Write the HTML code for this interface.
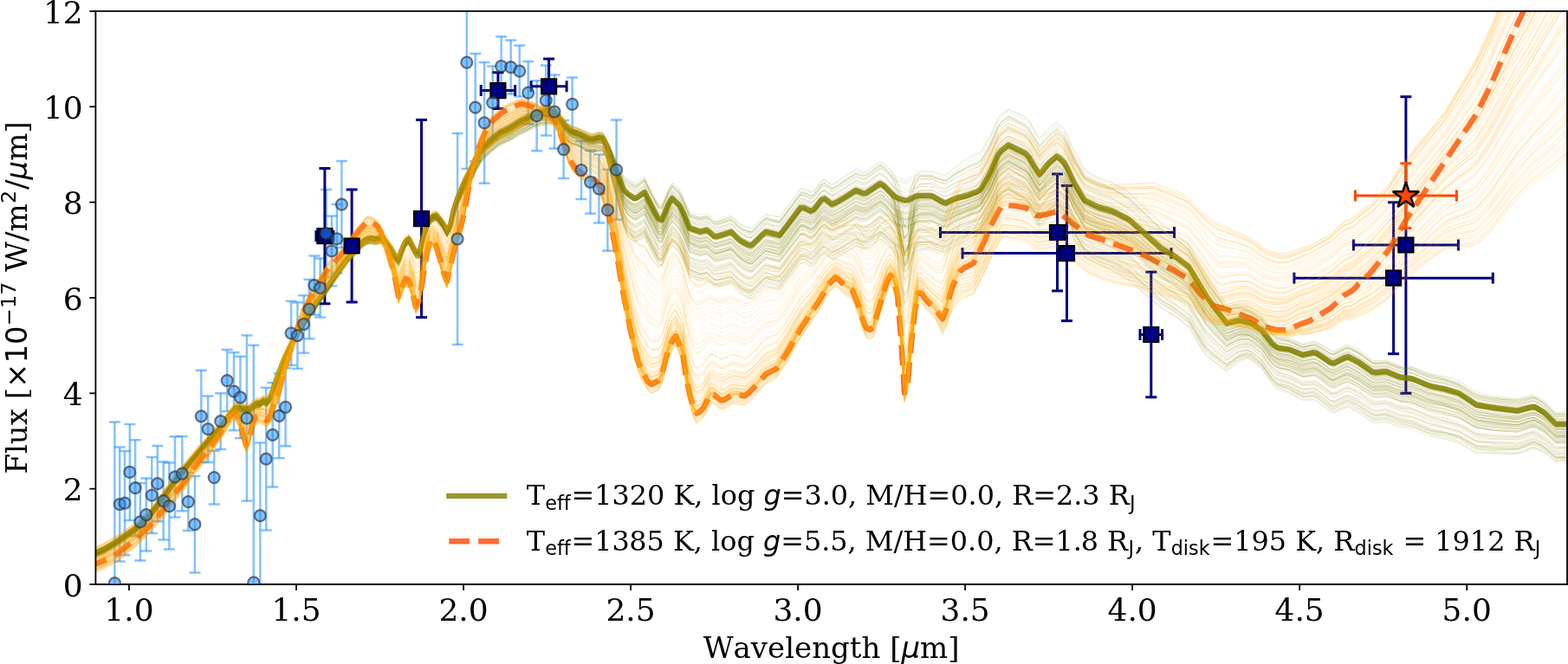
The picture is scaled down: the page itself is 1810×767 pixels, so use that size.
<!DOCTYPE html>
<html><head><meta charset="utf-8"><title>SED plot</title>
<style>html,body{margin:0;padding:0;background:#fff;overflow:hidden}svg{display:block}</style>
</head><body>
<svg width="1810px" height="767px" viewBox="0 0 1810 767" version="1.1"><defs><style type="text/css">*{stroke-linejoin: round; stroke-linecap: butt}</style></defs><g id="figure_1"><g id="patch_1"><path d="M0 767L1810 767L1810 0L0 0z" style="fill: #ffffff"/></g><g id="axes_1"><g id="patch_2"><path d="M110.4 675L1809 675L1809 12.9L110.4 12.9z" style="fill: #ffffff"/></g><g id="LineCollection_1"><path d="M132.4 768L132.4 487.4" clip-path="url(#p7e7c0ee483)" style="fill: none; stroke: #1f8fff; stroke-opacity: 0.55; stroke-width: 2.5"/><path d="M138.2 648.4L138.2 516.6" clip-path="url(#p7e7c0ee483)" style="fill: none; stroke: #1f8fff; stroke-opacity: 0.55; stroke-width: 2.5"/><path d="M144 641.3L144 520.9" clip-path="url(#p7e7c0ee483)" style="fill: none; stroke: #1f8fff; stroke-opacity: 0.55; stroke-width: 2.5"/><path d="M149.8 600.9L149.8 489.9" clip-path="url(#p7e7c0ee483)" style="fill: none; stroke: #1f8fff; stroke-opacity: 0.55; stroke-width: 2.5"/><path d="M156.1 619.2L156.1 508.2" clip-path="url(#p7e7c0ee483)" style="fill: none; stroke: #1f8fff; stroke-opacity: 0.55; stroke-width: 2.5"/><path d="M161.9 647.6L161.9 558" clip-path="url(#p7e7c0ee483)" style="fill: none; stroke: #1f8fff; stroke-opacity: 0.55; stroke-width: 2.5"/><path d="M168.8 636.6L168.8 552.6" clip-path="url(#p7e7c0ee483)" style="fill: none; stroke: #1f8fff; stroke-opacity: 0.55; stroke-width: 2.5"/><path d="M175.3 616.1L175.3 528.1" clip-path="url(#p7e7c0ee483)" style="fill: none; stroke: #1f8fff; stroke-opacity: 0.55; stroke-width: 2.5"/><path d="M181.8 602.3L181.8 515.1" clip-path="url(#p7e7c0ee483)" style="fill: none; stroke: #1f8fff; stroke-opacity: 0.55; stroke-width: 2.5"/><path d="M188.7 623.6L188.7 533.6" clip-path="url(#p7e7c0ee483)" style="fill: none; stroke: #1f8fff; stroke-opacity: 0.55; stroke-width: 2.5"/><path d="M195.4 634.6L195.4 534.6" clip-path="url(#p7e7c0ee483)" style="fill: none; stroke: #1f8fff; stroke-opacity: 0.55; stroke-width: 2.5"/><path d="M202 597.6L202 504.2" clip-path="url(#p7e7c0ee483)" style="fill: none; stroke: #1f8fff; stroke-opacity: 0.55; stroke-width: 2.5"/><path d="M210.3 590.2L210.3 504" clip-path="url(#p7e7c0ee483)" style="fill: none; stroke: #1f8fff; stroke-opacity: 0.55; stroke-width: 2.5"/><path d="M217.4 613.1L217.4 546.1" clip-path="url(#p7e7c0ee483)" style="fill: none; stroke: #1f8fff; stroke-opacity: 0.55; stroke-width: 2.5"/><path d="M224.9 661.5L224.9 549.9" clip-path="url(#p7e7c0ee483)" style="fill: none; stroke: #1f8fff; stroke-opacity: 0.55; stroke-width: 2.5"/><path d="M232.3 533.9L232.3 427.7" clip-path="url(#p7e7c0ee483)" style="fill: none; stroke: #1f8fff; stroke-opacity: 0.55; stroke-width: 2.5"/><path d="M240.1 534L240.1 457.4" clip-path="url(#p7e7c0ee483)" style="fill: none; stroke: #1f8fff; stroke-opacity: 0.55; stroke-width: 2.5"/><path d="M247.2 582.5L247.2 520.7" clip-path="url(#p7e7c0ee483)" style="fill: none; stroke: #1f8fff; stroke-opacity: 0.55; stroke-width: 2.5"/><path d="M254.7 519L254.7 454.2" clip-path="url(#p7e7c0ee483)" style="fill: none; stroke: #1f8fff; stroke-opacity: 0.55; stroke-width: 2.5"/><path d="M262.2 475.2L262.2 404" clip-path="url(#p7e7c0ee483)" style="fill: none; stroke: #1f8fff; stroke-opacity: 0.55; stroke-width: 2.5"/><path d="M270 497.1L270 407.1" clip-path="url(#p7e7c0ee483)" style="fill: none; stroke: #1f8fff; stroke-opacity: 0.55; stroke-width: 2.5"/><path d="M277.4 506.2L277.4 411.8" clip-path="url(#p7e7c0ee483)" style="fill: none; stroke: #1f8fff; stroke-opacity: 0.55; stroke-width: 2.5"/><path d="M284.9 578.6L284.9 387.4" clip-path="url(#p7e7c0ee483)" style="fill: none; stroke: #1f8fff; stroke-opacity: 0.55; stroke-width: 2.5"/><path d="M292.8 768L292.8 398.8" clip-path="url(#p7e7c0ee483)" style="fill: none; stroke: #1f8fff; stroke-opacity: 0.55; stroke-width: 2.5"/><path d="M300.3 679.9L300.3 511.5" clip-path="url(#p7e7c0ee483)" style="fill: none; stroke: #1f8fff; stroke-opacity: 0.55; stroke-width: 2.5"/><path d="M307.2 612.5L307.2 447.9" clip-path="url(#p7e7c0ee483)" style="fill: none; stroke: #1f8fff; stroke-opacity: 0.55; stroke-width: 2.5"/><path d="M314.7 562.5L314.7 442.1" clip-path="url(#p7e7c0ee483)" style="fill: none; stroke: #1f8fff; stroke-opacity: 0.55; stroke-width: 2.5"/><path d="M322.2 529.2L322.2 431.4" clip-path="url(#p7e7c0ee483)" style="fill: none; stroke: #1f8fff; stroke-opacity: 0.55; stroke-width: 2.5"/><path d="M329.6 515.3L329.6 425.3" clip-path="url(#p7e7c0ee483)" style="fill: none; stroke: #1f8fff; stroke-opacity: 0.55; stroke-width: 2.5"/><path d="M336.1 422L336.1 347.8" clip-path="url(#p7e7c0ee483)" style="fill: none; stroke: #1f8fff; stroke-opacity: 0.55; stroke-width: 2.5"/><path d="M343.4 425.9L343.4 349.3" clip-path="url(#p7e7c0ee483)" style="fill: none; stroke: #1f8fff; stroke-opacity: 0.55; stroke-width: 2.5"/><path d="M350.7 407.7L350.7 341.3" clip-path="url(#p7e7c0ee483)" style="fill: none; stroke: #1f8fff; stroke-opacity: 0.55; stroke-width: 2.5"/><path d="M357 391.3L357 322.9" clip-path="url(#p7e7c0ee483)" style="fill: none; stroke: #1f8fff; stroke-opacity: 0.55; stroke-width: 2.5"/><path d="M362.9 363.7L362.9 295.5" clip-path="url(#p7e7c0ee483)" style="fill: none; stroke: #1f8fff; stroke-opacity: 0.55; stroke-width: 2.5"/><path d="M369.6 366.5L369.6 298.5" clip-path="url(#p7e7c0ee483)" style="fill: none; stroke: #1f8fff; stroke-opacity: 0.55; stroke-width: 2.5"/><path d="M376.5 320.1L376.5 218.9" clip-path="url(#p7e7c0ee483)" style="fill: none; stroke: #1f8fff; stroke-opacity: 0.55; stroke-width: 2.5"/><path d="M382.9 330.4L382.9 249.4" clip-path="url(#p7e7c0ee483)" style="fill: none; stroke: #1f8fff; stroke-opacity: 0.55; stroke-width: 2.5"/><path d="M388.9 315.5L388.9 236.1" clip-path="url(#p7e7c0ee483)" style="fill: none; stroke: #1f8fff; stroke-opacity: 0.55; stroke-width: 2.5"/><path d="M394.4 286.1L394.4 186.1" clip-path="url(#p7e7c0ee483)" style="fill: none; stroke: #1f8fff; stroke-opacity: 0.55; stroke-width: 2.5"/><path d="M528.1 398L528.1 154" clip-path="url(#p7e7c0ee483)" style="fill: none; stroke: #1f8fff; stroke-opacity: 0.55; stroke-width: 2.5"/><path d="M538.8 195.1L538.8 -1" clip-path="url(#p7e7c0ee483)" style="fill: none; stroke: #1f8fff; stroke-opacity: 0.55; stroke-width: 2.5"/><path d="M548.7 186.3L548.7 62.1" clip-path="url(#p7e7c0ee483)" style="fill: none; stroke: #1f8fff; stroke-opacity: 0.55; stroke-width: 2.5"/><path d="M559.1 211.7L559.1 72.1" clip-path="url(#p7e7c0ee483)" style="fill: none; stroke: #1f8fff; stroke-opacity: 0.55; stroke-width: 2.5"/><path d="M568.7 160.7L568.7 76.5" clip-path="url(#p7e7c0ee483)" style="fill: none; stroke: #1f8fff; stroke-opacity: 0.55; stroke-width: 2.5"/><path d="M578.6 110.8L578.6 42.2" clip-path="url(#p7e7c0ee483)" style="fill: none; stroke: #1f8fff; stroke-opacity: 0.55; stroke-width: 2.5"/><path d="M589.7 108.6L589.7 46.6" clip-path="url(#p7e7c0ee483)" style="fill: none; stroke: #1f8fff; stroke-opacity: 0.55; stroke-width: 2.5"/><path d="M599.7 111.6L599.7 52.6" clip-path="url(#p7e7c0ee483)" style="fill: none; stroke: #1f8fff; stroke-opacity: 0.55; stroke-width: 2.5"/><path d="M609.7 143.2L609.7 71" clip-path="url(#p7e7c0ee483)" style="fill: none; stroke: #1f8fff; stroke-opacity: 0.55; stroke-width: 2.5"/><path d="M619.6 174.2L619.6 93.2" clip-path="url(#p7e7c0ee483)" style="fill: none; stroke: #1f8fff; stroke-opacity: 0.55; stroke-width: 2.5"/><path d="M630.3 156.5L630.3 75.5" clip-path="url(#p7e7c0ee483)" style="fill: none; stroke: #1f8fff; stroke-opacity: 0.55; stroke-width: 2.5"/><path d="M640 171.5L640 86.5" clip-path="url(#p7e7c0ee483)" style="fill: none; stroke: #1f8fff; stroke-opacity: 0.55; stroke-width: 2.5"/><path d="M650.6 206.1L650.6 139.1" clip-path="url(#p7e7c0ee483)" style="fill: none; stroke: #1f8fff; stroke-opacity: 0.55; stroke-width: 2.5"/><path d="M660.6 151.4L660.6 89.4" clip-path="url(#p7e7c0ee483)" style="fill: none; stroke: #1f8fff; stroke-opacity: 0.55; stroke-width: 2.5"/><path d="M671 230L671 163" clip-path="url(#p7e7c0ee483)" style="fill: none; stroke: #1f8fff; stroke-opacity: 0.55; stroke-width: 2.5"/><path d="M681.5 246.7L681.5 173.9" clip-path="url(#p7e7c0ee483)" style="fill: none; stroke: #1f8fff; stroke-opacity: 0.55; stroke-width: 2.5"/><path d="M691.4 257.5L691.4 178.5" clip-path="url(#p7e7c0ee483)" style="fill: none; stroke: #1f8fff; stroke-opacity: 0.55; stroke-width: 2.5"/><path d="M701.4 289.7L701.4 195.7" clip-path="url(#p7e7c0ee483)" style="fill: none; stroke: #1f8fff; stroke-opacity: 0.55; stroke-width: 2.5"/><path d="M711.6 253.8L711.6 138.4" clip-path="url(#p7e7c0ee483)" style="fill: none; stroke: #1f8fff; stroke-opacity: 0.55; stroke-width: 2.5"/></g><g id="line2d_1"><defs><path id="m16e5c6f021" d="M6.5 0L-6.5 -0" style="stroke: #1f8fff; stroke-opacity: 0.55; stroke-width: 2.5"/></defs><g clip-path="url(#p7e7c0ee483)"><use href="#m16e5c6f021" x="132.4" y="859.8" style="fill: #1f77b4; stroke: #1f8fff; stroke-opacity: 0.55; stroke-width: 2.5"/><use href="#m16e5c6f021" x="138.2" y="648.4" style="fill: #1f77b4; stroke: #1f8fff; stroke-opacity: 0.55; stroke-width: 2.5"/><use href="#m16e5c6f021" x="144" y="641.3" style="fill: #1f77b4; stroke: #1f8fff; stroke-opacity: 0.55; stroke-width: 2.5"/><use href="#m16e5c6f021" x="149.8" y="600.9" style="fill: #1f77b4; stroke: #1f8fff; stroke-opacity: 0.55; stroke-width: 2.5"/><use href="#m16e5c6f021" x="156.1" y="619.2" style="fill: #1f77b4; stroke: #1f8fff; stroke-opacity: 0.55; stroke-width: 2.5"/><use href="#m16e5c6f021" x="161.9" y="647.6" style="fill: #1f77b4; stroke: #1f8fff; stroke-opacity: 0.55; stroke-width: 2.5"/><use href="#m16e5c6f021" x="168.8" y="636.6" style="fill: #1f77b4; stroke: #1f8fff; stroke-opacity: 0.55; stroke-width: 2.5"/><use href="#m16e5c6f021" x="175.3" y="616.1" style="fill: #1f77b4; stroke: #1f8fff; stroke-opacity: 0.55; stroke-width: 2.5"/><use href="#m16e5c6f021" x="181.8" y="602.3" style="fill: #1f77b4; stroke: #1f8fff; stroke-opacity: 0.55; stroke-width: 2.5"/><use href="#m16e5c6f021" x="188.7" y="623.6" style="fill: #1f77b4; stroke: #1f8fff; stroke-opacity: 0.55; stroke-width: 2.5"/><use href="#m16e5c6f021" x="195.4" y="634.6" style="fill: #1f77b4; stroke: #1f8fff; stroke-opacity: 0.55; stroke-width: 2.5"/><use href="#m16e5c6f021" x="202" y="597.6" style="fill: #1f77b4; stroke: #1f8fff; stroke-opacity: 0.55; stroke-width: 2.5"/><use href="#m16e5c6f021" x="210.3" y="590.2" style="fill: #1f77b4; stroke: #1f8fff; stroke-opacity: 0.55; stroke-width: 2.5"/><use href="#m16e5c6f021" x="217.4" y="613.1" style="fill: #1f77b4; stroke: #1f8fff; stroke-opacity: 0.55; stroke-width: 2.5"/><use href="#m16e5c6f021" x="224.9" y="661.5" style="fill: #1f77b4; stroke: #1f8fff; stroke-opacity: 0.55; stroke-width: 2.5"/><use href="#m16e5c6f021" x="232.3" y="533.9" style="fill: #1f77b4; stroke: #1f8fff; stroke-opacity: 0.55; stroke-width: 2.5"/><use href="#m16e5c6f021" x="240.1" y="534" style="fill: #1f77b4; stroke: #1f8fff; stroke-opacity: 0.55; stroke-width: 2.5"/><use href="#m16e5c6f021" x="247.2" y="582.5" style="fill: #1f77b4; stroke: #1f8fff; stroke-opacity: 0.55; stroke-width: 2.5"/><use href="#m16e5c6f021" x="254.7" y="519" style="fill: #1f77b4; stroke: #1f8fff; stroke-opacity: 0.55; stroke-width: 2.5"/><use href="#m16e5c6f021" x="262.2" y="475.2" style="fill: #1f77b4; stroke: #1f8fff; stroke-opacity: 0.55; stroke-width: 2.5"/><use href="#m16e5c6f021" x="270" y="497.1" style="fill: #1f77b4; stroke: #1f8fff; stroke-opacity: 0.55; stroke-width: 2.5"/><use href="#m16e5c6f021" x="277.4" y="506.2" style="fill: #1f77b4; stroke: #1f8fff; stroke-opacity: 0.55; stroke-width: 2.5"/><use href="#m16e5c6f021" x="284.9" y="578.6" style="fill: #1f77b4; stroke: #1f8fff; stroke-opacity: 0.55; stroke-width: 2.5"/><use href="#m16e5c6f021" x="292.8" y="946.8" style="fill: #1f77b4; stroke: #1f8fff; stroke-opacity: 0.55; stroke-width: 2.5"/><use href="#m16e5c6f021" x="300.3" y="679.9" style="fill: #1f77b4; stroke: #1f8fff; stroke-opacity: 0.55; stroke-width: 2.5"/><use href="#m16e5c6f021" x="307.2" y="612.5" style="fill: #1f77b4; stroke: #1f8fff; stroke-opacity: 0.55; stroke-width: 2.5"/><use href="#m16e5c6f021" x="314.7" y="562.5" style="fill: #1f77b4; stroke: #1f8fff; stroke-opacity: 0.55; stroke-width: 2.5"/><use href="#m16e5c6f021" x="322.2" y="529.2" style="fill: #1f77b4; stroke: #1f8fff; stroke-opacity: 0.55; stroke-width: 2.5"/><use href="#m16e5c6f021" x="329.6" y="515.3" style="fill: #1f77b4; stroke: #1f8fff; stroke-opacity: 0.55; stroke-width: 2.5"/><use href="#m16e5c6f021" x="336.1" y="422" style="fill: #1f77b4; stroke: #1f8fff; stroke-opacity: 0.55; stroke-width: 2.5"/><use href="#m16e5c6f021" x="343.4" y="425.9" style="fill: #1f77b4; stroke: #1f8fff; stroke-opacity: 0.55; stroke-width: 2.5"/><use href="#m16e5c6f021" x="350.7" y="407.7" style="fill: #1f77b4; stroke: #1f8fff; stroke-opacity: 0.55; stroke-width: 2.5"/><use href="#m16e5c6f021" x="357" y="391.3" style="fill: #1f77b4; stroke: #1f8fff; stroke-opacity: 0.55; stroke-width: 2.5"/><use href="#m16e5c6f021" x="362.9" y="363.7" style="fill: #1f77b4; stroke: #1f8fff; stroke-opacity: 0.55; stroke-width: 2.5"/><use href="#m16e5c6f021" x="369.6" y="366.5" style="fill: #1f77b4; stroke: #1f8fff; stroke-opacity: 0.55; stroke-width: 2.5"/><use href="#m16e5c6f021" x="376.5" y="320.1" style="fill: #1f77b4; stroke: #1f8fff; stroke-opacity: 0.55; stroke-width: 2.5"/><use href="#m16e5c6f021" x="382.9" y="330.4" style="fill: #1f77b4; stroke: #1f8fff; stroke-opacity: 0.55; stroke-width: 2.5"/><use href="#m16e5c6f021" x="388.9" y="315.5" style="fill: #1f77b4; stroke: #1f8fff; stroke-opacity: 0.55; stroke-width: 2.5"/><use href="#m16e5c6f021" x="394.4" y="286.1" style="fill: #1f77b4; stroke: #1f8fff; stroke-opacity: 0.55; stroke-width: 2.5"/><use href="#m16e5c6f021" x="528.1" y="398" style="fill: #1f77b4; stroke: #1f8fff; stroke-opacity: 0.55; stroke-width: 2.5"/><use href="#m16e5c6f021" x="538.8" y="195.1" style="fill: #1f77b4; stroke: #1f8fff; stroke-opacity: 0.55; stroke-width: 2.5"/><use href="#m16e5c6f021" x="548.7" y="186.3" style="fill: #1f77b4; stroke: #1f8fff; stroke-opacity: 0.55; stroke-width: 2.5"/><use href="#m16e5c6f021" x="559.1" y="211.7" style="fill: #1f77b4; stroke: #1f8fff; stroke-opacity: 0.55; stroke-width: 2.5"/><use href="#m16e5c6f021" x="568.7" y="160.7" style="fill: #1f77b4; stroke: #1f8fff; stroke-opacity: 0.55; stroke-width: 2.5"/><use href="#m16e5c6f021" x="578.6" y="110.8" style="fill: #1f77b4; stroke: #1f8fff; stroke-opacity: 0.55; stroke-width: 2.5"/><use href="#m16e5c6f021" x="589.7" y="108.6" style="fill: #1f77b4; stroke: #1f8fff; stroke-opacity: 0.55; stroke-width: 2.5"/><use href="#m16e5c6f021" x="599.7" y="111.6" style="fill: #1f77b4; stroke: #1f8fff; stroke-opacity: 0.55; stroke-width: 2.5"/><use href="#m16e5c6f021" x="609.7" y="143.2" style="fill: #1f77b4; stroke: #1f8fff; stroke-opacity: 0.55; stroke-width: 2.5"/><use href="#m16e5c6f021" x="619.6" y="174.2" style="fill: #1f77b4; stroke: #1f8fff; stroke-opacity: 0.55; stroke-width: 2.5"/><use href="#m16e5c6f021" x="630.3" y="156.5" style="fill: #1f77b4; stroke: #1f8fff; stroke-opacity: 0.55; stroke-width: 2.5"/><use href="#m16e5c6f021" x="640" y="171.5" style="fill: #1f77b4; stroke: #1f8fff; stroke-opacity: 0.55; stroke-width: 2.5"/><use href="#m16e5c6f021" x="650.6" y="206.1" style="fill: #1f77b4; stroke: #1f8fff; stroke-opacity: 0.55; stroke-width: 2.5"/><use href="#m16e5c6f021" x="660.6" y="151.4" style="fill: #1f77b4; stroke: #1f8fff; stroke-opacity: 0.55; stroke-width: 2.5"/><use href="#m16e5c6f021" x="671" y="230" style="fill: #1f77b4; stroke: #1f8fff; stroke-opacity: 0.55; stroke-width: 2.5"/><use href="#m16e5c6f021" x="681.5" y="246.7" style="fill: #1f77b4; stroke: #1f8fff; stroke-opacity: 0.55; stroke-width: 2.5"/><use href="#m16e5c6f021" x="691.4" y="257.5" style="fill: #1f77b4; stroke: #1f8fff; stroke-opacity: 0.55; stroke-width: 2.5"/><use href="#m16e5c6f021" x="701.4" y="289.7" style="fill: #1f77b4; stroke: #1f8fff; stroke-opacity: 0.55; stroke-width: 2.5"/><use href="#m16e5c6f021" x="711.6" y="253.8" style="fill: #1f77b4; stroke: #1f8fff; stroke-opacity: 0.55; stroke-width: 2.5"/></g></g><g id="line2d_2"><g clip-path="url(#p7e7c0ee483)"><use href="#m16e5c6f021" x="132.4" y="487.4" style="fill: #1f77b4; stroke: #1f8fff; stroke-opacity: 0.55; stroke-width: 2.5"/><use href="#m16e5c6f021" x="138.2" y="516.6" style="fill: #1f77b4; stroke: #1f8fff; stroke-opacity: 0.55; stroke-width: 2.5"/><use href="#m16e5c6f021" x="144" y="520.9" style="fill: #1f77b4; stroke: #1f8fff; stroke-opacity: 0.55; stroke-width: 2.5"/><use href="#m16e5c6f021" x="149.8" y="489.9" style="fill: #1f77b4; stroke: #1f8fff; stroke-opacity: 0.55; stroke-width: 2.5"/><use href="#m16e5c6f021" x="156.1" y="508.2" style="fill: #1f77b4; stroke: #1f8fff; stroke-opacity: 0.55; stroke-width: 2.5"/><use href="#m16e5c6f021" x="161.9" y="558" style="fill: #1f77b4; stroke: #1f8fff; stroke-opacity: 0.55; stroke-width: 2.5"/><use href="#m16e5c6f021" x="168.8" y="552.6" style="fill: #1f77b4; stroke: #1f8fff; stroke-opacity: 0.55; stroke-width: 2.5"/><use href="#m16e5c6f021" x="175.3" y="528.1" style="fill: #1f77b4; stroke: #1f8fff; stroke-opacity: 0.55; stroke-width: 2.5"/><use href="#m16e5c6f021" x="181.8" y="515.1" style="fill: #1f77b4; stroke: #1f8fff; stroke-opacity: 0.55; stroke-width: 2.5"/><use href="#m16e5c6f021" x="188.7" y="533.6" style="fill: #1f77b4; stroke: #1f8fff; stroke-opacity: 0.55; stroke-width: 2.5"/><use href="#m16e5c6f021" x="195.4" y="534.6" style="fill: #1f77b4; stroke: #1f8fff; stroke-opacity: 0.55; stroke-width: 2.5"/><use href="#m16e5c6f021" x="202" y="504.2" style="fill: #1f77b4; stroke: #1f8fff; stroke-opacity: 0.55; stroke-width: 2.5"/><use href="#m16e5c6f021" x="210.3" y="504" style="fill: #1f77b4; stroke: #1f8fff; stroke-opacity: 0.55; stroke-width: 2.5"/><use href="#m16e5c6f021" x="217.4" y="546.1" style="fill: #1f77b4; stroke: #1f8fff; stroke-opacity: 0.55; stroke-width: 2.5"/><use href="#m16e5c6f021" x="224.9" y="549.9" style="fill: #1f77b4; stroke: #1f8fff; stroke-opacity: 0.55; stroke-width: 2.5"/><use href="#m16e5c6f021" x="232.3" y="427.7" style="fill: #1f77b4; stroke: #1f8fff; stroke-opacity: 0.55; stroke-width: 2.5"/><use href="#m16e5c6f021" x="240.1" y="457.4" style="fill: #1f77b4; stroke: #1f8fff; stroke-opacity: 0.55; stroke-width: 2.5"/><use href="#m16e5c6f021" x="247.2" y="520.7" style="fill: #1f77b4; stroke: #1f8fff; stroke-opacity: 0.55; stroke-width: 2.5"/><use href="#m16e5c6f021" x="254.7" y="454.2" style="fill: #1f77b4; stroke: #1f8fff; stroke-opacity: 0.55; stroke-width: 2.5"/><use href="#m16e5c6f021" x="262.2" y="404" style="fill: #1f77b4; stroke: #1f8fff; stroke-opacity: 0.55; stroke-width: 2.5"/><use href="#m16e5c6f021" x="270" y="407.1" style="fill: #1f77b4; stroke: #1f8fff; stroke-opacity: 0.55; stroke-width: 2.5"/><use href="#m16e5c6f021" x="277.4" y="411.8" style="fill: #1f77b4; stroke: #1f8fff; stroke-opacity: 0.55; stroke-width: 2.5"/><use href="#m16e5c6f021" x="284.9" y="387.4" style="fill: #1f77b4; stroke: #1f8fff; stroke-opacity: 0.55; stroke-width: 2.5"/><use href="#m16e5c6f021" x="292.8" y="398.8" style="fill: #1f77b4; stroke: #1f8fff; stroke-opacity: 0.55; stroke-width: 2.5"/><use href="#m16e5c6f021" x="300.3" y="511.5" style="fill: #1f77b4; stroke: #1f8fff; stroke-opacity: 0.55; stroke-width: 2.5"/><use href="#m16e5c6f021" x="307.2" y="447.9" style="fill: #1f77b4; stroke: #1f8fff; stroke-opacity: 0.55; stroke-width: 2.5"/><use href="#m16e5c6f021" x="314.7" y="442.1" style="fill: #1f77b4; stroke: #1f8fff; stroke-opacity: 0.55; stroke-width: 2.5"/><use href="#m16e5c6f021" x="322.2" y="431.4" style="fill: #1f77b4; stroke: #1f8fff; stroke-opacity: 0.55; stroke-width: 2.5"/><use href="#m16e5c6f021" x="329.6" y="425.3" style="fill: #1f77b4; stroke: #1f8fff; stroke-opacity: 0.55; stroke-width: 2.5"/><use href="#m16e5c6f021" x="336.1" y="347.8" style="fill: #1f77b4; stroke: #1f8fff; stroke-opacity: 0.55; stroke-width: 2.5"/><use href="#m16e5c6f021" x="343.4" y="349.3" style="fill: #1f77b4; stroke: #1f8fff; stroke-opacity: 0.55; stroke-width: 2.5"/><use href="#m16e5c6f021" x="350.7" y="341.3" style="fill: #1f77b4; stroke: #1f8fff; stroke-opacity: 0.55; stroke-width: 2.5"/><use href="#m16e5c6f021" x="357" y="322.9" style="fill: #1f77b4; stroke: #1f8fff; stroke-opacity: 0.55; stroke-width: 2.5"/><use href="#m16e5c6f021" x="362.9" y="295.5" style="fill: #1f77b4; stroke: #1f8fff; stroke-opacity: 0.55; stroke-width: 2.5"/><use href="#m16e5c6f021" x="369.6" y="298.5" style="fill: #1f77b4; stroke: #1f8fff; stroke-opacity: 0.55; stroke-width: 2.5"/><use href="#m16e5c6f021" x="376.5" y="218.9" style="fill: #1f77b4; stroke: #1f8fff; stroke-opacity: 0.55; stroke-width: 2.5"/><use href="#m16e5c6f021" x="382.9" y="249.4" style="fill: #1f77b4; stroke: #1f8fff; stroke-opacity: 0.55; stroke-width: 2.5"/><use href="#m16e5c6f021" x="388.9" y="236.1" style="fill: #1f77b4; stroke: #1f8fff; stroke-opacity: 0.55; stroke-width: 2.5"/><use href="#m16e5c6f021" x="394.4" y="186.1" style="fill: #1f77b4; stroke: #1f8fff; stroke-opacity: 0.55; stroke-width: 2.5"/><use href="#m16e5c6f021" x="528.1" y="154" style="fill: #1f77b4; stroke: #1f8fff; stroke-opacity: 0.55; stroke-width: 2.5"/><use href="#m16e5c6f021" x="536.19" y="-1" style="fill: #1f77b4; stroke: #1f8fff; stroke-opacity: 0.55; stroke-width: 2.5"/><use href="#m16e5c6f021" x="543.17" y="-1" style="fill: #1f77b4; stroke: #1f8fff; stroke-opacity: 0.55; stroke-width: 2.5"/><use href="#m16e5c6f021" x="548.7" y="62.1" style="fill: #1f77b4; stroke: #1f8fff; stroke-opacity: 0.55; stroke-width: 2.5"/><use href="#m16e5c6f021" x="559.1" y="72.1" style="fill: #1f77b4; stroke: #1f8fff; stroke-opacity: 0.55; stroke-width: 2.5"/><use href="#m16e5c6f021" x="568.7" y="76.5" style="fill: #1f77b4; stroke: #1f8fff; stroke-opacity: 0.55; stroke-width: 2.5"/><use href="#m16e5c6f021" x="578.6" y="42.2" style="fill: #1f77b4; stroke: #1f8fff; stroke-opacity: 0.55; stroke-width: 2.5"/><use href="#m16e5c6f021" x="589.7" y="46.6" style="fill: #1f77b4; stroke: #1f8fff; stroke-opacity: 0.55; stroke-width: 2.5"/><use href="#m16e5c6f021" x="599.7" y="52.6" style="fill: #1f77b4; stroke: #1f8fff; stroke-opacity: 0.55; stroke-width: 2.5"/><use href="#m16e5c6f021" x="609.7" y="71" style="fill: #1f77b4; stroke: #1f8fff; stroke-opacity: 0.55; stroke-width: 2.5"/><use href="#m16e5c6f021" x="619.6" y="93.2" style="fill: #1f77b4; stroke: #1f8fff; stroke-opacity: 0.55; stroke-width: 2.5"/><use href="#m16e5c6f021" x="630.3" y="75.5" style="fill: #1f77b4; stroke: #1f8fff; stroke-opacity: 0.55; stroke-width: 2.5"/><use href="#m16e5c6f021" x="640" y="86.5" style="fill: #1f77b4; stroke: #1f8fff; stroke-opacity: 0.55; stroke-width: 2.5"/><use href="#m16e5c6f021" x="650.6" y="139.1" style="fill: #1f77b4; stroke: #1f8fff; stroke-opacity: 0.55; stroke-width: 2.5"/><use href="#m16e5c6f021" x="660.6" y="89.4" style="fill: #1f77b4; stroke: #1f8fff; stroke-opacity: 0.55; stroke-width: 2.5"/><use href="#m16e5c6f021" x="671" y="163" style="fill: #1f77b4; stroke: #1f8fff; stroke-opacity: 0.55; stroke-width: 2.5"/><use href="#m16e5c6f021" x="681.5" y="173.9" style="fill: #1f77b4; stroke: #1f8fff; stroke-opacity: 0.55; stroke-width: 2.5"/><use href="#m16e5c6f021" x="691.4" y="178.5" style="fill: #1f77b4; stroke: #1f8fff; stroke-opacity: 0.55; stroke-width: 2.5"/><use href="#m16e5c6f021" x="701.4" y="195.7" style="fill: #1f77b4; stroke: #1f8fff; stroke-opacity: 0.55; stroke-width: 2.5"/><use href="#m16e5c6f021" x="711.6" y="138.4" style="fill: #1f77b4; stroke: #1f8fff; stroke-opacity: 0.55; stroke-width: 2.5"/></g></g><g id="LineCollection_2"><path d="M364.9 272.6L384.9 272.6" clip-path="url(#p7e7c0ee483)" style="fill: none; stroke: #000080; stroke-width: 3"/><path d="M406.1 284L406.1 284" clip-path="url(#p7e7c0ee483)" style="fill: none; stroke: #000080; stroke-width: 3"/><path d="M486.5 252.6L486.5 252.6" clip-path="url(#p7e7c0ee483)" style="fill: none; stroke: #000080; stroke-width: 3"/><path d="M555.2 104.6L594.6 104.6" clip-path="url(#p7e7c0ee483)" style="fill: none; stroke: #000080; stroke-width: 3"/><path d="M613.1 99.8L654.1 99.8" clip-path="url(#p7e7c0ee483)" style="fill: none; stroke: #000080; stroke-width: 3"/><path d="M1085.5 268.5L1355.5 268.5" clip-path="url(#p7e7c0ee483)" style="fill: none; stroke: #000080; stroke-width: 3"/><path d="M1111 292.6L1352 292.6" clip-path="url(#p7e7c0ee483)" style="fill: none; stroke: #000080; stroke-width: 3"/><path d="M1316 386.5L1341.6 386.5" clip-path="url(#p7e7c0ee483)" style="fill: none; stroke: #000080; stroke-width: 3"/><path d="M1562.4 283L1683.4 283" clip-path="url(#p7e7c0ee483)" style="fill: none; stroke: #000080; stroke-width: 3"/><path d="M1493.9 321.2L1723.3 321.2" clip-path="url(#p7e7c0ee483)" style="fill: none; stroke: #000080; stroke-width: 3"/></g><g id="LineCollection_3"><path d="M374.9 350.8L374.9 194.4" clip-path="url(#p7e7c0ee483)" style="fill: none; stroke: #000080; stroke-width: 3"/><path d="M406.1 349L406.1 219" clip-path="url(#p7e7c0ee483)" style="fill: none; stroke: #000080; stroke-width: 3"/><path d="M486.5 366.6L486.5 138.6" clip-path="url(#p7e7c0ee483)" style="fill: none; stroke: #000080; stroke-width: 3"/><path d="M574.9 125.4L574.9 83.8" clip-path="url(#p7e7c0ee483)" style="fill: none; stroke: #000080; stroke-width: 3"/><path d="M633.6 131.7L633.6 67.9" clip-path="url(#p7e7c0ee483)" style="fill: none; stroke: #000080; stroke-width: 3"/><path d="M1220.5 336L1220.5 201" clip-path="url(#p7e7c0ee483)" style="fill: none; stroke: #000080; stroke-width: 3"/><path d="M1231.5 370.6L1231.5 214.6" clip-path="url(#p7e7c0ee483)" style="fill: none; stroke: #000080; stroke-width: 3"/><path d="M1328.8 458.8L1328.8 314.2" clip-path="url(#p7e7c0ee483)" style="fill: none; stroke: #000080; stroke-width: 3"/><path d="M1622.9 454.3L1622.9 111.7" clip-path="url(#p7e7c0ee483)" style="fill: none; stroke: #000080; stroke-width: 3"/><path d="M1608.6 408.7L1608.6 233.7" clip-path="url(#p7e7c0ee483)" style="fill: none; stroke: #000080; stroke-width: 3"/></g><g id="line2d_3"><defs><path id="mbc5eedddb3" d="M0 6.5L0 -6.5" style="stroke: #000080; stroke-width: 3"/></defs><g clip-path="url(#p7e7c0ee483)"><use href="#mbc5eedddb3" x="364.9" y="272.6" style="fill: #1f77b4; stroke: #000080; stroke-width: 3"/><use href="#mbc5eedddb3" x="406.1" y="284" style="fill: #1f77b4; stroke: #000080; stroke-width: 3"/><use href="#mbc5eedddb3" x="486.5" y="252.6" style="fill: #1f77b4; stroke: #000080; stroke-width: 3"/><use href="#mbc5eedddb3" x="555.2" y="104.6" style="fill: #1f77b4; stroke: #000080; stroke-width: 3"/><use href="#mbc5eedddb3" x="613.1" y="99.8" style="fill: #1f77b4; stroke: #000080; stroke-width: 3"/><use href="#mbc5eedddb3" x="1085.5" y="268.5" style="fill: #1f77b4; stroke: #000080; stroke-width: 3"/><use href="#mbc5eedddb3" x="1111" y="292.6" style="fill: #1f77b4; stroke: #000080; stroke-width: 3"/><use href="#mbc5eedddb3" x="1316" y="386.5" style="fill: #1f77b4; stroke: #000080; stroke-width: 3"/><use href="#mbc5eedddb3" x="1562.4" y="283" style="fill: #1f77b4; stroke: #000080; stroke-width: 3"/><use href="#mbc5eedddb3" x="1493.9" y="321.2" style="fill: #1f77b4; stroke: #000080; stroke-width: 3"/></g></g><g id="line2d_4"><g clip-path="url(#p7e7c0ee483)"><use href="#mbc5eedddb3" x="384.9" y="272.6" style="fill: #1f77b4; stroke: #000080; stroke-width: 3"/><use href="#mbc5eedddb3" x="406.1" y="284" style="fill: #1f77b4; stroke: #000080; stroke-width: 3"/><use href="#mbc5eedddb3" x="486.5" y="252.6" style="fill: #1f77b4; stroke: #000080; stroke-width: 3"/><use href="#mbc5eedddb3" x="594.6" y="104.6" style="fill: #1f77b4; stroke: #000080; stroke-width: 3"/><use href="#mbc5eedddb3" x="654.1" y="99.8" style="fill: #1f77b4; stroke: #000080; stroke-width: 3"/><use href="#mbc5eedddb3" x="1355.5" y="268.5" style="fill: #1f77b4; stroke: #000080; stroke-width: 3"/><use href="#mbc5eedddb3" x="1352" y="292.6" style="fill: #1f77b4; stroke: #000080; stroke-width: 3"/><use href="#mbc5eedddb3" x="1341.6" y="386.5" style="fill: #1f77b4; stroke: #000080; stroke-width: 3"/><use href="#mbc5eedddb3" x="1683.4" y="283" style="fill: #1f77b4; stroke: #000080; stroke-width: 3"/><use href="#mbc5eedddb3" x="1723.3" y="321.2" style="fill: #1f77b4; stroke: #000080; stroke-width: 3"/></g></g><g id="line2d_5"><defs><path id="m9f6e1efc3e" d="M6.5 0L-6.5 -0" style="stroke: #000080; stroke-width: 3"/></defs><g clip-path="url(#p7e7c0ee483)"><use href="#m9f6e1efc3e" x="374.9" y="350.8" style="fill: #1f77b4; stroke: #000080; stroke-width: 3"/><use href="#m9f6e1efc3e" x="406.1" y="349" style="fill: #1f77b4; stroke: #000080; stroke-width: 3"/><use href="#m9f6e1efc3e" x="486.5" y="366.6" style="fill: #1f77b4; stroke: #000080; stroke-width: 3"/><use href="#m9f6e1efc3e" x="574.9" y="125.4" style="fill: #1f77b4; stroke: #000080; stroke-width: 3"/><use href="#m9f6e1efc3e" x="633.6" y="131.7" style="fill: #1f77b4; stroke: #000080; stroke-width: 3"/><use href="#m9f6e1efc3e" x="1220.5" y="336" style="fill: #1f77b4; stroke: #000080; stroke-width: 3"/><use href="#m9f6e1efc3e" x="1231.5" y="370.6" style="fill: #1f77b4; stroke: #000080; stroke-width: 3"/><use href="#m9f6e1efc3e" x="1328.8" y="458.8" style="fill: #1f77b4; stroke: #000080; stroke-width: 3"/><use href="#m9f6e1efc3e" x="1622.9" y="454.3" style="fill: #1f77b4; stroke: #000080; stroke-width: 3"/><use href="#m9f6e1efc3e" x="1608.6" y="408.7" style="fill: #1f77b4; stroke: #000080; stroke-width: 3"/></g></g><g id="line2d_6"><g clip-path="url(#p7e7c0ee483)"><use href="#m9f6e1efc3e" x="374.9" y="194.4" style="fill: #1f77b4; stroke: #000080; stroke-width: 3"/><use href="#m9f6e1efc3e" x="406.1" y="219" style="fill: #1f77b4; stroke: #000080; stroke-width: 3"/><use href="#m9f6e1efc3e" x="486.5" y="138.6" style="fill: #1f77b4; stroke: #000080; stroke-width: 3"/><use href="#m9f6e1efc3e" x="574.9" y="83.8" style="fill: #1f77b4; stroke: #000080; stroke-width: 3"/><use href="#m9f6e1efc3e" x="633.6" y="67.9" style="fill: #1f77b4; stroke: #000080; stroke-width: 3"/><use href="#m9f6e1efc3e" x="1220.5" y="201" style="fill: #1f77b4; stroke: #000080; stroke-width: 3"/><use href="#m9f6e1efc3e" x="1231.5" y="214.6" style="fill: #1f77b4; stroke: #000080; stroke-width: 3"/><use href="#m9f6e1efc3e" x="1328.8" y="314.2" style="fill: #1f77b4; stroke: #000080; stroke-width: 3"/><use href="#m9f6e1efc3e" x="1622.9" y="111.7" style="fill: #1f77b4; stroke: #000080; stroke-width: 3"/><use href="#m9f6e1efc3e" x="1608.6" y="233.7" style="fill: #1f77b4; stroke: #000080; stroke-width: 3"/></g></g><g id="LineCollection_4"><path d="M1564.4 226.1L1681.4 226.1" clip-path="url(#p7e7c0ee483)" style="fill: none; stroke: #ff4500; stroke-width: 3"/></g><g id="LineCollection_5"><path d="M1622.9 263.5L1622.9 188.7" clip-path="url(#p7e7c0ee483)" style="fill: none; stroke: #ff4500; stroke-width: 3"/></g><g id="line2d_7"><defs><path id="md04e13919b" d="M0 6.5L0 -6.5" style="stroke: #ff4500; stroke-width: 3"/></defs><g clip-path="url(#p7e7c0ee483)"><use href="#md04e13919b" x="1564.4" y="226.1" style="fill: #1f77b4; stroke: #ff4500; stroke-width: 3"/></g></g><g id="line2d_8"><g clip-path="url(#p7e7c0ee483)"><use href="#md04e13919b" x="1681.4" y="226.1" style="fill: #1f77b4; stroke: #ff4500; stroke-width: 3"/></g></g><g id="line2d_9"><defs><path id="m781b158c7f" d="M6.5 0L-6.5 -0" style="stroke: #ff4500; stroke-width: 3"/></defs><g clip-path="url(#p7e7c0ee483)"><use href="#m781b158c7f" x="1622.9" y="263.5" style="fill: #1f77b4; stroke: #ff4500; stroke-width: 3"/></g></g><g id="line2d_10"><g clip-path="url(#p7e7c0ee483)"><use href="#m781b158c7f" x="1622.9" y="188.7" style="fill: #1f77b4; stroke: #ff4500; stroke-width: 3"/></g></g><g id="matplotlib.axis_1"><g id="xtick_1"><g id="line2d_11"><defs><path id="mf60791a968" d="M0 0L0 7" style="stroke: #000000; stroke-width: 1.8"/></defs><g><use href="#mf60791a968" x="149.00" y="675" style="stroke: #000000; stroke-width: 1.8"/></g></g><g id="text_1"><text style="font-size: 36px; font-family: 'DejaVu Serif', 'Liberation Serif', serif; text-anchor: middle" x="149.00" y="717.05" transform="rotate(-0 149.00 717.05)">1.0</text></g></g><g id="xtick_2"><g id="line2d_12"><g><use href="#mf60791a968" x="342.03" y="675" style="stroke: #000000; stroke-width: 1.8"/></g></g><g id="text_2"><text style="font-size: 36px; font-family: 'DejaVu Serif', 'Liberation Serif', serif; text-anchor: middle" x="342.03" y="717.05" transform="rotate(-0 342.03 717.05)">1.5</text></g></g><g id="xtick_3"><g id="line2d_13"><g><use href="#mf60791a968" x="535.05" y="675" style="stroke: #000000; stroke-width: 1.8"/></g></g><g id="text_3"><text style="font-size: 36px; font-family: 'DejaVu Serif', 'Liberation Serif', serif; text-anchor: middle" x="535.05" y="717.05" transform="rotate(-0 535.05 717.05)">2.0</text></g></g><g id="xtick_4"><g id="line2d_14"><g><use href="#mf60791a968" x="728.07" y="675" style="stroke: #000000; stroke-width: 1.8"/></g></g><g id="text_4"><text style="font-size: 36px; font-family: 'DejaVu Serif', 'Liberation Serif', serif; text-anchor: middle" x="728.07" y="717.05" transform="rotate(-0 728.07 717.05)">2.5</text></g></g><g id="xtick_5"><g id="line2d_15"><g><use href="#mf60791a968" x="921.10" y="675" style="stroke: #000000; stroke-width: 1.8"/></g></g><g id="text_5"><text style="font-size: 36px; font-family: 'DejaVu Serif', 'Liberation Serif', serif; text-anchor: middle" x="921.10" y="717.05" transform="rotate(-0 921.10 717.05)">3.0</text></g></g><g id="xtick_6"><g id="line2d_16"><g><use href="#mf60791a968" x="1114.12" y="675" style="stroke: #000000; stroke-width: 1.8"/></g></g><g id="text_6"><text style="font-size: 36px; font-family: 'DejaVu Serif', 'Liberation Serif', serif; text-anchor: middle" x="1114.12" y="717.05" transform="rotate(-0 1114.12 717.05)">3.5</text></g></g><g id="xtick_7"><g id="line2d_17"><g><use href="#mf60791a968" x="1307.14" y="675" style="stroke: #000000; stroke-width: 1.8"/></g></g><g id="text_7"><text style="font-size: 36px; font-family: 'DejaVu Serif', 'Liberation Serif', serif; text-anchor: middle" x="1307.14" y="717.05" transform="rotate(-0 1307.14 717.05)">4.0</text></g></g><g id="xtick_8"><g id="line2d_18"><g><use href="#mf60791a968" x="1500.16" y="675" style="stroke: #000000; stroke-width: 1.8"/></g></g><g id="text_8"><text style="font-size: 36px; font-family: 'DejaVu Serif', 'Liberation Serif', serif; text-anchor: middle" x="1500.16" y="717.05" transform="rotate(-0 1500.16 717.05)">4.5</text></g></g><g id="xtick_9"><g id="line2d_19"><g><use href="#mf60791a968" x="1693.19" y="675" style="stroke: #000000; stroke-width: 1.8"/></g></g><g id="text_9"><text style="font-size: 36px; font-family: 'DejaVu Serif', 'Liberation Serif', serif; text-anchor: middle" x="1693.19" y="717.05" transform="rotate(-0 1693.19 717.05)">5.0</text></g></g><g id="text_10"><g transform="translate(811.63 760.38)"><text xml:space="preserve"><tspan x="0 34.95 55.22 74.42 94.55 105.42 125.54 147.44 169.2 182.87 204.76 215.57" y="-0.17" style="font-size: 34px; font-family: 'DejaVu Serif', 'Liberation Serif', serif">Wavelength [</tspan><tspan x="228.84" y="-0.17" style="font-style: oblique; font-size: 34px; font-family: 'DejaVu Sans', 'Liberation Sans', sans-serif">μ</tspan><tspan x="250.47 282.71" y="-0.17" style="font-size: 34px; font-family: 'DejaVu Serif', 'Liberation Serif', serif">m]</tspan></text></g></g></g><g id="matplotlib.axis_2"><g id="ytick_1"><g id="line2d_20"><defs><path id="m72302306b9" d="M0 0L-7 0" style="stroke: #000000; stroke-width: 1.8"/></defs><g><use href="#m72302306b9" x="110.4" y="675" style="stroke: #000000; stroke-width: 1.8"/></g></g><g id="text_11"><text style="font-size: 36px; font-family: 'DejaVu Serif', 'Liberation Serif', serif; text-anchor: end" x="95.7" y="688.68" transform="rotate(-0 95.7 688.68)">0</text></g></g><g id="ytick_2"><g id="line2d_21"><g><use href="#m72302306b9" x="110.4" y="564.65" style="stroke: #000000; stroke-width: 1.8"/></g></g><g id="text_12"><text style="font-size: 36px; font-family: 'DejaVu Serif', 'Liberation Serif', serif; text-anchor: end" x="95.7" y="578.33" transform="rotate(-0 95.7 578.33)">2</text></g></g><g id="ytick_3"><g id="line2d_22"><g><use href="#m72302306b9" x="110.4" y="454.3" style="stroke: #000000; stroke-width: 1.8"/></g></g><g id="text_13"><text style="font-size: 36px; font-family: 'DejaVu Serif', 'Liberation Serif', serif; text-anchor: end" x="95.7" y="467.98" transform="rotate(-0 95.7 467.98)">4</text></g></g><g id="ytick_4"><g id="line2d_23"><g><use href="#m72302306b9" x="110.4" y="343.95" style="stroke: #000000; stroke-width: 1.8"/></g></g><g id="text_14"><text style="font-size: 36px; font-family: 'DejaVu Serif', 'Liberation Serif', serif; text-anchor: end" x="95.7" y="357.63" transform="rotate(-0 95.7 357.63)">6</text></g></g><g id="ytick_5"><g id="line2d_24"><g><use href="#m72302306b9" x="110.4" y="233.6" style="stroke: #000000; stroke-width: 1.8"/></g></g><g id="text_15"><text style="font-size: 36px; font-family: 'DejaVu Serif', 'Liberation Serif', serif; text-anchor: end" x="95.7" y="247.28" transform="rotate(-0 95.7 247.28)">8</text></g></g><g id="ytick_6"><g id="line2d_25"><g><use href="#m72302306b9" x="110.4" y="123.25" style="stroke: #000000; stroke-width: 1.8"/></g></g><g id="text_16"><text style="font-size: 36px; font-family: 'DejaVu Serif', 'Liberation Serif', serif; text-anchor: end" x="95.7" y="136.93" transform="rotate(-0 95.7 136.93)">10</text></g></g><g id="ytick_7"><g id="line2d_26"><g><use href="#m72302306b9" x="110.4" y="12.9" style="stroke: #000000; stroke-width: 1.8"/></g></g><g id="text_17"><text style="font-size: 36px; font-family: 'DejaVu Serif', 'Liberation Serif', serif; text-anchor: end" x="95.7" y="26.58" transform="rotate(-0 95.7 26.58)">12</text></g></g><g id="text_18"><g transform="translate(31.75 547.61) rotate(-90)"><text xml:space="preserve"><tspan x="0 23.59 34.46 56.36 75.54 86.34" y="-0.32" style="font-size: 34px; font-family: 'DejaVu Serif', 'Liberation Serif', serif">Flux [</tspan><tspan x="99.61 128.1 149.73" y="-0.32" style="font-size: 34px; font-family: 'DejaVu Sans', 'Liberation Sans', sans-serif">×10</tspan><tspan x="171.69 191.63 206.77" y="-13.34" style="font-size: 23.8px; font-family: 'DejaVu Sans', 'Liberation Sans', sans-serif">−17</tspan><tspan x="222.84 233.65 268.6 280.05" y="-0.32" style="font-size: 34px; font-family: 'DejaVu Serif', 'Liberation Serif', serif"> W/m</tspan><tspan x="312.62" y="-13.34" style="font-size: 23.8px; font-family: 'DejaVu Sans', 'Liberation Sans', sans-serif">2</tspan><tspan x="328.69" y="-0.32" style="font-size: 34px; font-family: 'DejaVu Serif', 'Liberation Serif', serif">/</tspan><tspan x="340.14" y="-0.32" style="font-style: oblique; font-size: 34px; font-family: 'DejaVu Sans', 'Liberation Sans', sans-serif">μ</tspan><tspan x="361.78 394.02" y="-0.32" style="font-size: 34px; font-family: 'DejaVu Serif', 'Liberation Serif', serif">m]</tspan></text></g></g></g><g id="line2d_27"><path d="M100 638.5L108 638.5L112 638L120 634.5L128 629.9L136 624.9L160 608.1L172 596.1L180 586L188 575.2L192 569L204 552.6L212 542.6L236 514.2L256 492.3L264 480.9L272 471.7L276 470.8L280 472L288 472.9L292 469.1L296 466.2L300 466.1L304 462.6L308 464.5L312 459.8L320 436L328 415.1L332 406.2L344 383.1L348 376.3L360 357.8L384 322.7L392 310.7L400 299.6L412 286.2L420 278.2L424 276.2L428 275.4L432 276.2L436 275.9L440 274.4L444 278.4L448 283.1L452 288.6L456 296.1L460 300.6L464 288.1L468 279.2L472 276.1L480 291.9L484 292.7L488 275.9L492 262.5L496 253.5L500 250.1L504 249.1L508 253.8L512 259.6L516 267.8L520 259.8L524 241.9L528 229.4L536 210.3L548 186.6L556 172.4L568 160.8L576 154.1L588 148.2L596 143.3L600 140.7L620 130.7L624 129.4L632 128L640 129.6L644 134.2L652 144.7L656 148.8L660 151.8L664 153.2L668 154.3L680 160.1L684 160.6L692 158.6L696 159.4L700 167.4L704 177.2L712 199.2L720 219.2L724 223.7L732 229.1L736 227.9L740 224.7L744 222.1L756 245.7L760 252.7L764 253.9L772 235.2L776 228.9L784 236.9L788 244.4L796 263.4L808 267.5L816 265.7L820 268.7L824 272.7L828 272.8L844 267.7L852 275.7L856 278.9L864 282.9L868 283.1L880 271.1L884 267.7L900 271.7L908 261.4L924 240L928 239.8L936 243.8L940 241.7L948 231L952 229.4L960 235.7L964 234.4L976 227.5L988 219.7L996 222.9L1000 222.6L1016 212L1020 214.3L1032 226.3L1036 228.8L1044 231.4L1048 231.2L1056 227.2L1060 225.9L1072 225.9L1076 226.2L1088 233.2L1092 234.4L1100 230.4L1104 228.9L1116 225.9L1128 221.5L1132 218.8L1140 205.4L1144 197.4L1152 178.8L1156 174L1164 167.4L1184 177.4L1188 182.2L1192 189.2L1200 201.4L1204 197L1208 191.5L1212 187.3L1220 180.5L1224 183.6L1228 187.7L1232 194.5L1240 211.7L1248 225.4L1252 231.4L1264 237.4L1268 239.1L1284 243.9L1300 251.8L1304 254.4L1340 286.5L1356 296.1L1364 301.9L1372 307.9L1392 341.2L1396 347.2L1416 373.5L1428 370.5L1432 370.3L1444 373.3L1448 375.6L1456 381L1468 396.5L1472 400L1476 402L1488 403.6L1504 409.9L1512 408.2L1516 407.2L1520 408.1L1536 418.8L1540 419.4L1552 413.4L1556 412.2L1568 418.2L1580 426.5L1584 429.3L1588 430.2L1596 429.2L1600 429.1L1616 435.4L1628 437L1632 438.1L1648 444.8L1652 446.1L1668 449.4L1684 454.2L1704 467.5L1716 469.7L1728 471.5L1752 474.4L1768 470.1L1772 470.3L1780 474.9L1784 477.9L1796 489.8L1811 489.8L1811 489.8" clip-path="url(#p7e7c0ee483)" style="fill: none; stroke: #808000; stroke-opacity: 0.8; stroke-width: 6.4; stroke-linecap: square"/></g><g id="line2d_28"><path d="M100 652L108 652L112 651L124 645.6L132 641.6L136 639.1L160 619.8L176 603.5L184 594.4L200 572.3L212 557.9L216 551.9L220 545.2L232 529.6L240 520.3L252 502.3L256 497.1L260 490.8L264 482.9L268 477.5L272 476.8L276 485L284 514.2L288 505.5L292 486.8L296 481.2L300 480.1L304 482.4L308 485.7L312 480.6L316 467.5L320 459.2L328 428.6L332 415L344 377.5L348 364.7L360 340.6L368 327.9L372 321.6L376 314.5L380 308.1L384 304.8L392 297L400 286L412 269.2L424 255.9L428 256.8L432 258.9L436 261.7L440 268.9L444 279.2L448 291.4L452 305.2L456 320.8L460 342.3L464 331.7L468 321.9L472 323.6L476 336.6L480 354.6L484 347.6L492 296.2L496 278.5L500 275.9L504 286.2L508 299.3L512 314.6L516 325L524 289.5L528 273.4L532 261.7L536 244.6L540 222.2L544 203.4L548 186.5L552 172.1L556 161.7L560 152.6L568 140.6L572 136.5L580 129.6L584 127.5L600 120.3L604 120.3L608 121.3L616 124.1L624 129.1L628 131.2L632 131.8L636 134.6L640 138.3L644 146.6L656 180.7L660 188.3L664 194.3L672 200L676 202L680 202.9L684 205.3L692 213.5L700 237.5L704 254.1L712 294.3L720 341.4L728 382.6L736 415.9L740 426.5L748 441.1L752 443.9L760 439.9L764 433L768 416.9L772 402.7L776 393.7L780 388.3L784 397.2L788 407.9L792 434.9L796 455.2L800 470L804 477.3L808 475.3L812 471.1L820 455.2L824 455.7L832 462.4L836 461.9L844 456.6L848 455.6L860 457.3L864 454L872 445.8L884 432.1L896 426.1L908 408.1L924 380L944 350L948 343.4L956 329L964 320.6L968 322.8L976 330.5L980 332.5L984 335.3L992 355.2L996 370L1000 379L1004 381L1008 377.7L1016 351.4L1020 337.5L1024 324.8L1028 318.1L1032 324.7L1036 340.9L1040 390.2L1044 453.7L1048 439.8L1052 396.3L1056 359.7L1060 338.5L1064 339.1L1068 345.1L1072 349.7L1080 357.8L1088 368.4L1092 358.3L1096 342.2L1100 329.8L1108 313.9L1112 310.1L1124 303.8L1136 279.3L1144 260.7L1148 252.6L1156 237.8L1160 237L1172 237.9L1184 240.1L1188 242.2L1196 248.8L1200 249L1208 247.6L1220 244.1L1224 246.8L1252 269L1256 271.6L1276 277.9L1296 285.6L1312 291L1320 294.7L1356 312.7L1368 320L1372 322.5L1384 337.5L1388 341.9L1400 352.4L1404 354.2L1416 357.3L1444 367.7L1452 372.5L1460 377.3L1472 380.8L1476 381.3L1484 381.2L1488 380.2L1504 373.4L1512 370.4L1536 356.1L1552 340.6L1560 336.4L1564 332.9L1568 328.1L1576 320.7L1580 317.1L1584 312.8L1600 292.8L1604 287.1L1624 252.4L1704 132.3L1720 100.3L1748 35L1756 18.3L1765.3 -1L1765.3 -1" clip-path="url(#p7e7c0ee483)" style="fill: none; stroke-dasharray: 23.68,10.24; stroke-dashoffset: 0; stroke: #ff4500; stroke-opacity: 0.8; stroke-width: 6.4"/></g><g id="samples" clip-path="url(#axclip)" style="fill:none;stroke-width:1;stroke-linejoin:round"><clipPath id="axclip"><rect x="110.4" y="12.9" width="1698.6" height="662.1"/></clipPath><g style="stroke:#808000;stroke-opacity:0.13"><path d="M100 639.5l12-0.5 8-3 16-9.5 24-18.5 12-12.5 12-14.5 12-17.5 12-16 24-27.5 24-26 8-11.5 8-9 4-0.5 4 1 8 1 8-6.5 4 0 4-3.5 4 2 4-5 8-23.5 12-30.5 12-23.5 4-7 20-30 32-45.5 20-22 4-2 4-1 4 1 4 0 4-1.5 8 9 4 5.5 4 7.5 4 4.5 4-12.5 4-9.5 4-3.5 8 15 4 1 4-17 4-13 4-9 4-3 4-0.5 8 10.5 4 8.5 4-8 4-17.5 4-12 4-9.5 4-9 8-16 12-21.5 20-18.5 24-14 20-8.5 4-1 8-1.5 8 1.5 12 15 4 4 4 2.5 8 3 12 6 4 0.5 8-2 4 0.5 4 8 20 60.5 4 6.5 8 6 4-1 8-6 16 31 4 1.5 8-18.5 4-6 8 8 4 7.5 8 19.5 12 4.5 8-1.5 4 3.5 4 4 4 0.5 16-4.5 8 8.5 4 3 8 4.5 4 0.5 16-15 16 4.5 24-33.5 4-0.5 8 4 4-2.5 8-10.5 4-1.5 8 6 4-1 24-14.5 8 3 4 0 16-10 4 2.5 4 4 4 4.5 4 6 4 10.5 4 18 4 14 4-5 4-19.5 4-14.5 4-6 4-1 12-1 12 5 4 1 8-4 4-1.5 12-3 12-4 4-2.5 8-13 4-8 8-18.5 4-5 8-6 20 11.5 4 4.5 12 19 8-9.5 4-4 8-6.5 8 8 4 7 8 17.5 12 20 16 8.5 16 5 16 8 4 2.5 36 31.5 16 9.5 16 12.5 20 33 12 14.5 12 13.5 12-5.5 4-1 8 1.5 4 1.5 12 8.5 12 15.5 4 3.5 4 2 12 2 16 7.5 12-2 4 1.5 16 11.5 4 0.5 12-7 4-1.5 12 6 16 12 4 1 12-1.5 16 6 12 2.5 20 7.5 20 4 16 5 20 12.5 28 4 20 2 16-5.5 4 0 8 4 4 3 12 11 16 0"/><path d="M100 639.5l12-1 8-3 16-9 24-17 12-12 4-5 32-45 24-28.5 24-26 8-11.5 8-8.5 4-1 4 1.5 8 1 8-7 4-0.5 4-3.5 4 1.5 4-4.5 8-24 8-20.5 4-9 16-30 40-60 12-16.5 20-20.5 4-2 4-1 4 1 4-0.5 4-2 8 8.5 4 5.5 4 8 4 4 4-12.5 4-9 4-3 8 15.5 4 1 4-17 4-13.5 4-9 4-3.5 4-1 4 4.5 4 6 4 8.5 4-8 4-17.5 4-12 4-9.5 4-9 8-15.5 12-21.5 8-7.5 12-10 12-6 12-7 20-10 4-1 8-1.5 8 1 12 14.5 4 4 4 3 8 3 12 7 4 0.5 8-2 4 0.5 4 8 4 11 16 48.5 4 6.5 8 6 4-1 8-6 8 15.5 8 14.5 4 1 8-19 4-6 8 8 4 7.5 8 19.5 12 5 8-1.5 4 3 4 4.5 4 0.5 16-4 8 8 4 3.5 8 4 4 0.5 16-15.5 16 3.5 24-32.5 4 0 8 4.5 4-2 8-10.5 4-1.5 8 6.5 4-1.5 24-15 8 3.5 4 0 16-9.5 4 2.5 8 7.5 4 6.5 4 11.5 4 20 4 16 4-6 4-22.5 4-16.5 4-7 4-1 12 1 12 6 4 1 12-6.5 24-8.5 4-2 8-12.5 4-7.5 8-18 4-5 8-6 20 10.5 4 5 12 19 12-14.5 8-7 4 3 4 4 4 7 8 17.5 12 20.5 12 6.5 20 5.5 16 8.5 4 2.5 36 34.5 20 12 12 8.5 20 33.5 4 5 20 23.5 12-5 4-1 8 0.5 4 1 12 8.5 12 16 4 4 4 2 12 1.5 16 6.5 12-2 4 1.5 16 11 4 0.5 12-6 4-1 12 7 16 11.5 4 1 12-2 16 6 12 1.5 4 1 20 8.5 32 8 20 11.5 48 6.5 16-5 4 0.5 8 4.5 4 3.5 12 11.5 16-0.5"/><path d="M100 638.5l12 0 8-3 16-9 24-18 12-12 4-5 8-10.5 12-18 12-15.5 48-54 8-12 8-9 4-1 4 1 8 0.5 8-6.5 4-0.5 4-3.5 4 2 4-4.5 8-23.5 8-21 4-9 16-30 12-18.5 40-58 12-14 8-7.5 4-2 4-0.5 4 1 4 0 4-1 8 8.5 4 5.5 4 7.5 4 4.5 4-12.5 4-9.5 4-3 8 15.5 4 1 4-17 4-13.5 4-9 4-3.5 4-1 8 10 4 8.5 4-8.5 4-18 4-12.5 4-9.5 4-9.5 8-16.5 12-21 8-7.5 12-10 12-6 12-8 20-10 4-1 8-1 8 2 12 15 4 4 4 2.5 8 2 12 5 4 0 8-2 4 1 4 8 4 9.5 16 42.5 4 5 8 5.5 4-0.5 8-5.5 8 16.5 8 15 4 1.5 8-19 4-6.5 8 8 4 7.5 8 19 12 3.5 8-1.5 4 3 4 4 4 0.5 16-5.5 8 8 4 3 8 4 4 0 12-12.5 4-3.5 16 5.5 8-10 16-22 4-0.5 8 3.5 4-2.5 8-10.5 4-1.5 8 6.5 4-1 12-7 12-7.5 8 3.5 4-0.5 16-9.5 4 2.5 12 12 4 2.5 8 2 4-0.5 8-4.5 4-1.5 12 0 4 0.5 12 7 4 1.5 12-5.5 12-3 12-5 4-3 8-13.5 4-8 8-19 4-5 8-6.5 20 11.5 4 5 12 20 12-14 8-7 4 2.5 4 4 4 6.5 8 17 12 20.5 12 5.5 4 1.5 16 4 16 8 4 3 36 32 16 9.5 16 12 24 41 12 16 8 9.5 12-4 4-0.5 12 2.5 12 8.5 12 15.5 4 4 4 2 12 1 16 6 12-2.5 4 1 16 11.5 4 1 12-5.5 4-1 12 5.5 16 10.5 4 1 12-1 16 6 12 0.5 4 1.5 20 8.5 16 3 16 5 20 14 20 4 28 3 16-4.5 4 0.5 8 4 4 2.5 12 12 16 0.5"/><path d="M100 635.5l8 0 4-0.5 12-5.5 12-7.5 24-17.5 12-11.5 12-14.5 20-28 28-34 24-27 8-12 8-10 4-1 4 1 8 0.5 4-3.5 4-3 4 0.5 4-3 4 2 4-4.5 8-23.5 8-21 4-9 12-23.5 12-19 24-35 12-18.5 8-11 12-13 8-7.5 4-1.5 4-1 4 1 4 0 4-2 8 8.5 4 5.5 4 7.5 4 4.5 4-12 4-8.5 4-3 8 16 4 0.5 4-17.5 4-13.5 4-10 4-3.5 4-1.5 4 5 4 5.5 4 9 4-8 4-17.5 4-12 4-10 12-26 12-22.5 8-8 12-10.5 12-5.5 12-7 20-10.5 4-1.5 8-1.5 8 0.5 12 15 4 4 4 3 8 3 12 6.5 4 0.5 8-1.5 4 0.5 8 16.5 8 19 8 17 4 3 8 5 4-1.5 8-6 8 16.5 8 15 4 1 8-19 4-6.5 8 7.5 4 7 8 19 12 4 8-1.5 4 3 4 4 4 0.5 16-4.5 8 7.5 4 3 8 3 4 0 12-12 4-3.5 16 5 24-32 4 0 8 3.5 4-2.5 8-11 4-2.5 8 5.5 4-1.5 24-15 8 3.5 4-0.5 16-11.5 4 2 12 11.5 4 2.5 8 2 4 0 8-4.5 4-1.5 8-0.5 8 0 4 2 8 2 4 0 12-9 16-7.5 8-2.5 4-2.5 8-13.5 4-8 8-18.5 4-4.5 8-7 20 9.5 4 5 12 19.5 12-13.5 8-6 8 8.5 4 7.5 8 18.5 12 20.5 16 8 16 5 16 9 4 3 36 35 16 9.5 16 12.5 24 42 20 28.5 12-2 4 0.5 12 4 12 8.5 12 16.5 4 4 4 2 12 3.5 12 5.5 4 1.5 12-4 4 0.5 16 9.5 4 0.5 12-6 4-1 12 6 16 11.5 4 1 12-1 16 5.5 12 1 4 1 16 7 20 4.5 16 5.5 20 13.5 24 5.5 12 1.5 12 1 16-5 4 0 8 4.5 4 3 12 11.5 16 0"/><path d="M100 641l8 0 4-1 8-3.5 16-9.5 24-16 12-12.5 36-48 24-29.5 24-26.5 8-11.5 8-8.5 4-1 4 1 8 1 8-7 4-0.5 4-4 4 2 4-5 8-24 8-21.5 4-9 16-29.5 12-17.5 40-57 12-13 8-8 4-2 4-0.5 4 0.5 4 0 4-2 8 8.5 4 5.5 4 7.5 4 4 4-12.5 4-9.5 4-3 8 15.5 4 0.5 4-16.5 4-13.5 4-9 4-3.5 4-1 8 10.5 4 8.5 4-8 4-17.5 4-11.5 8-17.5 20-35.5 8-8 12-10 12-6 12-7.5 20-10 4-1.5 8-1.5 8 1 12 15.5 4 4.5 4 3 8 2.5 12 5.5 4 0.5 8-2.5 4 0.5 4 8 20 64 4 7 8 6.5 4-1 8-5.5 16 30.5 4 1.5 8-19 4-6 8 8 4 7.5 8 19.5 12 5.5 8-1 8 7.5 4 0 16-4.5 8 8 4 3 8 4.5 4 0 16-15.5 16 3 24-31 4 0 8 4 4-2.5 8-10.5 4-1.5 8 6.5 4-1 24-14 8 3.5 4-0.5 16-11.5 4 2 4 3.5 4 4 4 5.5 4 10 4 15.5 4 13 4-4.5 4-16.5 4-13 4-5.5 4-0.5 12 0.5 12 6 4 1 12-7 12-4.5 4-2 8-3 4-2.5 8-13.5 12-26.5 4-4.5 8-6 20 11 4 5 12 20 12-13.5 8-6 8 7.5 4 7 8 18 12 20.5 16 7.5 16 5 16 7.5 4 2.5 20 19 12 10.5 4 3.5 16 10.5 16 13 20 32 24 26 12-6.5 4-1.5 8 0 4 1.5 12 9 12 17 4 4 4 2.5 12 2.5 16 7.5 12-2 4 1 16 11 4 1 12-5.5 4-1 12 6.5 16 10.5 4 0.5 12-1 16 6.5 12 1.5 24 8.5 20 4.5 12 4 20 12.5 20 2.5 28 1.5 16-4 4 0 12 7.5 12 11 16-1.5"/><path d="M100 635.5l8 0 4-1 8-4 16-10 24-16 12-12.5 12-15.5 20-27.5 20-25 8-9.5 24-25 8-12 8-9 4-1 4 1.5 8 1 8-6.5 4 0 4-3.5 4 2 4-4.5 8-23.5 12-30.5 16-31 12-18.5 32-46.5 8-10.5 12-13 8-8 4-2 4-0.5 4 1 4-0.5 4-1.5 8 8.5 4 5 4 7.5 4 4 4-12.5 4-9.5 4-3 8 16 4 1 4-16.5 4-13 4-9 4-3 4-1.5 8 10 4 8 4-8.5 4-18 4-12.5 4-9.5 4-9.5 8-16 12-22 8-8 12-10.5 12-6 12-7.5 20-9.5 4-1.5 8-1.5 8 1.5 12 14.5 4 4 4 2.5 8 2 12 5.5 4 1 8-1.5 4 1 8 16.5 8 19 8 17 12 8.5 4-1 8-6 8 16 8 14.5 4 1.5 8-18.5 4-6.5 8 8.5 4 7.5 8 18.5 12 3 8-2.5 4 2.5 4 4 4 0 16-4.5 8 8.5 4 3.5 8 3 4 0 12-12.5 4-3 16 4 24-32.5 4-0.5 8 4 4-2.5 8-11 4-1.5 8 6 4-1.5 8-5 16-11 8 2.5 4-0.5 16-11.5 4 2 4 4 4 4 4 7 4 13 4 22.5 4 18.5 4-7 4-24 4-18.5 4-7.5 4-1.5 12 0 4 2 8 3 4 0.5 12-9 16-9.5 8-3 4-2.5 8-13.5 12-26.5 4-4.5 8-5.5 20 11 4 4.5 12 19 12-14.5 8-7 4 3.5 4 4.5 4 7.5 8 18.5 12 22 12 7.5 4 2 16 4.5 16 8 4 3 36 35 16 11.5 16 13 24 41.5 20 27.5 12-2 4 0 12 4.5 12 8.5 12 15.5 4 3.5 4 2.5 12 3 12 7 4 1.5 12-3 4 0.5 16 9.5 4 0 12-6.5 4-1.5 12 6 16 12 4 1 12-1 16 6 12 1.5 4 1.5 16 7 4 1 12 2.5 8 2 12 4.5 20 14 12 1.5 20 2 16 2.5 16-4 4 0 8 4 4 3 12 11 16 0"/><path d="M100 639l12-1 8-3.5 16-9 24-17.5 12-12 4-5 32-43.5 24-28 24-26 8-11 8-9.5 4-1 4 1 8 1 8-6.5 4 0 4-3.5 4 2 4-5 8-23.5 8-21 4-9 16-30 12-19 28-41.5 12-16 20-23.5 4-2 4-1 4 0.5 4-0.5 4-1 8 9 4 6 4 8 4 4.5 4-12 4-9 4-3 8 15.5 4 1 4-17.5 4-13.5 4-9 4-3.5 4-1 8 10.5 4 8 4-7.5 4-18 4-12.5 4-9.5 4-9.5 8-15.5 12-22 12-12 8-6.5 12-6 12-7 20-11 4-1.5 8-1.5 8 2 12 16 4 4 4 3 8 2.5 12 5 4 0.5 8-2 4 1 4 8 4 10 8 22 8 20 4 5 8 5.5 4-1 8-5.5 16 31.5 4 1.5 8-18 4-6 8 8.5 4 7.5 8 18.5 12 3.5 8-1.5 4 3 4 4 4 0 16-5 8 8.5 4 3 8 3.5 4 0 12-12.5 4-3 16 4.5 24-32 4-0.5 8 3.5 4-2.5 8-10.5 4-1.5 8 6.5 4-1 12-6.5 12-8 8 3 4-0.5 16-11 4 2 8 9 4 7.5 4 15 4 26.5 4 21.5 4-8 4-28 4-21 4-8.5 4-1 12 0.5 12 7 4 1 8-4.5 4-1.5 12-2.5 12-4 4-3 8-13.5 4-8 8-19 4-5.5 8-7 20 11 4 5 12 20 12-14 8-7 4 3 4 4 4 6.5 8 17 12 19.5 16 7.5 16 5.5 20 11 36 31.5 16 9 16 12.5 20 33.5 24 32.5 12-3 4-0.5 12 2.5 12 7.5 12 15.5 4 3.5 4 1.5 12 1 16 6.5 12-2.5 4 1 16 12 4 1 12-6 4-1 12 6 16 10.5 4 1 12-2 16 5 12 1.5 20 8.5 20 4.5 16 5 20 14 36 5.5 12 1.5 16-5.5 4 0 8 5 4 3 12 12.5 16 0.5"/><path d="M100 638.5l8 0 4-1 8-3.5 16-10 24-16 12-12 12-15.5 12-17.5 8-10.5 52-60 8-12 8-9.5 4-1 4 1.5 8 1.5 4-3.5 4-2.5 4 0.5 4-3.5 4 2 4-5 12-35.5 8-19.5 16-30 12-19 40-57 12-14 8-8 4-2 4-1 4 1 4-0.5 4-1.5 8 9 4 5 4 7.5 4 4.5 4-12.5 4-9 4-3 8 16.5 4 0.5 4-16.5 4-13 4-9 4-3.5 4-1 8 10 4 8 4-8.5 4-17.5 4-12.5 4-9.5 4-9 8-16 12-21.5 12-12.5 8-7 16-7.5 28-15 4-1.5 8-1.5 8 1.5 12 15 4 4.5 4 2.5 8 3 12 5.5 4 0.5 8-2.5 4 1 8 18.5 8 22 8 20 4 4 8 5.5 4-1.5 8-6 16 30 4 1.5 8-18 4-6 8 8.5 4 7 8 19 12 4 8-1.5 4 3 4 4 4 0 16-6.5 8 7 4 3 8 4 4 0 16-15 16 4 24-32 4-0.5 8 4 4-2 8-10.5 4-1.5 8 6.5 4-1 12-6 12-8 8 2.5 4-0.5 16-11.5 4 2.5 4 4.5 20 23 4-1.5 8-11 4-2.5 16 0 12 6.5 4 1 8-4.5 4-2 12-3 12-4 4-2.5 8-13.5 4-8 8-19 4-5.5 8-6.5 20 10 4 5 12 19.5 12-14 8-6.5 8 7.5 4 6.5 8 17.5 12 20 16 8 16 4 16 7.5 4 3 24 23 12 11 16 9 16 12.5 24 39.5 20 26.5 12-3.5 4 0 12 3.5 12 8.5 12 15 4 3.5 4 2 12 1 16 7 12-3 4 1 16 10 4 0.5 12-7 4-1.5 12 6 16 11.5 4 1 12 0 16 7 16 2.5 20 7 16 3.5 16 5 20 13.5 24 4.5 24 2.5 16-5 4 0 8 4.5 4 3 12 12 16 1"/><path d="M100 636l8 0.5 4-0.5 8-3.5 40-28 4-4 8-8 4-5.5 16-23 12-16 28-33 24-26 8-12 8-10 4-1 4 1 8 1 8-6 4 0 4-3.5 4 2 4-4.5 8-23.5 12-30 16-30 12-18.5 40-58.5 20-21.5 4-2.5 4-0.5 4 1 4-0.5 4-1.5 8 9 4 5.5 4 7.5 4 4.5 4-12.5 4-9 4-3 8 16 4 1 4-16.5 4-13.5 4-9 4-3 4-1 8 10.5 4 8.5 4-8 4-18 4-12.5 4-10 4-9.5 8-17 12-22.5 8-8 12-10 12-5.5 12-7.5 20-9.5 4-1.5 8-2 8 1 12 14.5 4 4 4 2.5 8 2.5 12 5.5 4 0.5 8-2 4 1 8 15.5 8 19 8 17 12 9 4-1 8-6 8 16 8 14 4 1 8-18.5 4-6.5 8 8 4 7.5 8 19.5 12 4 8-2 4 2.5 4 3.5 4 0 16-5.5 8 8.5 4 3 8 4.5 4 0 16-15.5 16 3.5 24-32 4-0.5 8 3.5 4-3 8-11.5 4-2.5 8 6.5 4-1.5 12-6.5 12-9 8 3 4-0.5 16-11 4 2 12 11.5 4 2 8 2.5 4-0.5 8-4 4-1 16 0 4 2 8 2.5 4 0 8-6 20-13.5 8-3.5 4-3 8-13.5 4-8 8-18.5 4-5 8-6.5 20 9.5 4 4.5 12 20.5 12-12.5 8-6 8 8 4 7 8 18 12 21 12 6.5 20 9 20 12 36 34.5 16 10.5 16 13.5 24 41 20 30 12-1.5 4 0 12 4.5 12 8.5 12 16.5 4 4 4 2 12 3 12 5.5 4 1.5 12-4 4 0.5 16 10 4 1 12-5.5 4-1 12 6 16 11 4 1 12-0.5 16 6 12 0.5 4 0.5 20 7.5 32 10 20 12.5 24 5.5 24 2 16-4 4 0.5 8 4.5 4 3 12 11.5 16 0"/><path d="M100 638.5l8 0 4-0.5 8-3.5 16-10 24-17 12-12 4-4.5 8-10 24-33 16-20 12-14 20-21.5 8-11.5 8-9 4-0.5 4 1 8 1 8-6.5 4 0 4-3.5 4 2 4-5 8-24 12-30 16-31 12-18.5 20-27.5 20-29.5 12-13.5 8-8 4-1.5 4-1 4 1 4-0.5 4-1.5 8 8.5 4 5.5 4 7.5 4 4.5 4-12.5 4-9 4-3 8 16 4 1 4-17 4-13 4-9.5 4-3.5 4-1 8 10.5 4 8.5 4-8.5 4-18 4-12.5 4-10 4-9.5 8-16 12-21.5 8-8 12-10.5 12-6 12-7 12-5 8-4.5 4-1.5 8-1.5 8 1.5 12 15.5 4 4.5 4 2.5 8 2.5 12 6 4 0.5 8-2 4 1 4 8 4 10 16 43.5 4 5 8 5.5 4-1 8-6 16 30.5 4 1.5 8-18.5 4-6.5 8 7.5 4 7.5 8 19 12 3.5 8-2 4 3 4 4 4 0 16-4 8 8.5 4 3 8 4.5 4 0 16-15 16 3 24-31 4 0 8 4 4-2.5 8-10.5 4-1.5 8 6 4-1 24-15.5 8 3.5 4 0 16-10.5 4 2.5 12 12.5 4 2.5 8 4 4-0.5 8-6 4-2 16 0.5 12 6.5 4 1.5 12-6 12-3.5 12-5 4-3 8-13.5 4-8 8-18 4-4.5 8-6.5 20 10.5 4 5 12 20 12-14 8-6.5 8 7 4 7 8 17.5 12 20 16 7 16 4 16 7.5 4 2.5 24 22.5 12 10 16 8.5 16 12.5 20 34 24 31.5 12-4 4-0.5 12 2 4 2 8 6 12 16.5 4 3.5 4 2 12 1 16 6.5 12-2.5 4 1 16 11.5 4 0.5 12-5.5 4-1 12 6 16 11 4 1 12-1 16 6 12 1 4 1 20 7.5 16 3.5 16 5 20 14 20 4 28 3 16-4.5 4 0 8 5 4 3 12 12.5 16-0.5"/><path d="M100 640.5l8-0.5 4-0.5 8-4 16-10 24-16.5 12-11 12-15 12-17.5 12-15.5 24-29.5 24-27.5 8-11.5 8-9 4-1 4 2 8 1.5 8-6 4 0 4-3.5 4 2 4-5 8-24 12-30 12-23.5 4-7 40-60 8-11 4-5.5 20-21.5 4-2 4-1 4 1 4-0.5 4-2 8 8.5 4 5.5 4 8 4 4.5 4-12.5 4-8.5 4-3 8 16 4 1 4-16.5 4-13.5 4-9 4-3 4-1 8 11 4 8 4-8 4-17.5 4-12 4-9.5 4-9 8-15 12-21.5 20-18.5 12-7 12-8 20-10 4-1 8-0.5 8 1.5 12 15 4 4 4 2.5 8 2.5 12 5.5 4 0.5 8-2 4 1 4 8.5 20 62 4 6 8 6 4-1 8-5.5 16 32 4 1.5 8-18.5 4-6.5 8 8 4 7.5 8 19 12 4.5 8-1 8 7.5 4 0.5 16-5.5 8 8.5 4 3.5 8 4 4 0 12-12 4-3.5 16 5 8-10 16-22.5 4-0.5 8 4 4-2 8-10.5 4-1.5 8 7 4-1 8-4.5 16-10.5 8 3 4-0.5 16-10 4 2.5 12 12 4 3 8 2.5 4-0.5 12-6 12-1 4 0.5 12 6 4 1 8-5 16-5.5 12-5 4-3 8-13.5 4-8 8-18.5 4-4.5 8-6 20 12 4 5 12 20.5 12-13.5 8-6.5 8 7.5 4 6.5 8 17.5 12 20.5 16 7.5 16 5 16 7 4 2.5 36 33 16 10.5 16 12 20 33.5 12 15 12 12.5 12-6.5 4-1 8 0.5 4 1.5 12 8 12 16 4 4 4 2.5 12 2.5 16 8 12-2 4 1 16 11.5 4 1 12-6 4-1 12 5 16 9.5 4 1 8-1 4 0 16 7 12 1.5 4 1 16 7 4 1 16 3 16 4.5 20 12.5 24 3.5 24 3 16-5.5 4-0.5 8 4.5 4 3 12 12 16 0"/><path d="M100 638.5l12-0.5 12-5.5 8-5 28-19 12-11.5 12-15 12-18 12-16 24-28.5 24-26.5 8-12 8-9 4-1 4 1 8 0.5 4-4 4-2.5 4 0 4-3.5 4 2 4-5 8-24 8-21 4-9 12-23 12-18.5 44-65 16-17.5 4-3.5 4-2 4 0 4 1 4 0 4-1 8 8.5 4 5.5 4 7.5 4 4 4-13 4-9.5 4-3.5 8 15.5 4 1 4-16.5 4-12.5 4-9 4-3 4-0.5 8 10.5 4 8 4-8.5 4-18 4-12.5 4-9.5 4-9.5 8-16 12-21.5 8-8 12-10.5 12-6 12-7.5 20-10.5 4-2 8-1.5 8 1.5 12 16 4 4.5 4 3 8 2.5 12 5.5 4 0.5 8-2.5 4 1 4 8 4 10 8 22.5 8 20 4 4 8 5 4-1 8-6 16 30.5 4 1.5 8-18.5 4-6.5 8 8 4 7 8 19 12 4 8-2 4 3 4 4 4 0 16-4.5 8 8 4 3 8 3.5 4 0.5 12-12 4-3 16 4.5 24-31.5 4 0 8 4 4-2 8-10.5 4-1.5 8 6 4-1 8-5 16-10.5 8 3 4-0.5 16-10.5 4 2.5 4 4.5 4 4 4 5.5 4 9 4 13.5 4 11 4-4 4-14.5 4-11.5 4-5 4-0.5 12 0 12 6.5 4 1 8-4.5 4-1.5 16-4 8-3 4-2.5 8-13.5 4-7.5 8-18.5 4-4.5 8-6 20 10.5 4 4.5 12 19 12-14 8-6.5 8 7 4 7 8 17 12 19 16 7.5 16 4.5 16 7.5 4 3 36 33 16 10 16 11 24 38.5 20 26 12-3 4 0 12 3.5 12 8 12 16 4 3.5 4 2 12 1 16 6 12-3 4 1 16 9.5 4 0.5 12-5.5 4-1 12 7.5 16 11 4 0.5 12-2 16 5 12 2 4 1.5 20 9 32 9.5 20 12 12 2 20 4.5 12 1.5 4 0.5 16-6 4 0 8 5 4 3 12 12.5 16 0"/><path d="M100 639l8 0.5 4-0.5 8-3.5 16-10 24-17 12-12 4-4.5 8-10.5 20-27.5 20-25.5 8-10 24-27.5 8-11 8-9 4-1 4 1.5 8 1 8-7 4 0.5 4-3.5 4 2 4-5 8-24 8-21.5 4-9 12-23 12-19 24-33.5 16-24 4-5.5 12-13 8-8 4-1.5 4-1 4 1 4-0.5 4-1.5 8 8.5 4 5.5 4 7.5 4 4.5 4-12.5 4-9 4-3 8 15.5 4 0.5 4-16.5 4-13 4-9 4-3 4-1 8 10.5 4 8 4-8 4-18.5 4-12.5 4-10 4-9.5 8-16 12-22 12-12 8-7.5 12-6 12-7.5 20-9.5 4-1.5 8-1.5 8 1 12 15 4 4 4 3 8 3.5 12 6.5 4 1 8-2 4 1 4 8 4 9.5 16 42 4 4.5 8 5.5 4-1.5 8-6 16 30.5 4 1.5 8-19 4-6.5 8 8 4 7.5 8 19 12 5 8-2 4 3 4 4 4 0 16-4.5 8 7.5 4 3 8 3.5 4 0 16-14.5 16 4.5 24-32 4 0 8 4.5 4-2 8-11 4-2 8 6 4-1.5 12-6.5 12-7.5 8 3 4-0.5 16-10.5 4 2 12 11.5 4 3 8 4.5 4-1 8-5.5 4-1.5 12 0 4 0 12 7 4 1.5 12-5.5 12-3.5 12-4 4-3 8-13 4-8 8-18.5 4-4.5 8-6.5 20 9.5 4 4.5 12 19.5 12-14 8-6 8 7.5 4 7 8 17.5 12 20 12 5.5 20 5 16 8.5 4 2.5 24 22 12 10.5 16 10 16 11.5 20 33 24 33 12-2.5 4-0.5 12 2.5 12 7.5 12 15.5 4 3.5 4 2 12 1.5 16 6.5 12-3 4 1 16 10.5 4 0.5 12-5.5 4-1.5 12 6.5 16 11 4 1 12-2 16 5.5 12 1.5 4 1.5 20 9 16 3.5 16 5 20 12.5 48 5.5 16-4 4 0.5 8 5 4 3 12 12 16 0"/><path d="M100 641.5l8 0.5 4-0.5 8-3.5 12-8 16-12 12-8 12-11 12-16 12-18 12-15.5 24-28.5 24-26 8-11.5 8-9 4-1 4 1.5 8 0.5 8-7 4 0 4-3.5 4 1.5 4-5 8-24 12-30 16-30.5 12-18 20-27 20-29 20-22 4-2 4-1 4 1 4-0.5 4-1.5 8 9 4 5.5 4 8 4 4.5 4-12.5 4-8.5 4-3 8 16.5 4 1 4-17 4-13 4-9 4-3.5 4-1 8 10 4 8 4-8 4-17.5 4-12 8-18 20-37 8-8 12-9.5 12-5 12-8 20-11.5 4-1.5 8-1 8 1.5 12 15 4 3.5 4 3 8 2.5 12 7.5 4 1 8-1 4 1 4 8 20 63 4 7 8 6 4-1 8-5.5 16 31 4 1.5 8-17.5 4-6 8 8.5 4 7.5 8 18.5 12 4.5 8-1 4 3 4 4 4 0.5 16-4.5 8 8 4 3.5 8 4 4 0.5 16-15.5 16 4 24-30 4 0 8 4.5 4-2 8-11 4-1.5 8 6 4-1.5 24-15.5 8 3 4-0.5 16-11 4 2.5 12 12.5 4 2.5 8 2.5 4 0 8-4.5 4-1.5 12 0.5 4 0 12 6 4 1 12-7.5 12-5 4-2 8-2.5 4-2.5 8-13 4-7.5 8-17.5 4-4.5 8-6 20 11 4 5 12 20 12-13.5 8-6.5 8 7.5 4 6.5 8 17.5 12 20.5 12 7 4 1.5 16 5 16 8.5 4 2.5 36 32.5 16 10 16 12 20 32.5 12 13 12 12 12-7 4-1 8 0 4 1.5 12 9 12 17 4 3.5 4 2.5 12 2 16 8 12-2 4 1 16 11.5 4 1 12-5 4-1 12 6 16 11 4 1 12-1.5 16 6.5 12 2 4 1 20 8.5 32 7.5 20 11 20 3 28 2.5 16-5.5 4 0 8 4.5 4 2.5 12 11 16-1"/><path d="M100 641l8 0 4-0.5 8-3.5 16-10 24-17.5 12-12 4-5 8-10 12-17 12-16 36-42.5 12-13 8-11.5 8-8.5 4-1 4 1.5 8 1 8-7 4 0 4-4 4 2 4-5 8-24.5 8-20.5 4-9 16-29.5 12-18.5 20-28 20-29.5 12-14.5 8-8.5 4-2 4-0.5 4 1 4 0.5 4-1 8 9.5 4 5.5 4 7.5 4 4.5 4-12.5 4-9.5 4-3.5 8 15.5 4 0.5 4-16.5 4-13.5 4-8.5 4-3.5 4-0.5 8 10.5 4 8 4-8 4-17.5 4-12.5 4-9.5 4-9 8-15.5 12-22 8-8 12-10.5 12-6.5 12-7.5 20-9 4-1.5 4 0 4-0.5 8 2.5 12 15.5 4 4 4 3 8 2 12 5.5 4 0.5 8-2.5 4 1 4 8 20 61.5 4 6.5 8 6 4-1 8-5.5 16 31 4 1.5 8-18.5 4-7 8 7.5 4 7.5 8 19 12 5 8-0.5 8 8 4 0 16-5 12 11 8 5 4 0.5 16-14 16 3 24-32.5 4 0 8 5 4-2 8-10 4-1.5 8 6 4-1.5 4-2 20-13.5 8 3 4 0 16-11 4 2.5 12 11.5 4 2 8 3 4 0 8-4 4-1 12 0 4 0 12 6 4 1 12-6.5 24-8.5 4-2.5 8-13 4-8 8-18.5 4-5 8-6 20 10.5 4 5 12 20.5 12-12.5 8-6.5 8 7 4 6.5 8 17 12 20 12 6 20 7.5 20 10.5 36 31.5 16 9.5 16 12 20 33.5 24 28 12-5.5 4-1 8 0.5 4 1.5 12 9 12 16 4 3.5 4 2.5 12 2 16 7 12-3 4 1 16 12 4 1 12-5.5 4-1 12 6.5 16 12 4 0.5 12-1.5 16 5.5 12 2 4 1 16 6.5 20 4 16 4.5 20 12.5 48 6.5 16-5 4 0 8 4 4 3 12 11 16-0.5"/><path d="M100 636l8 0.5 4-1 8-3.5 16-10 24-17 12-12 4-5 8-10 20-29 12-15 16-19 24-26 8-11 8-9.5 4-1 4 1.5 8 0.5 8-7 4 0 4-3.5 4 2 4-5 8-23.5 8-21 4-9 16-30.5 12-18 16-22.5 16-24.5 8-10.5 20-22 4-2 4-1 4 1 4-0.5 4-1 8 9.5 4 6 4 8 4 4.5 4-13 4-9 4-3 8 15.5 4 1 4-16.5 4-13 4-9 4-3.5 4-1 8 9.5 4 8 4-8 4-18 4-12.5 4-10 12-25.5 12-22 8-8 12-10.5 12-6.5 12-8 20-10 4-1.5 8-1.5 8 1 12 14.5 4 4 4 3 8 2.5 12 6.5 4 1 8-1 4 1 8 16.5 8 19.5 8 16.5 12 7 4-1 8-6 8 16 8 14.5 4 1.5 8-19 4-6.5 8 7.5 4 7.5 8 18.5 12 4 8-1.5 4 3 4 4 4 0 16-4.5 8 8 4 3.5 8 3.5 4 0 12-12.5 4-3.5 16 5.5 8-10.5 16-23 4-1 8 3.5 4-2.5 8-11 4-2 8 6.5 4-1.5 8-5 16-11.5 8 3 4-0.5 16-11 4 2.5 12 12 4 2 8 2 4-0.5 8-4.5 4-2 4 0 12 0.5 4 2.5 8 2.5 4 0.5 12-8.5 16-9 8-2.5 4-2.5 8-13.5 4-8 8-18.5 4-5 8-6.5 20 9.5 4 5 12 20 12-13 8-6 8 7.5 4 7 8 18 12 20 12 6.5 20 8.5 16 10.5 4 3 36 33.5 16 10.5 16 12.5 24 41 20 28.5 12-1.5 4 0 12 4.5 12 8.5 12 16.5 4 4 4 2.5 12 2.5 12 5.5 4 1.5 12-4 4 1 16 10 4 0.5 12-5.5 4-1 12 5.5 16 11 4 1 12-1.5 16 6.5 12 2 4 1 16 7 20 4.5 16 5.5 20 11.5 48 7 16-4 4 0 8 5.5 4 3.5 12 12.5 16 0"/><path d="M100 638l12-0.5 8-3.5 12-7 28-19 12-12 12-15.5 12-17.5 12-16 44-50 4-5 8-12 8-9 4-1 4 1.5 8 1.5 8-6 4-0.5 4-3 4 1.5 4-4.5 8-23.5 12-30.5 12-23.5 4-6.5 28-42 16-25.5 8-11 20-21 4-2 4-1 4 1 4 0 4-1 8 9 4 6 4 8 4 4.5 4-12.5 4-9 4-3 8 15.5 4 0.5 4-17 4-13 4-9 4-3 4-1 8 10 4 8 4-8 4-18 4-12.5 8-18.5 20-38.5 4-4.5 8-8 8-7 12-5 12-7 20-10 4-1.5 8-1 8 1.5 12 14.5 4 4 4 2.5 8 2.5 12 5.5 4 0.5 8-2.5 4 0.5 4 8 4 10 16 44.5 4 5 8 6 4-1.5 8-6 8 15.5 8 14 4 1 8-19 4-6 8 8 4 8 8 19 12 4 8-1.5 4 3 4 4 4 0 16-5.5 8 8 4 3 8 4 4 0 12-12.5 4-3 16 4.5 24-31.5 4 0 8 4 4-2 8-10.5 4-1.5 8 6 4-2 24-15.5 8 4 4-0.5 16-11 4 2.5 4 4 4 4.5 4 6.5 4 12.5 4 21.5 4 17 4-6 4-22.5 4-17.5 4-7 4-1 8-0.5 4 0 12 7 4 1.5 12-5.5 12-3 12-4.5 4-2.5 8-13.5 4-8 8-18 4-5 8-7 20 9 4 4.5 12 19.5 12-13.5 8-6.5 8 7.5 4 6.5 8 18 12 20 12 5.5 20 6.5 20 10 36 32.5 16 9.5 16 11.5 24 39 20 26 12-3 4-0.5 12 4 12 8.5 12 16 4 3.5 4 2 12 1.5 16 5 12-3.5 4 1 16 12 4 1 12-6 4-1 12 5.5 16 11 4 1 12-1.5 16 6.5 12 1 4 1 20 8.5 16 4 16 5 20 13.5 28 2.5 20 2.5 16-3.5 4 0 8 4.5 4 3 12 11.5 16 0.5"/><path d="M100 642.5l12-0.5 12-6 36-23.5 12-11 12-15 24-33.5 20-25.5 12-14 16-16.5 8-11.5 8-9 4-1 4 1 8 1 8-7 4 0.5 4-3.5 4 2.5 4-4 8-23 8-20.5 4-9.5 16-31 12-19 20-28 20-29 12-14 8-8 4-2 4-1 4 1 4-0.5 4-1.5 8 9.5 4 5.5 4 8 4 4.5 4-12.5 4-9 4-3.5 8 15.5 4 0.5 4-16.5 4-13.5 4-9.5 4-3.5 4-1 8 10 4 8 4-8 4-16.5 4-11 8-16.5 20-34 12-11.5 8-7 12-5 12-7.5 20-9.5 4-1 8-0.5 8 1.5 12 14.5 4 4 4 3 8 3 12 6 4 0.5 8-2.5 4 1 4 8 20 77.5 4 10 4 4.5 4 3 4-0.5 8-5 8 16.5 8 15 4 1.5 8-18 4-5.5 8 9 4 8 8 20 12 4.5 8-1.5 4 3.5 4 4 4 0.5 16-3.5 8 9 4 4 8 4.5 4 0.5 12-12 4-3 16 4.5 24-31 4-0.5 8 4 4-2 8-10.5 4-2 8 6.5 4-1 12-7 12-7.5 8 3.5 4-0.5 16-10 4 2.5 8 8 4 7 4 14.5 4 24.5 4 20 4-7.5 4-27 4-21 4-8 4-2 8-1 4 0.5 4 2 8 2.5 4 0 8-6 20-11.5 8-2 4-2 8-12.5 4-7 8-17.5 4-4 8-5 20 13 4 5 4 7.5 8 13 12-13.5 8-6.5 8 8 4 7.5 8 18.5 12 21 16 8.5 16 6 16 9.5 4 3 12 11 24 19.5 16 10.5 16 12 16 27 4 5.5 24 19.5 16-12 8-3 4 1 12 9 12 17.5 4 4.5 4 2.5 12 4 16 8.5 12-0.5 4 1.5 16 13 4 1.5 12-5.5 4-1.5 12 6 16 11 4 1 12-0.5 16 6 12 0 4 1 20 8 32 9 20 11.5 20 1 16 0 12 0.5 16-5.5 4-0.5 8 3 4 2 12 9.5 4-0.5 12 0"/><path d="M100 639l12 0 8-3.5 4-2.5 8-5 16-12 12-8 12-11 12-15.5 12-17.5 12-15.5 24-29 24-25.5 8-11.5 8-9.5 4-1 4 1 8 0.5 8-6.5 4 0 4-4 4 2 4-5 8-24 8-20.5 4-9 16-29.5 12-19 40-57 20-22 4-2 4-1 4 0.5 4 0 4-1.5 8 8.5 4 5.5 4 7.5 4 4.5 4-12.5 4-9 4-3.5 8 15.5 4 1 4-17 4-13.5 4-9 4-3.5 4-0.5 8 11 4 8.5 4-7.5 4-18 4-12 4-9.5 4-9 8-16 12-21.5 8-8.5 12-11 12-6.5 12-7.5 20-10 4-1.5 8-1 8 2 12 16 4 4.5 4 3 8 3 12 5.5 4 0.5 8-2 4 0.5 4 8 4 10 8 23.5 8 21 4 5 8 5.5 4-1.5 8-6 16 30.5 4 1.5 8-18.5 4-6 8 7.5 4 8 8 19 12 4.5 8-1.5 4 3 4 4 4 0 16-5 8 7.5 4 3.5 8 3.5 4 0 12-12 4-3.5 16 4 24-32 4-0.5 8 4 4-2 8-10.5 4-1.5 8 6.5 4-1.5 4-2 20-12.5 8 3.5 4 0 16-10 4 2 12 11 4 2 8 2 4-0.5 8-3.5 4-1 12 1 4 0.5 12 7 4 1 8-4.5 4-1.5 12-3 12-4 4-2.5 8-14 12-27.5 4-5 8-6.5 20 11.5 4 5 4 7 8 12 12-14.5 8-6.5 8 7 4 6.5 8 17 12 20 16 7.5 16 5.5 16 9 4 3 36 33 16 9.5 16 11.5 20 32.5 24 30 12-3.5 4-0.5 12 3 12 7.5 12 15.5 4 3.5 4 2.5 12 2.5 16 6.5 12-2.5 4 1 16 10.5 4 0.5 12-6.5 4-1.5 12 6 16 12 4 1 12-1 16 6 12 1.5 20 8 20 4 16 5.5 20 13 24 4 24 3 16-5.5 4 0 8 4.5 4 3 12 12.5 16 0.5"/><path d="M100 643l8 0 4-1 8-3 16-9 24-17 12-12.5 4-5 8-10 24-33 20-24.5 8-9.5 20-20 8-11.5 8-9.5 4-1.5 4 1 8 0.5 8-7.5 4 0 4-3.5 4 2 4-4.5 8-23.5 8-20.5 4-9 12-23 44-67.5 12-17 12-13.5 8-8 4-2 4-0.5 4 1 4-0.5 4-1.5 8 9 4 5.5 4 8 4 4.5 4-12.5 4-9 4-3 8 16 4 1 4-17 4-13 4-9 4-3.5 4-1 8 10 4 8 4-8 4-17 4-11 8-16.5 20-35.5 8-7.5 12-9.5 12-5 12-7.5 20-11 4-1.5 8-1.5 8 1.5 12 15.5 4 4 4 3.5 8 3 12 6.5 4 0.5 8-2.5 4 1 4 8 20 76 4 9.5 4 4 4 3.5 4-1 8-6 16 31 4 1.5 8-18 4-6 8 8.5 4 8 8 19.5 12 4 8-1 4 3.5 4 4 4 1 16-4 8 9 4 3.5 8 4.5 4 0 16-15.5 16 5 12-14.5 12-16 4 0 8 3 4-2 8-10.5 4-1.5 8 6.5 4-1 4-2 20-12 8 3.5 4 0 16-11 4 2 8 8 4 5 4 8 4 11.5 4 10 4-4 4-14 4-10.5 4-5 4-0.5 12 0.5 4 2.5 8 3 4 0 8-5.5 20-11 8-2.5 4-2 8-13 12-25 4-4 8-5 20 12 4 5 12 19.5 8-9.5 4-3.5 8-6 8 8 4 7 8 17.5 12 20.5 16 9 16 6.5 20 11.5 36 31.5 16 10 16 12.5 16 26.5 4 6 12 10.5 12 10 12-9.5 4-2.5 8-2.5 4 1.5 12 10.5 12 18.5 4 4.5 4 2.5 12 4.5 16 8.5 12-2 4 1 16 11.5 4 1 12-6 4-1.5 12 6 16 11.5 4 1 12-1 16 5.5 12 2.5 20 9 4 1.5 16 2 16 4 20 12.5 20 2 28-0.5 16-6.5 4-0.5 8 3 4 3 12 10.5 16 0.5"/><path d="M100 640.5l8 0.5 4-0.5 8-3.5 16-11 24-17 12-12 4-5 28-39 16-20 12-14 24-25.5 8-11.5 8-9.5 4-1 4 1 8 0.5 8-6.5 4 0 4-3.5 4 2.5 4-4.5 8-23 8-20.5 4-9 16-30 44-66 8-10.5 20-22.5 4-2.5 4-1 4 1 4-0.5 4-1.5 8 9 4 5.5 4 8 4 5 4-12 4-8.5 4-3 8 15.5 4 1 4-17 4-13.5 4-9 4-3.5 4-1 8 10 4 8 4-8 4-18 4-12.5 4-9.5 4-9 8-15.5 12-21 8-7.5 12-9.5 12-5.5 16-11.5 16-8.5 4-1.5 8-1 8 1.5 12 15 4 4 4 3 8 3 12 7 4 0.5 8-1.5 4 0.5 4 8 20 59.5 4 6 8 5.5 4-1.5 8-5.5 16 31.5 4 1.5 8-18.5 4-6 8 8 4 7.5 8 19 12 4 8-1.5 4 3 4 4 4 0.5 16-4.5 8 8 4 3 8 4 4 0 12-12.5 4-3.5 16 4.5 24-31 4-0.5 8 4 4-2.5 8-10.5 4-1.5 8 7 4-0.5 12-6.5 12-8 8 2.5 4 0 16-11 4 2.5 12 12.5 4 2.5 8 3 4 0 8-4 4-1.5 12-0.5 4 0 12 5 4 0.5 8-4.5 16-5 12-5 4-2.5 8-13.5 12-26 4-4.5 8-6 20 11.5 4 5 4 7 8 12 12-15 8-6.5 4 3 4 4 4 7 8 18 12 21 12 7.5 4 1.5 16 4.5 20 11 36 31.5 16 9.5 16 13 20 33 4 5 20 22.5 12-4.5 4-1 8 1 4 1.5 12 8 12 15.5 4 4 4 2 12 1.5 16 8 12-2 4 1 16 11 4 1 12-6.5 4-1.5 12 5.5 16 11.5 4 1 12-1 16 6.5 12 2 4 1.5 16 7 4 1 16 3 16 4 20 13 20 3 28 2 16-5 4 0.5 8 4.5 4 3.5 12 11.5 16-0.5"/><path d="M100 641.5l8 0.5 4-0.5 8-3.5 12-7.5 28-19.5 4-3.5 8-8 4-5 8-10.5 20-28 20-25 8-10 24-26.5 8-11 8-8.5 4-1 4 1.5 8 1.5 8-6 4 0 4-3.5 4 2 4-5 8-24 8-21.5 4-9 16-30.5 12-18.5 32-46.5 8-10.5 20-22 4-2 4-1 4 1 4-0.5 4-1.5 8 8.5 4 6 4 7.5 4 4.5 4-12.5 4-9 4-3 8 16 4 1 4-17 4-13.5 4-8.5 4-3.5 4-1 8 11 4 8.5 4-8 4-17 4-11.5 8-17 20-36.5 8-8.5 12-10.5 12-5.5 12-7.5 20-10 4-1 8-1.5 8 1 12 15.5 4 4.5 4 3 8 3 12 6 4 1 8-2.5 4 0.5 4 8 20 69.5 4 8.5 8 6.5 4-1 8-5.5 16 31 4 1.5 8-17.5 4-6 8 9 4 8 8 19 12 4.5 8-1 4 3 4 4.5 4 0 16-3.5 8 9 4 4 8 5 4 0.5 16-16.5 16 3 24-31.5 4-0.5 8 4 4-2 8-11 4-1.5 8 6.5 4-1 8-4 16-9.5 8 3.5 4 0 16-11 4 2 8 7.5 8 9 8 9.5 4-1.5 8-12 4-2.5 16 0.5 4 2 8 3 4 0.5 12-8.5 16-8 8-2.5 4-2.5 8-12.5 12-25.5 4-4 8-5.5 20 13 4 5 4 7 8 12 8-9.5 4-4 8-6 8 8 4 7.5 8 18 12 20.5 16 7.5 16 6 16 8.5 4 2.5 36 33.5 20 11.5 12 8.5 20 33.5 8 8.5 16 15 12-7.5 4-2 8-1.5 4 1.5 12 9 12 16.5 4 4 4 2.5 12 2.5 16 8 12-1 4 1.5 16 12.5 4 1.5 12-6.5 4-1 12 6 16 10.5 4 0.5 8-1.5 4 0 16 7.5 16 3.5 16 6.5 4 1 16 3 16 3.5 20 12.5 16 2.5 8 1 24 0 16-5.5 4 0 8 4 4 3 12 11.5 16-0.5"/><path d="M100 638.5l8 0.5 4-0.5 8-3.5 16-10 24-16.5 12-13 4-5 20-28 12-15.5 24-28 24-26 8-11 8-9.5 4-1 4 1 8 1 4-4 4-2.5 4 0 4-3.5 4 2 4-4.5 8-24 8-21 4-9.5 16-30 52-77 12-14 8-8.5 4-2 4-1 4 1 4 0 4-1.5 8 9 4 6 4 7.5 4 5 4-12.5 4-8.5 4-3 8 15.5 4 0.5 4-17 4-14 4-9 4-3.5 4-0.5 8 10.5 4 8.5 4-8 4-18 4-13 8-20 8-16 12-20.5 20-17 12-6 12-8 20-11 4-1.5 8-1.5 8 2 12 16 4 4 4 3.5 8 2.5 12 5 4 0.5 8-2.5 4 1 8 17.5 8 22 8 19 4 4.5 8 4.5 4-1.5 8-5.5 16 31.5 4 1.5 8-18 4-6.5 8 8 4 7.5 8 18.5 12 3 8-1.5 4 3 4 4 4 0 16-4 8 8 4 2.5 8 3.5 4 0 12-12 4-3 16 4 24-32 4 0 8 3.5 4-2 8-11 4-1.5 8 7 4-1 8-4.5 16-10 8 3.5 4-0.5 16-10.5 4 2 8 8.5 4 7.5 4 16.5 4 29.5 4 24.5 4-9 4-31.5 4-24 4-9 4-2 12 0.5 12 6.5 4 1 12-6 24-7 4-2.5 8-13 4-8 8-19 4-5 8-7 20 9.5 4 5 12 18.5 8-10 4-4 8-6 8 7.5 4 7 8 18 12 20.5 12 5 20 5.5 16 8.5 4 2.5 16 15 20 17.5 16 9 16 12 20 35.5 4 6 20 25.5 12-2.5 4-0.5 12 3 12 8 12 15 4 3.5 4 1.5 12 1 16 6.5 12-2 4 1.5 16 11 4 0.5 12-5.5 4-1 12 6.5 16 9.5 4 0.5 8-2 4 0 16 7 12 1.5 4 1 20 8.5 32 9.5 20 12.5 16 2.5 32 3 16-4 4 0.5 8 4.5 4 3.5 12 12 16 0"/><path d="M100 643l8 0 4-1 8-3.5 40-27 4-3.5 8-8.5 20-29 16-21 24-27.5 24-26 8-11.5 8-9 4-0.5 4 1.5 8 1 8-7 4-0.5 4-3.5 4 2 4-5 8-23 12-29.5 16-30 48-71.5 4-5.5 20-20.5 4-2.5 4-1 4 0.5 4-0.5 4-1.5 8 8 4 5.5 4 7.5 4 4.5 4-12 4-9 4-3 8 16 4 1 4-16.5 4-13.5 4-9 4-3.5 4-1 8 10.5 4 8.5 4-8 4-17.5 4-12 4-9 4-8.5 20-35.5 12-11.5 8-7 12-5.5 12-7.5 20-9.5 4-1.5 8-1 8 1.5 12 15 4 4 4 2.5 8 2.5 12 6 4 1 8-1.5 4 1.5 4 8 20 69.5 4 8 8 7 4-1 8-4.5 8 17 8 15 4 1.5 8-18 4-6.5 8 8.5 4 8 8 19.5 12 4.5 8-1.5 4 2.5 4 4 4 0 16-5.5 12 12 8 5.5 4 0.5 16-14.5 16 4 24-31 4 0 8 4 4-2 8-10 4-1.5 8 7 4-1.5 12-6.5 12-8 8 2.5 4-0.5 16-11 4 2.5 8 9 4 7.5 4 17 4 29.5 4 24 4-9 4-32 4-24 4-10 4-1.5 8-1 4 0.5 4 2.5 8 3.5 4 0.5 12-8 12-6 4-2.5 8-3 4-2.5 8-12 4-7 8-17 4-4.5 8-5.5 20 10.5 4 5 12 20 12-13 8-6.5 8 8 4 7 8 18 12 21 16 9.5 16 6 16 7 4 2.5 36 32.5 16 9.5 16 11.5 16 26.5 4 6 24 23.5 12-7.5 4-2 8-1 4 1.5 12 9 12 17 4 4.5 4 2.5 12 3 16 7 12-1 4 1.5 16 13 4 1 12-6.5 4-1 12 6 16 11.5 4 0.5 12-1.5 16 6 12 1 4 1 20 9 16 3.5 16 5 12 8 8 4.5 32 0 16 1.5 16-5 4 0 8 4 4 3 12 11 16-1"/><path d="M100 644l8-0.5 4-0.5 8-4 40-26.5 4-4 8-8 4-5 20-28 12-15.5 24-28.5 24-26 8-11.5 8-9.5 4-1 4 1.5 8 1 8-7 4 0 4-4 4 2 4-5 8-23.5 8-21 4-8.5 16-30 44-66 8-10.5 20-20.5 4-2 4-0.5 4 1 4-0.5 4-1 8 9 4 6 4 7.5 4 4.5 4-12.5 4-9.5 4-3.5 8 15 4 0.5 4-17 4-13 4-9 4-3.5 4-1 8 11 4 8.5 4-7.5 4-16.5 4-11 8-17 20-36.5 8-8.5 12-10.5 12-6 12-7.5 20-9 4-1 8-0.5 8 2 12 15 4 4 4 3 8 2.5 12 6.5 4 0.5 8-2 4 0.5 4 8 20 75 4 9 4 3.5 4 3 4-1.5 8-5 16 33 4 2 8-17.5 4-5.5 8 8.5 4 7.5 8 19 12 5 8-0.5 8 8 4 0 16-4.5 12 12 8 5 4 0.5 16-15 16 4 24-31.5 4 0 8 4.5 4-2 8-10 4-1.5 8 7 4-1.5 4-2.5 20-13 8 3 4-0.5 16-10.5 4 2 12 12 4 2 8 3 4-0.5 12-5.5 12-0.5 4 0 4 2.5 8 3 4 0 12-8.5 16-9 8-2 4-2 8-13 4-7.5 8-18.5 4-4.5 8-5.5 20 13.5 4 5.5 4 7.5 8 12.5 12-13.5 8-6.5 4 3.5 4 4.5 4 7 8 18 12 20.5 16 9.5 16 7 20 10.5 12 10.5 24 22 16 10 16 12 16 26.5 4 5.5 4 4 20 16.5 12-9.5 4-2.5 8-2.5 4 1.5 12 10 12 17.5 4 4.5 4 2.5 12 3.5 16 9.5 12-1 4 1.5 16 12.5 4 1 12-6.5 4-1.5 12 6.5 16 11.5 4 1 12-1.5 16 6.5 12 2 20 7 20 3 16 5.5 20 11.5 24 2 24 0.5 16-5.5 4 0 8 3.5 4 2.5 12 10 4-0.5 12 0"/><path d="M100 636.5l8-0.5 4-0.5 8-3.5 16-9.5 24-16.5 12-12 12-15.5 12-17 12-15.5 24-29 24-26 8-11.5 8-8.5 4-1 4 1.5 8 1 8-7 4-0.5 4-3.5 4 1.5 4-4.5 8-23.5 8-20.5 4-8.5 16-30 12-19.5 40-58 12-13.5 8-8 4-2 4-1 4 1 4-0.5 4-1 8 8.5 4 6 4 7.5 4 4.5 4-12.5 4-9 4-3 8 15.5 4 1 4-17 4-13.5 4-9.5 4-3.5 4-1 8 10.5 4 8.5 4-8 4-18 4-12.5 4-10 12-26 12-22.5 8-8.5 12-9 12-5.5 12-7.5 20-11 4-1 8-1 8 2 12 15 4 4 4 2.5 8 2.5 12 6 4 1 8-2 4 1 8 17 8 21 8 19 4 4 8 5 4-1.5 8-6.5 16 30.5 4 1.5 8-18.5 4-6.5 8 7.5 4 7.5 8 18.5 12 4 8-2 4 3.5 4 4 4 0 16-5.5 8 7.5 4 3.5 8 3.5 4 0.5 16-16 16 4.5 12-15 12-16.5 4-0.5 8 3 4-2 8-11 4-1.5 8 6.5 4-1.5 4-2.5 20-13 8 3.5 4-0.5 16-11 4 2.5 12 13 4 2 8 2.5 4-0.5 8-4 4-1.5 12-1 4 0 12 6 4 1 12-6.5 24-9 4-2.5 8-13 4-8 8-18.5 4-5 8-7 20 9 4 4.5 12 19 12-13.5 8-6.5 8 8 4 7 8 18 12 20 16 8.5 16 5 16 8.5 4 2.5 36 34 16 10 16 13 20 33 24 31.5 12-2 4 0.5 12 4.5 12 8.5 12 15.5 4 3.5 4 2 12 2 16 8 12-3 4 1 16 9.5 4 1 12-6 4-1 12 5.5 16 10 4 1 12-0.5 16 6.5 12 1 4 1.5 16 7 20 4.5 16 4.5 20 14 20 4.5 28 3 16-3.5 4 0.5 8 4.5 4 3 12 11.5 16-0.5"/><path d="M100 638.5l12-0.5 8-3.5 16-9 24-17 12-12 4-4.5 32-43.5 24-28.5 24-26 8-12 8-10 4-1 4 1 8 1 8-6.5 4 0 4-3 4 1.5 4-4.5 8-24 8-21.5 4-9 12-23 28-40 16-25 12-17.5 12-13.5 8-8.5 4-2 4-1 4 1 4 0 4-1.5 8 9 4 5.5 4 7.5 4 4 4-12.5 4-9 4-3 8 16 4 0.5 4-16.5 4-13.5 4-9 4-3.5 4-1 8 10.5 4 8 4-8 4-17.5 4-12.5 4-10 4-9 8-15.5 12-21.5 12-11.5 8-7 12-5.5 12-7 20-9.5 4-1 8-1 8 1.5 12 15 4 4 4 2.5 8 2.5 12 6 4 0.5 8-2 4 1 4 8 20 56 4 5 8 5 4-1 8-6 16 30.5 4 1.5 8-18 4-6 8 8 4 7.5 8 19.5 12 4 8-2 4 3 4 4 4 0 16-5 8 8 4 3.5 8 4.5 4 0 16-15 16 4.5 24-32 4 0 8 4 4-2 8-11 4-2 8 6 4-1 24-14.5 8 3.5 4-0.5 16-11 4 2.5 8 8.5 4 8 4 16 4 28 4 23 4-8 4-30 4-23 4-9 4-1.5 12-0.5 12 6.5 4 0.5 8-5 4-2 24-6.5 4-2.5 8-13 4-7.5 8-19 4-4.5 8-6.5 20 12.5 4 5 4 7.5 8 12.5 12-14.5 8-7 4 2.5 4 4 4 6.5 8 17 12 19.5 16 7.5 16 5.5 16 8.5 4 2.5 36 31.5 16 10 16 11 20 33 12 16.5 12 14.5 12-4 4-0.5 12 2.5 12 7.5 12 15.5 4 3.5 4 2 12 2 16 6.5 12-2.5 4 1 16 11.5 4 1 12-5.5 4-1.5 12 6 16 11.5 4 1 12-1 16 5 12 1.5 20 9.5 4 1 16 3 16 5 20 12.5 20 4 12 1.5 16-0.5 16-4.5 4 0 8 4.5 4 3 12 11.5 16 0.5"/><path d="M100 639l8 0 4-0.5 8-4 16-10 24-17.5 12-12 12-15 8-11.5 12-16 28-33 24-26.5 8-11 8-9 4-1 4 1.5 8 0.5 8-6.5 4 0 4-3.5 4 1.5 4-4.5 8-24 8-21.5 4-9 16-29.5 12-18.5 20-28.5 20-30.5 12-14 8-8.5 4-2 4-0.5 4 1 4-0.5 4-1.5 8 8.5 4 5.5 4 7.5 4 4 4-12.5 4-9 4-3 8 16.5 4 1 4-16.5 4-13 4-8.5 4-3.5 4-1 8 11 4 8 4-8 4-17.5 4-12.5 4-10 4-9.5 8-16.5 12-22 8-8 12-10 12-6 12-7 20-10 4-1.5 8-1 8 2 12 15.5 4 4 4 3 8 2.5 12 5.5 4 0.5 8-1.5 4 0.5 4 8 4 10 8 23 8 20 4 5 8 5 4-1.5 8-5.5 8 16.5 8 15 4 1 8-19 4-6.5 8 7.5 4 7.5 8 19.5 12 5 8-1.5 8 7 4-0.5 16-5.5 8 8.5 4 3 8 4.5 4 0.5 16-16 16 3 24-30.5 4 0.5 8 4 4-2.5 8-11 4-1.5 8 6.5 4-1.5 8-4 16-10 8 3 4-0.5 16-12 4 2.5 4 3.5 4 4.5 4 7.5 4 14 4 25.5 4 20.5 4-7.5 4-26.5 4-20 4-7.5 4-1.5 12 0.5 12 6.5 4 1 8-4.5 4-1.5 12-2.5 12-4 4-2.5 8-13.5 12-26 4-5 8-6 20 10 4 5 12 19 12-15 8-7.5 4 3 4 4 4 7 8 18 12 21 12 5.5 20 5 16 8.5 4 3 16 15.5 20 17 16 10 16 11 20 32 24 32 12-2.5 4 0 12 3 12 8 12 15.5 4 3.5 4 2 12 1.5 16 6 12-2.5 4 1 16 10.5 4 1 12-6.5 4-1 12 6.5 16 11.5 4 1 12-1.5 16 6 12 1 4 1 16 7 20 5 16 5 20 13 24 3 24 3.5 16-4.5 4 0.5 8 4 4 3 12 11.5 16 0.5"/><path d="M100 639l8 0 4-0.5 8-3.5 12-7.5 28-20 12-10.5 12-15 24-34.5 24-29.5 24-26.5 8-11.5 8-9.5 4-1 4 0.5 8 0.5 4-4 4-2.5 4 0 4-3 4 2 4-4 8-23 8-20.5 4-9 12-23.5 4-7 28-40.5 16-24.5 8-11 20-21.5 4-2 4-1 4 1 4-0.5 4-1.5 8 9 4 6 4 7.5 4 5 4-12.5 4-9 4-3 8 15.5 4 0.5 4-17.5 4-13.5 4-9 4-3.5 4-0.5 8 10.5 4 8.5 4-8 4-18 4-12.5 4-10 4-9.5 8-16.5 12-22 8-8 12-10 12-6.5 12-8 20-9.5 4-1 8-1 8 1.5 12 14.5 4 4 4 3 8 3 12 6.5 4 1 8-2 4 1 4 8 4 9.5 8 22 8 19.5 4 4.5 8 5 4-1 8-6 16 30 4 1.5 8-18.5 4-6 8 8 4 7.5 8 19.5 12 4 8-2 4 3 4 4 4 0 16-5 8 8 4 3.5 8 4 4 0 16-16.5 16 3.5 24-30.5 4 0 8 3.5 4-2.5 8-10 4-1.5 8 6.5 4-1.5 24-15 8 4 4-0.5 16-11 4 2 12 11.5 4 2.5 8 3.5 4 0 12-4.5 16-0.5 12 6.5 4 1.5 12-5.5 12-3 12-5 4-2.5 8-13.5 4-7.5 8-18 4-4.5 8-6.5 20 10 4 4.5 4 7 8 12 12-15 8-7 4 3 4 4 4 7 8 18 12 20 12 5.5 20 5.5 16 8 4 2.5 36 34 16 8.5 16 11.5 20 33.5 24 32.5 12-2.5 4-0.5 12 2.5 12 7.5 12 15 4 3.5 4 2.5 12 2 16 6.5 12-2.5 4 1 16 10.5 4 0.5 12-6 4-1 12 7 16 11.5 4 0.5 12-1.5 16 5 12 0.5 4 1 20 8.5 16 4 16 5 20 13.5 24 5.5 24 3 16-6 4-0.5 8 4.5 4 3 12 12.5 16 0.5"/><path d="M100 641l8-0.5 4-0.5 8-3.5 16-9 24-17 12-12 12-15.5 12-17.5 12-16 24-30 12-14 12-12.5 8-11 8-9 4-1 4 1 8 0.5 4-3.5 4-2.5 4 0 4-3 4 2.5 4-4.5 8-23.5 8-21 4-9 16-30.5 12-18.5 32-47 8-10.5 20-22 4-2 4-1 4 0.5 4-0.5 4-1.5 8 9 4 5.5 4 7.5 4 4.5 4-12.5 4-9 4-3 8 16 4 1 4-17 4-13 4-9 4-3.5 4-0.5 8 10.5 4 8.5 4-8.5 4-17.5 4-12 4-10 8-16.5 16-28.5 12-12 8-6.5 12-6 12-8 20-10 4-1 8-1 8 2 12 15 4 4 4 2.5 8 2.5 12 5.5 4 0.5 8-2 4 1 4 7.5 20 61.5 4 6.5 8 6 4-1 8-6 16 30.5 4 1 8-18 4-6.5 8 8 4 7.5 8 19 12 4.5 8-1 4 3.5 4 4 4 0.5 16-5 8 8.5 4 3.5 8 4 4 0.5 12-12 4-3.5 16 4 24-32 4 0 8 4.5 4-2 8-9.5 4-1.5 8 7 4-1.5 4-2.5 20-14 8 3 4-0.5 16-10.5 4 2.5 12 12.5 4 2.5 8 3 4 0 12-5.5 16-1 12 5.5 4 0.5 8-4.5 28-10.5 4-2.5 8-13 4-8 8-18 4-5 8-6 20 12 4 5 4 7 8 12.5 8-10.5 4-4 8-6.5 8 7.5 4 7 8 18 12 19.5 12 5.5 20 7.5 20 11 36 32 12 6.5 8 5.5 12 10.5 20 32.5 24 27 12-5 4-1 8 1 4 1 12 8 12 15 4 3.5 4 2 12 2.5 16 8 12-1 4 1 16 11.5 4 0.5 12-6 4-1 12 6 16 10.5 4 1 12-1 16 7 16 2.5 16 6 20 4 16 6.5 20 13 48 4.5 16-5.5 4 0 8 4 4 3 12 11.5 16 0"/><path d="M100 635.5l12-1.5 8-3.5 16-8.5 24-16.5 12-12.5 12-15.5 8-12 16-21.5 24-29 24-26.5 8-11.5 8-9.5 4-1 4 1 8 1.5 8-6.5 4 0 4-3.5 4 2 4-5 8-24 8-20.5 4-8.5 16-29 12-19 32-46.5 8-10.5 20-22 4-2.5 4-1 4 0.5 4-0.5 4-1.5 8 8.5 4 6 4 7.5 4 4.5 4-12.5 4-8.5 4-3 8 15.5 4 1 4-17 4-13.5 4-9 4-3.5 4-1.5 4 5 4 5.5 4 8.5 4-8 4-17.5 4-12.5 4-10 12-26 12-22.5 8-8 12-9.5 12-5.5 12-7.5 20-10.5 4-1.5 8-1.5 8 2 12 15 4 3.5 4 2.5 8 2 12 5.5 4 0.5 8-2 4 1 8 16.5 8 19.5 8 16.5 4 3 8 4.5 4-1 8-6 8 16.5 8 15 4 1 8-18.5 4-6.5 8 8 4 7.5 8 19.5 12 4.5 8-2 4 3 4 3.5 4 0 16-5.5 8 7.5 4 3 8 3.5 4 0 12-12.5 4-3 16 4 24-33.5 4 0 8 4.5 4-2 8-11 4-2 8 5.5 4-1.5 24-14.5 8 3 4-0.5 16-12.5 4 2 8 8 4 4.5 4 6 8 16 4-2.5 4-10 4-7.5 4-3.5 16-0.5 4 2 8 2.5 4 0.5 12-8.5 16-8 8-2.5 4-2.5 8-13.5 4-8 8-19 4-5.5 8-6.5 20 10 4 4.5 12 19.5 4-4 4-5 4-3.5 8-5.5 8 8.5 4 7 8 18 12 20.5 16 7.5 16 6 16 9 4 2.5 36 35 16 10.5 16 13.5 20 35 24 33.5 12-2 4 0.5 12 4.5 12 9 12 16 4 3.5 4 2 12 2 16 6.5 12-3 4 1 16 12 4 0.5 12-5.5 4-1 12 5.5 16 11.5 4 1 12-1 16 6 12 0.5 4 1 16 6 20 4 16 6.5 20 13 20 3 28 3.5 16-4.5 4 0.5 8 4.5 4 3 12 11.5 16 0"/><path d="M100 640l8-0.5 4-0.5 8-4 16-9.5 24-17.5 12-12 12-15.5 8-12 12-15.5 24-26.5 28-33.5 8-11.5 8-9 4-0.5 4 1.5 8 1 8-7 4 0 4-3.5 4 1.5 4-4.5 8-23.5 8-20.5 4-8.5 16-30 12-19.5 40-57 12-14.5 8-8.5 4-2 4-1 4 0.5 4 0 4-1.5 8 9 4 5.5 4 7.5 4 4.5 4-12.5 4-9 4-3 8 16 4 1 4-17 4-13 4-9 4-3.5 4-1 8 10.5 4 8.5 4-8.5 4-17.5 4-12.5 4-9.5 4-9.5 8-15.5 12-21.5 8-7.5 12-10 12-6 12-7.5 20-9 4-1.5 8-1 8 1 12 14.5 4 3.5 4 2.5 8 2 12 6 4 0.5 8-1.5 4 0.5 4 8.5 20 59 4 5.5 8 5.5 4-1 8-6.5 16 31 4 1 8-18.5 4-6 8 8.5 4 8 8 19.5 12 4 8-2 4 3 4 3.5 4 0 16-4.5 8 8.5 4 3 8 4.5 4 0.5 12-11.5 4-3 16 4 24-32 4 0 8 4.5 4-2.5 8-11 4-2 8 6 4-1.5 24-14.5 8 3.5 4 0 16-10.5 4 2.5 8 8 4 7 4 14 4 25 4 20.5 4-7.5 4-27 4-20.5 4-8 4-1.5 12-0.5 12 6.5 4 1 8-3.5 16-4.5 12-4.5 4-2.5 8-13.5 12-26.5 4-5 8-6 20 11 4 5 12 19.5 12-14 8-6.5 8 7.5 4 6.5 8 17 12 19.5 16 7.5 16 6 20 11 20 16.5 16 14.5 16 10.5 16 12 20 33.5 8 10.5 16 18.5 12-5 4-0.5 8 1 4 1 12 8.5 12 15.5 4 3.5 4 2 12 2 16 7.5 12-2.5 4 1 16 10.5 4 0.5 12-5.5 4-1 12 6 16 11 4 1 12-1.5 16 7 12 2 4 1 20 8.5 32 6.5 20 13 16 2.5 32 4 16-5.5 4-0.5 8 4 4 3 12 12 16 0.5"/><path d="M100 639.5l8 0 4-0.5 8-3.5 16-10 24-15.5 12-12 4-5 8-10.5 12-18 12-16.5 24-28 24-25.5 8-11.5 8-9 4-1.5 4 1 8 1 4-4 4-2.5 4 0 4-3.5 4 2 4-4.5 8-24 8-21.5 4-9 12-23.5 4-6.5 28-41 12-18.5 12-17.5 12-13.5 8-8 4-2 4-1 4 1 4-0.5 4-1.5 8 9 4 6 4 7.5 4 4.5 4-12.5 4-9 4-3 8 15.5 4 0.5 4-17 4-13.5 4-9.5 4-3.5 4-1.5 4 4.5 4 6 4 8 4-8 4-17.5 4-12 4-9 4-9.5 8-15 12-21.5 8-8 12-10 12-5 12-7 20-11 4-1.5 8-1 8 2 12 15 4 4 4 3 8 3 12 6.5 4 0.5 8-2 4 0.5 4 7.5 4 11 16 45 4 5.5 8 6 4-1 8-6 16 31.5 4 2 8-18 4-6.5 8 7.5 4 7.5 8 19 12 4 8-1.5 4 3 4 3.5 4 0 16-5 8 8 4 3.5 8 4.5 4 0 16-15.5 16 4 24-31 4-0.5 8 4 4-2.5 8-10.5 4-1.5 8 7 4-1 12-6 12-8 8 3 4-0.5 16-10.5 4 2 12 12.5 4 2.5 8 2.5 4-0.5 8-5 4-1.5 12 0 4 0 12 7 4 1 12-6 12-3.5 12-4.5 4-2.5 8-13.5 4-8 8-18.5 4-4.5 8-6.5 20 10.5 4 5 12 20 12-14.5 8-7.5 4 3 4 4 4 6.5 8 17.5 12 21 12 6.5 20 7 16 8.5 4 2.5 24 22 12 10 16 8.5 16 12.5 20 33.5 4 6 12 15 8 9 12-4.5 4-1 12 2.5 12 8 12 15.5 4 4 4 2 12 2 16 6.5 12-2 4 1 16 10 4 1 12-6 4-1 12 7 16 11.5 4 0.5 12-1.5 16 6 12 1 4 1 20 7.5 16 3.5 16 5.5 20 15 20 3 28 1.5 16-4.5 4 0.5 8 4.5 4 3 12 12 16-1"/><path d="M100 641l8-0.5 4-1 12-6 12-7 24-17 12-11.5 12-15 24-34.5 48-54 8-11.5 8-8.5 4-0.5 4 1.5 8 1.5 8-6.5 4 0 4-3.5 4 1.5 4-5 8-24.5 8-21 4-9 16-29.5 44-66.5 8-11 20-20.5 4-2 4-0.5 4 0.5 4-0.5 4-1.5 8 9 4 5.5 4 8 4 4.5 4-12.5 4-9 4-3 8 15 4 1 4-17 4-13.5 4-9 4-3 4-1 8 10.5 4 8 4-8 4-17.5 4-12 8-18 20-36 8-8.5 12-10 12-5 24-16 8-4.5 4-1 4-0.5 4 0 8 2 12 16.5 4 4 4 3 8 2.5 12 4.5 4 0.5 8-2 4 1 4 8 20 65 4 7 8 7 4-1 8-5 8 16.5 8 14 4 1 8-18.5 4-6.5 8 8.5 4 7.5 8 19.5 12 4.5 8-1.5 8 7 4 0 16-5.5 12 12.5 8 5 4 0.5 16-15 16 4 24-31 4-0.5 8 4 4-2 8-10 4-1.5 8 6.5 4-1 12-6 12-8.5 8 2.5 4-0.5 16-11 4 2.5 12 12.5 4 2 8 2.5 4-0.5 8-4 4-1.5 12-0.5 4 0 12 6 4 1 12-7 16-7 8-2.5 4-2.5 8-13 12-25.5 4-4.5 8-6 20 11.5 4 4.5 12 19 8-10 4-4 8-6 8 8 4 7.5 8 17.5 12 20 16 8.5 16 5 16 8 4 3 16 16 16 14 4 3 16 9 16 11.5 20 33.5 12 14 12 13 12-6.5 4-1.5 8-0.5 4 1 12 9 12 17 4 4 4 2 12 3 16 7.5 12-2 4 1 16 11 4 1 12-6.5 4-1.5 12 6 16 11.5 4 1 12-0.5 16 6.5 12 1 4 1 20 8 16 3.5 16 5 20 13 20 3 28 1 16-5 4 0 8 4 4 2.5 12 11.5 16-0.5"/><path d="M100 635l12 0 8-3 12-7 8-5 20-15 12-13 4-4.5 28-37 28-34.5 12-14.5 12-12.5 8-10.5 8-9 4-1 4 1.5 8 0.5 8-7.5 4-0.5 4-3.5 4 1.5 4-4.5 8-24 8-20.5 4-8.5 12-22.5 44-67 12-17 12-13.5 8-7.5 4-2 4-1 4 1 4-0.5 4-1.5 8 9 4 6 4 7.5 4 4.5 4-12 4-9.5 4-3 8 15 4 0.5 4-17 4-13.5 4-9 4-3.5 4-1 8 10.5 4 8 4-7.5 4-17.5 4-12.5 8-19 12-24 8-15 8-8.5 12-10.5 16-7 28-16 4-2 8-1 8 1.5 12 16.5 4 4.5 4 3 8 2.5 12 5 4 0.5 8-2.5 4 1 8 16.5 8 20 8 17.5 4 3.5 8 4.5 4-1.5 8-6.5 16 31 4 1.5 8-18.5 4-6.5 8 7.5 4 7.5 8 19 12 4 8-2 4 2.5 4 4 4-0.5 16-5 8 8 4 3 8 4 4 0 16-15.5 16 3.5 24-31.5 4 0 8 4.5 4-2.5 8-10.5 4-2 8 6 4-1.5 12-7 12-8 8 2.5 4-1 16-12.5 4 2 4 4 20 20.5 4-1 8-9.5 4-2 12-1.5 4 0 4 2.5 8 2.5 4 0 12-9 16-7.5 8-2 4-2.5 8-13.5 12-27 4-5 8-7 12 5 8 4.5 4 5 12 21.5 12-13.5 8-6.5 4 3 4 4 4 7 8 17.5 12 20 16 8 16 6.5 16 9.5 4 3 36 35 16 10 16 13 24 42 20 27 12-2 4 0 12 4.5 12 8.5 12 16.5 4 4 4 2.5 12 2.5 16 6.5 12-3.5 4 0.5 16 10 4 0.5 12-6.5 4-1 12 6 16 12 4 1.5 12-1 16 6 12 2 4 1 20 7.5 16 3.5 16 4.5 20 13.5 20 4 28 2 16-4 4 0 8 5 4 3 12 12.5 16-1"/><path d="M100 643.5l8 0 4-0.5 8-3.5 16-9 24-16.5 12-12.5 4-5 32-44 48-55.5 8-11.5 8-8.5 4-0.5 4 1 8 1 8-7 4-0.5 4-3 4 2 4-4.5 8-23.5 12-30 16-31 12-18 20-27.5 20-29.5 12-14 8-8 4-2 4-0.5 4 1 4-0.5 4-2 8 8.5 4 5 4 7.5 4 4.5 4-12.5 4-9 4-3 8 16.5 4 1.5 4-16.5 4-13 4-8.5 4-3.5 4-1 8 9.5 4 8 4-8.5 4-17 4-11.5 8-17 20-36 8-7.5 12-10 12-5.5 12-7.5 20-9.5 4-1 8-1 8 1.5 12 15 4 4.5 4 2.5 8 2.5 12 6 4 1 8-1.5 4 1 4 8 20 77 4 9.5 4 4.5 4 3 4-0.5 8-5.5 8 16.5 8 15 4 1.5 8-17.5 4-6 8 9 4 7.5 8 20 12 5.5 8-1 8 7.5 4 0 16-4 8 8.5 4 3.5 8 4.5 4 0.5 16-15 16 3.5 24-31 4 0 8 5 4-1.5 8-9.5 4-1.5 8 6 4-1.5 24-15.5 8 3 4 0 16-11.5 4 2 8 8 4 5 4 7.5 8 20.5 4-3 4-13 4-9.5 4-4.5 4-0.5 12 1 4 2.5 4 1 4 1.5 4 0 12-9.5 16-10 8-2.5 4-2 8-13 12-25 4-4.5 8-5 20 13.5 4 5.5 12 21 12-13 8-6 8 7.5 4 7 8 17.5 12 20 16 10 20 8.5 12 6 4 2.5 36 32 16 10 16 12 16 27 4 6 8 7 16 12.5 12-9 4-2.5 8-2 4 1.5 12 9 12 17.5 4 4.5 4 2.5 12 3.5 16 8.5 12-1.5 4 1 16 14.5 4 2 16-7 12 5 16 11.5 4 1 12-1.5 16 6 12 1.5 20 8 20 4.5 12 4 4 1 20 10 20 2 28 1.5 16-6 4-0.5 8 3 4 2.5 12 10 4-0.5 12 0"/><path d="M100 640l12-0.5 12-5 12-7 24-18 12-12.5 4-5 8-10.5 12-17 12-15.5 24-27.5 24-26 8-11.5 8-9 4-1 4 1 8 1 8-6 4 0 4-3.5 4 1.5 4-5 8-24.5 8-21.5 4-9 16-30.5 40-60 12-16.5 12-13 8-8 4-1.5 4-1 4 1 4-0.5 4-2 8 8.5 4 5.5 4 7.5 4 4.5 4-12.5 4-9 4-3 8 15.5 4 0.5 4-16.5 4-13.5 4-9 4-3 4-0.5 8 10.5 4 8.5 4-8 4-17 4-12 8-18 20-37.5 8-8 12-10.5 12-5.5 12-8 20-10 4-1 8-1.5 8 2 12 15 4 4.5 4 2.5 8 2.5 12 5.5 4 0.5 8-2 4 0.5 4 8.5 20 60.5 4 6 8 6 4-1 8-5.5 16 32 4 1.5 8-18.5 4-6.5 8 8 4 7 8 19 12 4 8-1.5 4 3.5 4 4 4 0.5 16-4 8 8 4 3 8 3.5 4 0.5 12-12 4-3.5 16 4.5 24-31 4 0 8 4 4-2.5 8-11 4-1.5 8 6.5 4-1 8-4.5 16-10 8 3 4-0.5 16-10 4 2.5 8 9 4 6.5 4 12.5 4 22 4 17.5 4-6.5 4-23.5 4-18 4-7 4-1.5 12-0.5 12 6.5 4 1 12-6.5 16-6.5 8-2.5 4-2.5 8-13 4-7.5 8-18.5 4-4.5 8-6 20 10 4 4.5 12 19.5 8-9.5 4-4 8-5.5 8 7.5 4 7 8 17 12 19.5 16 8 16 5.5 20 10.5 36 31 16 9.5 16 12 20 33.5 24 28 12-4.5 4-0.5 8 0.5 4 1.5 12 8 12 16 4 4 4 2.5 12 2 16 7 12-1.5 4 1 16 11.5 4 1 12-6 4-1.5 12 5.5 16 11 4 1 12-1 16 6.5 12 1.5 4 1.5 20 8 16 3 16 4.5 20 12 48 6.5 16-5.5 4 0 8 4 4 2.5 12 11.5 16 0"/><path d="M100 638.5l8 0 4-0.5 8-4 16-10 24-16.5 12-12.5 4-5 28-38 24-30 12-13.5 16-16.5 8-11 8-9 4-1 4 1 8 1 8-7 4-0.5 4-3.5 4 1.5 4-5 8-23.5 8-20.5 4-9 12-22.5 16-25.5 32-47 8-11 16-17.5 4-4 4-1.5 4-0.5 4 0.5 4 0 4-1.5 8 8 4 5.5 4 7.5 4 4.5 4-12.5 4-9 4-3 8 16 4 0.5 4-16.5 4-13.5 4-9.5 4-3.5 4-1 4 4.5 4 6 4 8.5 4-8 4-17.5 4-12.5 4-9.5 4-9 8-16 12-22 12-11.5 8-6 12-5.5 12-7.5 20-11.5 4-1.5 8-1 8 2 12 15 4 4 4 2.5 8 2.5 12 5.5 4 0 8-2.5 4 1 4 8 4 10 8 22.5 8 20.5 4 4.5 8 5.5 4-1 8-5.5 8 16.5 8 14.5 4 1 8-19 4-6.5 8 7.5 4 7 8 19 12 4 8-1 8 7.5 4 0.5 16-5.5 8 8 4 3 8 4 4 0 12-13 4-3 16 4 24-31 4-0.5 8 4.5 4-2.5 8-10.5 4-2 8 6.5 4-1.5 8-4.5 16-10 8 3 4 0 16-10.5 4 2.5 12 12.5 12 10 4-0.5 8-7.5 4-1.5 16 0 12 6.5 4 1 12-6.5 24-8 4-2.5 8-13.5 4-8 8-18.5 4-4.5 8-6.5 20 11.5 4 5 12 19 12-14 8-7 4 3 4 3.5 4 7 8 17 12 20 16 7 16 5 16 7.5 4 2.5 20 19 12 10.5 4 3 16 9.5 16 13 20 33.5 8 11 16 20.5 12-3 4-0.5 12 3 12 7.5 12 15.5 4 3.5 4 2 12 2 16 7 12-2.5 4 1 16 11 4 0.5 12-6.5 4-1.5 12 6 16 11.5 4 0.5 12-1.5 16 6 12 1.5 4 1 20 8.5 32 8 20 12.5 28 5 20 3 16-4.5 4 0 8 4 4 3 12 12 16 1"/><path d="M100 641l8 0 4-0.5 8-3.5 16-9.5 24-17.5 12-12.5 36-47 28-34 20-23 8-11.5 8-9 4-0.5 4 1 8 1 8-6.5 4 0 4-3.5 4 2 4-5 8-24 8-21.5 4-9 12-22.5 32-47.5 20-31 4-5.5 12-13 8-7.5 4-1.5 4-1 4 1 4-0.5 4-1.5 8 8.5 4 5.5 4 7.5 4 4.5 4-12.5 4-9 4-3.5 8 16 4 1 4-17 4-13.5 4-9 4-3 4-1 8 11 4 9 4-8 4-17 4-12 8-18 20-38 8-8.5 12-10 16-7 28-16.5 4-1.5 8-1 8 1.5 12 14.5 4 4 4 3 8 2.5 12 6.5 4 1 8-1.5 4 1 4 8 20 62 4 6.5 8 6.5 4-1 8-5 8 16.5 8 15 4 1 8-19 4-6.5 8 8.5 4 7.5 8 20 12 4.5 8-1.5 4 3 4 4 4 0 16-4.5 8 8 4 3.5 8 4.5 4 0.5 16-15 16 4.5 8-10 16-22.5 4-0.5 8 4 4-2 8-10.5 4-1.5 8 6.5 4-1.5 12-6 12-7.5 8 2.5 4-0.5 16-11 4 2.5 4 4 4 4.5 4 6.5 4 10 4 16 4 13 4-5 4-17.5 4-13.5 4-5.5 4-1 12 0 12 5.5 4 1 12-7 16-6.5 8-3 4-2.5 8-13 12-26 4-4.5 8-5.5 20 12 4 5 12 20 12-13 8-7 8 7 4 6.5 8 16.5 12 19.5 16 8 16 6.5 16 8.5 4 2.5 36 34 16 8.5 16 11 20 33 4 5 20 22 12-5 4-1 8 1 4 1.5 12 8.5 12 16 4 3.5 4 2.5 12 2 16 6.5 12-2 4 1 16 11.5 4 1 12-5.5 4-1.5 12 6 16 11.5 4 1 12-1.5 16 6 12 2 4 1 20 8.5 16 3 16 4.5 20 13.5 8 1 24 1 16 2.5 16-5 4 0 8 4.5 4 3 12 12 16-1"/><path d="M100 638.5l8 0 4-1 8-3.5 16-9 24-15.5 12-12 12-16.5 12-17.5 12-15.5 24-28.5 24-26.5 8-11.5 8-9 4-1 4 1 8 0.5 8-7 4 0 4-3 4 2 4-4.5 8-23.5 12-29.5 16-31 12-18.5 20-28 20-29.5 12-13.5 8-7.5 4-2 4-1 4 0.5 4-0.5 4-1.5 8 8 4 5.5 4 7.5 4 4.5 4-12.5 4-8.5 4-3 8 16 4 0.5 4-16.5 4-13.5 4-9.5 4-3.5 4-1 4 4.5 4 6 4 8 4-8 4-17.5 4-12 8-18.5 20-39 4-4.5 8-8 8-7 16-7 28-14.5 4-1.5 8-1 8 2.5 12 15 4 4 4 2.5 8 1.5 12 5 4 0 8-2 4 1.5 4 8 4 10.5 8 23 8 21 4 5 8 5.5 4-1 8-6 8 16 8 14 4 1.5 8-18.5 4-6.5 8 8 4 7 8 18.5 12 3.5 8-1.5 4 3 4 4 4 0.5 16-5.5 8 8 4 3 8 4.5 4 0.5 16-15 16 4 24-31 4-0.5 8 4.5 4-2.5 8-10.5 4-2 8 7 4-1.5 8-4 16-10.5 8 3.5 4-0.5 16-11 4 2.5 4 4 4 4 4 5.5 4 10 4 15 4 13 4-4.5 4-17 4-13 4-5.5 4-1 12 0.5 12 7.5 4 1 12-5.5 12-3 12-5 4-2.5 8-13.5 12-26 4-5 8-6 20 10.5 4 5 4 7 8 11.5 12-15.5 8-7 4 3 4 4 4 7 8 17.5 12 20.5 16 9 16 4 16 7.5 4 2.5 36 32.5 16 9.5 16 11.5 20 32.5 24 31.5 12-3 4 0 12 3.5 12 8.5 12 15.5 4 3.5 4 2.5 12 1.5 16 6 12-2.5 4 1 16 10.5 4 1 12-6.5 4-1.5 12 6 16 11.5 4 1 12-1 16 7 12 1 4 1 16 5.5 20 4 16 5.5 20 14.5 20 3.5 28 3 16-4.5 4 0 8 4.5 4 3 12 12 16 0"/><path d="M100 639l8 0 4-0.5 12-5.5 8-5 28-19 12-11.5 12-14.5 12-17.5 12-16 24-30 24-26 8-11.5 8-9 4-1 4 1.5 8 1 8-6 4 0 4-3 4 2 4-5 8-24 8-21 4-9 16-30 44-68 8-11 20-21 4-2 4-0.5 4 0.5 4 0 4-1.5 8 8.5 4 5.5 4 7.5 4 4.5 4-13 4-9 4-3 8 16.5 4 0.5 4-16.5 4-13.5 4-9 4-3.5 4-1 4 4.5 4 5.5 4 8.5 4-8 4-17.5 4-12.5 4-9.5 4-9 8-16 12-21 8-8 12-10.5 12-6 12-8 20-10 4-1 8-1 8 2 12 15 4 4 4 2.5 8 2 12 5.5 4 0.5 8-1.5 4 1 4 8 4 11 8 23.5 8 22 4 5 8 5.5 4-1 8-5.5 8 16 8 14.5 4 1 8-18.5 4-6.5 8 8.5 4 7.5 8 19.5 12 4.5 8-2 4 2.5 4 3.5 4 0 16-4.5 8 8.5 4 3 8 4.5 4 0.5 16-15.5 16 3.5 24-31.5 4 0 8 3.5 4-2.5 8-10.5 4-2 8 6.5 4-1.5 24-14 8 3.5 4-0.5 16-10.5 4 2.5 4 4 4 4 4 6 4 10 4 16.5 4 13.5 4-4.5 4-17.5 4-13.5 4-5.5 4-0.5 12 0 12 6.5 4 1 12-6.5 24-9.5 4-2.5 8-13 4-8 8-18 4-5 8-6 20 11 4 4.5 12 19 8-9.5 4-4 8-6.5 8 7.5 4 6.5 8 17 12 19 16 7.5 16 6 16 8 4 2.5 36 32.5 16 10 16 12 20 33.5 24 30 12-4 4-0.5 12 2 12 8 12 16 4 3.5 4 2.5 12 1.5 16 6.5 12-2 4 1 16 11 4 0.5 12-6.5 4-1.5 12 6.5 16 12 4 1 12-1 16 6 12 1 4 1 20 8.5 16 3.5 16 4.5 20 13 24 5.5 8 1 12 0.5 4 0 16-5.5 4 0 8 4.5 4 3 12 11.5 16 0.5"/><path d="M100 636.5l12 0 8-3 16-10 24-18.5 12-12 4-4.5 8-10 24-33.5 24-29 24-26 8-11 8-9.5 4-1 4 1 8 0.5 4-3.5 4-3 4 0.5 4-3.5 4 2 4-4.5 8-24 8-21 4-8.5 12-23 12-18.5 36-53.5 8-11 20-21.5 4-2.5 4-1 4 1 4-0.5 4-1.5 8 8.5 4 5.5 4 7.5 4 4.5 4-12 4-9 4-2.5 8 16 4 1 4-17 4-13 4-9 4-3.5 4-1 8 9.5 4 8 4-8.5 4-18 4-12.5 4-9.5 4-9.5 8-16.5 12-22.5 8-8.5 12-11 12-5.5 12-7 20-9.5 4-1.5 8-1.5 8 1 12 15.5 4 4 4 3.5 8 3 12 6.5 4 0.5 8-2 4 0.5 8 17 8 20 8 18.5 4 3.5 8 5.5 4-1 8-6 8 16.5 8 14.5 4 1 8-19 4-6.5 8 7.5 4 7.5 8 19 12 4 8-2 4 2.5 4 4 4-0.5 16-5.5 12 12 8 4.5 4 0.5 16-16 16 3 24-32.5 4 0 8 4 4-1.5 8-10 4-1.5 8 6 4-1 4-3 20-14 8 3.5 4-0.5 16-11 4 2.5 8 8 4 7 4 13.5 4 24 4 19.5 4-7 4-26 4-19.5 4-8 4-1.5 12-1.5 12 5.5 4 0.5 12-6.5 24-8.5 4-2.5 8-13 4-8 8-19 4-5 8-7 20 10 4 5 12 19.5 8-9 4-4 8-5.5 8 7.5 4 7 8 17.5 12 20 16 8 16 6 20 11 20 17.5 16 15 16 10.5 16 12.5 24 39.5 20 29.5 12-2.5 4-0.5 12 3 12 8 12 16.5 4 3.5 4 2.5 12 2.5 16 6 12-3 4 1 16 10.5 4 0.5 12-6 4-1 12 6.5 16 10.5 4 0.5 12-1.5 16 6.5 12 2 4 1 16 7 4 1 16 3 16 4.5 20 14 48 7.5 16-5 4 0 8 4.5 4 3 12 12 16 1"/><path d="M100 638l12-1 8-3.5 12-6 12-8 16-12.5 12-13 12-14.5 24-32.5 24-28.5 24-27 8-11 8-8.5 4-1 4 1.5 8 1 8-6.5 4 0 4-3 4 2 4-5 8-24 8-21 4-9 12-22.5 48-73.5 8-10.5 20-22.5 4-2 4-1 4 1 4 0 4-1.5 8 8.5 4 6 4 7.5 4 4.5 4-12.5 4-9 4-3 8 16 4 0.5 4-17 4-13 4-9.5 4-3.5 4-1 8 10.5 4 8.5 4-8 4-18.5 4-12.5 4-10 4-9.5 8-16.5 12-21 8-7.5 12-10 12-6 12-8.5 20-9 4-1.5 8-1 8 1.5 12 15 4 4 4 3 8 3 12 6.5 4 0.5 8-2.5 4 1 4 7.5 4 10 16 43 4 4.5 8 5.5 4-1 8-6 16 31 4 1.5 8-18.5 4-6.5 8 8 4 7.5 8 18.5 12 4.5 8-2 4 3 4 4 4 0.5 16-6 8 7.5 4 3 8 4 4 0.5 16-15 16 4 24-31.5 4 0 8 4 4-2 8-10.5 4-1.5 8 6.5 4-1.5 24-16 8 3.5 4 0 16-11 4 2.5 4 4 4 4.5 4 6.5 4 11 4 18.5 4 15 4-5.5 4-19.5 4-15 4-6.5 4-0.5 12 0 12 6.5 4 1 8-5 4-1.5 12-2.5 12-4 4-2.5 8-13.5 12-26 4-5 8-6 20 10 4 5 4 7 8 12.5 12-15 8-6.5 4 3 4 4.5 4 7 8 17 12 20 12 6 4 2 16 3.5 16 7.5 4 2.5 32 29 4 3 16 8.5 16 12 20 34.5 4 6 20 26 12-3 4 0 12 2.5 12 8 12 15.5 4 3.5 4 2 12 2 16 6 12-2.5 4 1 16 10.5 4 0.5 12-5.5 4-1 12 6.5 16 10.5 4 1 12-2 16 6.5 12 2.5 4 1 20 8.5 32 6 8 5 12 9 4 1 16 3.5 28 3 16-4 4 0.5 8 4.5 4 3 12 11.5 16 0"/><path d="M100 642l12-1 8-3.5 16-9.5 24-15.5 12-12 4-5 28-39 28-33.5 12-13.5 12-12.5 8-10.5 8-9 4-0.5 4 1 8 1 8-7.5 4 0 4-4 4 1.5 4-4.5 8-24 8-20.5 4-9 16-29 40-60 12-16.5 12-14 8-8 4-1.5 4-1 4 0.5 4 0 4-2 8 8.5 4 5.5 4 8 4 4.5 4-12 4-9 4-2.5 8 16 4 0.5 4-17 4-13 4-9.5 4-3.5 4-1 8 10 4 8.5 4-8.5 4-16.5 4-11.5 8-17 20-35.5 12-12 8-6.5 12-5.5 12-7 20-10 4-1.5 8-1 8 1.5 12 15.5 4 4.5 4 3 8 3 12 6 4 0.5 8-2 4 0.5 4 8 20 75 4 9 4 3.5 4 3 4-1 8-5 8 17 8 15 4 1.5 8-18.5 4-6 8 8 4 8 8 20 12 5.5 8-1 4 3 4 4.5 4 0.5 16-3.5 8 8.5 4 3.5 8 4.5 4 0.5 16-16 16 3.5 24-30 4 0.5 8 4.5 4-2 8-10.5 4-2 8 6.5 4-1 8-4.5 16-10 8 3.5 4-0.5 16-11 4 2 12 11.5 4 2 8 2 4 0 8-4 4-1.5 12-0.5 4 0.5 4 2.5 8 3 4 0 12-9 16-8.5 8-1.5 4-2.5 8-12 4-7.5 8-17.5 4-4.5 8-5.5 20 12.5 4 5.5 4 7 8 13 12-14 8-7 4 3.5 4 4.5 4 7 8 18.5 12 21 12 7.5 4 1.5 16 5 16 8 4 2.5 36 32 16 10.5 16 12 16 27 4 6 8 8 16 13 12-8.5 4-2.5 8-2 4 1.5 12 9.5 12 17 4 4.5 4 2.5 12 3.5 16 8.5 12-1.5 4 1 16 13 4 1 12-6 4-1.5 12 6.5 16 11.5 4 0.5 12-1.5 16 6 12 1 4 1 20 9 16 3.5 16 4.5 20 11.5 48 0.5 16-4.5 4 0 8 4 4 3 12 11 16-0.5"/><path d="M100 637.5l8 0 4-0.5 8-3.5 12-7.5 28-19 12-12 4-4.5 8-10.5 20-29 8-10.5 20-24.5 24-26.5 8-11.5 8-9 4-1 4 1.5 8 1.5 8-7 4 0 4-3.5 4 2 4-5 8-23.5 12-30 16-31 12-18 40-56.5 20-21 4-2.5 4-0.5 4 0.5 4-0.5 4-1.5 8 8.5 4 5 4 7.5 4 4 4-12.5 4-9 4-3 8 16 4 1 4-17 4-13 4-9 4-3.5 4-1 8 11 4 8 4-7.5 4-18 4-12.5 4-9.5 4-9.5 8-16 12-21.5 20-18.5 12-7 12-8 20-9.5 12-3 8 1.5 12 15 4 4 4 3.5 8 2.5 12 5 4 0 8-2.5 4 0.5 8 17.5 8 21 8 18 4 4 8 4.5 4-1.5 8-6 16 31 4 1 8-19 4-6.5 8 8 4 7.5 8 19 12 4 8-1.5 4 3 4 4 4 0.5 16-4.5 8 8 4 3 8 3.5 4 0 12-13 4-3.5 16 4.5 24-31.5 4 0 8 4 4-2 8-10.5 4-2 8 6 4-2 24-16 8 3 4-0.5 16-11 4 2.5 4 4 4 4.5 4 7.5 4 14.5 4 25 4 20 4-7.5 4-27 4-20.5 4-8 4-1.5 12 0 4 2.5 8 3 4 0.5 8-5.5 4-2.5 12-4.5 12-5 4-3 8-14 12-27.5 4-4.5 8-6.5 20 11 4 5 12 19.5 8-9.5 4-4 8-5.5 8 7.5 4 7 8 17 12 19.5 16 8 16 7.5 20 11.5 36 33 16 10 16 12.5 24 40.5 20 27.5 12-2.5 4 0.5 12 4 12 9 12 16.5 4 3.5 4 2 12 1.5 16 6 12-2 4 1 16 10.5 4 0 12-6.5 4-1 12 5.5 16 10.5 4 1 12-0.5 16 7 12 1.5 4 1 20 8 16 2.5 16 4 20 13.5 20 4.5 28 3 16-4 4 0 8 5 4 3.5 12 12.5 16-0.5"/><path d="M100 639l8 0 4-0.5 8-3.5 16-9 24-16.5 12-12 12-15.5 12-17.5 12-16 24-29.5 24-27 8-11.5 8-9 4-0.5 4 1.5 8 1 8-6.5 4-0.5 4-3.5 4 2 4-5 8-24 8-20.5 4-9 16-30.5 12-19 40-58 8-9.5 8-8 4-4 4-1.5 4-1 4 1 4-0.5 4-1.5 8 9 4 5.5 4 8 4 4.5 4-12.5 4-9 4-3 8 16 4 0.5 4-16.5 4-13.5 4-9 4-3 4-1 8 11 4 8 4-7.5 4-18 4-13 8-19.5 8-17 12-22 8-7.5 12-10.5 12-5.5 12-7.5 20-9.5 12-3.5 8 0.5 4 4.5 8 10.5 4 4 4 3.5 8 3.5 12 7 4 0.5 8-2 4 0.5 4 7.5 4 10 16 42 4 4.5 8 5 4-1.5 8-6.5 16 30.5 4 1.5 8-18.5 4-6.5 8 8 4 7.5 8 19 12 4.5 8-2 4 3 4 4 4 0.5 16-5.5 8 8 4 3.5 8 3.5 4 0.5 12-12.5 4-3.5 16 4.5 24-31.5 4-0.5 8 4 4-2.5 8-10 4-2 8 7 4-1.5 4-2.5 20-13 8 3.5 4 0 16-9.5 4 2.5 12 12 4 2.5 8 2.5 4-0.5 8-4 4-1 12 0 4 0 12 7.5 4 1 12-5.5 12-3.5 12-5 4-3 8-13.5 12-26.5 4-5 8-6 20 9.5 4 5 12 19 12-13.5 8-6.5 8 7.5 4 7 8 17.5 12 19.5 16 7.5 16 4.5 16 8 4 2.5 20 19 16 14 16 9 16 11 24 40 20 26 12-3 4-0.5 12 2.5 12 7 12 15 4 3.5 4 2 12 2 16 7.5 12-3 4 1 16 10.5 4 0.5 12-6.5 4-1 12 7 16 12 4 1 12-2 16 6 12 2 4 1 16 6.5 24 5 12 4 20 13.5 24 5 24 2.5 16-4.5 4 0.5 12 6.5 12 11 16 0.5"/><path d="M100 636.5l12-0.5 8-3 16-9.5 24-17 12-12 12-15.5 24-33 24-29 24-27 8-12 8-9 4-1 4 1.5 8 1.5 8-6.5 4 0 4-3 4 2 4-4.5 8-24 8-20.5 4-9 16-30.5 12-19 32-47 8-11 12-13.5 8-8 4-2 4-1 4 1 4 0 4-1.5 8 8.5 4 5.5 4 7.5 4 4.5 4-12.5 4-9.5 4-3 8 15 4 1 4-17 4-13 4-9 4-3.5 4-0.5 8 10.5 4 8 4-8 4-17.5 4-12.5 4-9.5 12-26 12-22 8-8.5 12-11 24-13 20-8 12-3 8 1.5 12 14.5 4 4 4 3 8 2.5 12 5.5 4 0.5 8-2.5 4 0.5 8 16.5 8 20 8 18 4 3.5 8 5.5 4-1 8-5.5 16 30.5 4 1.5 8-18.5 4-6 8 7.5 4 7.5 8 18.5 12 3.5 8-2 4 3 4 4 4 0 16-4.5 8 8.5 4 3 8 4 4 0 12-12.5 4-3.5 16 4.5 24-31.5 4-0.5 8 4 4-2 8-11 4-1.5 8 6 4-1.5 8-4.5 16-10.5 8 3 4-0.5 16-11.5 4 2 12 13 4 5.5 8 13 4-2.5 4-8.5 4-7 4-3 16 0 4 2.5 8 3 4 0.5 8-6 4-2 16-6.5 8-2.5 4-3 8-13 4-8 8-18.5 4-5 8-7 20 8.5 4 4.5 12 20.5 12-13.5 8-6.5 8 7.5 4 7 8 17.5 12 21 12 7 4 1.5 16 4.5 16 8.5 4 3 36 34 16 11 16 12.5 24 39.5 20 29.5 12-1.5 4 0 12 3.5 12 7.5 12 15.5 4 3.5 4 2.5 12 2 16 6.5 12-2.5 4 0.5 16 10.5 4 0.5 12-5.5 4-1 12 6.5 16 10.5 4 0.5 12-1.5 16 6 12 1.5 20 8.5 4 1.5 16 2.5 16 5 20 13.5 16 3 20 2 12 1.5 16-4 4 0.5 8 4.5 4 2.5 12 12.5 16 0.5"/><path d="M100 639.5l12-0.5 12-6 36-24 12-11.5 12-15 24-33 24-29.5 24-26.5 8-12 8-9.5 4-1 4 1 8 1 8-6.5 4 0 4-3.5 4 2 4-5 8-23.5 8-20.5 4-8.5 12-23 16-25.5 32-48 8-10.5 12-12.5 8-7.5 4-2 4-1 4 1 4-0.5 4-2 8 8 4 5 4 7.5 4 4.5 4-12 4-9 4-2.5 8 16 4 1 4-17 4-13.5 4-9 4-3 4-1 8 11 4 8.5 4-7.5 4-17.5 4-12 4-9.5 4-9 8-16 12-22.5 12-12 8-7 12-5.5 12-7.5 20-9 4-1.5 8-1.5 8 1.5 12 15 4 4.5 4 2.5 8 2.5 12 5 4 0.5 8-1.5 4 1 4 8 20 60 4 5.5 8 6 4-1 8-5.5 8 15.5 8 14.5 4 1 8-18.5 4-6.5 8 8.5 4 7.5 8 19.5 12 4.5 8-1.5 4 3 4 4 4 0.5 16-4.5 8 7.5 4 3 8 4 4 0 16-15.5 16 4 24-30.5 4 0 8 4.5 4-2.5 8-10.5 4-2 8 6 4-1.5 24-13.5 8 3 4-0.5 16-11.5 4 2 12 11.5 4 2.5 8 3 4 0 8-3.5 4-1.5 12 0.5 4 0 12 6.5 4 1 12-7 24-8.5 4-3 8-13.5 12-26 4-5 8-6 20 13 4 5 4 7 8 12.5 12-14.5 8-7 4 3 4 4.5 4 7 8 18 12 20.5 12 6.5 4 1.5 16 4.5 16 7.5 4 2.5 20 18.5 16 13.5 16 9.5 16 12.5 20 33.5 12 15 12 13.5 12-5.5 4-0.5 8 1 4 1 12 9 12 16 4 3.5 4 1.5 12 1.5 16 6.5 12-2 4 1.5 16 11 4 0.5 12-5.5 4-1 12 6.5 16 11.5 4 1 12-1 16 5.5 12 1.5 4 1.5 16 7.5 4 1.5 16 3 16 4 20 12 20 3 28 3.5 16-5.5 4 0 8 4 4 3 12 12 16 0"/><path d="M100 637l12 0 8-2.5 12-7 28-20 12-12 4-5.5 8-10.5 12-17.5 12-16 28-33.5 20-21.5 8-11 8-9 4-0.5 4 1 8 0.5 4-3.5 4-3 4 0 4-3 4 2 4-4.5 8-23.5 12-30 16-30.5 12-19 32-47 8-11.5 12-13 8-7.5 4-2 4-1 4 0.5 4-0.5 4-1.5 8 8.5 4 5.5 4 8 4 4.5 4-12 4-9 4-3 8 16 4 1 4-17 4-13.5 4-9 4-3.5 4-1 8 10 4 8 4-8 4-18 4-12.5 4-10 4-9 8-16.5 12-21.5 8-7.5 12-10 12-6 12-7.5 20-10 4-1.5 8-1 8 1.5 12 14.5 4 4 4 2.5 8 2 12 6 4 1 8-1.5 4 0.5 8 17.5 8 21 8 19 4 4 8 5.5 4-0.5 8-5.5 8 16.5 8 14.5 4 1 8-19 4-7 8 7.5 4 7.5 8 18.5 12 4.5 8-1.5 8 7.5 4 0.5 16-5.5 8 8 4 3 8 4 4 0.5 16-15 16 3.5 24-33.5 4 0 8 4 4-2 8-10 4-1.5 8 6.5 4-1 4-2.5 20-13 8 3.5 4 0 16-11 4 2 4 3.5 4 4 4 5 4 9.5 4 15.5 4 13 4-4.5 4-17 4-12.5 4-5 4-0.5 12 1.5 12 7 4 1 12-7.5 24-9 4-2.5 8-13.5 4-7.5 8-19 4-4.5 8-7 20 10 4 5 12 20.5 12-13.5 8-6.5 8 6.5 4 7 8 17 12 19.5 16 8 16 6 16 8 4 2.5 36 31.5 16 10.5 16 13 24 39.5 20 25 12-3 4 0 12 4 12 8 12 15.5 4 3.5 4 2 12 2.5 16 6 12-4 4 0.5 16 10.5 4 1 12-5.5 4-1 12 6.5 16 11.5 4 1.5 12-1 16 5.5 12 1.5 4 1 16 7 20 4 16 5.5 20 13 24 4.5 20 2.5 4 0 16-5 4 0.5 8 5 4 3 12 12.5 16-0.5"/><path d="M100 640l8-0.5 4-0.5 8-4 16-9 24-15.5 12-12.5 4-5 8-10 20-29 20-25.5 8-9.5 24-25.5 8-11.5 8-9 4-0.5 4 1 8 1 8-6.5 4-0.5 4-3.5 4 2 4-5 8-24.5 8-21 4-9 16-29.5 12-18.5 40-57 12-14 8-8.5 4-2.5 4-0.5 4 1 4 0 4-1.5 8 9.5 4 5.5 4 7.5 4 4.5 4-12.5 4-9 4-3.5 8 15.5 4 0.5 4-17 4-13.5 4-9 4-3 4-1 8 10.5 4 8.5 4-7.5 4-18 4-12 4-9.5 4-9 8-16 12-21.5 8-8 12-10.5 12-6 32-18 4-2 8-1.5 8 2.5 12 16 4 4.5 4 3 8 2 12 6 4 1 8-1.5 4 0.5 4 8 20 56.5 4 5.5 8 5 4-1 8-5.5 8 16.5 8 14.5 4 1 8-19 4-6 8 8 4 7.5 8 19 12 4.5 8-2 4 3 4 4 4 0.5 16-5 8 8 4 3 8 4 4 0 16-15.5 16 4 24-29 4 0 8 4 4-2 8-10.5 4-1.5 8 6.5 4-1.5 12-6.5 12-9 8 2.5 4-0.5 16-10.5 4 2.5 4 4 4 4.5 4 6.5 4 10.5 4 17 4 14 4-5 4-18.5 4-14 4-6 4-1 12-0.5 12 6 4 0.5 8-4.5 4-1.5 12-3.5 12-4.5 4-2.5 8-13 4-7.5 8-18 4-4.5 8-6.5 20 10 4 5 12 20 12-13.5 8-6 8 7.5 4 6.5 8 17 12 19.5 16 7.5 16 5 20 10.5 36 32.5 16 9.5 16 11.5 20 33.5 12 16 12 14.5 12-5 4-0.5 8 0.5 4 1 12 8 12 16.5 4 4 4 2 12 2 16 6.5 12-2 4 1.5 16 11 4 0.5 12-6 4-1.5 12 6 16 11.5 4 1 12-1 16 7 12 1.5 4 1 20 7 16 2.5 16 4.5 20 14.5 20 3 24 1.5 4 0 16-5.5 4 0.5 8 4.5 4 3 12 12.5 16 0.5"/><path d="M100 638.5l12-0.5 8-3.5 16-9.5 24-17 12-12 4-4.5 8-10 20-28 8-10.5 20-24.5 24-26 8-11.5 8-9 4-0.5 4 1.5 8 1.5 8-6.5 4 0 4-3.5 4 1.5 4-5 8-24.5 8-21 4-9 16-29.5 12-18.5 32-46.5 8-11 20-22.5 4-2.5 4-1.5 4 0.5 4-0.5 4-1.5 8 9 4 6 4 8 4 4.5 4-12 4-9.5 4-3 8 15.5 4 1 4-17 4-13 4-9 4-3.5 4-1 8 11 4 8 4-7.5 4-18 4-12 4-10 4-9 8-16.5 12-22 8-8.5 12-10 12-5.5 12-7.5 20-10.5 4-1 8-1 8 2 12 15.5 4 4 4 2.5 8 2 12 5 4 0.5 8-2 4 1 4 8 4 10.5 8 22.5 8 20.5 4 5 8 5.5 4-1 8-5 8 17 8 15 4 1 8-19 4-6.5 8 7.5 4 7.5 8 19 12 4.5 8-1.5 4 3 4 4 4 0 16-5.5 8 7.5 4 3 8 4 4 0 16-14.5 16 4.5 24-31 4 0 8 4.5 4-2 8-11 4-2 8 5.5 4-1.5 24-14 8 3.5 4 0 16-11.5 4 1.5 4 3.5 4 4 4 7 4 12.5 4 21.5 4 18 4-6 4-22 4-17.5 4-6.5 4-1 12 0 12 6.5 4 0.5 8-4 4-2 12-3 12-5 4-3 8-13.5 12-26 4-4.5 8-6.5 20 11 4 5 4 7 8 12.5 12-14.5 8-7.5 4 3 4 4 4 7 8 17 12 19.5 12 6 20 7 16 9 4 2.5 36 31 16 9 16 12.5 20 34.5 4 5.5 20 24.5 12-3.5 4-0.5 12 3.5 12 7.5 12 15.5 4 3.5 4 2 12 1.5 16 6.5 12-3 4 1 16 12 4 0.5 12-5.5 4-1 12 6.5 16 11 4 0.5 12-2 16 7 12 2.5 20 7.5 20 3 16 4.5 20 13.5 16 3.5 32 4 16-5.5 4 0.5 8 5 4 3.5 12 13 16-0.5"/><path d="M100 640l8 0.5 4-0.5 8-3.5 40-25.5 12-12.5 4-5 8-10.5 20-29 8-10.5 20-24 24-26 8-11.5 8-9.5 4-1 4 1.5 8 0.5 8-6.5 4 0 4-3.5 4 2 4-4.5 8-23 12-29.5 16-30.5 12-19 40-57.5 12-13.5 8-8 4-2 4-1 4 1 4-0.5 4-1.5 8 8.5 4 5.5 4 8 4 4.5 4-12.5 4-9 4-3.5 8 15.5 4 1 4-17 4-13 4-9 4-3.5 4-0.5 8 10 4 8 4-8 4-17.5 4-12 8-18.5 20-38 8-8 12-10 12-5.5 12-7 20-9.5 4-1.5 8-1.5 8 1.5 12 15.5 4 4 4 2.5 8 2 12 6 4 1 8-2 4 1 4 8 20 58.5 4 5.5 8 6 4-1 8-6 16 31 4 2 8-18.5 4-6 8 8 4 7.5 8 18.5 12 3.5 8-2 4 3 4 3.5 4 0.5 16-4.5 8 8.5 4 3.5 8 5 4 0.5 16-15 16 4 24-32.5 4 0 8 4 4-2 8-10.5 4-1.5 8 7 4-1 12-7 12-8 8 3.5 4-0.5 16-11 4 2 12 11 4 2.5 8 2.5 4 0 8-4 4-1 12 0 4 0 12 6 4 1 8-5 28-11 4-2.5 8-13 4-8 8-17.5 4-4.5 8-6 20 10 4 5 12 19 8-10 4-4 8-6.5 8 8 4 7.5 8 18 12 19.5 16 8.5 16 5 16 7.5 4 2.5 36 33 16 9.5 16 12 20 33 4 5 20 22.5 12-4 4-0.5 8 1.5 4 1.5 12 9 12 16 4 3.5 4 2 12 2 16 6.5 12-3 4 1 16 11 4 1 12-5 4-1 12 6.5 16 10.5 4 1 12-2.5 16 6.5 12 1.5 4 1.5 20 7.5 16 3.5 8 2.5 8 2.5 20 13.5 48 6 16-4.5 4 0 8 4 4 2.5 12 11 16 0"/><path d="M100 639l12-1 8-3 16-9 24-16.5 12-12.5 12-15 24-32.5 48-57 8-11.5 8-9.5 4-0.5 4 1 8 1.5 8-6 4 0 4-3 4 2 4-4.5 8-23.5 12-30 16-30.5 12-19 40-58.5 12-13.5 8-7.5 4-2 4-0.5 4 1 4 0 4-1.5 8 8.5 4 5.5 4 7.5 4 4.5 4-12.5 4-9.5 4-3 8 16 4 0.5 4-16.5 4-13.5 4-8.5 4-3 4-1 8 10.5 4 8 4-8 4-18 4-12.5 4-9.5 4-9 8-15.5 12-21 20-19.5 12-6 12-7.5 8-4 12-5.5 12-2 8 1 12 15.5 4 4.5 4 3 8 2.5 12 5 4 0.5 8-2.5 4 1 4 8 20 60 4 6 8 5.5 4-1 8-5.5 8 16.5 8 14.5 4 1.5 8-18.5 4-6 8 8.5 4 7.5 8 20 12 4 8-1 4 3 4 4.5 4 0.5 16-5 8 8 4 3 8 4 4 0.5 16-15 16 3.5 24-30.5 4 0 8 4.5 4-2.5 8-11 4-1.5 8 6 4-1.5 24-15 8 3 4 0 16-11 4 2 8 7.5 8 8 8 9 4-0.5 8-9.5 4-2 16 0.5 12 6 4 1 12-7 24-8.5 4-2.5 8-13.5 12-26.5 4-4.5 8-6 20 10 4 5 12 19.5 4-4 4-5.5 4-3.5 8-6.5 8 7.5 4 7 8 17 12 19.5 16 8 16 5.5 20 11.5 36 32 16 10 16 12.5 20 32.5 24 26.5 12-4.5 4-1 8 1 4 1 12 8.5 12 16.5 4 3.5 4 2.5 12 2 16 7 12-1.5 4 1 16 11 4 1 12-5 4-1.5 12 6 16 11 4 0.5 12-1 16 5.5 12 1.5 20 8 20 4.5 16 5 20 14 8 1.5 12 1 28 0.5 16-5 4 0 8 5 4 3 12 12 16 0"/><path d="M100 641l12-1 8-3.5 16-9.5 24-17 12-12.5 4-4.5 8-10 24-32.5 48-54.5 8-11.5 8-9.5 4-0.5 4 1 8 1 8-7 4-0.5 4-3.5 4 1.5 4-4.5 8-24 8-21 4-9 16-29.5 20-30 32-46 12-14 8-8.5 4-2 4-1 4 1 4 0 4-1.5 8 9 4 6 4 7.5 4 4.5 4-12.5 4-9 4-3 8 16 4 0.5 4-16.5 4-13.5 4-9 4-3.5 4-0.5 4 4.5 4 6 4 8.5 4-8 4-17 4-11.5 8-17.5 20-37 8-8 12-10 16-7.5 28-14.5 4-1.5 8-1.5 8 0.5 12 15 4 4 4 3.5 8 2.5 12 6 4 0.5 8-2 4 1 4 8 20 69.5 4 8 4 3.5 4 3 4-1 8-5.5 8 16.5 8 14.5 4 1.5 8-18.5 4-6 8 8.5 4 7.5 8 19.5 12 5 8-1.5 8 7.5 4 0 16-5 8 8.5 4 3.5 8 4.5 4 0.5 16-15 16 4.5 24-30.5 4 0 8 4 4-2.5 8-10 4-1.5 8 7 4-1 8-5 16-11 8 3 4-0.5 16-10.5 4 2 12 12.5 12 8 4-0.5 8-7 4-2 16-0.5 4 2 8 3 4 0 8-5.5 4-2 16-6 8-2 4-2.5 8-13 4-8 8-18 4-4.5 8-6 20 12.5 4 5 12 20 4-3.5 4-5.5 4-3.5 8-6 8 7.5 4 7 8 17 12 20 16 8 16 6 20 11 36 32 16 9.5 16 12.5 16 26.5 4 5.5 24 24 12-6.5 4-1.5 8-1 4 0.5 12 8 12 16.5 4 4 4 2.5 12 3.5 16 9 12-1.5 4 1 16 12 4 1 12-6 4-1 12 6.5 16 11.5 4 1 12-1 16 5.5 12 1.5 4 1 20 8.5 32 8 20 11 24 2.5 24 0.5 16-5 4 0.5 8 5 4 3 12 11 16-1.5"/><path d="M100 638l8 0 4-0.5 8-3 16-10 24-17.5 12-13 4-4.5 32-43 24-29 24-26.5 8-11 8-9 4-1 4 1.5 8 0.5 8-7 4 0 4-3.5 4 2 4-4.5 8-23.5 12-30 16-31 12-18.5 32-46 8-11 12-13 8-7.5 4-2 4-0.5 4 0.5 4-0.5 4-2 8 8 4 5.5 4 7.5 4 4.5 4-12.5 4-9 4-3.5 8 15.5 4 0.5 4-17 4-13 4-9 4-3.5 4-0.5 8 10.5 4 8.5 4-8 4-17.5 4-12.5 4-9.5 12-26 12-22 8-7.5 12-10 12-5 12-7 20-10.5 4-1.5 8-2 8 1 12 15 4 4.5 4 3 8 3 12 6 4 0.5 8-2.5 4 1 8 17.5 8 21.5 8 19.5 4 3.5 8 4 4-1.5 8-6.5 16 31.5 4 1 8-18 4-6.5 8 8.5 4 7.5 8 19 12 4 8-2 4 3 4 4 4 0 16-5.5 8 8.5 4 3 8 3.5 4 0.5 12-12.5 4-3.5 16 4.5 24-31.5 4 0 8 4 4-2.5 8-11 4-2 8 6 4-1.5 12-6.5 12-7.5 8 3 4-0.5 16-10.5 4 2.5 4 4.5 4 4 4 6 4 8.5 4 13.5 4 10.5 4-4 4-15 4-11.5 4-5 4-1 12 0 12 6.5 4 1 8-4 16-5 12-4.5 4-2.5 8-13 4-8 8-18 4-4.5 8-7 20 8.5 4 4.5 12 19.5 12-13.5 8-6 8 7.5 4 6.5 8 17.5 12 19.5 16 8 16 5 16 8 4 2.5 16 15 20 18 16 10.5 16 12.5 24 38.5 20 26.5 12-3.5 4 0 12 4 12 9 12 16 4 3.5 4 1.5 12 1 16 6.5 12-2.5 4 1 16 11 4 0.5 12-7 4-1.5 12 5.5 16 12.5 4 1 12-0.5 16 6.5 12 1 4 1 20 7.5 32 9 20 12.5 20 4 28 3 16-4 4 0.5 8 5 4 3 12 12.5 16-1"/><path d="M100 641.5l12-0.5 8-3 16-9.5 24-17.5 12-13 20-27 12-15 32-38 20-21.5 8-11.5 8-9 4-1 4 1 8 0.5 8-7 4 0 4-3.5 4 2 4-5 8-24 8-21 4-9 12-23 56-82.5 12-14 8-8 4-2 4-1 4 1 4 0 4-1.5 8 9.5 4 5.5 4 8 4 5 4-12.5 4-8.5 4-3 8 15.5 4 0.5 4-17.5 4-13.5 4-9.5 4-3.5 4-1 4 4.5 4 6 4 8.5 4-8 4-17 4-12 4-9 4-9 20-36 8-7.5 12-10.5 12-5.5 12-7 20-10 4-1.5 8-1 8 2 12 15 4 3.5 4 3 8 2 12 5.5 4 0.5 8-1.5 4 1 4 8.5 20 69 4 8 8 6.5 4-1 8-5 8 17 8 15.5 4 1.5 8-18 4-6.5 8 9 4 8 8 20 12 4.5 8-2 4 2.5 4 4 4 0 16-5 12 11.5 8 5 4 0.5 16-15 16 4 24-30 4 0 8 4 4-2 8-11 4-1.5 8 6.5 4-1.5 24-14 8 3.5 4 0 16-11.5 4 2 4 4 4 4 4 5.5 4 10 4 15.5 4 13 4-4.5 4-18 4-13.5 4-5.5 4-0.5 12 0 4 2.5 8 3 4 0.5 12-7.5 16-7.5 8-2 4-2 8-12.5 4-8 8-18 4-4.5 8-6.5 8 4.5 12 7.5 4 5.5 4 7.5 8 12 12-14 8-6.5 4 3.5 4 4.5 4 7.5 8 18.5 12 21.5 12 6.5 20 6.5 16 7.5 4 2.5 36 34 16 10 16 11.5 20 32 24 24 12-8 4-1.5 8-1 4 1.5 12 9.5 12 16.5 4 4 4 2.5 12 3 16 8.5 12-1.5 4 1 16 11 4 1 12-5 4-1 12 6 16 10 4 0.5 12-1 16 6.5 12 2.5 20 7.5 20 4.5 16 5.5 20 11.5 20 1 28 0 16-4.5 4 0.5 12 7.5 12 10.5 4-1 12 0"/><path d="M100 641l8 0.5 4-1 8-3.5 16-11 24-17.5 12-12 12-15 20-28 20-25 8-10 24-26 8-11.5 8-9.5 4-0.5 4 1 8 1.5 8-6.5 4 0 4-3.5 4 2 4-5 8-23.5 8-21 4-9 12-22.5 16-25.5 32-48 8-11 16-17 4-4 4-1.5 4-1 4 1 4 0 4-1.5 8 9 4 5.5 4 7.5 4 4.5 4-12.5 4-9 4-3.5 8 15.5 4 0.5 4-16.5 4-13.5 4-9 4-3.5 4-0.5 8 10.5 4 8 4-8 4-17.5 4-12.5 4-9.5 4-9.5 8-15.5 12-21.5 20-17.5 12-6.5 12-8.5 20-9.5 4-1.5 8-1 8 1 12 15 4 4 4 2.5 8 2.5 12 6 4 1 8-2 4 1 4 8 4 11 16 46.5 4 5.5 8 5.5 4-1 8-6 8 15.5 8 13.5 4 1 8-19 4-6 8 8 4 7.5 8 20 12 5 8-1.5 8 6.5 4 0 16-6 8 8.5 4 3 8 4.5 4 0.5 16-14 16 3.5 24-31.5 4-0.5 8 4 4-2.5 8-10.5 4-1.5 8 6.5 4-1 8-5 16-11.5 8 3 4-0.5 16-10 4 2 4 4.5 4 4.5 4 6.5 4 12.5 4 21 4 17.5 4-6 4-22.5 4-17 4-7 4-1 12-0.5 12 7.5 4 1.5 12-6 24-8 4-2.5 8-13 4-8 8-18 4-5 8-6 20 9.5 4 4.5 12 19 12-14 8-6.5 4 3 4 4.5 4 7 8 18 12 20 12 5 20 6.5 16 8 4 2.5 36 33 16 10 16 11.5 20 32.5 12 16 12 14 12-4.5 4-0.5 8 2 4 1.5 12 8.5 12 15.5 4 3.5 4 2 12 1.5 16 7 12-3 4 1 16 11 4 0.5 12-6 4-1.5 12 6 16 11 4 1 12-0.5 16 7 12 2 20 8 20 4 16 4.5 20 12.5 40 6.5 8 1 16-5.5 4 0 8 4 4 3 12 12 16 0"/><path d="M100 637.5l12-1 12-5 12-6.5 24-16.5 12-12 12-15.5 12-17.5 12-16 24-29.5 24-26.5 8-11.5 8-9.5 4-1 4 1 8 1 4-3.5 4-2.5 4 0 4-3 4 2.5 4-4.5 8-23.5 8-21 4-9 16-31 12-18.5 16-23 12-18.5 12-17 12-13.5 8-8 4-2 4-0.5 4 0.5 4 0 4-2 8 9 4 5.5 4 7.5 4 4.5 4-12.5 4-9 4-3.5 8 16 4 1 4-17 4-13 4-9 4-3 4-1 8 11 4 8.5 4-8 4-18 4-12.5 8-20 8-16.5 12-21.5 8-7.5 12-10 12-6.5 12-8 20-10.5 4-1 8-1 8 2 12 15.5 4 4 4 2.5 8 2.5 12 6 4 0.5 8-2 4 0.5 8 17.5 16 41.5 4 4.5 8 5 4-1 8-6.5 8 16 8 14.5 4 1 8-18.5 4-6 8 8 4 7.5 8 19 12 3.5 8-1.5 4 3 4 4 4 0.5 16-5.5 8 8.5 4 3 8 4.5 4 0.5 16-14.5 16 3.5 24-32 4-0.5 8 4 4-2.5 8-11 4-1.5 8 6.5 4-1.5 8-4 16-10.5 8 3 4 0 16-10.5 4 2.5 4 4 4 4 4 6.5 4 11.5 4 19.5 4 16 4-5.5 4-21 4-16 4-6.5 4-1 12 0 12 7 4 1 12-6 12-4 12-4.5 4-3 8-13.5 12-26 4-4.5 8-6 20 9.5 4 4.5 12 18.5 8-10 4-4 8-6.5 8 8 4 7 8 17.5 12 19 16 7.5 16 5 16 8.5 4 3 36 32 16 9.5 16 12.5 24 41.5 8 10.5 12 14.5 12-4 4-0.5 12 3.5 12 8 12 15.5 4 3 4 2 12 0.5 16 7 12-1.5 4 1 16 9.5 4 0.5 12-7 4-1.5 12 6.5 16 13 4 1.5 12-0.5 16 6.5 12 1 4 1 20 7.5 32 8.5 20 12.5 20 3.5 28 3 16-4.5 4 0 8 4.5 4 3.5 12 12.5 16 1"/><path d="M100 639.5l8 0 4-0.5 8-3.5 16-9.5 24-17.5 12-12.5 4-5 8-10 24-33.5 24-29 24-27.5 8-11.5 8-9 4-1 4 1.5 8 1 4-3 4-3 4 0.5 4-3 4 2 4-4.5 8-24 8-21.5 4-9 12-23.5 4-6.5 12-18.5 40-57.5 20-23 4-2 4-1 4 1 4 0 4-1.5 8 9 4 6 4 8 4 4.5 4-12.5 4-9 4-3 8 15.5 4 0.5 4-17.5 4-13.5 4-9 4-3.5 4-1 4 4.5 4 6 4 8 4-7.5 4-18 4-12 4-10 4-9 8-16 12-21.5 8-8 12-10 12-5 12-8 20-10.5 4-1 8-1 8 1.5 12 15.5 4 4 4 3 8 2.5 12 5 4 0 8-2.5 4 0.5 4 8 4 10 16 44 4 5 8 6 4-1 8-5.5 16 31 4 1.5 8-19 4-6.5 8 7.5 4 7 8 18.5 12 4 8-1.5 4 3 4 4 4 0.5 16-4.5 8 8.5 4 3.5 8 4 4 0.5 16-15.5 16 2.5 24-32.5 4 0 8 4.5 4-2.5 8-10.5 4-1.5 8 6.5 4-1.5 8-4.5 16-9.5 8 3 4-0.5 16-12 4 2.5 12 11.5 4 2.5 8 3 4 0 12-4.5 16 0.5 12 7 4 1 12-6 12-3 12-4.5 4-3 8-13 12-26.5 4-4.5 8-6.5 20 9.5 4 5 12 19.5 12-14 8-6.5 8 7 4 6.5 8 17.5 12 20.5 16 8 16 4 16 7.5 4 2.5 36 32.5 16 9 16 12.5 20 34 4 6 20 24 12-3 4 0 12 3 12 8 12 15.5 4 4 4 2 12 1.5 16 6 12-2.5 4 1 16 10.5 4 0.5 12-6 4-1 12 6 16 12.5 4 1 12-1.5 16 5 12 2 24 9.5 20 5 12 2.5 20 12 48 7.5 16-3.5 4 0 8 4.5 4 3 12 11.5 16 0.5"/><path d="M100 639l8 0.5 4-0.5 8-3 16-10 24-18 12-12 12-15 20-28 24-29.5 8-9.5 20-20.5 8-11.5 8-9.5 4-1 4 1.5 8 1 8-7 4-0.5 4-3.5 4 2 4-5 8-24 8-20.5 4-9 16-29.5 12-18.5 40-58 12-13.5 8-8.5 4-2 4-0.5 4 0.5 4-0.5 4-1.5 8 8 4 5.5 4 7.5 4 4 4-12.5 4-9 4-2.5 8 16.5 4 1.5 4-16.5 4-13 4-9 4-3.5 4-1.5 8 10 4 8 4-8.5 4-17.5 4-12.5 4-9.5 4-9.5 8-15.5 12-21.5 8-7.5 12-10 12-6 12-7.5 20-10.5 4-1.5 8-1.5 8 1.5 12 16 4 4.5 4 3 8 3 12 6 4 0 8-2.5 4 0.5 4 8 4 10 8 23 8 20.5 4 4.5 8 4.5 4-1.5 8-6.5 16 31.5 4 1.5 8-18 4-6 8 8.5 4 7.5 8 19.5 12 3 8-2.5 4 3 4 4 4 0.5 16-3.5 8 8 4 3 8 3.5 4 0 12-12.5 4-3 16 5 12-15.5 12-17.5 4-0.5 8 3.5 4-2 8-10.5 4-1.5 8 7 4-1 12-7 12-8 8 3.5 4-0.5 16-11 4 2 8 9 4 8 4 16.5 4 29.5 4 24 4-8.5 4-31.5 4-23.5 4-9 4-1.5 12-0.5 12 6 4 1 8-4.5 4-1.5 12-2.5 12-4 4-2.5 8-13 4-8 8-18.5 4-5 8-6.5 20 10.5 4 4.5 4 7 8 12 8-10 4-4.5 8-6 8 7.5 4 7 8 16.5 12 19.5 16 7.5 16 5 20 10 12 10.5 24 22.5 16 9.5 16 12 20 35 4 6 20 25 12-4.5 4-0.5 12 2.5 4 2 8 6 12 16.5 4 4 4 2 12 2 16 6 12-3 4 1 16 9.5 4 0.5 12-6.5 4-1 12 6.5 16 12 4 1 12-0.5 16 5.5 12 1.5 24 9 16 3.5 16 4.5 20 13.5 48 6.5 16-4.5 4 0.5 8 4.5 4 2.5 12 12 16 0.5"/><path d="M100 639l12-0.5 12-4.5 12-7 24-18 12-12.5 12-15.5 12-17 36-45.5 12-13.5 12-11.5 8-10.5 8-9 4-1 4 1 8 0.5 8-6.5 4-0.5 4-3.5 4 2 4-5 8-24 8-21.5 4-9 12-23 16-25 40-57.5 20-22.5 4-2.5 4-0.5 4 0.5 4 0.5 4-1.5 8 9.5 4 5.5 4 8 4 4.5 4-12.5 4-9 4-3 8 15.5 4 0.5 4-17 4-13.5 4-9 4-3.5 4-1 8 11.5 4 8.5 4-8 4-17.5 4-12 4-10 4-9.5 8-16 12-22 8-8 12-10.5 12-5.5 32-17.5 4-1.5 8-2 8 1.5 12 16 4 4.5 4 3 8 2.5 12 5.5 4 0.5 8-2.5 4 1 4 8 4 11 8 25 8 22.5 4 5.5 8 5.5 4-1.5 8-6 8 16.5 8 14.5 4 1 8-18.5 4-6.5 8 8 4 7.5 8 19.5 12 5.5 8-1 8 7 4 0 16-5.5 8 8 4 3 8 4 4 0.5 16-15.5 16 4.5 24-31 4-0.5 8 4 4-2.5 8-11 4-2 8 6 4-1 24-13 8 3.5 4 0 16-11.5 4 2 4 4 4 4 4 6.5 4 12 4 20.5 4 16.5 4-5.5 4-22 4-16.5 4-6.5 4-1.5 12 0 12 6.5 4 1 12-6 24-9.5 4-2 8-13 4-8 8-18.5 4-5 8-6.5 20 11 4 5 12 20.5 12-14.5 8-7.5 4 3 4 4 4 6.5 8 17.5 12 20.5 16 8.5 16 6 16 8 4 3 12 11 20 16.5 4 3.5 16 9.5 16 13 20 34.5 4 5 20 23 12-4.5 4-0.5 8 1 4 1 12 8.5 12 15.5 4 4 4 2 12 2.5 16 7 12-3 4 1 16 10 4 1 12-6.5 4-1 12 7 16 11 4 1 12-2 16 6.5 12 1.5 4 1 20 7 16 4 16 4.5 20 13 20 3.5 28 3 16-5.5 4 0 8 4.5 4 3 12 11.5 16 0"/><path d="M100 642.5l8 0 4-1 8-4 20-13.5 20-12.5 8-7.5 4-4 12-15.5 12-17 12-16 24-28 24-26.5 8-12.5 8-9.5 4-0.5 4 1 8 1.5 8-6.5 4-0.5 4-3.5 4 2 4-4.5 8-23.5 8-21 4-9 16-29.5 20-31 20-29 12-17 12-13.5 8-8 4-1.5 4-1 4 1 4 0 4-1.5 8 9 4 5.5 4 7.5 4 4.5 4-12.5 4-9 4-3 8 16 4 1 4-17 4-13 4-9.5 4-3.5 4-1 4 4 4 6 4 8 4-8 4-17 4-11 8-17 20-37 8-7.5 12-10.5 12-6.5 12-7.5 20-10 4-1.5 8-1 8 2.5 12 16.5 4 4.5 4 3 8 2.5 12 5 4 0.5 8-2 4 1 4 7.5 20 72 4 8.5 4 4.5 4 3 4-0.5 8-5.5 8 16.5 8 14.5 4 1.5 8-19 4-6 8 8.5 4 7.5 8 20 12 5 8-1 4 3.5 4 4.5 4 0.5 16-3.5 8 8.5 4 3 8 4.5 4 0 12-11.5 4-3 16 5 24-32.5 4-0.5 8 4.5 4-2 8-10.5 4-1.5 8 6.5 4-1.5 24-15 8 3.5 4-0.5 16-10.5 4 2.5 12 11.5 4 2 8 2.5 4-0.5 8-4 4-1.5 12-0.5 4 0.5 4 2 8 3 4 0.5 8-6.5 8-4.5 12-5.5 8-1.5 4-2 8-12.5 4-7.5 8-17.5 4-5 8-6 20 11 4 5.5 12 20.5 12-13.5 8-6 8 8.5 4 7 8 18 12 20.5 16 8 16 5.5 16 8.5 4 3 20 19 12 10.5 4 3 16 10 16 12 16 26.5 4 5.5 24 21.5 12-7 4-1 8-1 4 2 12 8.5 12 16.5 4 4 4 2.5 12 3.5 16 7 12-1.5 4 1.5 16 14 4 1 12-6.5 4-1.5 12 6 16 12 4 1.5 12-1 16 6 12 1 4 1 20 7.5 16 3.5 16 4.5 20 11.5 12 1 24 0 12 0.5 16-5.5 4-0.5 8 4 4 3 12 11.5 16 0"/><path d="M100 644l8-0.5 4-1 8-3.5 16-9.5 24-17 12-12.5 4-5 12-15.5 16-22.5 12-15 16-18 24-25.5 8-11.5 8-9 4-1.5 4 1.5 8 0 8-7 4-0.5 4-3.5 4 2 4-5 8-23 8-20 4-8.5 16-29.5 12-18.5 32-47 8-10.5 20-21.5 4-2 4-1 4 0.5 4-0.5 4-2 8 9 4 5.5 4 7.5 4 4.5 4-12.5 4-9 4-3.5 8 15.5 4 0.5 4-17 4-13.5 4-8.5 4-3.5 4-0.5 8 10.5 4 8.5 4-8 4-16.5 4-11 8-17 20-35 8-7.5 12-10.5 12-6 12-7 20-9 4-1.5 8-1 8 1 12 15 4 4 4 2.5 8 2 12 6 4 0.5 8-2 4 1 4 8 20 79.5 4 10 4 4 4 3 4-1 8-5 16 32.5 4 2 8-18 4-6 8 9 4 7.5 8 20 12 5 8-1 8 8 4 0.5 16-4 8 8.5 4 3 8 4.5 4 1 16-14.5 16 4.5 24-31 4 0 8 4 4-2.5 8-10.5 4-1.5 8 6.5 4-1 12-6.5 12-8.5 8 3 4-0.5 16-11 4 2.5 12 12 4 2.5 8 2.5 4-0.5 8-4 4-1.5 8-0.5 8 0.5 4 2 8 3 4 0 12-9 16-10 8-2 4-2 8-12 4-7.5 8-17.5 4-4.5 8-6 12 7.5 8 5.5 4 5.5 4 8 8 13.5 12-13 8-6.5 4 3 4 4.5 4 7 8 17.5 12 20.5 16 8.5 16 7.5 20 11.5 36 32 16 9 8 6 8 6.5 16 27.5 4 5.5 4 3.5 20 14 12-10 4-2.5 8-2.5 4 2 12 10.5 12 18.5 4 4.5 4 2.5 12 3 16 8.5 12-0.5 4 1.5 16 12.5 4 1.5 12-6 4-1 12 6.5 16 10.5 4 1 12-1.5 16 6.5 12 2 20 7.5 20 4 16 5 20 11.5 16-0.5 24 1.5 8-0.5 16-6.5 4 0 8 3.5 4 3 12 10.5 16-0.5"/><path d="M100 641l8-0.5 4-0.5 8-4 24-14 16-11 12-12.5 4-5 32-43.5 24-28.5 24-25.5 8-11 8-9 4-1 4 1 8 0 4-4 4-3.5 4 0 4-3.5 4 2 4-4.5 8-24 8-20.5 4-8.5 12-23 16-25.5 32-48 8-11 12-12.5 8-7.5 4-1.5 4-1 4 1 4-0.5 4-1.5 8 8.5 4 5 4 7.5 4 4.5 4-13 4-9 4-3.5 8 15.5 4 0.5 4-17 4-13 4-9 4-3.5 4-1 8 11 4 8.5 4-8 4-17.5 4-11.5 4-9.5 4-8.5 20-36.5 8-8 12-10.5 12-6 12-7.5 20-9.5 4-1 8-1 8 2 12 15.5 4 4 4 3 8 2.5 12 5 4 0.5 8-2.5 4 0.5 4 8 20 65.5 4 7.5 8 7 4-1 8-5 8 16.5 8 14.5 4 1.5 8-18.5 4-6.5 8 8.5 4 8 8 19 12 4.5 8-2 4 3 4 4.5 4 0 16-3.5 8 8.5 4 3.5 8 4 4 0.5 16-15.5 16 4 24-31.5 4 0.5 8 4.5 4-2 8-10.5 4-1.5 8 6.5 4-1.5 24-14.5 8 3.5 4-0.5 16-11 4 2 12 11 4 2.5 8 2 4 0 8-4.5 4-1 12-0.5 4 0 12 5.5 4 0.5 12-6.5 12-4.5 4-2.5 8-2.5 4-2.5 8-13.5 12-25.5 4-4.5 8-5.5 20 12 4 5 12 19.5 12-13.5 8-6.5 8 7 4 7 8 17.5 12 21 12 7 4 2 16 5 16 8.5 4 3 16 15 20 17 16 9.5 16 12 20 33 24 26.5 12-6 4-1 8 0 4 1 12 8 12 16.5 4 4 4 2.5 12 2 16 6 12-2 4 1 16 13 4 1.5 12-5.5 4-1.5 12 5.5 16 11 4 1 12-1 16 5.5 12 1.5 4 1 20 8.5 16 3 16 5 20 11.5 32 4.5 16 1 16-5.5 4 0 8 4 4 2.5 12 11.5 16-0.5"/><path d="M100 639l8 0 4 0 8-3.5 16-9.5 24-17 12-12 12-15.5 12-18 12-16 24-29 24-26 8-12 8-9.5 4-1.5 4 1.5 8 1 8-6 4 0.5 4-3.5 4 2 4-5 8-24 8-21 4-9 12-23 12-18.5 24-33.5 20-30.5 12-15 8-8.5 4-2 4-0.5 4 1 4 0 4-1 8 9.5 4 5.5 4 8 4 4.5 4-12.5 4-9 4-3 8 16 4 0.5 4-17 4-13.5 4-9 4-3.5 4-1 4 4.5 4 5.5 4 8.5 4-8 4-18 4-12 4-9.5 4-9 8-15.5 12-21 8-8 12-11 12-7 12-7.5 20-10.5 4-1.5 8-1 8 1.5 12 15 4 4 4 3 8 3.5 12 6 4 0.5 8-2 4 0.5 4 8.5 4 10 8 23.5 8 21 4 5.5 8 5.5 4-1 8-6 8 16 8 14 4 1 8-19 4-6.5 8 8 4 7.5 8 19 12 4.5 8-2 4 2.5 4 4 4 0 16-4 8 8.5 4 3.5 8 4 4 0 12-12 4-3.5 16 4.5 24-31 4 0 8 4 4-2.5 8-11 4-1.5 8 6 4-1 8-4.5 16-10 8 3 4-0.5 16-11.5 4 2.5 8 8 4 7 4 14 4 24 4 20 4-7 4-25.5 4-19.5 4-7.5 4-1 12 0.5 12 6 4 1 8-4.5 4-1.5 12-3 12-4 4-3 8-13.5 12-26.5 4-4.5 8-6.5 20 10.5 4 4.5 12 18.5 8-9.5 4-4 8-6.5 8 7.5 4 6.5 8 17 12 19 16 8 16 6.5 20 10.5 36 31.5 16 9.5 16 12 20 33 24 31 12-3.5 4-0.5 12 3 12 8.5 12 16 4 3.5 4 2.5 12 1.5 16 5.5 12-3.5 4 1 16 10.5 4 1 12-6.5 4-1 12 6.5 16 12 4 1 12-1.5 16 6.5 12 2 4 1 16 7 20 3 8 2.5 8 3 20 14 20 3.5 16 1.5 12 2 16-4 4 0 8 4 4 3 12 10.5 16-0.5"/><path d="M100 642l12 0.5 8-3.5 16-10 24-17 12-12 4-4.5 32-43 48-56 8-11.5 8-8.5 4-1 4 1.5 8 0.5 8-6.5 4 0 4-3.5 4 2 4-5 8-24.5 8-21 4-8.5 12-22.5 16-25 32-47.5 8-10.5 20-21.5 4-2.5 4-1 4 0.5 4-0.5 4-2 8 8.5 4 5.5 4 7.5 4 5 4-12 4-8.5 4-3 8 16.5 4 1 4-17 4-13.5 4-9 4-3.5 4-1 8 10 4 8.5 4-8 4-17 4-11.5 8-17.5 20-36 8-7.5 12-10 12-5.5 12-7 20-8.5 12-2.5 8 1 16 18.5 4 3 8 3.5 8 4.5 4 2 4 0 8-2.5 4 0.5 4 7.5 20 75 4 9 4 4 4 3 4-0.5 8-5 8 16.5 8 15 4 1.5 8-18 4-6 8 9 4 7.5 8 20 12 5 8-1 8 8 4 0.5 16-4.5 8 8.5 4 3 8 4 4 0 12-12 4-3.5 16 4.5 24-31.5 4 0 8 4 4-2.5 8-10 4-1.5 8 7 4-1 8-4 16-10 8 3.5 4-0.5 16-10 4 2 8 8 8 8.5 8 10.5 4-1.5 8-11.5 4-3 16-1 4 1.5 8 2.5 4 0 12-9 16-8.5 8-1.5 4-2.5 8-12 4-7.5 8-17.5 4-4.5 8-5 20 12 4 5.5 12 20 12-13.5 8-6.5 4 3.5 4 4.5 4 7.5 8 18.5 12 21 12 7 4 1.5 16 5 16 8.5 4 2.5 16 15.5 16 13.5 4 3 16 9 12 9.5 4 3 16 27.5 4 6 4 4 20 17 12-8.5 4-2.5 8-1.5 4 1.5 12 9 12 17 4 4 4 3 12 4 16 8 12-2 4 1.5 16 13.5 4 1 12-7 4-1.5 12 6 16 12.5 4 1.5 12-1.5 16 5.5 12 2.5 24 10 32 7 20 10.5 20 2 28 0.5 16-5 4 0 8 4 4 3 12 10 16-1"/><path d="M100 641.5l12 0.5 8-3.5 16-9.5 24-18 12-12.5 4-5 20-26.5 36-46 12-13.5 12-13 8-10.5 8-9 4-0.5 4 1 8 1 4-4 4-3 4 0 4-3.5 4 2 4-4.5 12-36 8-19.5 12-22.5 48-72 8-10.5 20-20.5 4-2 4-1 4 0.5 4-0.5 4-1.5 8 9 4 6 4 7.5 4 4.5 4-13 4-9 4-4 8 15 4 0.5 4-17 4-13 4-9 4-3.5 4-0.5 8 11 4 8.5 4-8 4-16.5 4-12 8-17.5 20-35.5 12-12.5 8-7 12-6.5 12-7.5 20-9.5 4-1 8-1 8 2 12 16 4 4 4 3 8 2.5 12 5.5 4 0.5 8-2 4 1 4 8 20 67.5 4 7.5 8 6.5 4-1 8-6 16 31 4 2 8-17.5 4-6 8 8.5 4 7.5 8 19 12 4.5 8-1.5 4 3.5 4 4.5 4 0.5 16-4.5 8 8.5 4 3 8 4.5 4 0 12-11.5 4-3 16 5.5 24-33 4-0.5 8 4.5 4-2 8-10.5 4-1.5 8 7 4-1 12-6.5 12-8 8 3 4-0.5 16-11 4 2.5 4 3.5 4 4 4 5.5 4 9 4 14.5 4 12 4-4.5 4-16 4-12.5 4-5.5 4-0.5 12 0.5 4 2.5 8 3.5 4 0.5 12-7.5 16-8 8-2.5 4-2.5 8-12.5 4-7.5 8-18 4-5 8-6 20 12 4 5 4 7.5 8 13 12-13.5 8-6.5 4 3 4 4.5 4 7 8 17.5 12 21 16 9 16 5.5 16 8 4 2.5 16 14.5 20 19.5 20 11.5 12 8 20 33 4 4.5 20 20 12-7.5 4-1.5 8-1 4 1 12 9.5 12 16.5 4 4 4 2.5 12 2 16 8 12-1 4 2 16 12.5 4 0.5 12-7 4-1.5 12 6 16 11 4 1 12 0 16 6.5 12 1 4 1 20 8 16 3.5 16 4.5 20 12.5 32 1.5 16 2 16-5 4-0.5 8 4 4 2.5 12 12 16-0.5"/><path d="M100 643.5l8-0.5 4-0.5 12-6.5 12-7.5 24-17 12-11.5 12-15 24-34 24-27.5 24-26.5 8-12 8-9.5 4-1 4 1 8 1.5 8-6.5 4 0 4-3.5 4 2 4-4.5 8-24 8-21 4-9 12-23 4-6.5 40-59 12-16.5 20-21 4-2 4-0.5 4 0.5 4 0 4-2 8 9 4 5 4 7.5 4 4.5 4-13 4-9 4-3 8 15.5 4 0.5 4-16.5 4-13.5 4-9 4-3.5 4-1 8 10.5 4 8 4-8 4-16.5 4-11.5 8-16.5 20-35 8-7.5 12-10 12-6.5 12-8 20-9.5 4-1.5 8-1.5 8 1.5 12 16 4 4.5 4 3 8 2.5 12 5.5 4 0.5 8-2 4 1 4 8 20 77 4 9 4 4 4 3 4-1 8-6 16 31 4 1.5 8-18 4-6 8 8.5 4 7.5 8 19.5 12 5 8-1 4 3.5 4 4 4 0.5 16-4 8 8 4 3 8 4.5 4 1 16-14.5 16 4 24-31.5 4 0 8 4 4-2 8-10 4-1.5 8 7 4-1.5 24-14.5 8 3 4-0.5 16-11 4 2.5 12 11.5 4 2.5 8 2 4-0.5 8-4 4-1 16 0.5 4 2 4 1.5 4 1 4 0 12-9 16-8.5 8-1.5 4-2 8-12.5 4-7.5 8-17.5 4-5 8-6 20 12.5 4 5.5 4 7.5 8 13 12-13.5 8-6 8 7.5 4 7 8 17.5 12 21 16 9 16 5.5 16 8.5 4 3 20 19.5 12 11 4 3 16 9 16 12.5 16 27 4 6 4 4 20 16.5 12-9.5 4-2.5 8-2 4 1.5 12 10 12 17.5 4 4.5 4 2.5 12 3 16 8 12-1.5 4 1 16 12 4 1 12-6 4-1 12 6 16 11 4 1.5 12-1 16 7 12 2 4 1 20 9.5 32 6 8 4 12 8 16 2 32 0 16-6.5 4 0 8 4 4 3 12 11.5 16-0.5"/><path d="M100 638.5l12-1 8-3.5 12-6.5 28-20 12-11.5 12-14.5 12-18 12-16 48-54.5 8-11.5 8-9.5 4-1 4 1.5 8 1 8-6.5 4 0 4-3.5 4 1.5 4-5 8-24 8-21 4-8.5 12-22.5 16-25 40-59.5 12-13.5 8-8 4-2 4-0.5 4 0.5 4-0.5 4-1.5 8 9 4 5.5 4 8 4 5 4-12.5 4-8.5 4-3 8 15.5 4 1 4-17 4-13.5 4-9.5 4-3.5 4-1.5 4 4.5 4 5.5 4 8 4-8 4-17.5 4-12.5 4-9.5 4-9 8-16 12-22 8-7.5 12-9.5 12-6 12-9.5 8-4.5 12-6 4-0.5 8-1 8 2.5 12 15.5 4 4 4 3 8 3 12 5.5 4 0.5 8-2.5 4 0.5 4 8 4 10 16 42.5 4 5 8 6 4-1 8-5.5 8 16.5 8 15 4 1.5 8-19 4-6 8 8 4 8 8 19 12 4 8-2.5 4 3 4 3.5 4 0.5 16-5 8 7.5 4 3 8 3.5 4 0 12-12.5 4-3.5 16 4.5 24-30.5 4-0.5 8 4 4-2.5 8-10.5 4-2 8 6.5 4-1 8-4 16-10 8 3 4-0.5 16-10.5 4 2.5 12 11 4 2.5 8 2.5 4-0.5 8-4 4-1.5 12 0.5 4 0.5 12 7.5 4 1 12-6 24-8.5 4-2.5 8-12.5 4-8 8-18.5 4-5 8-6.5 20 10.5 4 4.5 12 19.5 12-14.5 8-7 4 3 4 4.5 4 6.5 8 17.5 12 20 16 8.5 16 5 16 7 4 2 36 32.5 16 9.5 16 11.5 20 33.5 24 32 12-3.5 4-0.5 12 3 12 8 12 16.5 4 3.5 4 2 12 1 16 6 12-2 4 0.5 16 10 4 1 12-5.5 4-0.5 12 6.5 16 10.5 4 0.5 12-1 16 6 12 1.5 4 1 20 9 16 3.5 16 4 20 14 20 4 20 2 8 0.5 16-6 4 0 8 4.5 4 3 12 12.5 16 0.5"/><path d="M100 639l12 0 8-3 16-9.5 24-17.5 12-12 12-15.5 8-11.5 16-21 24-29 24-26.5 8-12 8-9 4-1 4 1.5 8 1 8-7 4 0 4-3.5 4 2 4-5 8-23.5 8-20 4-9 16-30 12-19 32-48 8-10.5 20-21 4-2 4-1 4 1 4-0.5 4-1.5 8 8.5 4 5.5 4 7.5 4 4.5 4-12.5 4-9 4-3 8 16 4 0.5 4-16.5 4-13.5 4-9 4-3.5 4-1 8 10.5 4 8.5 4-7.5 4-17.5 4-12.5 8-18.5 20-38.5 8-8 12-10 12-5 12-7.5 20-10 4-1.5 8-1.5 8 1.5 12 15 4 4 4 2.5 8 2.5 12 5.5 4 0.5 8-1.5 4 1 4 8.5 20 56 4 5 8 5.5 4-1.5 8-5.5 8 16.5 8 15 4 1 8-19 4-6.5 8 7.5 4 7 8 19 12 4 8-1.5 8 8 4 0.5 16-5 8 8 4 3.5 8 4 4 0 12-12 4-3.5 16 4 24-33 4 0 8 4 4-2.5 8-10.5 4-1 8 6.5 4-1 12-6 12-8 8 3 4-1 16-11 4 2 8 9 4 7.5 4 17 4 30.5 4 25 4-9 4-32.5 4-24.5 4-9.5 4-1.5 12 0.5 12 6.5 4 1 8-4 16-5 12-4.5 4-3 8-13 4-8.5 8-18.5 4-5.5 8-6.5 20 10.5 4 5 12 20 12-13 8-6.5 8 7 4 7 8 17 12 19.5 16 8 16 4.5 16 8 4 2.5 36 32.5 16 10 16 11.5 20 33 8 11 16 19 12-4 4-0.5 12 2 12 8.5 12 16 4 4 4 2 12 2.5 16 6.5 12-2.5 4 1 16 10.5 4 0.5 12-6 4-1.5 12 6 16 11 4 1 12-0.5 16 7 12 1 4 1.5 16 7 20 4.5 16 4.5 20 13.5 48 6 16-4.5 4 0 8 4.5 4 3 12 12 16-0.5"/><path d="M100 642.5l8 0.5 4-0.5 8-4 40-28 12-11 12-14 20-29 8-11 20-23.5 24-26.5 8-12 8-9 4-1 4 1 8 1.5 8-7 4 0 4-3.5 4 2 4-5 8-23.5 8-21 4-8.5 16-29.5 52-77.5 12-14 8-8 4-2 4-0.5 4 1 4 0 4-1.5 8 9 4 5.5 4 7.5 4 4.5 4-12.5 4-9 4-3.5 8 15.5 4 0.5 4-17 4-13.5 4-9 4-3 4-1 8 11 4 8.5 4-8.5 4-17 4-11.5 4-9 4-8.5 20-34.5 12-11.5 8-7 12-6 12-7.5 20-10 4-1.5 8-1 8 2 12 15.5 4 4 4 3 8 3 12 6 4 0.5 8-2 4 0.5 4 8 20 67.5 4 8 8 6 4-1 8-5.5 16 31 4 1.5 8-18 4-6 8 9 4 8 8 19.5 12 4 8-2.5 4 2.5 4 4 4 0.5 16-3.5 8 9 4 4 8 4.5 4 0.5 12-12 4-3 16 4.5 24-32 4 0 8 4 4-2.5 8-10 4-1.5 8 6.5 4-1 12-6.5 12-8 8 3 4-0.5 16-11.5 4 2 8 8.5 4 8 4 17 4 31 4 25.5 4-9.5 4-33 4-25 4-10 4-1.5 12 0 4 2.5 8 3.5 4 0.5 12-8 16-7.5 8-2.5 4-2 8-13 4-7.5 8-18 4-4.5 8-6 20 12.5 4 5.5 4 7.5 8 12.5 12-14 8-6.5 4 3.5 4 4.5 4 7.5 8 17.5 12 20.5 16 8.5 16 5 16 8.5 4 2.5 16 15 16 14 4 3 16 9.5 16 12 20 32.5 24 24 12-7 4-1.5 8-1 4 1.5 12 9.5 12 16.5 4 4 4 2.5 12 2.5 16 8 12-1.5 4 1 16 13 4 1 12-6 4-1.5 12 5.5 16 11 4 0.5 12-1.5 16 5.5 12 2.5 20 9 36 10.5 20 11 48 3 16-6 4-0.5 8 4 4 3 12 11 16 0.5"/><path d="M100 641l12 0 8-3.5 4-2 12-8 24-17 12-11.5 12-14.5 20-28.5 16-21 12-14 24-25.5 8-11 8-9 4-1.5 4 1 8 0.5 8-7 4-0.5 4-3.5 4 2 4-4.5 8-24 8-20.5 4-9 16-30 12-18 20-29 12-19 8-11 12-14 8-8 4-2 4-0.5 4 1 4-0.5 4-1.5 8 9 4 5.5 4 8 4 4.5 4-12.5 4-9 4-2.5 8 16 4 1 4-16.5 4-13.5 4-8.5 4-3.5 4-1 8 10 4 8 4-8 4-17 4-12 8-18 20-37.5 4-4.5 8-8 8-6 12-4.5 16-9.5 16-8.5 4-1 8-1 8 1.5 12 14 4 4 4 3 8 3 12 6.5 4 1 8-2.5 4 0.5 4 8 20 65 4 8 8 7 4-0.5 8-5.5 8 16.5 8 14.5 4 1.5 8-18.5 4-6 8 8 4 8 8 19.5 12 5 8-1.5 4 3 4 4 4 0 16-3.5 8 8.5 4 3.5 8 4 4 0 12-12.5 4-3 16 3.5 24-31.5 4 0 8 4.5 4-2.5 8-10.5 4-1.5 8 7 4-1 12-6.5 12-8 8 3 4-0.5 16-11.5 4 2.5 12 12 4 2.5 8 3.5 4-0.5 8-5 4-1.5 12 0 4 0 12 6 4 1 8-4.5 12-4.5 8-4.5 8-3 4-3 8-13 4-7.5 8-18 4-4.5 8-6 20 11.5 4 5 4 7.5 8 12 12-14 8-7 4 3.5 4 4 4 6.5 8 17.5 12 21 16 9 16 6 20 11 36 31 16 10 16 13 20 32.5 24 26 12-6 4-1.5 8 0 4 1 12 8.5 12 16 4 3.5 4 2.5 12 2 16 8 12-1 4 1 16 11.5 4 1 12-6.5 4-1.5 12 6.5 16 12 4 1 12-2 8 2.5 8 3.5 12 3 24 9.5 32 6.5 20 11.5 24 3.5 24 1 16-6 4 0.5 8 4.5 4 3 12 11.5 16-0.5"/><path d="M100 641l8 0 4-0.5 8-3.5 28-17.5 12-8.5 12-12.5 4-5.5 8-10.5 20-29.5 8-10.5 20-23 24-24.5 8-12 8-10 4-1.5 12 2 4-3.5 4-2.5 4 0.5 4-3 4 2.5 4-5 8-24 8-21.5 4-9 12-22.5 12-19 24-35.5 12-18.5 8-11 12-13 8-7.5 4-1.5 4-1 4 0.5 4-0.5 4-1.5 8 8 4 5 4 7.5 4 4.5 4-12.5 4-8.5 4-3 8 16.5 4 1.5 4-17 4-13 4-9 4-3.5 4-1.5 8 10 4 8 4-8.5 4-17.5 4-12 8-17.5 20-36 8-8 12-10 12-6 12-8 20-9.5 4-1.5 8-1.5 8 2 12 15.5 4 4 4 3 8 2.5 12 6 4 0.5 8-2.5 4 1 4 8 20 63.5 4 6.5 8 6 4-1 8-5.5 8 16 8 15 4 1 8-18.5 4-6 8 8.5 4 7.5 8 20 12 4 8-1.5 4 3 4 4 4 0.5 16-4.5 12 12 8 4.5 4 0.5 16-15 16 4 24-33 4 0 8 3.5 4-2 8-10.5 4-2 8 6 4-1 24-14 8 3 4-0.5 16-10.5 4 2.5 8 8.5 4 5.5 4 7 4 10.5 4 8.5 4-3 4-11.5 4-9 4-3.5 4-0.5 12 0.5 4 2 8 3.5 4 0.5 8-5.5 4-2 16-6 8-2 4-2.5 8-13.5 12-26 4-4.5 8-6.5 20 11 4 4.5 4 7.5 8 12 8-10 4-4 8-6 8 8 4 7 8 17.5 12 20 16 8 16 5.5 16 8.5 4 3 36 31.5 16 10 16 11.5 20 33 24 28.5 12-5 4-1.5 8 0 4 1 12 7.5 12 16 4 3.5 4 2.5 12 2.5 16 7 12-1.5 4 1.5 16 12 4 1 12-6 4-1 12 6.5 16 10.5 4 1 12-1.5 16 6 12 2 20 7.5 20 3.5 16 5.5 20 12 28 4.5 20 1 16-5.5 4 0.5 8 4 4 2.5 12 10.5 16-0.5"/><path d="M100 640.5l8-0.5 4-0.5 8-3.5 12-8 28-19.5 12-11 12-15 12-18 8-11 40-46 12-13 8-11.5 8-9 4-1 4 1 8 1 8-7 4 0 4-3.5 4 2 4-5 8-23.5 8-21 4-9 12-23 12-18.5 20-28.5 16-26 8-12 12-13 8-7.5 4-1.5 4-0.5 4 1 4 0 4-1.5 8 8.5 4 5.5 4 7 4 4.5 4-13 4-9.5 4-3 8 15.5 4 1 4-16.5 4-13.5 4-8.5 4-3.5 4-1 8 10.5 4 8.5 4-8 4-17.5 4-12 8-17.5 20-37 8-8 12-10.5 24-14.5 20-8.5 4-1.5 8-1.5 8 2 12 15.5 4 4 4 3 8 2 12 5 4 0.5 8-1.5 4 1 4 8.5 20 61.5 4 6.5 8 5.5 4-1 8-6 16 30.5 4 1.5 8-18.5 4-6 8 8 4 7.5 8 19 12 5 8-1.5 4 3.5 4 4 4 0.5 16-4.5 12 11.5 8 4.5 4 0.5 16-15.5 16 3 24-31 4 0 8 4.5 4-2.5 8-11 4-2 8 6 4-1 12-6.5 12-7 8 3 4-0.5 16-11 4 2.5 4 4 4 4.5 4 7 4 13.5 4 22.5 4 19 4-6.5 4-24 4-18.5 4-7.5 4-1 12-1 12 5.5 4 1 12-6.5 12-3.5 12-5 4-2.5 8-13 4-8 8-18 4-4.5 8-6.5 20 10.5 4 5 12 19 8-10 4-3.5 8-6 8 7.5 4 7 8 17 12 19.5 16 9 16 6 16 7.5 4 2.5 36 33.5 16 9.5 16 11.5 20 32 24 28.5 12-5 4-1 8 0 4 1 12 8 12 16.5 4 4 4 2.5 12 2.5 16 6.5 12-2.5 4 1 16 12 4 0.5 12-6.5 4-1.5 12 6.5 16 12.5 4 1 12-0.5 16 6 16 2 16 5 20 4.5 16 5 20 13 24 5 20 1.5 4 0 16-6 4 0 8 4.5 4 3 12 11 16-1"/><path d="M100 637.5l12-1 12-4.5 12-6.5 24-16.5 8-7.5 8-9 8-10.5 8-12 12-16.5 28-36 12-13 12-12.5 8-11 8-9.5 4-1 4 1.5 8 0.5 8-6.5 4 0.5 4-3.5 4 2 4-5 8-24 8-20.5 4-9 12-22.5 16-25 40-60 16-17.5 4-3.5 4-1.5 4-0.5 4 1.5 4 0 4-1 8 9 4 5.5 4 7 4 4.5 4-12.5 4-9.5 4-3 8 15.5 4 0.5 4-17 4-13.5 4-9 4-3.5 4-1 4 4.5 4 6 4 8 4-8 4-17.5 4-12 8-19 20-38 8-8.5 12-11 12-5.5 12-7.5 20-10.5 4-1 8-1 8 1.5 12 15 4 4 4 3.5 8 3 12 6.5 4 0.5 8-2.5 4 1 4 7.5 4 10 16 43 4 4.5 8 5.5 4-1 8-6 16 29.5 4 1.5 8-18.5 4-6 8 8.5 4 7.5 8 19 12 3.5 8-1.5 4 3.5 4 4.5 4 0.5 16-5.5 8 8 4 3 8 4 4 0 12-12 4-3.5 16 4 24-33 4 0 8 4.5 4-2 8-10.5 4-1.5 8 6 4-1 24-14 8 4 4-0.5 16-10.5 4 2 12 11.5 4 2 8 2.5 4-0.5 8-4 4-1.5 12 0.5 4 1 12 7.5 4 1 12-5.5 12-3.5 12-4.5 4-3 8-13.5 4-8 8-18.5 4-5 8-6.5 20 9.5 4 4.5 12 19 8-9.5 4-4 8-6.5 8 8 4 6.5 8 17 12 19 16 8 16 5.5 16 7.5 4 2.5 28 26 8 6.5 16 9 16 12 20 33 24 31.5 12-3 4 0 12 4 12 7.5 12 15 4 3 4 2 12 1.5 16 6.5 12-2 4 1 16 11.5 4 0.5 12-6.5 4-1.5 12 5.5 16 11 4 1 12-1 16 7 12 1.5 20 7.5 20 3.5 16 5.5 20 13.5 20 3.5 28 3.5 16-4 4 0.5 8 4.5 4 3.5 12 12 16-0.5"/><path d="M100 638.5l8 0 4-0.5 8-3.5 16-9.5 24-18 12-11.5 4-4.5 8-9.5 20-29 8-10 20-24 24-25.5 8-11 8-9 4-1 4 1.5 8 0.5 8-7 4 0 4-3.5 4 1.5 4-5 8-24 8-20.5 4-9 16-29.5 12-19 32-47.5 8-11 12-13 8-7.5 4-2 4-0.5 4 0.5 4 0 4-1.5 8 9 4 5 4 7.5 4 4.5 4-13 4-9 4-3 8 15.5 4 0.5 4-17 4-13.5 4-9 4-3.5 4-1 4 5 4 5.5 4 8.5 4-7.5 4-17.5 4-12 4-9.5 12-25 12-22 8-8.5 12-10.5 12-6 12-7.5 20-9.5 4-1 8-1 8 1.5 12 14 4 4 4 2.5 8 2 12 5 4 0.5 8-2.5 4 1 4 8 4 10 16 44 4 5 8 6.5 4-1 8-5 8 15.5 8 14 4 0.5 8-19 4-6.5 8 8.5 4 7.5 8 19.5 12 4 8-1.5 4 3 4 4 4 0 16-6 12 10.5 8 4 4 0.5 16-15 16 4.5 24-32 4 0 8 3.5 4-2 8-10 4-1.5 8 7 4-1 8-4.5 16-10.5 8 3 4-0.5 16-10.5 4 2.5 8 8.5 4 7 4 14.5 4 25.5 4 21 4-7.5 4-27.5 4-20.5 4-8 4-1.5 12 0 12 7.5 4 1 12-6 12-3.5 12-5 4-2.5 8-13.5 12-26 4-4.5 8-6 20 10.5 4 4.5 12 19.5 12-14.5 8-7 4 3 4 3.5 4 7 8 17 12 20.5 16 8 16 5 16 7 4 2.5 16 15 16 13.5 4 3 16 8.5 16 12.5 20 34.5 4 6 20 26 12-3 4-0.5 12 3 12 7 12 15.5 4 3.5 4 2 12 2 16 7 12-2.5 4 1 16 11 4 0.5 12-7 4-1 12 6 16 11.5 4 0.5 12-1.5 16 7 12 1.5 4 1.5 16 6.5 20 4 16 5 20 13.5 12 2 36 3.5 16-4.5 4 0.5 8 5 4 3.5 12 11.5 16-0.5"/><path d="M100 638l12-0.5 8-3 16-9 24-17 12-11.5 4-5 8-10 12-18 12-16 24-28 24-26 8-11.5 8-9.5 4-1 4 1 8 0.5 8-6.5 4 0 4-3.5 4 2 4-5 8-24 8-20.5 4-9 12-22.5 16-25 40-59 12-14 8-8.5 4-2.5 4-0.5 4 0.5 4-0.5 4-1.5 8 9 4 5.5 4 8 4 4.5 4-12.5 4-8.5 4-3.5 8 16 4 0.5 4-17 4-13 4-9 4-3.5 4-0.5 8 11 4 8.5 4-8 4-18 4-12.5 4-10 4-9.5 8-16 12-21.5 8-8 12-9.5 12-6 16-9.5 16-7.5 4-1.5 8-0.5 8 2 12 15 4 3.5 4 2.5 8 2 12 6 4 1 8-1.5 4 1 4 8 12 34.5 8 21 4 5 8 5.5 4-1 8-6 8 15.5 8 14 4 1 8-18.5 4-6 8 8.5 4 8 8 19.5 12 3.5 8-1.5 4 3 4 4 4 0 16-5 8 8 4 3 8 4 4 0.5 16-15 16 3 24-32 4 0 8 4.5 4-2 8-10 4-2 8 6.5 4-1 8-5 16-11 8 3 4-0.5 16-9.5 4 2.5 12 12.5 4 2.5 8 2.5 4 0 8-4.5 4-1.5 12-0.5 4 0 12 6 4 1.5 8-4.5 4-1 12-3 12-4.5 4-3 8-13.5 12-26.5 4-4.5 8-6.5 20 10.5 4 5 12 20 12-14 8-7.5 4 3 4 4 4 6.5 8 17.5 12 19.5 16 8.5 16 5.5 16 8.5 4 3 36 31 16 10 16 12 20 32.5 24 30.5 12-3 4 0 12 2.5 12 8.5 12 16 4 4 4 2 12 1.5 16 5.5 12-2.5 4 1 16 11 4 0.5 12-6.5 4-1.5 12 6 16 11 4 1 12-1.5 16 6.5 12 1.5 4 1 20 8.5 32 7.5 20 13 20 4.5 28 3 16-5 4 0 8 4 4 2.5 12 12 16 1"/><path d="M100 640l8 0 4-1 8-3.5 20-11.5 20-13.5 12-12.5 36-49 24-27.5 24-25 8-11.5 8-10 4-1 4 1 8 1 8-7 4 0 4-4 4 2 4-5.5 8-24 8-21 4-9 12-22.5 48-73 8-11 16-17 4-4 4-1.5 4-1 4 1 4-0.5 4-1.5 8 8 4 5 4 7.5 4 4.5 4-12 4-9 4-3 8 16 4 1 4-17 4-13.5 4-9 4-3.5 4-0.5 8 10.5 4 8.5 4-8 4-17.5 4-12.5 4-9 4-9 20-35.5 12-11.5 8-7 12-5.5 12-7 20-10.5 4-1.5 8-1.5 8 1.5 12 15 4 4.5 4 2.5 8 2.5 12 6 4 0.5 8-1.5 4 1 4 8.5 20 63 4 6.5 8 6 4-1 8-5.5 8 16.5 8 14.5 4 1 8-18.5 4-6.5 8 7.5 4 8 8 19.5 12 5 8-1 8 7 4 0.5 16-6 12 11.5 8 4.5 4 1 16-15 16 3.5 24-32 4-0.5 8 4.5 4-2 8-10.5 4-1.5 8 6.5 4-1 8-4.5 16-10.5 8 3 4-0.5 16-10.5 4 2.5 4 4 4 4 4 6 4 10 4 17 4 14 4-5.5 4-18 4-14.5 4-5.5 4-0.5 12 0 12 5.5 4 0.5 12-7 16-6.5 8-3 4-2 8-12.5 4-7.5 8-18 4-4.5 8-6 20 12 4 5 4 7.5 8 12 12-14.5 8-6.5 4 3 4 4.5 4 7 8 17.5 12 19.5 16 8 16 6.5 20 10.5 16 13 20 18 16 9.5 8 6.5 8 7 20 34.5 12 14 12 13 12-6.5 4-1.5 8 0 4 1 12 8.5 12 17 4 3.5 4 2.5 12 2.5 16 7 12-2.5 4 1 16 12 4 1 12-6 4-1.5 12 6 16 11 4 0.5 12-0.5 16 6.5 12 2 20 7 20 4.5 16 5 20 12 28 3.5 20 2 16-5.5 4 0 8 4.5 4 2.5 12 11.5 16 0"/><path d="M100 639.5l12-0.5 12-5.5 12-7.5 24-17 12-11 12-14.5 24-34 20-23.5 28-31 8-11.5 8-9 4-1 4 1.5 8 0.5 8-7 4 0 4-3.5 4 2.5 4-5 8-24 8-21 4-9 16-30 44-66 8-11 20-21.5 4-2 4-1 4 0.5 4 0 4-1.5 8 8.5 4 6 4 7.5 4 4.5 4-12.5 4-9 4-3 8 15.5 4 1 4-17 4-14 4-9 4-3.5 4-1 4 5 4 6 4 8.5 4-7.5 4-17.5 4-12 4-9.5 4-9.5 8-15.5 12-22 8-7.5 12-9.5 12-5.5 12-7.5 20-10.5 4-1 8-2 8 1.5 12 15.5 4 4 4 3.5 8 2.5 12 5.5 4 0.5 8-1.5 4 1 4 8 20 60.5 4 6 8 6 4-1 8-6 8 16.5 8 14 4 1 8-18.5 4-6.5 8 8 4 8 8 19.5 12 5 8-1 8 7 4 0.5 16-5 8 8 4 3.5 8 5 4 0.5 16-15 16 4.5 24-32 4-0.5 8 4 4-2.5 8-10.5 4-1.5 8 6.5 4-1 24-15.5 8 3.5 4-0.5 16-10.5 4 2 4 4 4 4.5 4 7 4 13.5 4 23 4 19 4-7 4-24.5 4-19 4-7.5 4-1 12 0.5 12 6.5 4 1 12-7 24-10 4-2.5 8-13.5 12-25.5 4-5 8-6 20 11 4 5 12 20 12-13.5 8-6.5 8 7.5 4 7 8 17.5 12 20 16 8 16 5 16 6 4 2.5 8 7 20 19.5 8 7 16 9.5 16 12.5 20 33 24 28.5 12-5.5 4-1 8 0.5 4 1 12 8 12 15.5 4 4 4 2 12 3 16 7 12-2 4 1 16 12.5 4 1 12-5.5 4-1 12 6.5 16 11 4 0.5 12-1.5 16 5.5 12 1 4 1 16 6.5 20 5 16 5.5 20 11.5 32 4.5 16 1 16-5.5 4 0 8 4 4 3 12 12 16 0.5"/><path d="M100 642l8-0.5 4-0.5 8-3.5 16-9.5 20-13 4-2.5 4-3.5 8-8 4-5 8-10.5 12-17.5 12-16 24-29 24-26.5 8-11.5 8-8.5 4-0.5 4 1 8 1 8-7.5 4 0 4-4 4 2 4-5 8-23.5 12-30 16-30.5 12-18.5 20-28.5 12-18 8-10.5 20-20.5 4-2 4-1.5 4 0.5 4-0.5 4-2 8 9 4 5.5 4 8 4 4.5 4-12.5 4-9 4-3 8 15.5 4 0.5 4-16.5 4-13.5 4-9 4-3 4-1 8 10.5 4 8.5 4-8 4-17 4-11.5 8-17 20-35.5 8-8 12-10.5 12-6 12-7.5 20-9.5 12-3 8 1 16 19.5 4 3.5 8 3.5 8 4.5 4 2 4 0.5 8-2.5 4 0.5 4 8 20 73.5 4 8.5 4 4.5 4 3 4-0.5 8-5 8 16 8 14.5 4 1 8-18.5 4-6.5 8 9 4 8 8 19.5 12 5 8-1.5 4 3 4 4.5 4 0 16-4 8 8.5 4 3.5 8 4.5 4 0.5 16-15 16 4.5 24-32 4-0.5 8 4.5 4-2 8-10.5 4-1 8 6.5 4-1 8-4.5 16-10.5 8 3 4-0.5 16-9.5 4 2.5 4 4.5 4 5 4 6.5 4 11.5 4 19 4 16 4-6 4-21 4-16.5 4-6.5 4-1.5 12-1 4 2 8 2.5 4 0 12-8.5 16-8.5 8-2 4-2 8-12.5 4-7.5 8-17.5 4-4.5 8-6 20 11.5 4 5.5 12 21 12-12.5 8-6.5 8 7.5 4 7 8 17.5 12 21 12 7 20 8 16 8 4 3 36 33 16 9.5 16 12 20 32 12 11.5 12 10 12-8.5 4-2 8-1 4 1.5 12 9 12 16.5 4 4 4 2.5 12 3.5 16 8.5 12-1 4 1.5 16 13 4 1 12-5.5 4-1.5 12 6 16 10 4 0.5 12-1.5 16 6.5 12 1.5 4 1.5 16 6.5 16 4 20 6 20 11.5 48 2 16-5 4 0 8 4 4 2.5 12 11 16-0.5"/><path d="M100 638.5l8 0.5 4-0.5 8-3.5 12-8 28-19.5 4-4 8-8 4-5 8-10.5 12-17.5 12-16 24-27.5 24-26.5 8-11.5 8-9.5 4-1.5 4 1 8 0.5 4-3.5 4-3 4 0.5 4-3.5 4 2.5 4-5 8-23.5 8-21 4-9 16-30.5 12-18 20-28.5 20-29 12-14.5 8-8.5 4-2.5 4-0.5 4 0.5 4 0 4-1.5 8 9.5 4 5.5 4 8 4 4.5 4-12.5 4-9 4-3 8 16 4 1 4-17 4-13 4-9 4-3.5 4-1 4 4.5 4 6 4 8 4-8 4-17.5 4-12.5 4-10 4-9.5 8-16 12-22 8-8 12-9.5 12-6 12-7.5 20-10 4-1.5 8-1.5 8 1.5 12 14.5 4 4.5 4 2.5 8 2.5 12 5.5 4 0.5 8-2 4 1 4 7.5 4 9.5 16 42.5 4 5 8 6 4-1 8-5 8 16.5 8 14.5 4 1.5 8-19.5 4-6.5 8 7 4 7.5 8 19 12 5 8-1.5 8 7 4 0 16-5.5 12 10.5 8 4.5 4 0.5 16-14 16 4.5 24-32.5 4-0.5 8 3.5 4-2 8-11 4-2 8 6 4-1.5 24-12.5 8 3.5 4 0 16-12 4 2 12 12 4 2.5 8 3 4 0 8-4 4-1 16 0.5 12 6.5 4 1.5 8-3.5 16-4.5 12-5.5 4-3.5 8-13.5 4-8.5 8-18.5 4-4.5 8-6 20 10.5 4 4.5 4 7 8 12 12-14.5 8-7 4 3.5 4 4 4 6.5 8 17.5 12 19.5 16 8 16 5 16 8 4 2.5 36 32.5 16 9.5 16 12 20 33 24 31.5 12-2 4 0 12 3.5 12 7.5 12 14.5 4 3.5 4 2 12 2 16 6.5 12-3 4 0.5 16 10 4 1 12-6 4-1 12 6 16 11.5 4 1 12-1 16 6.5 12 1.5 20 6.5 20 4.5 16 6 12 8.5 8 5 16 1.5 32 6 16-4.5 4 0 8 4.5 4 3 12 12 16-1"/><path d="M100 642.5l8 0 4-0.5 8-3 16-9.5 24-16.5 12-12.5 4-5 28-39 16-20.5 12-14 24-26 8-11.5 8-9.5 4-1 4 1 8 0.5 4-4 4-3 4 0.5 4-3 4 2 4-4 8-23.5 8-20.5 4-9 12-23 16-25 40-58.5 12-14 8-8 4-2 4-0.5 4 0.5 4 0 4-1.5 8 8 4 5.5 4 7.5 4 4.5 4-12.5 4-9 4-3 8 16 4 1 4-16.5 4-13.5 4-9 4-3 4-1 8 11 4 8.5 4-8.5 4-17 4-12 4-9 8-16.5 16-28 20-17 12-6.5 12-7.5 20-10 4-1.5 8-1 8 2 12 16.5 4 4 4 3.5 8 2.5 12 5.5 4 0 8-2 4 1 4 8 20 73.5 4 8.5 4 4 4 3 4-0.5 8-5.5 8 16.5 8 14.5 4 1.5 8-19 4-6 8 8 4 8 8 19.5 12 5 8-2 4 3 4 4 4 0.5 16-2.5 8 9.5 4 3.5 8 4 4 0.5 16-16 16 4.5 24-30.5 4 0 8 4.5 4-2.5 8-10.5 4-1.5 8 6.5 4-1 8-4.5 16-10 8 3.5 4-0.5 16-10.5 4 2.5 12 12 4 5 8 12.5 4-2 4-8 4-7 4-3 16-1 4 2 8 2.5 4 0.5 8-5.5 4-2 12-5 4-2 8-2 4-2.5 8-13 12-25 4-4.5 8-5.5 20 12 4 5 12 20 12-13.5 8-6 4 3.5 4 4.5 4 7 8 18.5 12 21 12 6 20 6 16 9 4 3 12 11.5 24 21 16 10.5 16 12 16 27 4 6 8 7.5 16 13 12-9 4-2 8-1 4 2 12 10 12 17.5 4 4 4 2.5 12 2.5 16 8 12-2 4 1 16 12 4 1.5 12-5.5 4-1 12 6 16 11.5 4 1 12-1 16 5.5 12 1.5 4 1 20 8 24 7.5 8 2 20 11 20 1.5 28 1 16-5 4 0 8 3.5 4 2.5 12 11 16-1"/><path d="M100 640l12 0 8-3 12-7.5 28-20 12-12 4-5 8-10.5 12-17.5 12-16.5 24-28 24-26.5 8-12 8-9 4-0.5 4 1.5 8 1 8-6.5 4-0.5 4-3.5 4 2 4-4.5 8-23 12-29.5 16-30.5 12-18.5 28-41.5 12-17 12-13 8-7.5 4-2 4-1 4 1 4-0.5 4-1.5 8 8.5 4 5.5 4 7.5 4 4 4-12.5 4-9 4-2.5 8 16 4 1 4-16.5 4-14 4-9 4-4 4-1.5 4 4.5 4 5.5 4 8.5 4-8 4-17 4-12 8-17.5 20-36.5 8-8 12-10 12-6.5 12-8 20-10.5 4-1 8-1 8 1.5 12 15.5 4 4.5 4 3 8 3 12 5.5 4 0.5 8-2.5 4 0.5 4 8 20 61 4 6.5 8 6.5 4-1 8-6 16 31 4 1 8-18 4-6 8 9 4 8 8 19 12 4.5 8-2 4 3 4 3.5 4 0 16-4.5 8 8.5 4 3.5 8 4 4 0.5 12-11.5 4-3.5 16 5.5 24-32 4-0.5 8 4 4-2 8-10.5 4-2 8 6.5 4-1 8-5 16-10 8 2.5 4-0.5 16-10.5 4 2.5 12 12 4 2.5 8 2.5 4 0 8-3.5 4-1 16 0.5 12 6 4 0.5 8-4.5 28-12 4-2.5 8-13 4-8 8-18 4-4.5 8-6 20 11 4 4.5 12 19 8-9.5 4-4 8-6 8 7.5 4 7 8 17.5 12 20.5 16 9 16 5.5 16 7 4 2 36 33.5 16 9.5 16 11.5 20 32 24 28.5 12-5.5 4-1 8 0.5 4 1 12 9 12 16.5 4 4 4 2.5 12 2.5 16 7 12-2.5 4 1 16 11 4 1 12-6 4-1 12 6 16 10.5 4 0.5 12-1 16 7 12 2.5 20 6 16 3 20 7 20 13.5 24 2 24 0.5 16-5 4 0 8 5 4 3 12 11.5 16 0"/><path d="M100 642l8 0 4-0.5 8-3.5 40-26 12-12.5 12-15.5 8-12 12-16 28-33.5 24-26.5 8-11.5 8-9.5 4-1 4 1 8 1 8-6.5 4 0 4-3.5 4 2 4-4.5 8-24 8-20.5 4-9 12-23 12-19 36-54 8-11 12-12.5 8-7.5 4-1.5 4-1 4 1 4-0.5 4-1.5 8 8.5 4 5 4 7.5 4 4.5 4-13 4-9 4-3 8 15.5 4 1 4-16.5 4-13.5 4-9 4-3.5 4-1 4 4.5 4 6 4 8 4-7.5 4-17 4-11 8-17 20-36.5 8-8.5 12-10 12-5.5 12-7.5 20-11 4-1.5 8-1 8 2 12 15.5 4 4 4 3 8 2.5 12 6 4 0 8-2 4 1 4 8 20 69.5 4 8 4 3.5 4 3 4-0.5 8-5.5 16 32 4 1.5 8-18 4-6.5 8 8.5 4 7.5 8 19 12 4.5 8-1.5 4 3.5 4 4 4 0.5 16-4.5 8 8.5 4 4 8 4.5 4 0 12-12 4-3.5 16 4.5 8-10 16-22.5 4 0 8 4 4-2.5 8-10 4-1.5 8 7 4-1 12-6 12-8 8 2.5 4-0.5 16-11.5 4 2 12 12.5 4 3 8 4 4 0 8-6 4-1.5 16 0 4 2 8 3.5 4 0 12-7.5 12-5 4-2.5 8-2.5 4-3 8-13 4-7.5 8-17.5 4-4.5 8-5.5 20 12.5 4 5.5 4 7 8 12.5 12-14 8-6.5 4 3 4 4.5 4 6.5 8 18 12 20 16 8 16 6 16 8 4 2.5 36 34.5 20 12.5 12 9 20 32 4 4.5 20 18.5 12-7.5 4-1.5 8-1 4 1.5 12 9.5 12 17 4 4 4 2.5 12 3.5 16 8.5 12-1.5 4 1.5 16 11.5 4 1 12-7 4-1.5 12 6 16 11.5 4 1 12-1 16 6 12 1 4 1.5 20 8 24 7 8 1.5 12 6.5 8 5 20 4.5 12 0.5 16 0 16-6 4 0 8 4 4 2.5 12 10.5 16-1"/><path d="M100 635.5l8 0 4-0.5 8-3.5 20-11.5 20-14 12-12 4-5 8-10 12-17.5 12-16 24-30 24-26.5 8-11.5 8-9.5 4-1 4 1.5 8 0.5 8-7 4 0 4-4 4 2 4-5 8-24 8-20.5 4-8.5 16-29 12-18.5 40-57 20-21.5 4-2 4-1 4 0.5 4 0 4-1.5 8 8.5 4 5.5 4 7 4 4.5 4-12.5 4-9 4-3.5 8 15.5 4 1 4-17 4-13 4-9 4-3.5 4-1 8 10.5 4 8 4-8 4-18 4-12.5 4-9.5 4-9.5 8-16 12-21.5 8-8 12-10.5 12-6 12-7.5 20-11 4-1 4-0.5 4-0.5 8 2 12 15 4 4 4 3 8 2.5 12 6 4 0.5 8-1.5 4 0.5 8 17 8 19.5 8 17 4 3.5 8 4.5 4-1.5 8-7 16 30.5 4 1.5 8-19 4-6.5 8 8 4 7.5 8 19 12 4 8-2 4 3 4 4 4 0.5 16-4.5 8 8 4 3.5 8 4 4 0 16-16 16 3.5 24-32.5 4 0 8 4 4-2.5 8-11 4-2 8 5.5 4-1.5 24-14.5 8 3.5 4-0.5 16-12 4 2 8 7.5 4 5.5 4 7 8 20.5 4-3 4-12.5 4-10 4-4 4-0.5 12 0 4 2 8 3 4 0.5 12-7.5 12-6 4-2.5 8-3 4-3 8-13.5 4-8.5 8-18.5 4-5 8-7 20 10 4 5 12 20 12-13 8-6.5 8 7.5 4 7 8 17.5 12 20 16 9.5 16 6 16 9.5 4 3 16 16 20 18.5 16 10.5 16 13 24 40 20 27 12-2 4 0.5 12 4.5 12 8.5 12 16.5 4 3.5 4 2.5 12 1.5 16 7.5 12-2.5 4 1 16 10 4 0 12-6.5 4-1.5 12 5.5 16 11 4 1.5 12-1 16 6.5 12 1.5 4 1 20 9.5 16 3 16 4.5 20 13 20 4 28 4 16-4.5 4 0.5 8 4.5 4 3 12 11.5 16 0"/><path d="M100 641.5l12 0 8-2.5 16-9.5 24-18 12-12 4-5 8-10.5 20-28 8-10 20-23 24-25.5 8-12.5 8-10 4-1.5 4 1 8 1 8-6.5 4 0 4-3.5 4 2 4-4.5 8-23.5 8-20.5 4-8.5 16-30 12-18.5 20-28 20-29.5 12-13.5 8-8 4-2 4-0.5 4 0.5 4-0.5 4-1.5 8 8 4 5.5 4 7 4 4.5 4-12.5 4-9 4-3 8 15.5 4 1 4-16.5 4-13.5 4-8.5 4-3.5 4-1 8 10.5 4 8 4-7.5 4-17 4-11.5 8-17 20-35.5 8-8 12-10 12-6 12-7.5 20-10 4-1 8-1 8 2 12 15 4 4.5 4 2.5 8 2 12 5.5 4 0.5 8-1.5 4 0.5 4 8.5 20 72.5 4 8.5 4 4.5 4 3 4-1 8-5.5 8 16.5 8 14.5 4 1 8-18.5 4-6 8 8 4 8 8 19.5 12 5 8-1.5 4 3.5 4 4 4 0.5 16-3 8 9 4 3.5 8 4.5 4 0.5 12-12.5 4-3.5 16 4.5 24-31.5 4 0 8 4 4-2.5 8-11 4-2 8 6.5 4-1 12-6 12-7.5 8 3 4 0 16-10 4 2.5 8 8 4 7.5 4 16.5 4 30.5 4 24.5 4-9.5 4-32 4-24.5 4-9.5 4-2 12 0 4 2 8 3 4 0.5 12-8.5 16-9 8-2 4-2 8-12.5 4-7.5 8-17 4-4 8-5.5 20 11 4 5 12 20.5 12-13.5 8-6.5 4 3 4 4 4 6.5 8 17.5 12 21 16 9.5 16 7 16 7.5 4 2.5 32 29 4 3 16 9 16 12.5 20 33 12 13 12 10.5 12-8.5 4-2 8-1 4 1.5 12 9.5 12 17.5 4 4 4 2 12 3 16 8.5 12-0.5 4 1.5 16 12 4 1 12-6 4-1.5 12 5 16 11 4 1 12-0.5 16 5 12 1.5 4 1 20 8 32 9.5 20 11 20 2.5 28 1.5 16-5.5 4 0 8 3.5 4 2.5 12 10 16-0.5"/><path d="M100 636l8 0 4-0.5 8-4 40-27.5 12-12.5 12-14 20-26.5 28-35 24-27.5 8-11.5 8-9 4-1 4 1.5 8 1 8-6 4 0 4-3.5 4 2 4-4.5 8-24 8-21 4-9.5 16-29.5 40-60.5 12-17 12-13.5 8-8 4-2 4-0.5 4 0.5 4 0 4-1.5 8 8.5 4 5.5 4 8 4 4.5 4-12.5 4-9 4-3 8 15.5 4 0.5 4-17 4-13.5 4-9 4-3 4-1 8 10 4 8.5 4-8 4-17.5 4-12.5 4-9.5 12-25 12-22 8-8.5 12-11 12-6.5 12-7.5 20-10.5 4-1.5 8-1.5 8 1.5 12 16.5 4 4.5 4 3.5 8 2 12 4.5 4 0.5 8-2 4 0.5 8 16.5 8 19.5 8 17 12 7.5 4-1 8-6 8 16.5 8 14.5 4 1.5 8-19 4-6.5 8 8 4 7.5 8 18 12 3.5 8-2 4 3 4 4 4 0 16-5.5 12 12.5 8 4.5 4 0.5 16-16 16 3 24-32 4-0.5 8 3.5 4-2.5 8-11 4-2 8 6.5 4-1.5 24-16 8 3 4-0.5 16-11.5 4 2.5 8 8.5 4 7.5 4 15.5 4 28 4 23 4-9 4-30 4-23 4-9 4-2 12 0 4 2 8 2.5 4 0.5 12-8.5 12-6 4-2.5 8-3 4-2.5 8-13 4-8 8-18.5 4-5 8-7 20 8.5 4 4.5 12 19.5 8-9.5 4-3.5 8-5.5 8 8 4 7 8 18 12 20 16 9.5 16 7.5 20 12 20 18.5 16 16 20 13.5 12 9 24 41.5 20 29.5 12-2.5 4 0 12 3.5 12 8.5 12 17 4 4 4 2 12 3 16 7.5 12-3 4 1 16 9.5 4 0.5 12-6.5 4-1 12 6 16 11 4 0.5 12-1 16 6.5 12 1 4 1 20 7.5 32 9 20 13.5 12 3 8 1.5 28 1 16-3.5 4 0.5 8 5 4 3 12 12 16 0"/><path d="M100 643l8 0 4-0.5 8-3.5 4-2 12-8 24-17 12-11.5 12-14.5 24-33 24-29.5 24-26.5 8-11.5 8-9.5 4-1 4 1.5 8 1 8-6.5 4-0.5 4-3.5 4 2 4-4.5 8-23.5 12-29.5 12-23.5 4-7 24-35.5 16-25 12-17 12-13 8-8 4-2 4-0.5 4 1 4 0 4-1 8 9 4 5.5 4 7.5 4 4 4-12.5 4-9 4-3 8 15.5 4 1 4-17 4-13.5 4-9 4-3.5 4-1.5 8 10 4 8 4-8 4-17 4-11.5 8-17 20-33.5 20-18 12-5.5 12-7.5 20-10.5 4-1.5 8-1 8 1.5 12 15.5 4 4 4 3 8 2.5 12 5.5 4 0.5 8-2.5 4 1 4 8.5 20 76 4 9.5 4 4.5 4 3 4-0.5 8-5.5 16 31 4 1.5 8-18 4-6 8 8.5 4 8 8 19.5 12 4.5 8-1 4 3.5 4 4.5 4 0.5 16-3 8 8.5 4 3.5 8 5 4 0 16-16 16 3.5 24-29.5 4 0 8 4 4-2 8-11 4-1.5 8 6.5 4-1.5 8-4.5 16-10 8 3 4-0.5 16-10 4 2 12 11.5 4 2.5 8 2 4-0.5 8-4 4-1.5 12-1 4 0 4 2 8 2 4 0.5 8-5.5 4-2 12-5 4-2.5 8-2.5 4-2.5 8-12.5 12-25 4-4 8-4.5 20 11.5 4 5 12 20.5 12-13 8-6 8 7.5 4 7 8 17.5 12 20.5 16 9 16 6 20 11 36 32.5 16 10.5 16 12.5 16 27.5 4 5.5 4 4 20 15.5 12-8.5 4-2 8-1.5 4 1.5 12 9 12 16 4 3.5 4 2.5 12 3 16 9 12-0.5 4 2 16 13 4 1 12-6.5 4-1 12 6.5 16 12 4 1 12-2 16 6.5 16 2.5 16 5 16 4 16 5.5 4 1 20 10.5 32 2.5 16 0.5 16-6.5 4-0.5 8 4.5 4 2.5 12 11 16-0.5"/><path d="M100 639.5l8 0 4-1 8-3.5 20-11.5 20-14.5 12-13 32-42.5 28-33.5 24-27 8-11 8-9 4-1 4 1 8 1 8-7 4 0 4-3.5 4 2 4-4.5 8-23.5 12-29.5 16-30.5 12-19 32-46.5 8-10.5 20-22 4-2 4-1 4 0.5 4-0.5 4-1.5 8 9 4 5.5 4 7.5 4 4 4-12.5 4-9.5 4-3.5 8 15.5 4 0.5 4-16.5 4-13.5 4-9 4-3.5 4-0.5 8 11 4 8.5 4-7.5 4-17.5 4-12 4-9.5 12-25 12-22 8-8 12-9.5 12-6.5 12-8 20-9.5 4-1 8-1 8 2 12 15.5 4 4 4 3 8 3 12 6 4 0 8-3 4 0.5 4 7.5 4 11 16 47 4 6 8 5.5 4-1 8-6.5 16 31 4 1.5 8-18 4-6.5 8 8 4 7.5 8 19.5 12 4.5 8-2 4 3.5 4 4 4 0.5 16-5.5 12 10.5 8 4.5 4 0.5 16-14.5 16 3 24-31.5 4 0 8 4.5 4-2 8-10.5 4-1.5 8 6.5 4-1.5 4-2.5 20-13 8 3.5 4-0.5 16-10.5 4 2 8 8 8 9 8 10 4-1.5 8-11.5 4-2.5 16 1 12 6.5 4 1 12-6.5 12-4 12-4.5 4-2.5 8-13.5 12-26.5 4-4.5 8-6 20 11 4 4.5 12 19 8-10 4-4.5 8-6.5 8 7.5 4 6.5 8 17.5 12 20 16 9 16 5.5 16 7.5 4 2.5 36 32 16 9.5 16 12 20 34 8 10 16 18.5 12-5 4-1 8 1 4 1.5 12 9 12 16.5 4 4 4 2.5 12 2 16 6.5 12-2 4 1 16 10 4 1 12-6.5 4-1 12 6.5 16 12 4 1 12-0.5 16 4.5 12 0 4 1 20 8 16 4 16 5.5 12 8.5 8 4.5 16 1.5 32 4 16-4.5 4 0 8 4.5 4 3 12 12.5 16-0.5"/><path d="M100 638l12-0.5 12-4.5 12-7 24-17.5 12-12.5 4-4.5 8-10.5 12-17.5 12-16 32-38 16-18 8-10.5 8-8.5 4-0.5 4 1.5 8 1 8-7.5 4-0.5 4-3.5 4 1.5 4-5 8-23.5 8-21 4-8.5 16-30 12-18.5 40-58.5 8-9.5 8-8.5 4-4 4-1.5 4-0.5 4 1 4 0 4-1.5 8 9 4 5.5 4 7.5 4 4.5 4-12.5 4-9 4-3 8 15.5 4 0.5 4-17 4-13.5 4-9 4-3 4-1 8 11 4 8 4-8 4-17.5 4-13 4-10 4-9.5 8-17 12-22 8-8 12-9.5 12-6 12-7 20-9 4-1 8-1.5 8 1.5 12 14.5 4 4 4 3 8 2.5 12 5.5 4 0 8-1.5 4 1 4 8 4 10 8 23 8 20.5 4 4.5 8 5.5 4-1 8-6.5 8 16 8 14 4 1 8-18.5 4-6 8 8.5 4 8 8 19.5 12 5 8-2 4 3 4 3.5 4 0 16-5.5 8 8 4 3 8 3.5 4 0 12-12 4-3.5 16 4.5 24-32 4-0.5 8 4 4-2 8-11 4-2 8 6.5 4-1 8-4.5 16-10 8 3.5 4 0 16-10.5 4 2 12 11.5 4 2.5 8 3 4 0.5 12-4.5 16-0.5 12 6.5 4 1 12-6 12-3 8-3 4-1.5 4-2.5 8-13.5 12-27 4-4.5 8-6.5 20 9.5 4 4.5 12 19 12-14.5 8-6.5 4 3 4 4 4 7 8 18 12 20 12 6 20 5 16 9 4 3 16 15.5 20 17.5 16 9.5 16 11.5 24 39.5 20 27 12-3.5 4-0.5 12 2.5 12 7 12 15 4 3.5 4 2 12 2 16 5.5 12-2.5 4 1.5 16 11.5 4 0.5 12-5.5 4-1 12 5.5 16 11 4 0.5 12-1 16 6 12 2.5 20 7.5 16 3 8 2 12 4 20 13 20 4.5 28 3.5 16-4.5 4 0.5 8 4 4 3 12 11.5 16 0"/><path d="M100 642.5l12-0.5 8-3.5 16-8.5 24-16.5 12-12 4-5 8-10.5 12-18 12-16 36-43 12-13.5 8-11 8-8 4-0.5 4 1.5 8 0.5 8-7.5 4 0 4-4 4 2 4-4.5 8-23.5 8-20.5 4-9 12-22.5 12-19 24-34 20-30.5 8-10 8-8.5 4-3.5 4-1.5 4-0.5 4 1 4 0 4-1 8 8.5 4 5.5 4 7.5 4 4.5 4-12.5 4-9 4-3 8 16 4 0.5 4-17 4-13.5 4-9.5 4-3.5 4-1 4 4.5 4 6 4 8.5 4-8 4-16.5 4-11 8-16.5 20-35.5 8-7.5 12-10.5 12-5.5 12-7 20-9.5 12-3 8 0.5 12 15 4 4 4 3 8 2.5 12 7 4 1 8-2 4 1 4 8 20 78.5 4 10 4 4.5 4 3 4-0.5 8-5.5 16 32 4 1.5 8-17.5 4-6 8 8 4 7.5 8 19 12 5 8-1 8 7.5 4 0.5 16-4 8 9 4 3.5 8 5 4 1 16-15.5 16 4 24-32 4 0 8 4.5 4-2 8-10 4-1.5 8 7 4-1 12-6 12-8 8 2.5 4-1 16-12.5 4 2.5 8 8.5 4 5.5 4 7 8 18.5 4-3 4-11 4-9 4-4 12-1.5 4 0 4 2 8 2.5 4 0.5 12-8 12-5.5 4-3 8-2.5 4-2.5 8-12.5 4-7.5 8-17.5 4-4.5 8-5 20 13 4 5.5 4 7.5 8 12.5 4-4 4-5.5 4-4 8-6 8 9 4 7.5 8 18.5 12 20 12 5.5 20 8 16 9.5 4 2.5 36 32 16 10 16 12 16 27 4 5.5 4 4 8 6.5 12 8.5 12-9.5 4-2.5 8-2 4 1.5 12 9.5 12 17.5 4 4 4 2.5 12 4 16 8 12-1 4 1 16 13.5 4 1 12-5.5 4-1 12 6 16 10.5 4 1 12-1 16 6.5 12 1 4 1 20 7.5 16 3.5 16 5.5 12 7.5 8 4 48 2 16-6.5 4 0 8 3.5 4 2.5 12 10 4-1 12 0.5"/><path d="M100 640.5l12-0.5 8-3.5 16-9 24-16 12-12.5 4-5 20-29 12-15.5 24-28.5 24-25.5 8-12 8-9 4-1 4 1.5 8 1 8-6.5 4-0.5 4-3.5 4 2 4-5 8-24 8-21 4-8.5 16-30 16-25 28-40 8-11 20-22 4-2 4-1.5 4 0.5 4-0.5 4-1.5 8 8.5 4 6 4 7.5 4 5 4-12.5 4-8.5 4-3 8 15.5 4 1 4-17 4-13 4-9 4-3 4-1 8 10.5 4 8.5 4-8 4-17.5 4-12 4-9 4-9 20-37 8-8.5 12-10 12-5 12-7.5 20-9.5 4-1.5 8-1 8 1.5 12 14.5 4 4 4 3 8 2.5 12 5.5 4 0.5 8-2.5 4 1 4 8 20 65.5 4 7.5 8 5.5 4-1 8-5.5 16 31.5 4 1.5 8-17.5 4-6 8 8.5 4 8 8 19 12 3.5 8-1.5 4 3 4 4 4 0.5 16-5 8 8.5 4 3.5 8 4.5 4 0.5 16-15.5 16 4 24-30.5 4 0 8 4 4-2.5 8-10.5 4-2 8 6.5 4-1.5 8-4 16-10 8 3 4 0 16-10 4 2.5 12 12 4 2.5 8 3 4-0.5 8-5.5 4-1.5 4 0 12 0 12 5.5 4 0.5 8-5.5 4-2 16-6 8-2.5 4-2.5 8-13 12-26 4-4.5 8-6 20 13 4 5 4 7 8 12 12-14.5 8-6.5 4 3 4 4.5 4 7 8 18 12 20.5 16 8 16 4.5 16 7 4 2.5 36 33 16 10 16 12 20 33 24 26.5 12-6 4-1.5 8 0 4 1.5 12 9 12 16.5 4 4 4 2 12 1.5 16 6.5 12-2 4 1.5 16 12 4 1.5 12-6.5 4-1 12 5.5 16 11 4 1 12-1 16 6.5 12 2.5 4 1.5 16 7 4 1 16 2.5 16 4.5 20 12.5 20 3 28 1.5 16-5.5 4 0 8 4 4 3 12 11.5 16-0.5"/><path d="M100 639.5l12 0 8-2.5 12-7 28-20.5 12-12 12-16 12-17.5 12-16 32-38 16-16.5 8-11 8-9 4-1 4 1 8 1 4-3.5 4-2.5 4 0 4-3 4 2 4-5 8-24.5 8-21.5 4-9 16-30 12-18.5 20-28.5 20-29.5 16-17.5 4-4 4-1.5 4-0.5 4 0.5 4 0 4-2 8 8 4 5 4 7.5 4 4 4-12.5 4-9 4-3 8 16.5 4 1 4-17 4-13 4-9 4-3 4-1 8 10.5 4 8 4-8 4-18 4-12 4-10 4-9 8-15.5 12-21 8-7.5 12-10 12-6 12-8 20-9 12-3 8 0.5 4 4.5 8 10.5 4 4.5 4 3 8 3 12 6 4 0 8-2 4 0.5 4 8 20 58 4 6 8 6 4-1 8-5 8 17 8 14.5 4 1 8-19 4-6.5 8 8 4 7 8 19.5 12 4 8-1.5 4 3 4 4 4 0 16-4.5 12 12 8 5 4 1 16-15.5 16 3.5 24-32.5 4 0 8 4 4-2 8-10.5 4-1.5 8 7 4-1 12-6.5 12-8 8 3.5 4-0.5 16-11 4 2.5 12 12.5 4 5.5 8 13.5 4-2 4-8.5 4-6.5 4-3 8-0.5 8 0.5 12 6.5 4 1 8-4.5 16-5.5 12-5.5 4-2.5 8-13.5 4-7.5 8-18 4-4.5 8-6.5 20 10.5 4 5 12 19 12-14 8-6 8 7 4 7 8 17.5 12 20 12 6.5 4 2 16 5 16 8 4 2.5 36 32 16 10.5 16 12 20 31.5 24 30.5 12-5 4-1 8 0.5 4 1 12 8 12 16 4 4 4 2 12 2.5 16 6.5 12-3 4 1.5 16 11 4 1 12-6.5 4-1 12 6 16 12.5 4 1.5 12-0.5 16 6 12 1 4 1 20 8 16 2.5 16 4.5 20 14 20 3 16 0.5 12 1.5 16-4.5 4 0 8 4 4 2.5 12 11.5 16 0"/><path d="M100 640l8-0.5 4-0.5 8-3.5 16-10 24-16.5 12-11.5 12-14.5 24-34 24-31 24-25 8-11 8-8.5 4-1 4 1.5 8 0.5 8-7 4-0.5 4-4 4 2 4-5 8-23.5 8-20 4-9 12-22 24-37.5 32-46.5 12-14.5 8-8.5 4-1.5 4-1 4 1.5 4 0 4-1.5 8 8.5 4 5.5 4 7.5 4 4.5 4-12.5 4-9 4-3 8 15.5 4 1 4-17 4-13.5 4-9 4-4 4-1 4 4.5 4 5.5 4 8.5 4-8 4-18 4-12 4-9 4-9 8-15 12-20.5 20-18 12-6.5 12-8 20-11 4-1.5 8-1 8 1.5 12 15 4 4 4 2.5 8 3 12 6.5 4 0.5 8-2 4 1 4 8 20 57.5 4 5.5 8 6.5 4-1 8-5.5 8 16.5 8 14 4 1 8-19 4-6.5 8 8 4 7.5 8 19.5 12 4 8-1.5 4 3 4 4 4 0 16-3.5 8 9 4 3 8 3.5 4 0 12-12 4-3.5 16 5 24-32 4 0 8 3.5 4-2 8-10.5 4-1.5 8 6.5 4-1.5 8-4.5 16-10.5 8 3 4 0 16-11 4 2.5 8 9 4 7.5 4 15.5 4 27.5 4 22.5 4-8.5 4-29 4-22.5 4-8.5 4-1.5 12 0 12 6 4 1 12-7 24-8 4-3 8-13 12-26.5 4-4.5 8-5.5 20 10.5 4 5 12 19.5 12-14.5 8-6.5 4 3 4 4 4 7 8 17.5 12 20 16 7.5 16 5 16 9 4 3 36 32.5 16 9 12 9 4 3.5 12 20.5 8 12.5 24 28.5 12-4 4-1 12 2 12 7 12 15.5 4 3.5 4 2 12 3 16 7.5 12-2.5 4 1 16 11.5 4 1 12-6 4-1.5 12 6.5 16 11.5 4 1 12-1.5 16 6.5 12 1.5 4 1 20 8 16 3.5 16 4.5 20 13 20 3 28 3 16-5 4 0 8 4 4 3 12 12 16 0"/><path d="M100 639l8-0.5 4-0.5 8-3.5 16-10 24-16 12-11.5 12-14.5 12-17.5 12-16.5 24-29 24-26 8-11.5 8-9.5 4-1 4 1 8 1 8-7 4 0 4-3.5 4 2 4-4.5 8-23.5 8-20.5 4-9 16-29.5 16-25 36-52.5 12-14.5 8-8.5 4-2 4-0.5 4 1 4 0 4-1 8 9.5 4 5.5 4 8 4 4.5 4-12.5 4-9 4-3 8 15.5 4 1 4-17.5 4-13.5 4-9.5 4-3.5 4-1 4 4.5 4 6 4 8.5 4-8 4-17.5 4-12.5 4-9 4-9 8-15.5 12-21.5 20-19 24-13.5 20-9.5 4-1.5 8-1.5 8 1.5 12 15.5 4 4.5 4 2.5 8 2.5 12 5 4 0.5 8-2 4 1 4 8 20 56.5 4 5 8 5.5 4-1.5 8-6 16 32.5 4 2 8-18 4-6.5 8 7.5 4 7.5 8 18 12 4 8-1.5 4 3 4 4.5 4 0.5 16-3.5 8 8 4 3 8 4.5 4 0.5 16-15.5 16 3.5 24-32 4-0.5 8 4 4-2 8-10.5 4-1.5 8 6.5 4-1.5 4-2 20-13 8 3.5 4-0.5 16-10 4 2.5 8 8 4 5 4 7 8 18.5 4-3 4-11 4-8.5 4-4 8-1 8 0 12 6.5 4 1.5 8-4 16-5 12-5 4-3 8-13 4-8 8-18.5 4-5 8-6.5 20 10.5 4 4.5 12 19.5 12-13.5 8-6.5 8 7 4 7 8 17 12 19.5 16 8 16 5 16 8.5 4 3 16 15.5 20 16.5 16 9.5 16 12 20 33 24 29.5 12-4.5 4-0.5 12 2 12 8 12 16 4 4 4 2 12 2.5 16 7 12-2 4 1.5 16 11 4 0.5 12-7 4-1 12 6 16 11 4 1 12-1.5 16 6.5 12 1 4 1 20 7 16 4 16 5 20 13.5 20 3.5 28 2.5 16-4.5 4 0 8 4 4 2.5 12 11.5 16 0.5"/><path d="M100 635l8 0 4-0.5 8-3.5 12-7.5 28-19.5 12-12 12-16 8-11.5 12-16 40-47 12-13.5 8-11 8-9 4-0.5 4 1.5 8 1 8-7 4 0 4-3.5 4 2 4-5 8-23 12-29.5 16-31 12-19 40-56.5 20-22 4-2.5 4-1 4 0.5 4-0.5 4-2 8 8 4 5 4 7.5 4 4.5 4-12.5 4-8.5 4-3 8 16 4 1 4-16.5 4-13 4-9 4-3 4-1 8 11 4 8.5 4-8 4-18 4-12.5 8-19.5 8-17 12-22.5 8-8 12-10.5 24-13 20-9.5 4-1.5 8-1.5 8 1 12 15 4 4 4 3 8 2.5 12 5.5 4 0.5 8-2 4 0.5 8 16 8 18.5 8 16.5 12 7.5 4-1 8-6 8 17 8 15 4 1 8-19 4-7 8 7 4 7.5 8 19 12 5 8-1.5 8 7 4 0 16-6 8 7 4 3 8 3 4 0 12-12.5 4-3 16 3.5 24-33 4 0 8 4 4-2 8-11 4-2 8 6 4-2 24-15 8 3.5 4-0.5 16-12 4 2.5 4 3.5 4 4 4 6 4 10 4 16.5 4 13.5 4-5 4-18.5 4-14 4-5.5 4-1 12-0.5 4 2 8 2 4 0 12-9.5 16-11 8-3 4-2.5 8-13.5 4-7.5 8-18.5 4-4.5 8-6.5 20 9.5 4 4.5 12 20.5 12-13 8-6 8 8 4 7.5 8 18.5 12 21.5 12 7 4 2 16 5.5 16 8 4 3 36 35.5 16 11 16 13.5 24 42 20 28 12-1.5 4 0 12 4.5 12 9 12 17.5 4 4 4 2 12 2.5 12 6 4 1 12-3 4 0.5 16 10 4 0.5 12-5.5 4-1 12 6 16 11 4 1 12-1 16 6.5 12 1.5 4 1 16 6 20 4.5 16 5 20 14 20 4.5 28 2.5 16-5.5 4 0.5 8 4.5 4 3 12 12 16 0.5"/><path d="M100 641l12-0.5 8-3 16-9.5 24-17 12-13 12-16.5 12-17.5 12-15.5 24-27.5 24-25 8-11.5 8-9 4-1 4 1 8 0.5 8-7 4-0.5 4-3 4 2 4-4.5 8-23.5 12-30.5 16-30.5 12-19 32-46.5 8-11 20-21 4-2 4-1 4 1 4-0.5 4-1.5 8 8.5 4 5.5 4 7.5 4 4 4-12.5 4-9.5 4-3 8 15.5 4 1 4-17 4-13.5 4-8.5 4-3.5 4-0.5 8 10.5 4 8.5 4-8 4-17 4-12 8-17.5 20-35.5 8-8 12-10 12-6 12-8.5 20-10.5 4-1 8-1 8 2 12 15 4 4 4 3 8 3 12 6 4 0.5 8-2 4 1 4 8 20 64.5 4 7 8 6 4-0.5 8-5.5 8 16.5 8 15 4 1.5 8-18.5 4-6.5 8 7.5 4 7.5 8 19 12 4.5 8-1.5 4 3.5 4 4.5 4 0.5 16-4 8 8.5 4 3.5 8 5 4 0.5 16-15.5 16 4 24-32.5 4 0 8 4.5 4-2.5 8-10.5 4-2 8 6.5 4-1 12-6.5 12-7.5 8 3 4-0.5 16-10.5 4 2 12 11.5 4 2.5 8 3 4-0.5 8-4 4-1.5 12-0.5 4 0 12 6 4 0.5 12-7.5 16-7 8-2 4-2.5 8-12.5 4-7.5 8-18 4-5 8-6 20 12 4 5 4 7.5 8 12.5 12-14.5 8-6.5 4 3 4 4 4 7 8 17 12 20 16 9 16 6 16 8 4 2.5 36 32 16 10.5 16 12 20 33.5 8 9 16 16.5 12-6 4-1 8 0 4 1.5 12 8.5 12 16 4 4 4 2 12 2.5 16 7.5 12-1.5 4 1.5 16 11.5 4 1 12-5.5 4-1 12 6.5 16 10.5 4 1 12-1.5 16 6 12 1 4 1 20 7 32 10 20 11.5 24 3.5 24 0.5 16-5.5 4 0 8 4.5 4 2.5 12 11.5 16 0"/><path d="M100 637.5l12-0.5 8-3 16-9 24-17.5 12-12 4-5.5 8-10.5 20-28.5 12-15.5 16-19 24-26 8-11.5 8-9 4-0.5 4 1.5 8 1 8-6.5 4 0 4-3 4 2 4-5 8-23.5 8-20.5 4-8.5 16-30.5 12-19 40-57.5 12-13.5 8-8 4-1.5 4-1 4 1 4 0 4-2 8 8.5 4 5 4 7.5 4 4.5 4-12.5 4-9 4-3 8 15.5 4 0.5 4-17 4-13.5 4-9.5 4-3.5 4-1 8 10.5 4 8 4-8 4-18 4-12.5 4-9.5 4-9.5 8-15.5 12-21 12-12 8-7 12-6 12-6.5 20-10 4-1.5 8-1.5 8 1.5 12 15.5 4 4.5 4 3 8 2.5 12 5.5 4 0 8-1.5 4 1 8 17.5 8 21.5 8 19.5 4 4 8 5.5 4-1.5 8-6 16 30 4 1 8-18.5 4-6 8 8 4 7.5 8 19.5 12 4 8-1.5 4 3.5 4 4 4 0 16-5 8 7.5 4 3.5 8 3.5 4 0 12-12.5 4-3 16 4 24-31.5 4 0 8 3.5 4-2 8-11.5 4-1.5 8 6 4-1 24-14 8 3 4 0 16-11.5 4 2.5 8 8 8 9.5 8 10.5 4-2 8-12 4-2.5 8-0.5 8 1 12 7 4 1.5 12-6.5 12-4 12-5 4-3 8-14 12-27 4-4.5 8-6 20 11 4 5 12 19 12-14 8-7 4 3 4 4 4 7 8 17.5 12 20 16 7.5 16 5 16 8 4 2.5 36 33 16 9.5 16 11 24 39 20 26.5 12-2.5 4 0 12 4 12 8.5 12 16 4 3.5 4 2.5 12 1.5 16 5.5 12-3.5 4 1 16 11 4 0.5 12-5 4-1 12 6 16 10.5 4 0.5 12-2 16 6.5 12 2 4 1.5 20 8 16 3.5 16 4.5 20 13 24 5 24 3 16-5 4 0.5 8 4.5 4 3.5 12 11.5 16-0.5"/><path d="M100 641l8 0 4-1 8-4 40-25 12-12 12-15 20-29.5 12-15.5 16-19 24-26 8-11.5 8-9.5 4-1 4 1.5 8 1.5 8-6 4 0 4-3.5 4 2 4-5 8-24 8-21 4-9 16-30 12-18.5 32-47 8-10.5 20-21.5 4-2.5 4-0.5 4 0.5 4 0 4-1.5 8 8.5 4 5.5 4 7 4 4.5 4-12.5 4-9 4-3 8 16 4 1 4-17 4-13 4-9 4-3.5 4-1 8 10.5 4 8 4-8 4-18 4-12 4-9.5 4-9 8-16 12-22 8-7.5 12-9 12-5 12-7.5 20-10 4-1.5 8-1 8 2 12 15.5 4 4 4 2.5 8 2 12 5.5 4 0.5 8-2 4 1 4 8 20 62.5 4 6.5 8 6 4-1.5 8-6 16 31 4 1.5 8-18 4-5.5 8 8.5 4 7.5 8 18.5 12 3 8-1.5 4 3 4 4 4 0.5 16-4.5 8 8.5 4 3.5 8 4 4 0.5 12-12 4-3 16 5 24-33.5 4 0 8 4.5 4-1.5 8-10.5 4-1.5 8 6 4-1.5 24-15 8 4 4 0 16-10.5 4 2.5 4 3.5 4 4 4 5.5 4 10.5 4 17 4 13.5 4-5 4-19 4-14.5 4-5.5 4-1 12 1 12 6.5 4 0.5 12-6.5 16-6.5 8-2.5 4-2.5 8-12.5 4-7.5 8-18 4-4.5 8-6 20 10 4 4.5 12 20 12-13.5 8-6 4 3.5 4 4.5 4 7 8 18 12 19.5 12 5 20 6 16 9 4 3 12 11 24 20 16 11 16 13 20 31.5 24 28 12-5.5 4-1 8 0.5 4 1 12 9 12 16.5 4 4 4 2.5 12 2 16 6 12-2 4 1 16 11 4 1 12-6 4-1 12 6 16 11 4 1 12-0.5 16 7 12 1.5 4 1 16 7 4 1 16 2 4 1 12 4 20 12 48 4.5 16-5 4 0 8 4.5 4 3 12 11.5 16 0"/><path d="M100 642.5l12-0.5 8-3 4-2.5 8-5 16-12 12-7.5 12-11.5 12-15 12-18 12-16.5 24-28 24-26 8-11.5 8-10 4-0.5 4 1 8 2 8-6.5 4 0 4-3.5 4 2 4-5 8-24.5 8-21.5 4-8.5 16-30 12-18.5 32-46.5 8-10.5 20-22 4-2 4-1 4 1 4-0.5 4-1.5 8 8.5 4 5 4 7.5 4 4 4-12.5 4-9 4-2.5 8 16 4 1 4-16.5 4-13.5 4-8.5 4-3 4-1 8 10.5 4 8.5 4-8.5 4-16.5 4-11.5 8-17 20-36 8-8 12-10 12-6 12-7.5 20-9.5 4-1 8-0.5 8 1.5 12 16 4 4 4 3.5 8 2.5 12 6 4 0.5 8-2 4 0.5 4 7.5 20 75.5 4 9.5 4 4 4 3.5 4-0.5 8-4.5 8 16.5 8 14.5 4 1 8-18 4-6 8 8.5 4 8 8 19.5 12 4.5 8-1.5 4 3 4 4 4 0.5 16-3.5 8 8.5 4 3.5 8 4 4 0 12-12 4-3 16 5.5 8-10 16-22 4-0.5 8 4 4-2 8-10 4-1.5 8 7 4-1.5 12-6 12-7.5 8 3 4-0.5 16-11.5 4 2 8 8 4 5.5 4 7.5 8 22 4-3 4-13.5 4-10 4-4.5 8-1.5 8 0 4 2 8 3 4 0 12-8 12-6 4-2.5 8-2 4-2 8-12.5 4-7.5 8-17 4-4.5 8-5.5 20 12 4 4.5 12 20 12-13 8-6 4 3.5 4 4.5 4 7 8 19 12 21 12 7 20 7 20 10 16 14 20 19.5 16 9.5 16 12 16 26.5 4 5.5 4 4 20 16 12-8 4-2 8-1 4 2 12 9 12 17 4 4 4 2.5 12 3.5 16 8 12-1.5 4 1.5 16 13.5 4 1 12-6 4-1.5 12 5.5 16 10 4 1 12-0.5 16 7.5 12 2.5 20 8 4 1 16 2.5 16 4 20 11 20 2 28 1 16-6.5 4-0.5 8 3.5 4 2.5 12 10.5 4-0.5 12 0.5"/><path d="M100 639.5l12-0.5 8-3 16-8.5 24-16.5 12-12 4-5 8-11.5 12-18 12-16 24-28 24-26 8-12 8-8.5 4-1 4 1.5 8 1.5 8-7 4 0 4-3.5 4 1.5 4-4.5 8-24 8-21.5 4-9 12-22.5 16-25 28-41.5 12-17 12-14 8-8 4-2 4-0.5 4 0.5 4 0 4-1.5 8 9 4 5.5 4 7.5 4 4.5 4-12.5 4-9 4-3 8 15.5 4 0.5 4-17 4-13.5 4-9 4-3.5 4-1 8 10 4 8.5 4-8 4-17.5 4-11.5 8-17.5 20-36 8-8 12-10.5 24-14.5 24-11 8-2 8 1 12 16.5 4 4.5 4 3 8 2.5 12 5 4 0.5 8-1.5 4 1 4 8.5 20 63 4 6.5 8 6 4-1.5 8-5.5 16 30.5 4 1.5 8-18.5 4-6.5 8 8.5 4 7.5 8 19.5 12 5 8-2 8 7 4-0.5 16-6 12 12 8 5 4 0.5 16-15 16 4.5 24-32.5 4-0.5 8 4.5 4-2 8-10 4-1.5 8 6.5 4-1.5 8-4.5 16-10 8 3 4 0 16-11 4 2 8 8 4 7.5 4 16 4 29 4 23.5 4-8.5 4-31 4-23 4-9 4-1.5 12 0.5 12 6 4 0.5 12-7 16-7 8-3 4-2 8-13 4-7.5 8-18 4-4.5 8-6 20 10.5 4 5 12 19.5 4-4 4-5 4-4 8-6 8 8 4 7 8 17.5 12 20.5 12 6.5 4 1.5 16 4 16 8 4 3 16 15 16 14 4 3 16 9 16 12 20 33 4 5 20 22.5 12-6 4-1 8 0.5 4 1.5 12 9 12 16.5 4 4 4 2 12 2.5 16 6.5 12-2 4 1.5 16 11 4 0.5 12-6 4-1 12 6.5 16 11.5 4 1 12-2 16 6 12 1 4 1.5 16 7 20 4 16 6 20 13.5 48 4 16-4 4 0.5 12 6.5 12 10 16-0.5"/><path d="M100 641.5l12-1 8-3.5 16-9.5 24-16 4-4 8-7.5 12-15.5 20-29.5 12-15.5 16-19 24-25.5 8-11 8-9 4-0.5 4 1 8 1 4-4 4-2.5 4 0 4-3.5 4 2 4-4.5 8-24 8-21 4-9.5 12-23 4-7 40-60.5 12-17 12-14 8-8 4-1.5 4-1 4 1 4 0 4-1.5 8 9 4 5.5 4 7.5 4 4.5 4-12.5 4-9 4-3 8 16 4 1 4-17 4-13.5 4-9 4-3.5 4-1 4 4.5 4 6 4 8.5 4-8 4-16.5 4-11.5 8-17.5 20-37 8-8 12-10 12-6 12-7 12-5 8-4 4-1.5 8-2 8 1 12 15.5 4 4 4 3 8 2.5 12 6.5 4 0.5 8-1.5 4 0.5 4 8.5 20 68.5 4 7.5 8 6.5 4-1.5 8-5.5 16 31 4 1.5 8-18 4-6 8 8.5 4 7.5 8 19.5 12 5 8-1 4 3 4 4.5 4 0.5 16-4 8 8.5 4 3.5 8 4 4 0 12-13 4-3.5 16 4.5 24-30 4 0 8 3.5 4-2.5 8-10.5 4-2 8 7 4-1 8-4.5 16-10.5 8 3.5 4-0.5 16-11.5 4 2 4 4 4 4 4 6 4 8 8 23.5 4-3 4-13.5 4-10.5 4-4.5 4-0.5 12-0.5 4 2 8 2.5 4 0.5 8-6 4-2 16-6.5 8-2.5 4-2.5 8-12.5 4-8 8-18 4-4.5 8-6.5 20 11 4 5 12 20 4-4 4-5 4-4 8-5.5 8 7.5 4 7 8 17.5 12 19.5 16 9 16 6 16 7.5 4 2.5 36 33.5 16 10 16 12.5 16 26 4 5.5 24 23 12-6.5 4-1.5 8-0.5 4 1 12 9 12 17 4 4 4 2.5 12 3.5 16 8.5 12-2 4 1 16 12 4 1 12-6 4-1.5 12 5 16 11.5 4 1 12-0.5 16 6.5 12 1.5 4 1 20 8 12 2 8 2 12 4 20 12.5 36 4 12 0.5 16-6.5 4 0 8 4 4 2.5 12 11 16-0.5"/><path d="M100 638.5l8 0 4-0.5 8-4 16-10 24-16.5 12-12 4-5 8-10.5 12-18 12-16 24-29 24-25.5 8-11 8-9.5 4-1 4 1.5 8 0.5 8-7 4-0.5 4-3.5 4 2 4-5.5 8-24 8-21 4-9 16-29 44-66 8-10.5 20-20.5 4-2 4-1 4 1 4-0.5 4-1.5 8 9 4 5.5 4 7.5 4 4.5 4-12.5 4-9 4-3 8 16 4 1 4-17 4-13 4-9.5 4-3.5 4-1 4 4.5 4 5.5 4 8 4-8 4-18 4-12.5 4-9.5 4-9.5 8-16 12-21 20-18.5 12-6.5 12-8 20-10 4-1 8-1.5 8 1.5 12 15 4 4 4 3 8 2.5 12 6.5 4 0.5 8-2 4 1 8 17 8 21 8 18.5 4 4 8 5 4-1.5 8-6 16 30.5 4 1 8-18.5 4-6.5 8 8 4 7.5 8 19 12 4 8-1.5 4 3 4 4 4 0.5 16-5 8 8.5 4 3.5 8 4 4 0.5 16-16 16 3 24-31 4 0 8 4 4-2.5 8-10.5 4-1.5 8 6 4-1.5 24-15.5 8 3.5 4 0 16-9.5 4 2 8 8 4 5.5 4 8 4 12.5 4 10.5 4-3.5 4-14.5 4-11 4-5 4-0.5 12 0 12 6 4 1 12-6.5 24-9.5 4-2.5 8-13.5 4-7.5 8-18.5 4-5 8-6.5 20 10.5 4 4.5 12 19 12-14 8-6.5 8 7.5 4 7 8 17.5 12 20.5 16 8.5 16 5 16 7.5 4 2.5 20 19.5 16 14.5 16 9.5 16 11.5 24 41 20 27 12-2.5 4 0 12 3.5 12 7.5 12 15.5 4 3.5 4 1.5 12 2 16 6.5 12-2.5 4 0.5 16 10 4 0.5 12-6.5 4-1 12 6 16 11 4 1 12-1 16 7.5 12 1.5 4 1.5 16 7 4 1 16 2.5 16 4.5 20 13.5 20 3.5 28 3 16-3 4 0.5 8 4.5 4 3.5 12 12 16-1"/><path d="M100 643l8-0.5 4-0.5 8-3.5 16-10 24-17 16-17 12-15 20-27.5 16-20 8-9.5 24-25.5 8-11.5 8-9 4-0.5 4 1 8 1 8-6.5 4-0.5 4-3.5 4 2 4-5 8-23.5 12-29.5 16-30 12-19 32-47 8-11 20-21.5 4-2.5 4-0.5 4 1 4-0.5 4-1.5 8 9 4 5.5 4 8 4 4.5 4-12.5 4-9 4-3 8 15 4 0.5 4-17 4-13.5 4-9.5 4-3 4-1 8 10.5 4 8.5 4-8 4-17 4-11.5 8-17 20-36 8-7.5 12-9.5 12-4.5 12-7 20-10 4-1 8-2 8 1.5 12 15 4 4 4 3 8 2.5 12 6 4 0.5 8-2 4 1 4 8 20 73.5 4 8.5 4 3.5 4 2.5 4-1 8-5 16 33 4 2 8-18 4-6.5 8 8 4 7.5 8 19.5 12 5 8-1 4 3.5 4 4.5 4 0.5 16-4 8 9 4 3.5 8 4.5 4 0.5 16-15 16 3.5 24-32 4 0 8 4.5 4-2 8-10 4-2 8 6.5 4-1.5 8-4 16-10 8 3.5 4-0.5 16-11 4 2 8 8.5 4 7.5 4 16.5 4 28.5 4 23.5 4-8 4-30.5 4-23.5 4-9 4-1.5 12-1 4 1.5 8 2.5 4 0 12-8.5 16-8.5 8-2 4-2 8-11.5 4-7 8-18 4-4.5 8-6.5 8 4.5 12 7.5 4 5.5 4 7.5 8 13 12-13.5 8-6.5 4 3.5 4 4 4 7 8 18 12 20.5 12 7 4 2 16 6 16 8.5 4 3 16 14.5 20 17 16 10 16 12.5 16 26.5 4 6 12 11.5 12 10.5 12-9 4-2 8-2.5 4 1.5 12 9 12 17.5 4 4 4 2.5 12 3.5 16 9.5 12-1 4 1 16 12.5 4 1 12-6 4-1.5 12 6 16 12.5 4 1 12-1.5 16 5.5 12 2 20 7 20 3.5 16 4 20 11.5 24 3.5 24 1 16-5.5 4 0 8 4 4 3 12 10.5 16-1"/><path d="M100 639l8-0.5 4-1 8-4 16-9.5 24-15.5 12-12 12-15 12-18 12-15.5 48-55 8-11.5 8-8.5 4-1 4 1.5 8 1 8-6.5 4 0 4-3.5 4 1.5 4-5 8-24 8-21 4-9 12-22 48-73.5 8-11.5 12-13.5 8-7.5 4-1.5 4-0.5 4 0.5 4 0 4-1.5 8 9 4 5.5 4 7.5 4 4.5 4-12.5 4-9 4-3 8 15 4 1 4-17 4-13.5 4-9 4-3.5 4-0.5 8 10.5 4 8.5 4-7.5 4-17.5 4-12 4-9.5 4-9.5 8-16 12-22 8-8 12-10.5 12-6 12-7.5 20-9.5 4-1 8-1 8 1.5 12 15.5 4 4.5 4 2.5 8 2.5 12 5 4 0 8-2 4 0.5 4 8 4 11.5 16 48 4 6 8 6 4-1 8-6 16 30.5 4 1 8-18.5 4-6 8 7.5 4 7.5 8 19.5 12 5 8-1.5 4 3 4 4 4 0 16-4 8 8.5 4 3 8 4 4 0 12-12 4-3.5 16 4.5 24-32 4 0 8 4 4-2 8-11 4-1.5 8 6 4-1.5 12-6 12-7 8 3 4-0.5 16-11 4 2 12 12 4 2.5 8 3 4 0 8-4.5 4-1.5 12 0 4 0.5 12 6.5 4 1 12-6 12-4 12-5 4-3 8-14 12-26.5 4-4 8-5.5 8 4.5 12 6 4 4.5 12 19.5 8-9 4-3.5 8-6 8 7.5 4 7 8 17 12 20 12 6.5 4 1.5 16 5 16 7.5 4 2 36 32.5 16 9.5 16 12 20 33 4 5.5 12 14.5 8 8.5 12-5 4-1 8 1.5 4 1.5 12 9 12 16 4 3.5 4 2 12 2 16 6 12-2.5 4 1 16 12 4 1 12-5.5 4-1.5 12 5.5 16 11 4 1.5 12-0.5 16 6.5 12 2 24 8 32 7.5 8 4.5 12 8.5 20 3.5 28 1.5 16-4 4 0.5 12 7.5 12 11 16-0.5"/><path d="M100 639.5l8 0 4-1 8-3.5 12-7.5 28-18.5 12-12.5 24-33.5 12-15.5 24-29.5 24-26.5 8-11 8-9 4-1 4 1.5 8 0.5 4-3.5 4-3 4 0 4-3 4 2 4-4.5 8-24 8-21 4-9 12-23 16-24.5 40-58.5 12-13.5 8-8 4-2 4-0.5 4 1 4-0.5 4-1.5 8 8 4 5.5 4 7.5 4 4.5 4-12 4-9 4-3 8 16 4 0.5 4-17 4-13 4-9.5 4-3 4-1 8 10.5 4 8.5 4-8 4-17.5 4-12.5 4-9.5 12-26 12-22.5 8-8 12-10 12-5.5 12-6.5 20-9.5 4-1.5 8-1.5 8 1.5 12 14.5 4 4 4 3 8 2.5 12 5.5 4 0.5 8-2 4 1 4 8 4 10 8 23 8 20.5 4 4.5 8 5.5 4-1.5 8-6 8 16 8 14.5 4 1 8-18.5 4-6.5 8 8 4 8 8 19 12 4 8-2 4 3 4 4 4 0 16-4.5 8 8.5 4 3 8 4.5 4 0 16-14.5 16 4 24-32.5 4 0 8 4.5 4-2.5 8-10 4-1.5 8 6 4-1 12-7 12-7.5 8 3 4-0.5 16-11 4 2 8 8 4 5 4 8 8 22 4-3.5 4-13.5 4-10 4-4.5 4-0.5 12 1 12 7 4 1 12-6.5 12-4 12-5 4-2.5 8-13.5 4-7.5 8-18 4-4.5 8-5.5 20 10 4 4.5 12 18.5 12-14 8-6.5 8 7 4 7 8 17 12 20 16 8.5 16 5 16 6.5 4 2.5 36 34 16 9 16 11.5 20 34 4 6 20 25 12-3.5 4 0 12 3 12 8 12 15.5 4 3.5 4 2 12 2 16 6.5 12-3.5 4 0.5 16 9.5 4 1 12-6 4-1 12 7 16 12 4 1 12-2 16 6 12 1.5 4 1 16 6.5 16 4 20 6.5 20 12.5 20 3.5 28 4.5 16-5 4 0 8 4.5 4 3 12 12.5 16 0"/><path d="M100 639.5l8 0 4-1 8-4 40-26 4-4 8-8 4-5 8-10.5 12-18.5 12-16.5 24-28 24-25 8-11.5 8-9.5 4-1.5 4 1 8 0.5 4-3.5 4-2.5 4 0 4-3.5 4 2.5 4-4.5 8-23.5 12-30 16-31 12-18.5 20-28 20-29 8-10 8-8 4-4 4-1.5 4-0.5 4 1 4-0.5 4-1.5 8 8.5 4 5.5 4 7.5 4 4.5 4-12.5 4-9 4-3 8 15 4 1 4-17.5 4-13 4-9 4-3.5 4-1 8 11 4 8 4-8 4-18 4-13 4-9.5 4-9.5 8-16 12-21.5 8-8 12-9.5 12-6.5 12-8.5 20-10 4-1 8-1 8 1.5 12 15 4 4 4 2.5 8 2.5 12 6 4 0.5 8-2 4 1 4 8 4 10.5 8 22.5 8 20.5 4 4.5 8 5.5 4-1 8-6 8 16.5 8 14.5 4 1 8-19 4-6 8 8 4 8 8 19.5 12 4.5 8-1.5 4 3 4 4 4 0 16-5 8 8 4 3 8 4 4 0 12-12 4-3.5 16 4 24-32 4 0 8 4 4-2 8-11 4-1.5 8 6 4-1.5 24-13.5 8 3.5 4 0 16-11 4 2.5 4 4 4 4 4 6 4 9.5 4 15 4 12 4-4.5 4-16 4-13 4-5 4-1 12 0 12 7 4 1 12-6 24-7 4-2.5 8-13 4-8 8-18.5 4-4.5 8-6.5 20 9.5 4 4.5 12 19 12-14.5 8-6.5 4 3 4 4 4 7 8 17 12 19.5 16 8 16 5 16 7.5 4 3 28 26 8 7 16 8.5 16 12.5 20 34 4 5.5 20 25 12-3.5 4 0 12 3.5 12 8.5 12 16 4 3.5 4 2 12 1.5 16 5.5 12-3.5 4 1 16 11 4 1 12-5.5 4-1.5 12 6 16 11 4 1 12-1 16 7 16 2 16 5.5 16 4 20 6 20 13.5 28 3 20 4 16-4.5 4 0.5 8 4.5 4 3 12 12.5 16-0.5"/><path d="M100 640l12-0.5 12-5.5 8-5 16-11.5 12-7 12-11 12-15.5 12-18 12-16.5 24-28.5 24-25.5 8-11 8-9 4-0.5 4 1 8 1 8-7 4-0.5 4-3.5 4 2 4-5 8-23.5 8-20.5 4-9 16-30 24-38 20-29.5 8-11 12-13 8-8 4-2 4-0.5 4 1 4-0.5 4-1.5 8 9 4 6 4 7.5 4 4.5 4-12.5 4-9 4-3.5 8 15 4 1 4-17 4-13 4-9 4-3 4-1 8 11 4 8.5 4-8 4-17.5 4-12 8-18 20-37 8-8.5 12-11 12-6 12-7 20-9 4-1 8-1.5 8 1.5 12 14.5 4 4 4 3 8 2.5 12 6 4 0.5 8-2 4 1 4 8.5 20 65 4 6.5 8 6 4-1.5 8-6 16 30.5 4 1.5 8-17.5 4-6 8 8.5 4 7.5 8 19 12 4.5 8-1.5 8 7.5 4 0 16-4.5 8 9 4 3.5 8 5 4 0 16-15 16 4 24-31.5 4 0 8 4.5 4-2.5 8-10.5 4-2 8 6 4-1.5 24-15.5 8 3.5 4 0 16-10.5 4 2.5 4 4 4 4.5 4 6.5 4 13.5 4 22.5 4 18.5 4-7 4-24.5 4-19 4-7 4-1 12 0.5 4 2 8 3.5 4 0.5 8-5.5 4-2 12-4 4-2 8-2.5 4-2.5 8-13 4-8 8-18 4-5 8-6 20 11 4 5 12 20.5 4-4 4-4.5 12-10 4 3 4 4 4 6.5 8 17 12 19.5 16 8.5 16 5.5 16 8 4 2.5 24 22.5 12 10.5 16 9 16 12.5 20 33.5 4 5 20 21 12-5.5 4-1 8 0 4 1.5 12 8.5 12 16.5 4 3.5 4 2 12 2 16 8 12-2 4 1 16 10.5 4 1 12-6 4-1.5 12 6.5 16 10.5 4 1 12-0.5 16 6.5 12 1.5 4 1 20 8 16 3.5 16 4.5 20 12.5 24 1.5 24 2 16-4.5 4 0 8 4 4 3 12 11 16 0"/><path d="M100 635.5l8 0 4-0.5 8-3.5 16-10.5 24-18.5 12-12 12-14 24-32.5 24-29.5 24-27 8-11 8-9 4-1 4 1 8 1.5 8-6.5 4 0 4-3 4 2 4-5 8-23.5 8-21 4-9.5 16-30 12-18.5 20-28 20-30 12-14 8-8 4-2 4-0.5 4 1 4 0 4-1.5 8 9.5 4 5.5 4 8 4 4.5 4-12.5 4-9.5 4-3 8 15.5 4 1 4-17 4-13.5 4-9.5 4-3.5 4-1.5 8 10 4 8 4-8.5 4-18 4-12.5 4-10 4-9.5 8-16.5 12-21.5 8-7 12-10 12-6 12-8.5 20-10.5 4-1 8-1.5 8 1.5 12 14.5 4 4.5 4 3 8 3.5 12 6 4 0.5 8-2.5 4 1 8 16 8 18 8 16 12 6.5 4-1 8-6 16 31.5 4 1.5 8-18.5 4-6.5 8 7.5 4 7.5 8 18 12 3.5 8-2 4 3 4 4 4 0 16-5 8 8.5 4 3 8 4 4 0 16-16 16 3 24-32.5 4 0 8 4 4-2 8-11 4-2 8 6 4-1.5 4-3 20-14 8 3 4-0.5 16-11 4 2 4 4 4 4 4 5.5 4 8.5 4 14 4 11.5 4-4 4-16 4-12 4-5.5 4-0.5 12-0.5 4 2.5 8 1.5 4 0 12-10 16-11 8-2.5 4-2.5 8-13 4-7.5 8-18 4-4.5 8-6 20 9 4 4.5 12 20 4-4 4-5 4-4 8-6 8 8 4 6.5 8 18 12 21.5 12 8 4 2 16 6.5 16 9 4 3 36 34.5 16 11.5 16 12.5 24 41 20 30.5 12-0.5 4 0.5 12 4.5 12 8 12 16 4 4 4 2.5 12 2.5 12 5.5 4 1.5 12-3.5 4 1 16 9.5 4 0.5 12-6 4-1 12 5.5 16 12 4 1.5 12-1 16 6 12 1.5 4 1 16 7.5 4 1 16 2 12 3 4 1.5 20 13 24 5 24 3.5 16-4 4 0.5 8 4.5 4 3 12 12.5 16-1"/><path d="M100 641l12 0 8-3.5 12-7 28-19.5 12-12 12-15.5 20-27.5 16-18.5 16-20 20-23 8-11.5 8-9.5 4-1 4 1.5 8 1 8-6.5 4-0.5 4-3.5 4 2 4-4.5 8-23.5 8-20.5 4-9 16-29.5 16-25 36-51.5 12-13.5 8-8 4-2 4-1 4 0.5 4-0.5 4-1.5 8 8.5 4 6 4 7.5 4 4.5 4-12 4-9 4-3.5 8 16 4 0.5 4-17 4-13.5 4-9 4-3.5 4-1 8 11 4 8.5 4-7.5 4-17.5 4-12 4-9 4-9.5 8-15.5 12-22 8-7.5 12-9.5 12-5 12-7.5 20-10 4-1 8-1.5 8 1 12 15.5 4 4 4 3 8 2.5 12 6 4 0.5 8-2 4 1 4 8 20 65 4 7 8 5.5 4-1 8-6 16 32.5 4 1.5 8-18 4-6 8 8 4 7.5 8 19.5 12 4 8-1.5 4 3.5 4 4 4 0.5 16-4 8 8.5 4 3 8 4.5 4 0 16-15.5 16 3.5 24-31 4-0.5 8 4.5 4-2.5 8-10.5 4-2 8 6.5 4-1.5 12-6.5 12-8 8 2.5 4-0.5 16-11 4 2.5 8 8 4 5.5 4 8.5 4 13 4 11 4-4 4-14.5 4-11 4-4.5 4-1 12 0.5 12 5.5 4 1 12-7 16-7 8-2 4-2.5 8-12.5 4-7.5 8-18 4-4.5 8-6 20 11 4 5 12 20 12-13.5 8-6.5 8 7.5 4 6.5 8 17.5 12 20.5 16 8.5 16 5.5 20 9.5 12 10 24 23 16 10 16 11.5 20 33 12 13.5 12 12.5 12-6.5 4-1.5 8 0 4 1.5 12 9 12 16.5 4 4 4 2 12 3 16 8 12-1.5 4 1.5 16 11.5 4 0.5 12-6 4-1.5 12 6 16 10 4 0.5 8-1 4 0 16 7.5 12 2 4 1 16 7 4 1 16 3 16 5 20 11.5 16 0.5 32 3 16-5 4 0 8 4 4 2.5 12 11 16 0.5"/><path d="M100 639.5l12 0 8-3 16-9.5 24-17.5 12-12.5 4-5 8-10 20-27.5 16-20 12-14 24-25.5 8-11.5 8-9 4-1 4 1 8 0.5 8-6.5 4 0 4-3.5 4 2 4-4.5 8-23.5 8-21 4-9 16-30.5 12-19.5 32-46.5 8-10 20-21 4-2.5 4-1.5 4 0 4-0.5 4-2 8 8 4 5.5 4 7.5 4 5 4-12.5 4-8.5 4-3 8 16 4 1 4-17 4-13 4-9.5 4-3 4-1 4 4.5 4 6 4 8.5 4-8 4-17.5 4-11.5 4-9.5 4-9 8-15.5 12-21.5 8-8 12-10 12-6 12-7.5 8-4 12-5.5 12-2.5 8 1 12 14.5 4 4 4 3 8 2 12 6 4 0.5 8-2 4 1 4 8 20 60 4 6 8 5.5 4-1 8-5.5 8 16.5 8 15 4 1.5 8-18.5 4-6 8 8.5 4 7.5 8 19 12 4 8-2 4 3 4 4 4 0.5 16-3.5 8 8 4 3 8 4 4 0 12-11.5 4-3.5 16 4.5 24-30.5 4 0 8 4.5 4-2.5 8-11 4-2 8 6 4-1.5 12-6.5 12-8 8 3 4-0.5 16-10 4 2.5 8 8 4 7 4 13.5 4 23.5 4 19 4-7 4-25.5 4-19.5 4-7 4-1 12 1.5 12 6 4 0.5 12-7.5 16-6 8-2.5 4-2.5 8-13.5 12-26 4-5 8-6 20 11 4 5.5 4 7 8 12.5 12-13.5 8-6.5 8 7.5 4 7 8 17.5 12 20 16 7 16 5 20 10 12 10.5 24 23.5 16 9.5 16 11.5 20 33 12 15 12 13.5 12-6 4-1 8 0.5 4 1.5 12 8 12 16 4 4 4 2.5 12 3 16 6.5 12-3 4 1.5 16 12 4 1.5 12-6.5 4-1 12 6 16 11 4 0.5 12-1 16 5.5 12 1 4 1 20 8.5 32 9.5 20 11.5 48 6 16-4.5 4 0.5 8 4 4 3 12 11 16-0.5"/><path d="M100 638l8-0.5 4-0.5 8-4 16-10 24-16.5 12-11 12-14.5 12-17 36-46.5 12-13.5 12-12 8-11 8-9.5 4-1 4 1 8 1 8-7 4-0.5 4-3.5 4 1.5 4-5 8-24 8-21 4-8.5 12-23 16-24.5 40-58 12-14 8-7.5 4-2 4-1 4 1 4-0.5 4-1.5 8 8.5 4 5.5 4 7.5 4 5 4-12.5 4-9 4-3 8 15.5 4 1 4-17 4-13.5 4-9 4-3 4-1 8 10.5 4 8 4-8 4-18 4-12.5 4-10 4-9.5 8-16 12-22 12-11.5 8-6.5 12-6 12-7.5 20-11 4-1.5 8-1.5 8 1.5 12 16 4 4 4 3 8 3 12 6 4 0.5 8-2 4 0.5 8 17.5 8 21.5 8 19 4 4.5 8 5.5 4-1 8-5.5 8 15.5 8 14 4 1 8-18.5 4-6 8 8 4 7.5 8 19 12 3 8-2 4 2.5 4 4 4 0.5 16-4.5 8 8 4 3.5 8 4 4 0.5 16-16 16 4 24-33.5 4 0 8 4 4-1.5 8-10 4-1.5 8 6.5 4-1.5 12-7 12-7.5 8 2.5 4-0.5 16-11.5 4 2 8 8 4 5.5 4 6.5 8 18.5 4-2.5 4-11 4-8.5 4-4 8-0.5 8 0 12 6 4 1 8-4.5 4-1.5 12-3.5 12-4.5 4-3 8-14 12-27 4-5 8-6 20 10 4 4.5 12 19.5 8-9.5 4-3.5 8-6 8 8 4 6.5 8 17.5 12 19 12 5 20 6.5 16 9 4 3 36 33.5 16 10 16 12 20 32.5 24 32.5 12-2.5 4 0.5 12 4 12 7.5 12 16 4 4 4 2 12 2.5 16 5.5 12-2.5 4 0.5 16 9.5 4 0.5 12-5 4-1 12 6.5 16 10.5 4 0.5 8-1.5 4 0 16 7.5 12 2 4 1 20 8 16 3 16 4 20 14 12 2 24 1.5 12 2 16-4 4 0 8 4 4 2.5 12 12 16 1.5"/><path d="M100 643l12-0.5 8-2.5 4-2 12-8 24-17.5 12-12.5 4-4.5 28-38.5 28-34 24-25.5 8-11 8-9 4-1 4 1 8 0.5 8-7.5 4-0.5 4-3.5 4 2 4-4.5 8-24 8-20.5 4-9 16-30 12-19 32-46.5 8-10.5 20-21.5 4-2 4-1 4 1 4 0 4-1.5 8 8.5 4 5.5 4 7.5 4 4.5 4-12.5 4-9.5 4-3 8 16 4 1 4-16.5 4-13 4-9 4-3.5 4-1 8 10.5 4 8.5 4-8 4-17 4-11 8-17 20-34.5 12-12 8-7 12-5 12-7 20-10 4-1 8-1.5 8 1 12 15.5 4 4 4 3 8 3 12 6.5 4 0.5 8-2 4 0.5 4 8 20 76.5 4 9 4 4 4 3 4-1 8-5.5 16 31.5 4 1.5 8-17.5 4-6 8 9.5 4 8 8 20 12 5 8-1 4 3 4 4.5 4 0.5 16-4 8 8.5 4 3 8 4 4 0.5 12-12 4-3 16 5 24-31 4 0 8 4 4-2.5 8-10.5 4-1.5 8 6.5 4-1 12-6 12-7.5 8 2.5 4-1 16-12 4 2.5 8 8 4 4.5 4 6 8 16.5 4-2.5 4-10 4-8 4-3.5 16 0 4 2 8 2.5 4 0.5 12-9 16-8.5 8-2 4-2 8-12.5 4-7 8-17.5 4-4.5 8-6 8 5 12 8.5 4 6 4 7.5 8 13.5 12-14 8-6.5 4 3 4 4.5 4 6.5 8 18 12 20.5 16 10 20 7 12 5.5 4 2.5 36 33 16 10.5 16 12 16 26.5 4 5.5 4 4 20 16 12-9 4-2.5 8-2 4 1.5 12 9.5 12 16.5 4 4.5 4 2.5 12 4.5 16 9 12-1 4 1.5 16 12.5 4 1 12-6.5 4-1 12 6.5 16 11.5 4 1 12-1.5 16 5.5 12 1 4 1 20 8.5 16 3.5 16 4 20 12 20 2 28-1 16-5.5 4-0.5 8 3.5 4 2.5 12 10 4-0.5 12 0.5"/><path d="M100 640l8 0 4-0.5 8-4 16-9.5 24-16 12-12 4-5 8-11 12-17.5 12-16 24-28.5 24-25.5 8-11.5 8-9 4-0.5 4 1 8 1 8-7 4 0 4-4 4 2 4-5 8-24 8-21 4-9 16-30 12-18.5 40-57.5 12-13 8-8 4-2 4-0.5 4 1 4 0 4-1.5 8 9 4 5 4 7.5 4 4.5 4-13 4-9 4-3.5 8 15.5 4 0.5 4-17 4-13 4-9.5 4-3 4-1 8 10.5 4 8.5 4-8 4-17.5 4-12 8-18 20-37.5 8-8.5 12-10 12-5.5 12-7 20-10 4-1.5 8-1.5 8 1.5 12 16 4 4 4 3 8 2.5 12 5.5 4 0.5 8-1.5 4 1.5 4 8 20 59 4 6 8 6 4-1.5 8-5.5 16 31 4 1.5 8-18 4-6 8 8.5 4 7.5 8 19.5 12 4.5 8-1.5 8 7.5 4 0 16-5.5 8 8.5 4 3 8 4 4 0.5 16-15.5 16 3.5 24-31 4 0 8 4 4-2 8-11 4-1.5 8 6.5 4-1.5 4-2 20-13 8 3.5 4 0 16-10.5 4 2.5 8 8 4 5.5 4 6.5 8 17.5 4-2.5 4-11 4-8.5 4-3.5 8-1 8 0.5 12 6 4 1 8-5.5 4-1.5 24-8 4-2.5 8-13 4-7.5 8-18 4-4.5 8-6.5 20 11.5 4 5 4 7 8 12 12-14.5 8-7 4 3.5 4 4 4 7.5 8 17.5 12 19.5 16 7 16 4.5 16 8.5 4 2.5 16 15.5 20 17.5 16 10 16 12 20 33 24 30.5 12-5.5 4-1 8 0.5 4 1 12 8 12 15 4 3.5 4 2 12 3 16 7.5 12-2.5 4 1 16 12 4 1 12-5.5 4-1 12 5.5 16 9.5 4 0.5 12-1 16 6.5 12 1.5 4 1 16 6 16 3.5 20 7 20 13 20 3.5 28 2 16-4.5 4 0 12 7.5 12 11 16-1"/><path d="M100 638.5l8 0 4-0.5 8-3.5 16-9.5 24-15.5 12-12.5 4-5.5 8-10.5 12-18 12-16 24-28.5 24-26 8-11.5 8-9 4-1 4 1 8 0.5 8-6.5 4 0 4-3.5 4 2 4-4.5 8-23 8-21 4-8.5 16-30 24-37.5 20-29.5 8-10.5 20-21.5 4-2 4-0.5 4 0.5 4 0 4-1.5 8 9 4 5.5 4 7.5 4 4 4-12.5 4-9 4-3.5 8 15.5 4 1 4-17 4-13 4-9 4-3.5 4-1 8 11 4 8 4-7.5 4-18 4-12.5 4-9.5 4-9 8-16.5 12-21.5 8-8.5 12-10.5 12-5.5 12-7.5 20-10 4-1.5 8-1.5 8 1 12 15 4 4 4 3.5 8 2.5 12 6 4 0.5 8-2 4 1 4 8 4 10.5 8 22.5 8 20.5 4 5 8 5.5 4-1 8-5.5 8 16.5 8 14.5 4 1 8-18.5 4-6.5 8 7.5 4 7.5 8 19 12 4 8-2 4 3 4 4.5 4 0 16-4 8 8.5 4 3 8 4 4 0.5 12-12.5 4-3 16 3 24-33 4 0 8 4.5 4-2 8-10 4-1.5 8 6.5 4-2 24-15.5 8 3.5 4-0.5 16-9.5 4 2.5 8 9 4 7.5 4 13.5 4 23.5 4 19.5 4-7 4-25 4-19.5 4-7.5 4-1.5 12 0 12 6 4 1.5 12-6.5 12-3 12-4.5 4-2.5 8-13 4-8 8-18.5 4-4.5 8-6.5 20 11 4 5 4 6.5 8 11.5 8-10.5 4-4 8-6.5 8 8 4 7 8 17.5 12 19.5 12 6 20 6.5 16 8.5 4 3 12 10.5 24 20 16 9.5 16 11 20 32.5 24 32.5 12-2 4 0 12 3 12 6.5 12 15 4 3.5 4 2 12 2 16 7 12-2.5 4 1 16 10.5 4 0.5 12-6.5 4-1.5 12 6.5 16 12 4 0.5 12-1 16 6 12 1.5 4 1.5 16 6.5 4 1.5 16 2.5 16 4.5 20 13 48 7.5 16-4 4 0 8 4.5 4 3 12 11.5 16 0"/><path d="M100 638.5l12 0 8-3 16-9.5 24-18 12-13 12-15.5 20-27.5 28-34 24-26.5 8-11 8-9 4-1 4 1.5 8 1 8-6.5 4 0 4-3.5 4 2 4-4.5 8-24 8-21.5 4-9 16-30 44-66.5 8-11 12-13 8-8 4-2 4-0.5 4 1 4 0 4-1.5 8 8.5 4 6 4 7.5 4 4.5 4-12.5 4-9 4-3 8 16 4 1 4-17 4-13 4-9.5 4-3.5 4-1 8 10.5 4 8 4-8 4-18 4-12 4-10 4-9 8-16.5 12-21.5 8-8 12-9.5 12-6.5 12-8.5 20-10 4-1.5 8-1.5 8 1.5 12 15.5 4 4.5 4 3 8 3 12 5.5 4 0.5 8-2 4 0.5 4 8 4 9.5 16 42 4 5 8 5.5 4-1 8-6.5 16 29.5 4 1 8-18.5 4-6.5 8 8 4 7.5 8 19 12 4 8-1 4 3 4 4.5 4 0 16-5 8 8 4 3 8 3.5 4 0 12-13 4-3.5 16 4.5 24-30 4 0 8 4 4-2 8-11 4-1.5 8 6.5 4-1.5 8-4.5 16-11 8 3 4-0.5 16-11 4 2.5 4 4 4 4 4 6 4 8.5 4 13.5 4 11 4-4 4-14.5 4-11.5 4-4.5 4-0.5 12 0 12 7.5 4 1.5 12-5 12-3 12-4.5 4-2.5 8-13 4-8 8-18.5 4-5 8-6.5 20 9 4 4.5 12 20 12-13.5 8-6.5 8 7 4 6.5 8 16.5 12 19.5 16 8 16 4.5 16 7.5 4 2.5 36 33 16 9.5 16 13 20 33 24 31 12-2 4 0 12 3.5 12 7.5 12 15 4 3.5 4 2.5 12 2 16 5.5 12-3.5 4 1 16 11 4 0.5 12-6 4-1 12 6 16 11 4 0.5 12-1 16 6 12 1.5 4 1.5 20 8 20 4.5 12 4 20 13.5 48 6 16-4.5 4 0.5 8 5 4 3.5 12 12 16-0.5"/><path d="M100 639l12 0.5 8-3 4-2 12-7 24-18.5 12-12.5 4-4.5 32-43.5 24-29 24-27 8-11.5 8-8.5 4-1 4 1.5 8 1 8-6.5 4 0 4-3.5 4 2 4-4.5 8-23.5 12-30 16-31 12-19 32-47.5 8-10.5 20-21 4-2 4-1 4 1 4-0.5 4-2 8 9 4 5.5 4 7.5 4 4.5 4-12.5 4-9 4-3 8 16 4 1 4-16.5 4-13 4-8.5 4-3 4-1 8 11 4 8 4-8.5 4-17.5 4-12.5 4-9.5 4-9.5 8-15.5 12-22 8-8.5 12-11 24-13 12-5 8-4.5 4-1.5 8-2 8 1.5 12 15.5 4 4.5 4 3 8 3 12 6.5 4 0.5 8-2 4 1 4 8 12 34.5 8 21 4 5 8 5.5 4-1.5 8-5.5 8 16 8 14.5 4 1 8-18.5 4-6.5 8 8.5 4 7.5 8 19 12 4 8-2 4 3 4 4 4 0 16-4.5 8 8.5 4 3.5 8 4.5 4 0 16-15.5 16 4 24-31 4-0.5 8 4.5 4-2.5 8-10.5 4-2 8 6.5 4-1.5 8-5 16-10.5 8 3 4-0.5 16-10.5 4 2.5 4 4 4 4.5 4 7 4 13.5 4 23 4 19 4-6.5 4-25 4-18.5 4-7.5 4-1 12 0.5 12 6.5 4 1 8-4.5 16-5 12-5.5 4-3 8-13.5 12-26.5 4-4.5 8-6.5 20 10.5 4 5 12 20 12-14 8-6.5 4 3 4 4 4 6.5 8 17.5 12 20 12 6 20 6.5 20 11 16 13.5 20 18.5 16 9.5 16 11.5 20 34 8 11 16 19.5 12-4.5 4-0.5 12 2 12 7 12 15.5 4 3.5 4 2.5 12 2.5 16 7.5 12-2.5 4 1 16 11.5 4 1 12-6.5 4-1.5 12 5.5 16 11.5 4 1 12-0.5 16 6.5 12 1.5 4 1 16 6.5 20 4 16 5 20 13 20 3.5 28 3.5 16-5.5 4 0 8 4 4 3 12 12 16 0"/><path d="M100 643l8-0.5 4-0.5 8-3.5 16-9 24-15.5 12-12.5 4-5 32-45 20-23.5 28-31 8-12 8-9.5 4-1 4 1 8 1.5 4-4 4-2.5 4 0 4-3 4 2.5 4-5 8-24 8-21 4-9.5 12-23 4-7 52-75 12-13.5 8-8 4-2 4-0.5 4 1 4-0.5 4-1.5 8 8.5 4 5 4 7.5 4 4 4-12.5 4-9.5 4-3 8 15.5 4 1 4-16.5 4-13 4-8.5 4-3.5 4-1 8 10 4 8.5 4-8 4-16.5 4-11 8-16.5 20-36 8-8 12-9.5 12-5.5 12-7.5 20-10.5 4-1.5 8-1 8 2 12 15.5 4 4 4 3 8 2.5 12 6.5 4 1 8-2 4 0.5 4 8 20 77 4 9.5 4 4 4 3 4-1 8-5.5 16 31 4 1.5 8-18 4-5.5 8 9 4 8 8 20 12 6 8-1 8 7 4 0.5 16-5 12 12 8 5.5 4 0.5 16-14.5 16 4.5 24-31.5 4 0 8 4.5 4-2 8-10.5 4-1.5 8 6 4-1 8-5 16-10 8 3 4-0.5 16-11 4 2.5 4 4.5 4 4.5 4 6.5 4 13 4 21.5 4 17 4-7 4-24 4-18.5 4-7.5 4-1.5 8-0.5 4 1 4 2.5 8 3.5 4 0.5 12-8.5 16-9 8-2 4-2.5 8-12.5 4-8 8-18 4-4.5 8-6 12 7 8 5.5 4 6 4 8 8 13.5 12-13 8-6.5 4 3 4 4.5 4 7 8 17.5 12 21 16 9 16 6.5 20 12 36 31 16 9 16 12.5 16 27.5 4 6 4 4 20 15 12-9 4-2 8-2 4 1.5 12 9.5 12 17.5 4 4 4 2 12 3 16 9 12-0.5 4 1.5 16 12.5 4 1.5 12-6 4-1.5 12 6.5 16 11.5 4 1 12-1 16 6 12 2 4 1.5 16 6.5 4 1 16 2 16 4.5 20 12 16 1.5 32-1.5 16-5.5 4 0 8 4 4 2.5 12 11 16-0.5"/><path d="M100 637l8 0 4-0.5 8-3.5 16-9 24-18 12-12 4-5 8-10 12-17 12-16 24-28.5 24-26.5 8-12 8-9.5 4-1 4 1.5 8 1.5 8-7 4 0 4-4 4 2 4-5 8-24 8-21 4-9 12-22 24-35.5 20-31.5 12-17 12-13.5 8-8 4-2 4-0.5 4 0.5 4 0 4-1.5 8 9 4 5 4 7.5 4 4 4-12.5 4-9 4-2.5 8 16.5 4 1 4-16.5 4-13 4-9 4-3.5 4-0.5 8 10.5 4 8 4-8 4-18 4-12.5 4-9.5 4-9.5 8-16 12-22.5 8-8.5 12-10 12-6.5 12-8 20-10 4-1.5 8-1 8 1.5 12 15 4 4 4 2.5 8 2 12 6 4 0.5 8-1.5 4 1 8 17.5 8 21 8 18.5 4 3.5 8 4.5 4-1.5 8-6 16 31 4 1.5 8-18.5 4-6.5 8 7.5 4 7.5 8 19 12 4.5 8-1.5 4 2.5 4 4 4 0 16-6 8 7.5 4 3.5 8 4 4 0 16-15 16 4.5 24-31.5 4-0.5 8 3 4-2.5 8-11 4-1.5 8 7.5 4-1 12-6.5 12-8.5 8 2.5 4-0.5 16-12 4 2.5 24 24.5 4-1.5 8-9.5 4-2 16 0.5 4 2.5 8 3.5 4 0 12-8 24-10.5 4-3 8-13.5 12-26.5 4-4.5 8-6.5 20 10 4 4.5 12 19.5 8-9.5 4-4 8-5.5 8 7.5 4 7 8 17.5 12 20 12 6.5 20 6.5 16 9.5 4 3 16 15.5 16 13.5 4 3.5 12 7 8 5.5 12 10 20 34 24 33 12-2 4 0.5 12 4 12 8.5 12 16 4 4 4 2 12 1.5 16 6.5 12-2.5 4 1 16 10.5 4 0.5 12-6 4-1 12 5.5 16 11 4 1 12-1.5 16 6 12 1 4 1 20 8.5 16 3.5 16 5 20 14.5 12 2.5 20 1.5 16 2.5 16-4.5 4 0 8 5 4 3 12 11 16 0"/><path d="M100 636.5l12 0 8-2.5 12-6.5 28-22.5 12-11.5 12-14.5 20-28 52-61.5 8-12 8-9 4-1 4 1.5 8 1 4-4 4-2.5 4 0 4-3 4 2 4-5 8-23.5 8-21.5 4-9 16-30 12-18.5 36-52 4-5.5 20-21 4-2 4-1 4 0.5 4 0 4-2 8 9 4 6 4 7.5 4 4.5 4-12.5 4-9 4-3.5 8 16 4 0.5 4-16.5 4-13.5 4-9 4-3.5 4-1 4 4.5 4 5.5 4 8.5 4-8 4-18 4-12.5 4-10 12-26 12-22.5 8-8 12-10 12-5.5 12-7.5 20-10.5 4-1 8-1.5 8 1 12 14.5 4 4 4 3 8 3.5 12 6 4 1 8-2 4 1 8 17 8 19.5 8 17 4 3 8 4 4-1 8-6 8 16.5 8 14.5 4 1.5 8-19 4-6 8 8 4 7.5 8 18.5 12 4 8-1.5 4 3 4 3.5 4 0 16-5.5 8 8.5 4 3.5 8 4 4 0 16-16 16 2 24-31.5 4 0 8 4 4-2.5 8-10.5 4-1.5 8 6.5 4-1.5 12-7 12-8.5 8 3 4-0.5 16-11.5 4 2 4 4 4 4 4 5.5 4 10 4 16.5 4 13 4-4.5 4-18 4-13.5 4-6 4-1 12-0.5 4 2 8 3 4 0.5 12-7.5 12-5.5 4-2.5 8-3.5 4-2.5 8-13 12-25.5 4-4.5 8-6 20 9 4 5 12 19 12-13.5 8-6 8 7.5 4 7.5 8 17.5 12 19.5 16 9 16 7 20 11.5 28 27.5 8 7 16 10 16 12.5 24 40 20 28.5 12-2 4 0 12 4 12 8.5 12 16 4 4 4 2 12 1.5 16 6.5 12-2 4 1.5 16 10.5 4 0 12-6.5 4-1.5 12 5.5 16 11.5 4 1 12-1 16 6 12 1.5 4 1.5 16 6.5 16 3 8 2.5 12 5 20 13.5 20 3.5 28 3.5 16-4 4 0.5 12 7.5 12 11 16-0.5"/></g><g style="stroke:#ffa500;stroke-opacity:0.115"><path d="M100 656.5l8 0 4-1 8-3.5 12-6.5 28-21.5 12-12 12-14 16-21.5 12-15 8-12.5 12-15.5 8-9 16-22 8-14.5 4-5.5 4-2 4 6.5 8 29 4-8.5 4-18.5 4-5 4-1 4 2 4 3.5 4-5 4-13 4-8.5 8-29.5 4-13 8-22 8-19.5 12-21.5 20-31 28-35.5 12-12 4-3 4 0.5 12 4 4 6.5 4 10.5 4 13 4 15.5 4 21 8-20.5 4 2 4 13 4 18 4-7 8-52 4-18 4-2.5 4 10.5 8 28.5 4 10.5 8-35.5 4-16 4-11.5 4-17.5 4-22.5 4-18 4-15.5 4-8.5 4-7 4-5 8-8.5 8-7 16-8 8-5 16-6 8-2 4 1.5 4 0 8 5.5 4 7.5 8 23.5 4 10 4 7.5 4 6 8 6 4 2 4 0.5 4 2.5 8 8.5 8 24.5 4 17 8 40 8 46.5 8 39 8 32.5 4 10.5 8 14 4 2.5 8-4.5 4-7 8-29.5 4-9 4-4.5 8 20.5 4 27.5 4 20.5 4 15 4 7.5 4-1.5 4-4.5 8-16 4 0.5 8 6 4-0.5 8-6 4-1 12 1 12-11.5 12-13.5 12-6 12-18 16-29 24-35.5 8-13.5 8-7.5 4 2 8 7.5 4 1.5 4 2.5 8 19.5 4 14.5 4 9 4 1.5 4-3.5 16-52.5 4-6.5 4 7 4 16.5 4 49.5 4 63.5 4-14 8-80 4-21 4 0 4 6 12 12.5 8 11 4-8.5 4-14.5 4-10.5 8-11.5 4-2 8-1.5 4-2.5 12-24 12-26.5 8-14.5 4-0.5 12 1.5 12 3 4 2.5 8 7 4 0 8-1 12-3.5 4 2.5 16 13.5 16 12 24 8.5 32 9.5 16 7.5 28 11.5 16 8 20 23 8 7.5 4 1.5 36 5 4 1 16 7 12 2 4 0.5 8-0.5 4-1 12-4.5 12-2 16-5 8-3 16-12 8-1.5 4-2.5 4-3.5 16-8.5 16-12 4-4 20-24.5 24-23 20-17.5 32-13.5 4-2.5 16-18 24-36.5 8-11 12-13 4-5.5 24-25 20-22.5"/><path d="M100 647l8 0 4-1 20-8.5 4-2.5 8-5.5 16-13.5 12-13 12-13.5 16-22 12-14.5 8-11.5 20-25 16-21 8-13 4-5.5 4-2 4 5 8 22.5 4-6.5 4-15 4-4.5 4-0.5 4 1 4 3.5 4-5 4-12.5 4-9.5 8-29 4-12.5 16-43 12-22 20-30.5 12-12 20-27.5 12-13.5 4 0.5 8 3.5 4 4 4 7.5 8 21 4 13.5 4 17 8-21 4 0 4 12 4 15.5 4-5 8-46.5 4-15 4-3 4 7.5 8 23.5 4 9.5 8-33.5 4-15.5 4-11.5 12-48.5 4-12 8-18.5 4-7 8-10.5 4-4 8-6.5 20-10.5 8-1.5 16-0.5 8 0.5 8 4.5 4 6.5 8 19.5 4 8.5 4 6 4 4.5 8 5 12 5 8 4.5 4 8.5 4 10.5 12 65 8 50 4 21 4 20.5 8 35 4 11.5 8 14 4 3.5 8-3.5 4-6.5 8-30.5 4-9 4-4.5 4 8.5 4 10.5 4 26 4 20 4 14 4 7.5 4-1.5 4-3.5 8-14.5 4 1 8 6 4-1 8-5.5 4-0.5 12 1.5 8-7 16-18 12-5.5 12-17.5 12-21 20-30 16-25.5 8-7.5 4 2 8 7 8 4 8 18.5 4 14 4 8 4 2 4-3 16-49.5 4-6.5 4 6.5 4 14.5 4 45.5 4 59 4-13 4-41 4-34 4-19.5 4 1 4 5.5 4 4.5 16 15.5 4-10 4-16 4-12 8-16.5 4-4 8-3.5 4-4 28-59.5 4-7 4-1.5 4 0 20 4 4 2.5 8 7.5 4 1 20-8 8 6 16 15.5 8 7 4 2.5 24 9 24 6 12 3.5 16 6.5 24 11 16 9 16 21.5 8 12.5 8 10.5 4 2.5 4 0.5 20-4.5 8-0.5 4 1.5 16 8.5 12 2 4 0.5 8-1 4-1.5 12-6.5 12-3.5 24-13.5 16-13 8-2 4-2.5 4-4 12-9 4-4 20-23 20-29 24-28.5 24-26.5 28-26 4-4.5 16-26.5 28-53 16-26 48-87"/><path d="M100 635l8 0 4-0.5 8-3 16-9.5 24-17.5 12-12 4-5 8-10 20-28.5 28-35 24-27 8-11.5 8-8.5 4 0 8 5.5 4-1 4-6 4-3.5 4 0 4-3 4 2 4-4.5 16-45 12-26.5 8-24.5 12-23.5 12-18.5 8-13.5 12-12 20-27.5 12-13 4 0.5 8 4.5 4 6 4 8.5 8 12 4 8.5 4 7 4-12 4-9 4-2.5 8 18 4 0 8-33.5 4-10 4-3.5 4 0.5 8 12.5 4 8 4-9.5 4-18 4-13 12-29.5 8-17 4-13.5 8-18.5 8-12 4-4 8-6.5 20-9.5 4 0 8 1.5 4 1 8 3.5 8-1.5 8 1.5 4 5 8 12 4 5 4 3.5 8 3.5 12 6.5 4 1 8 0 4 2 4 9 4 15.5 16 76 8 22 4 10 4 7 4 4.5 4 1.5 4 7.5 4 6.5 8 7 4-2 8-23.5 4-7.5 4 0.5 4 6 4 9 4 17 4 14 4 6.5 4 4 4 0 4-2.5 4-3.5 4-1.5 4 2.5 4 1.5 4 1 4-1 8-3.5 12 6.5 4 1.5 4 0 4-1.5 16-16.5 12-0.5 4-2 8-10.5 16-24 4-2.5 8-2.5 4-4 8-11.5 4-4 4-1 4 0.5 4-2.5 4-0.5 8 1 8-1 4 3 4 5 4 7.5 4 3.5 4-0.5 4-3 8-14.5 4-5 4-3 4-1 4 5 4 8.5 4 21.5 4 28 4-6 8-36 4-10 4 0.5 12 7 4 3 8-5 4-9 8-23 8-17 4-5 8-4.5 4-3 8-8.5 8-14 12-26 4-5.5 8-5.5 20 8.5 4 4 8 12 4 5 12-12.5 8-6.5 8 7 4 6 8 15 12 17.5 12 5 16 4 4-0.5 16 1 16 1.5 12-0.5 4 0.5 40 16 16 18 16 15 4 2 20 5 12 5 4 2 16 11.5 12 4 4 0.5 8 0 4-1 24-10 24-13.5 16-13.5 8-2.5 4-2.5 4-4 12-8.5 4-3.5 16-17.5 4-5 20-30 44-53 36-59 16-33.5 28-66.5 16-33 24-60 24-63.5"/><path d="M100 634.5l8 0 4-1 12-5.5 12-7.5 24-17 12-11 12-15 12-18 12-16.5 24-29 24-27 8-12 8-9.5 4 0 8 5.5 4-0.5 4-5 4-3 4 0 4-2.5 4 2 4-4.5 16-46 12-26 8-24 12-23.5 12-18.5 8-14 12-12.5 20-28 12-12.5 4 1 8 4.5 4 6.5 4 8.5 8 12 4 8.5 4 6.5 4-12 4-9 4-2.5 8 18 4-0.5 8-32.5 4-10 4-3.5 4 0.5 8 12 4 8.5 4-9.5 4-18 4-13.5 12-30 8-17.5 4-13.5 8-19 8-12 4-4.5 8-7 20-7.5 4 0.5 12 3.5 8 3.5 8-1 8 1.5 4 4.5 8 12.5 4 5 4 3.5 20 9 4 0.5 8-1.5 4 2 4 8 4 15.5 8 35.5 8 39 12 32.5 4 7.5 4 4.5 4 1.5 4 8 4 6 8 7 4-2 8-23.5 4-7.5 4 1 4 6 4 9.5 8 31 4 7 4 4 4 0 4-2 4-3.5 4-1.5 4 2.5 4 1.5 4 0 4-1 8-4 12 6 4 1.5 4-0.5 4-1.5 16-15.5 12 0 4-2 24-34 4-2.5 8-2 4-4 8-11 4-3.5 4-1 4 0 4-2.5 4-0.5 8 0.5 8-1.5 4 3 4 5 4 7 4 4 4-1 4-2.5 8-13.5 4-4.5 4-3 4-0.5 4 4.5 4 8 4 21.5 4 27 4-5.5 8-35.5 4-9.5 4 0.5 4 3 8 4 4 3 8-6 4-10 8-24 8-17.5 4-4.5 8-4 4-2.5 8-7.5 8-14 12-26 4-5 8-5.5 20 8 4 4 8 11.5 4 5 12-13 8-6.5 8 7 4 6.5 8 15.5 12 18 12 5 16 5.5 16 1 12 0 20-2.5 4 0.5 4 1.5 20 8.5 16 8 16 18 16 14.5 4 2 20 5 12 4.5 4 2 16 11 12 4.5 4 0.5 8 0.5 4-1.5 12-5.5 12-4 24-13.5 16-13.5 8-3 4-3 4-4 16-12.5 16-16.5 4-4.5 20-28.5 44-55.5 36-58.5 16-34 28-67.5 16-33 4-9.5 24-60.5 20-52.5"/><path d="M100 660l8 0.5 4-1 20-8.5 8-5.5 20-18 12-13 12-14 16-22 12-13.5 8-12.5 12-15.5 8-9.5 16-23.5 4-6.5 4-8 4-5.5 4-0.5 4 8 8 29 4-8.5 4-18.5 4-5.5 4-1.5 4 2.5 4 3.5 4-5.5 4-13 4-8 12-44 8-24 8-19.5 12-20.5 20-30 20-25.5 12-13.5 8-7.5 4-2.5 4 0 4 1 8 1.5 4 6 8 25.5 4 15 4 21.5 8-20.5 4 1.5 4 13.5 4 18 4-7 8-51 4-17.5 4-2.5 4 10.5 8 28.5 4 10 8-36 4-16 4-12 4-17.5 4-22.5 8-35.5 4-7 4-7 8-8 12-10 12-5.5 12-7.5 20-10 4-1.5 4 1.5 4 0.5 8 6 4 8 8 23.5 4 10 4 7.5 4 6 8 6 4 2.5 4 1 4 2.5 8 8 8 24 4 17.5 8 41.5 8 48 8 41 8 33 4 10.5 8 14.5 4 3 8-3.5 4-6.5 8-30 4-8.5 4-5.5 8 20 4 27 4 20 4 15 4 7.5 4-2.5 4-4 8-16.5 4 0 8 6.5 4-0.5 8-5.5 4-1 12 1.5 4-3.5 8-8 12-13.5 12-6 12-18 12-21.5 24-36.5 12-21 8-8.5 4 2 8 7.5 4 2 4 3 8 20 4 14.5 4 9.5 4 2 4-3.5 16-52 4-7 4 6.5 4 16.5 4 49 4 63.5 4-13.5 8-80.5 4-21 4 0 4 6 12 12 8 15.5 4-7 4-13 4-9.5 8-9.5 16-5.5 12-23.5 12-26 8-14.5 4-1 12 2 12 2.5 4 2.5 8 7 4 0 8-0.5 12-2 20 17.5 16 12 24 9.5 32 6.5 16 5.5 28 8 16 6.5 16 15.5 12 8 4 1 12 1 28 4.5 16 6 12 1 8 0 4 1.5 4 0 12-2 12-1 16-4.5 8-2.5 16-10 8 0 4-1.5 4-3 16-8 16-11 4-3.5 8-9.5 12-12.5 40-32.5 4-2.5 32-3.5 4-2 16-15.5 28-35 16-16.5 4-5 8-6 16-11.5 20-16.5"/><path d="M100 651.5l8 0 4-0.5 12-6.5 8-5 16-12.5 12-8.5 12-11 12-14.5 16-23 12-14 8-12 12-15.5 8-9 16-22.5 8-13.5 4-5.5 4-2.5 4 6 8 26.5 4-7.5 4-16.5 4-5 4-0.5 4 2 4 3.5 4-5 4-13 4-9 8-30.5 4-13 16-42 12-21.5 20-32 12-13 20-24.5 12-12.5 4 0 8 3 4 3 4 7 4 10 4 12.5 4 15 4 19.5 8-20 4 1 4 12.5 4 17 4-6.5 8-49.5 4-17 4-2.5 4 8.5 8 26 4 9.5 12-51.5 4-11.5 4-16 4-20 4-16 4-13 4-9.5 4-8.5 4-6.5 8-10 4-4 8-6 12-5.5 8-5 8-2 8-1 8-0.5 4 1 4 0 8 4 4 7 8 21 4 9 4 6.5 4 5 12 8.5 4 1.5 4 2 8 6.5 8 20.5 12 63 8 49.5 8 42 8 34 4 11 8 14.5 4 3 8-4 4-7 8-29.5 4-9 4-5 8 19.5 4 26.5 4 20 4 14.5 4 7 4-2 4-4.5 8-15.5 4 1 8 6 4-0.5 8-5.5 4-1 12 2 8-7 16-17 12-5.5 12-18 12-22 24-35.5 12-20.5 8-8.5 4 2.5 8 7 8 4.5 8 18.5 4 14 4 9 4 1.5 4-3 16-50.5 4-6.5 4 6.5 4 16 4 47.5 4 62 4-14 8-78 4-20.5 4 0.5 4 6 12 12.5 8 10 4-10.5 4-16 4-12.5 8-16 4-4 8-4 4-3 24-50.5 8-14.5 4-1 12 0.5 12 1.5 4 2.5 8 6.5 4 0.5 8-2 12-4 8 6 12 10.5 16 12.5 36 12 20 5.5 20 9 24 13 16 9.5 24 33 4 4.5 4 3 4 1.5 16 1.5 16-2 4 1 16 8 12 2.5 4 0 8-1 4-1.5 12-6.5 12-2.5 4-2 20-9.5 16-12.5 8-2.5 4-3 4-4 16-12 16-16 4-4.5 20-28.5 36-39.5 8-8 28-21 4-3.5 4-4 16-24.5 28-49.5 16-22.5 48-77"/><path d="M100 649.5l8 0 4-0.5 12-5.5 12-7.5 24-18 4-4 8-8 12-14.5 16-23 12-14.5 8-11.5 12-15 8-9 16-20.5 8-13 4-5 4-2.5 4 5.5 8 24.5 4-7.5 4-16.5 4-5 4-1.5 4 1.5 4 3 4-5.5 4-12.5 4-9 8-29 4-12.5 16-42.5 8-15 4-7.5 20-30.5 12-13 20-26 12-12.5 4 0 8 3.5 4 3 4 7 4 9.5 4 12 4 14 4 19 8-21 4 1 4 12.5 4 16.5 4-6 8-48 4-16 4-3 4 8.5 8 25 4 10 12-50.5 4-12 4-16 4-19.5 4-15.5 4-12.5 4-10 4-8 4-6 8-10 4-3.5 8-7 20-11 4-0.5 16-1 12 0.5 8 4 4 7 8 20 4 8 4 6.5 4 5 12 7 8 3.5 8 6 8 20.5 12 64.5 8 49 4 21.5 4 20.5 8 34 4 11.5 8 14.5 4 3 8-4 4-7 8-30 4-9 4-5 4 8.5 4 11 4 26.5 4 20.5 4 14.5 4 7.5 4-2 4-4 8-15.5 4 0.5 8 6.5 4-0.5 8-5 4-1 12 2 8-7.5 16-18.5 12-5.5 12-18 16-27.5 20-29 12-20.5 8-8 4 2 8 7.5 8 5 8 19 4 14 4 8.5 4 1.5 4-3.5 16-51 4-6 4 6.5 4 15.5 4 47 4 60.5 4-13.5 8-77 4-20.5 4 1 4 6 20 23 4-10 4-16 4-12 8-16.5 4-3.5 8-4 4-3.5 24-52.5 8-14.5 4-1 24 2.5 4 2 8 6.5 4 1 20-5.5 8 6.5 20 18.5 8 5.5 16 4.5 40 12.5 24 10.5 20 9.5 16 9 12 16 12 19 4 5.5 4 3.5 4 2 4 0.5 8 0 12-2.5 8-1.5 4 1.5 16 8 12 2 4 0.5 8-1.5 4-1.5 12-7 12-3.5 24-12 16-13 8-2.5 4-2 4-3.5 12-8 4-4 20-22.5 20-28 40-46 8-8 28-23 4-4 16-25 28-50 16-24 48-82"/><path d="M100 650.5l8 0 4-1 20-10.5 28-20.5 12-12 12-14 16-21.5 12-14.5 8-12 12-15.5 8-9.5 16-21.5 8-13 4-5 4-2 4 6 8 25 4-8 4-17 4-5 4-1 4 2 4 3 4-4.5 4-13 4-8.5 12-42 16-43 4-7.5 8-14.5 20-30 12-13.5 20-27 8-8.5 4-3.5 4 0 8 3.5 4 3.5 4 7 4 10 4 12 4 14.5 4 19.5 8-21 4 1 4 12 4 17 4-6.5 8-48.5 4-17 4-2.5 4 9 8 26.5 4 10 12-50.5 4-12 4-16 4-20.5 4-16 4-13 4-10 4-8.5 4-6.5 8-10 4-4 8-6.5 20-11 4-1 12-1.5 8 0 4 1 4 0 8 5 4 7 8 20.5 4 8.5 4 6.5 4 5 8 5.5 12 5 8 6 8 20.5 12 64.5 8 49.5 8 42 4 18 4 16.5 4 11 8 14 4 3 8-4.5 4-6.5 8-30 4-9 4-5 8 19.5 4 26.5 4 19.5 4 14 4 7 4-2.5 4-4 8-16 4 0.5 8 7 4 0 8-4.5 4-0.5 12 2.5 8-7.5 16-18 12-5.5 12-17.5 12-21.5 24-36.5 12-20.5 8-8.5 4 2 8 7 4 2 4 2.5 8 19.5 4 14.5 4 9 4 2.5 4-3.5 16-51.5 4-6.5 4 6 4 15.5 4 48 4 61.5 4-13 8-77.5 4-20.5 4 0.5 4 6 12 12 8 9.5 4-10 4-16 4-12 8-16.5 4-4 8-4 4-3.5 24-51.5 8-15 4-1 12 0 12 2 4 2.5 8 7 4 1 8-1.5 12-3.5 8 6 24 20.5 4 3 24 8 24 6.5 8 2.5 40 20 20 12 24 33.5 4 4.5 4 3.5 4 1.5 16 1.5 16-2.5 4 1.5 16 7.5 12 2 12-0.5 4-1 12-6.5 12-4 24-12.5 16-13 8-2.5 4-2.5 4-4 16-11 16-16.5 4-5 16-25 4-5.5 8-8.5 36-37.5 16-13.5 16-12 4-3.5 16-24 12-22.5 16-28 16-23.5 12-20.5 36-57"/><path d="M100 651l8 0 4-0.5 8-3 12-6 28-20.5 4-4 8-8.5 12-14.5 16-22.5 12-14 8-12 20-26.5 8-11.5 8-10 8-13 4-5 4-2 4 6.5 8 28 4-8.5 4-18 4-5.5 4-1 4 2 4 3.5 4-5 4-12.5 4-8.5 12-42.5 16-42.5 12-23 20-30 12-13.5 8-11.5 12-14.5 8-8.5 4-3 4 0.5 8 2.5 4 2.5 4 6.5 4 9.5 4 12.5 4 15 4 21 8-20 4 2 4 13 4 18 4-6.5 8-50.5 4-17.5 4-2.5 4 9.5 8 28 4 10 8-35 4-16 4-12 4-16.5 4-22 4-17.5 4-14 4-9.5 4-8.5 4-6.5 8-9.5 4-4 8-6 20-10 8-2 16-1.5 4 1 4 0 8 4 4 7.5 8 22 4 9 4 7 4 5 8 5 4 2 4 1 4 2.5 8 7 8 22.5 12 61.5 8 48.5 8 42 8 34 4 11 8 14 4 2.5 8-4 4-7 8-30 4-8.5 4-5 8 20 4 27 4 20 4 15 4 7 4-2 4-4 8-16 4 1 8 6.5 4-0.5 8-5.5 4-1 12 1.5 8-8 16-17.5 12-5 12-17.5 16-28.5 20-29.5 12-20.5 8-8 4 2 8 7 4 1.5 4 2.5 8 19.5 4 14.5 4 8.5 4 1.5 4-3.5 16-51.5 4-6.5 4 7 4 16.5 4 49 4 62.5 4-13.5 8-79.5 4-21 4 0 4 6 12 11 8 10 4-10 4-16 4-12 8-15 4-3.5 8-3.5 4-3 24-51.5 8-14.5 4-0.5 12 1.5 12 2 4 2 8 6.5 4 0 20-5.5 20 16 16 11 20 6.5 16 7 24 9 20 9 20 10.5 16 9.5 24 31.5 4 4.5 4 2.5 4 1.5 32 4 4 1.5 16 8.5 12 2 4 0 8-1.5 16-9 12-2.5 24-11 16-13 8-3 4-2.5 4-4 16-11 20-20 20-26.5 44-46.5 12-8.5 20-13.5 4-3.5 16-21.5 28-47 16-22 12-17.5 16-22 20-30"/><path d="M100 645.5l8 0 4-1 20-9 16-10.5 12-9.5 24-27 16-20.5 12-14.5 8-12 36-47.5 8-13.5 4-5 4-2.5 4 5 8 22 4-6 4-14 4-4.5 4-0.5 4 0 4 3 4-5 4-13 4-9.5 8-27.5 4-11.5 16-41.5 12-22.5 20-31 12-13 20-27.5 12-13 4 0.5 8 3.5 4 4 8 16 4 10.5 4 13.5 4 16.5 8-20.5 4 0.5 4 11.5 4 15 4-5 8-45.5 4-15.5 4-3 4 7 8 22.5 4 9.5 8-32.5 4-15 4-11.5 12-46.5 8-22.5 4-9 4-7 8-10.5 8-7.5 4-3 20-10 8-0.5 24 1 8 4 4 6.5 8 18.5 4 7.5 4 5.5 4 4 8 4 12 4.5 8 4 4 7.5 4 10 4 20.5 8 45 8 50.5 8 41.5 8 35 4 11 8 13.5 4 3 8-2.5 4-6.5 8-29 4-8.5 4-4.5 4 8.5 4 10.5 4 25.5 4 19.5 4 13.5 4 7 4-1.5 4-4 8-14 4 1 8 5.5 4-0.5 8-6 4-1 12 2 8-6.5 16-17 12-4.5 12-17.5 16-27.5 16-22 16-25 8-7.5 4 1.5 8 6 4 1.5 4 2 8 18 4 13.5 4 8.5 4 1.5 4-3 16-47.5 4-6 4 6.5 4 14.5 4 44.5 4 57.5 4-12.5 8-72.5 4-19.5 4 1 4 5.5 20 19 4-10.5 4-15.5 4-12.5 8-17.5 4-4.5 8-5 4-4 28-59 4-7 4-1.5 4-0.5 4 0.5 16 3 4 3 8 8 4 1 20-8 8 6.5 16 16.5 8 7 4 2.5 24 9 36 9 16 6.5 24 11 16 9.5 16 22 8 12.5 8 10 4 2.5 4 0 16-4 12-1.5 4 1.5 16 9 12 3 4 0 8-0.5 4-1 12-6.5 12-4.5 24-13 16-14 8-3.5 4-3 4-4.5 12-9 4-3 16-17 4-4.5 20-29.5 20-25 20-23.5 36-38 4-5 16-26 28-54 16-27 12-23.5 16-29.5 20-38"/><path d="M100 658.5l8 0 4-1 20-11 4-2.5 24-19.5 12-12 12-13 16-22 12-14.5 8-12.5 12-15.5 8-9 16-22.5 8-14 4-5.5 4-1 4 7.5 8 29 4-8.5 4-19 4-5.5 4-1 4 2 4 3.5 4-5 4-13 4-8.5 8-30 12-37 8-19.5 4-7 8-14 20-29.5 20-26 12-14.5 8-7.5 4-2.5 4 0 12 3.5 4 6 8 24 4 15 4 21 8-20.5 4 1.5 4 13 4 18.5 4-7 8-51 4-17.5 4-2.5 4 10.5 8 28 4 10.5 8-36 4-16 4-12 4-17.5 4-22 4-18.5 4-15.5 4-8 4-7.5 4-4.5 8-8.5 8-7.5 24-12.5 20-8 4-1 4 1.5 4 0.5 8 5.5 4 8 8 23 4 10 4 7.5 4 6 8 6 4 2 4 1 4 2.5 8 9 8 24 4 17 8 40.5 8 47 8 40.5 8 32.5 4 10.5 8 14.5 4 3 8-4 4-7 8-30 4-9 4-5 8 19.5 4 26.5 4 20.5 4 14.5 4 7.5 4-2 4-4 8-16 4 1 8 6.5 4-0.5 8-6 4-1.5 12 1 12-11 12-13 12-7 12-18 12-21 24-36 12-22 8-8.5 4 2 8 8 8 5 8 20 4 15 4 9 4 2 4-3 16-53 4-7.5 4 6.5 4 15.5 4 49 4 63.5 4-14 8-80 4-21.5 4 0.5 4 6 12 13 8 15 4-7 4-13.5 4-9.5 8-10.5 4-1.5 8-2 4-2.5 12-24.5 8-19 12-23 4-0.5 12 2 12 3 4 2 8 7 4 0.5 8-1.5 12-3.5 8 6 28 24.5 24 9.5 8 2.5 8 2 16 3 12 3.5 32 12.5 16 8 16 17.5 12 10.5 4 1.5 20 1.5 16 2 4 1 16 6.5 12 2 8 0 4 0.5 4 0 12-3 12-2 16-5 8-3 16-11.5 8-1 4-1.5 4-3 12-5.5 4-2.5 16-13 4-4 8-9.5 12-13.5 16-14 28-22.5 20-8 12-3.5 4-2.5 16-16 28-39 4-5 12-12.5 4-5 24-22.5 20-21.5"/><path d="M100 658l8 0 4-1 20-8.5 4-2.5 24-19.5 12-12 12-13.5 16-22.5 12-14.5 8-12.5 20-25 16-23 4-6.5 4-7.5 4-5.5 4-1.5 4 7.5 8 29 4-8.5 4-19 4-5 4-1 4 2 4 3.5 4-5 4-13 4-8 12-43.5 8-24 8-20 12-20.5 20-29.5 12-14 20-25.5 8-8.5 4-3 4-0.5 12 3 4 6 8 25 4 16 4 21.5 8-20.5 4 1.5 4 13 4 18 4-7 8-51.5 4-17.5 4-2.5 4 10.5 8 28.5 4 10.5 12-52 4-11.5 4-17 4-22 4-18 4-16 4-7.5 4-7.5 4-4.5 8-9 8-7.5 16-8 8-4.5 20-8.5 4-1 4 2 4 0 8 6 4 8 8 24 4 10 4 7.5 4 6 8 5 4 2 4 1 4 2.5 8 9 8 24.5 4 17 8 40.5 8 47.5 8 40.5 8 32 4 10.5 8 14.5 4 2.5 8-4 4-7 8-30.5 4-9 4-6 4 9 4 10.5 4 27 4 20.5 4 15 4 7.5 4-1.5 4-4.5 8-15.5 4 0.5 8 6.5 4-0.5 8-5.5 4-1 12 1 12-10.5 12-13 12-5.5 12-18.5 12-22 24-37.5 12-21.5 8-7.5 4 2.5 8 8.5 8 5.5 8 20 4 14.5 4 8.5 4 2 4-3.5 16-53 4-6.5 4 6 4 16 4 49.5 4 63 4-13.5 4-43.5 4-36.5 4-21 4 1 4 6 12 12 8 15 4-8 4-13.5 4-10 8-10.5 4-2.5 8-2.5 4-2.5 12-23 8-17.5 12-21.5 4-0.5 8 1 16 3 4 2.5 8 6.5 4 0.5 8-1 12-3.5 4 3 20 17 12 9.5 16 4.5 8 3.5 12 3.5 20 5 28 12 32 11.5 16 15.5 12 9 4 1.5 12 1 24 4 4 1 16 6.5 12 1.5 8 0 4 0.5 4 0 12-3.5 12-1.5 24-7 16-10.5 8-0.5 4-1.5 4-3 12-5.5 4-2.5 16-12.5 4-3.5 16-19.5 8-8 24-21 12-10 4-3 32-6.5 4-2 16-16 28-37 16-17.5 4-5 24-21 20-20"/><path d="M100 641l8 0 4-0.5 8-3.5 8-5 8-5 24-18 12-11.5 12-14 20-27.5 28-36 24-28.5 8-12 4-5 4-3 4 2.5 8 14.5 4-3.5 4-10.5 4-4.5 8-1.5 4 2.5 4-5 16-48.5 4-10.5 8-18.5 8-22.5 12-23 20-32 12-12 20-27.5 12-13 4 1 8 4 4 5.5 8 15 4 8.5 8 23 4-12 4-9.5 4-1 4 10.5 4 12.5 4-3 8-40 4-13 4-3 4 4 12 27 4-12.5 4-18 4-14 4-11 8-27 12-34 8-17.5 8-11.5 12-10.5 20-10 4 0 4 0.5 16 4.5 8 0 8 3 4 5.5 8 15.5 4 6.5 4 4.5 4 3 12 6 16 5.5 4 5.5 4 9.5 4 18.5 8 42.5 8 47.5 8 36.5 8 31 4 10.5 4 4.5 4 7.5 4 3.5 8 0 4-5 8-28 4-8.5 4-3.5 4 7.5 4 10 4 22.5 4 18 4 12 4 6 4-1 4-3 8-12 4 1.5 8 4.5 4-0.5 8-4.5 4 0 12 3.5 4-2 4-2.5 16-17.5 12-4.5 4-4.5 8-12 16-25.5 12-12 4-4.5 12-17.5 4-5 4-2.5 4-4 4 1 8 3.5 8 2 8 14.5 4 11.5 4 6.5 4 1 4-3.5 12-30.5 4-8 4-4 4 6.5 4 12.5 4 37.5 4 47.5 4-10.5 8-61 4-16.5 4 0.5 4 4 12 10 8 3 4-10 4-15 4-12 8-17.5 4-5 8-5.5 4-4 12-22 16-34 4-6 8-3.5 20 5.5 4 3 8 9 4 3 12-8 8-4 8 6.5 12 15.5 8 9 4 4.5 4 2 24 9.5 32 5.5 20 4.5 24 9.5 16 8 8 10 16 23.5 8 10 4 3 4-0.5 16-3.5 12 0.5 4 2 16 10 12 3.5 4 0.5 8-0.5 4-1.5 12-6 12-4 24-14 16-13.5 8-2.5 4-2.5 4-4.5 16-13 20-22.5 20-30 40-49.5 40-54 16-31.5 28-62 16-31 4-8.5 20-45 24-58.5"/><path d="M100 655l8 0 4-1 8-3 12-6 28-21.5 12-11.5 12-14.5 16-22.5 12-14 8-12 20-25 16-22.5 8-13.5 4-5.5 4-1.5 4 7.5 8 29.5 4-8.5 4-18.5 4-5.5 4-1 4 2.5 4 3.5 4-5 4-13.5 4-8.5 12-44.5 8-23 8-20 12-21 20-29.5 28-36 12-12.5 4-3 4 0 12 4 4 6.5 4 11 4 13 4 15.5 4 21.5 8-20 4 1.5 4 13 4 18 4-7.5 8-51.5 4-17.5 4-2.5 4 10.5 8 28.5 4 10.5 12-51.5 4-12 4-17 4-22.5 8-33.5 8-16 4-5.5 8-8.5 8-6.5 24-13 4-1.5 20-5.5 4 1.5 4 0 8 5 4 7.5 8 23 4 10 4 7.5 4 6 8 5.5 4 2 4 1 4 2 8 8.5 8 24.5 4 16.5 8 40.5 8 46.5 8 40.5 8 33.5 4 10.5 8 14 4 3 8-4.5 4-7 8-30.5 4-9 4-5.5 8 19.5 4 27.5 4 20.5 4 15 4 7.5 4-2 4-4 8-16 4 0.5 8 6.5 4-1 8-6 4-1.5 12 2 4-3.5 8-7.5 12-13 12-6.5 12-17.5 12-21.5 24-36.5 12-20.5 8-8.5 4 2 8 7 4 2 4 2.5 8 19.5 4 14.5 4 9 4 2.5 4-3.5 16-52 4-6.5 4 6.5 4 16 4 49 4 63.5 4-14 8-80 4-21.5 4 0.5 4 6 12 13 8 10 4-9 4-14.5 4-10.5 8-11.5 4-2 8-1 4-2 12-24 8-18.5 8-15.5 4-7 4-0.5 12 1.5 12 3 4 2.5 8 7 4 0.5 8-1 12-3.5 20 16.5 16 11.5 16 5 8 3.5 12 4 20 4 12 4.5 32 15.5 16 9 12 14.5 8 8.5 8 7 4 2 20 1.5 16 3 4 1.5 16 7.5 16 2.5 8 0.5 4-1 12-5 12-1.5 4-1 20-9 16-11.5 8-1.5 4-2 4-3 16-9 16-13.5 4-4 20-24.5 40-37 4-3 32-14 4-2.5 16-19.5 16-24 16-22 12-13 4-5 20-20.5 24-29"/><path d="M100 658l8 0 4-1 20-8.5 4-2.5 24-19.5 16-16 8-8.5 28-37.5 8-13.5 4-5.5 8-10.5 8-8.5 16-22 4-6 4-8 4-5.5 4-1.5 4 7.5 8 28.5 4-8.5 4-19 4-5 4-1.5 4 2.5 4 3.5 4-5 4-13 4-8.5 12-44.5 8-24 8-20 12-20 20-29 20-26.5 12-14.5 8-8 4-2.5 4 0 12 3.5 4 6 8 25.5 4 15.5 4 21.5 8-20.5 4 1.5 4 12.5 4 18 4-7 8-51 4-17.5 4-2 4 10.5 8 28 4 10.5 12-52.5 4-11.5 4-17 4-22.5 4-18 4-16 4-7.5 4-7 4-4.5 8-8 8-6.5 12-5.5 16-9.5 16-7.5 4-1.5 4 1.5 4 0.5 4 2.5 4 3 4 8 8 24.5 4 10 4 7.5 4 6.5 8 6 4 2 4 1 4 2.5 8 8 8 23.5 4 17 8 40.5 8 47.5 8 40 8 32.5 4 10 8 15 4 3 8-4 4-7 8-30 4-9 4-5 8 19.5 4 27 4 20 4 14.5 4 7.5 4-2 4-4.5 8-15.5 4 0.5 8 6.5 4-0.5 8-5.5 4-1.5 12 1.5 12-11.5 12-13 12-6.5 12-18.5 12-21.5 24-35.5 12-20.5 8-8 4 2 8 8 8 5 8 20 4 14.5 4 8.5 4 2 4-3.5 16-53 4-6.5 4 7 4 16.5 4 49 4 63.5 4-14 8-80.5 4-21.5 4 0.5 4 6 12 13 8 15 4-8 4-13.5 4-10 8-10.5 4-1.5 8-2 4-2 8-15.5 12-27 8-16 4-7 4-1 12 1.5 12 3.5 4 2.5 8 8 4 0.5 8-1.5 12-3 4 2.5 20 17 12 9 16 5 20 8 24 6 20 7 20 7 16 7.5 16 17 12 9 4 1.5 12 0.5 24 4 4 1 16 7.5 12 2.5 8 0 4 0.5 4-0.5 12-3.5 12-2 24-9 16-11.5 8-1 4-1.5 4-2.5 12-5.5 4-2.5 16-12 4-3.5 8-9 12-13 24-20.5 16-14.5 4-3 32-7 4-2 16-16.5 28-38.5 4-5 12-12 4-5 20-17 24-23"/><path d="M100 644l8 0 4-0.5 20-9.5 12-8 16-12.5 12-13 12-14.5 16-22 12-15 12-17 32-38 8-12.5 4-5 4-3 4 3.5 8 18.5 4-5 4-13 4-4 8-1 4 3 4-5 4-12.5 4-10 8-27 4-11.5 16-42 12-22.5 20-31.5 12-12 20-27 12-13.5 4 0.5 8 3.5 4 4 8 15.5 4 10 4 12.5 4 15 4-11 4-9 4 0.5 4 11.5 4 14 4-4 8-43 4-14.5 4-3 4 5.5 12 29.5 12-47 4-11 12-43.5 8-22.5 4-9 4-8 8-11 4-4 8-6.5 20-9.5 4 0 24 1.5 4-0.5 8 3.5 4 6.5 8 17 4 7 4 5.5 4 3.5 8 4 20 8.5 4 6.5 4 10.5 4 20 8 44.5 8 50 8 40.5 4 17.5 4 16 4 11 4 5.5 4 7.5 4 3 8-2 4-5.5 8-29 4-8.5 4-4 4 8 4 10.5 4 24.5 4 19 4 13 4 6.5 4-1.5 4-3.5 8-13 4 1 8 5.5 4-0.5 8-5 4-0.5 12 2 8-6.5 16-17 12-5 12-17 16-27 16-20 16-24 8-7 4 1.5 8 5.5 8 3 8 17 4 13 4 7.5 4 1.5 4-3 12-35 4-10 4-5.5 4 6.5 4 14 4 42 4 54.5 4-12 8-69 4-18 4 0.5 4 5 12 12 8 5.5 4-10.5 4-16 4-13 8-17.5 4-5 8-5 4-4.5 12-24.5 16-34.5 4-6.5 4-2 4-1 8 1.5 12 3.5 4 3 8 9.5 4 2 20-10 8 6 20 22.5 4 4 4 2.5 16 4 20 6 36 8.5 8 3 20 10 16 9 12 15.5 12 19 8 11 4 2.5 4-0.5 16-4.5 4-0.5 8 0 20 11 12 2.5 4 0 8-0.5 4-1.5 12-6.5 12-3.5 24-12.5 16-14 8-3 4-3 4-4 12-9 8-8 16-18.5 20-29.5 24-28.5 36-46.5 20-25 16-28.5 28-58.5 16-27 4-8 20-40 24-49.5"/><path d="M100 661.5l8 0.5 4-1 8-3.5 12-6.5 28-23 16-15 8-9 16-23.5 12-15.5 8-13 12-16 8-9 12-17 4-4.5 4-6 4-7.5 4-5 4-1 4 8.5 8 29 4-9 4-19 4-5.5 4-1.5 4 2 4 3.5 4-5.5 4-13 4-8 8-31 12-38 8-19.5 12-20 20-29.5 20-25 20-22 4-3 4-0.5 4 1 8 1 4 6 4 12.5 8 30 4 21.5 8-20.5 4 1.5 4 13 4 17.5 4-7.5 8-51.5 4-18 4-2 4 10 8 29 4 10.5 12-52.5 4-12 4-17 4-22.5 8-36 4-7 4-7 8-8 12-9.5 12-5.5 12-7.5 20-9.5 4-1.5 4 2 4 0.5 4 2.5 4 3.5 4 8 8 23.5 4 10 4 7.5 4 6 8 5.5 4 2 4 0.5 4 2.5 8 9 8 24.5 4 18 8 41.5 8 48.5 8 40.5 8 32.5 4 10.5 8 14.5 4 3 8-4 4-7 8-30 4-9 4-5.5 8 20 4 27.5 4 20.5 4 14.5 4 7.5 4-2 4-4.5 8-16 4 0.5 8 6.5 4-0.5 8-5 4-1 12 1.5 4-3.5 8-8 12-13.5 12-6 12-18 12-22 24-37 12-21 8-8.5 4 2.5 8 8 8 5.5 8 20.5 4 15 4 9 4 1.5 4-3.5 16-54 4-6.5 4 6.5 4 16.5 4 49.5 4 64 4-14 8-80 4-21.5 4 0.5 4 5.5 12 12.5 8 17 4-7 4-12.5 4-9.5 8-9.5 16-8 12-23.5 12-26.5 8-14.5 4-0.5 8 1.5 16 5 4 2.5 8 7 4 0.5 8-1 12-3 4 3 24 21.5 8 6.5 16 5 8 3 36 8.5 16 5.5 24 6.5 16 6 16 14.5 12 7.5 4 1 12 0.5 28 4 16 5.5 20 1 4 1.5 4 0.5 12-2 12-1 20-4.5 4-1.5 16-10.5 8 0 4-1 4-2.5 12-4.5 4-2.5 20-14.5 8-9 12-11 12-9 28-25 4-2.5 32-2.5 4-1.5 16-14 28-36 20-20.5 20-13 24-20"/><path d="M100 644l8 0 4-0.5 8-3 12-5.5 8-5.5 20-17 12-12 12-14 36-49 12-15.5 24-28.5 8-12.5 4-5 4-2.5 4 3.5 8 17.5 4-5 4-12 4-4.5 8-0.5 4 2.5 4-5 4-13 4-10 8-26.5 20-51.5 12-22.5 20-33.5 12-12 20-27.5 12-12.5 4 0.5 8 3.5 4 4.5 8 16 4 10 8 27 4-11.5 4-9.5 4 0 4 11 4 13.5 4-3.5 8-43 4-14 4-2.5 4 5.5 12 29.5 4-14 4-18 4-14.5 4-11.5 12-43.5 8-22.5 4-9.5 4-8 8-11 4-4 8-7 20-9 4-0.5 24 2.5 4 0 8 3.5 4 6 8 16.5 4 7 4 5 4 4 12 7 16 6.5 4 6.5 4 9.5 12 64 8 49.5 4 20 8 37 4 15.5 4 11 4 6 4 7.5 4 3.5 8-1 4-5.5 8-28.5 4-9 4-4 4 8 4 10 4 24 4 18.5 4 12.5 4 6.5 4-1.5 4-3.5 8-13 4 1 8 5.5 4-0.5 8-5 4 0 12 3.5 4-2.5 4-3 16-18 12-5 12-17 16-27.5 16-21 16-23 8-6.5 4 1.5 8 5.5 8 3 8 16 4 12.5 4 7.5 4 1 4-3.5 12-34.5 4-10 4-4.5 4 7 4 14 4 42 4 53.5 4-12 8-68 4-18.5 4 0.5 4 5 12 11 8 5 4-10.5 4-15.5 4-12.5 8-17.5 4-4.5 8-5 4-4.5 12-24 12-26.5 4-8 4-6.5 4-1.5 4-0.5 20 5.5 4 2.5 8 8.5 4 2 20-10 8 6 12 13.5 8 8.5 4 4 4 2.5 12 5 12 4 48 10 4 1.5 20 11 20 9.5 16 20 8 12 8 11 4 3 4 0 16-4 12 0 4 1.5 16 9.5 12 3 4 0 8-1 4-1.5 12-6.5 12-3.5 24-13 16-13.5 8-3 4-3 4-4.5 12-10 24-25 20-28.5 28-34.5 28-36.5 20-24.5 4-5.5 16-29 28-57.5 16-28.5 48-99"/><path d="M100 645.5l8 0 4-1 8-3.5 12-7 28-20.5 12-12 12-14.5 16-22 12-15 8-11.5 20-24.5 16-20.5 8-12.5 4-5 4-2.5 4 4 8 19.5 4-5.5 4-13.5 4-4.5 4-0.5 4 0 4 3 4-5 4-12.5 4-10 8-27 4-11.5 16-41.5 12-22.5 20-32 12-12.5 20-26.5 12-12.5 4 1 8 4 4 4.5 8 16 4 10.5 4 12.5 4 15.5 8-21 4 0 4 11 4 14 4-4.5 8-44 4-15 4-3 4 6 12 30.5 12-47 4-11 12-45 8-22.5 4-9.5 4-7.5 8-11 8-8 4-3 4-2 16-7 4 0 24 2 4 0 8 3 4 6.5 8 17.5 4 7.5 4 5.5 4 4 8 5 4 2 16 5.5 4 7 4 9.5 4 20 8 45 8 50.5 8 41 4 17.5 4 16.5 4 11 8 13.5 4 3.5 8-2 4-6 8-29 4-9 4-4.5 4 8.5 4 10 4 25 4 19 4 13 4 7 4-1.5 4-3.5 8-14 4 0.5 8 5.5 4-0.5 8-5 4-0.5 12 3 4-2.5 4-4 16-19 12-4.5 12-16.5 16-26.5 16-21 16-25 8-7.5 4 1.5 8 6.5 8 4 8 18 4 13.5 4 8 4 1.5 4-3.5 16-46.5 4-6 4 6.5 4 14.5 4 43 4 56 4-12.5 8-70.5 4-18.5 4 0 4 5.5 20 17.5 4-10 4-15.5 4-12.5 8-17 4-4.5 8-5.5 4-4 12-24 16-35 4-6.5 4-2 4-0.5 20 4.5 4 3 8 8 4 1.5 20-10.5 8 6 16 16.5 8 7.5 4 2.5 24 8.5 32 8.5 16 5.5 28 13.5 16 8.5 16 21.5 8 12.5 8 11.5 4 2.5 4 0 16-4.5 12-1.5 4 1.5 16 9.5 12 2.5 4 0 8-1.5 16-8.5 12-3 24-12 16-14 8-2.5 4-3 4-4 12-10 4-4 20-22.5 20-29 32-38 28-36.5 16-17.5 4-5 16-27 28-56 16-28 48-94.5"/><path d="M100 647l8 0.5 4-1 8-3 12-6 28-21.5 12-12 12-13.5 16-22.5 12-14.5 8-11.5 20-24 16-22.5 8-13.5 4-5 4-2 4 4.5 8 22.5 4-6 4-15 4-5 4-0.5 4 1 4 3 4-5 4-12.5 4-9 12-40 16-43 12-23 20-31 12-13 20-26.5 12-12.5 4 0.5 8 3.5 4 3.5 4 7 4 9.5 4 11 4 13.5 4 17.5 8-21 4 0.5 4 11.5 4 15.5 4-5 8-46 4-15.5 4-3 4 7.5 8 23.5 4 9.5 8-33.5 4-15.5 4-11.5 12-48.5 8-23 4-8.5 4-7.5 8-10.5 4-3.5 8-6.5 20-9.5 4-1 12 0 16 1 8 4 4 7 8 19.5 4 8 4 6 4 4.5 8 5 4 2 8 2.5 8 4 4 8 4 10 4 20 8 45 8 50.5 8 41.5 8 34.5 4 11.5 8 14 4 3.5 8-2.5 4-6 8-29 4-8.5 4-4.5 8 18.5 4 25.5 4 19 4 13.5 4 6.5 4-2 4-4 8-15 4 1 8 6.5 4 0 8-5 4-0.5 12 2.5 8-6.5 16-19 12-5.5 12-17 16-28 20-29.5 12-19.5 8-7.5 4 2 8 6.5 4 1.5 4 2.5 8 18.5 4 14 4 8.5 4 2 4-2.5 16-48 4-6 4 6 4 15 4 45 4 58.5 4-13.5 4-41 4-34 4-20 4 0.5 4 6 20 21 4-10.5 4-15.5 4-12 8-16.5 4-4.5 8-4.5 4-4 28-60 4-7 4-1.5 4-0.5 4 1 16 3.5 4 2.5 8 8 4 1 20-8 8 6 20 18.5 4 3.5 4 2.5 24 8.5 52 15.5 16 7.5 8 4.5 16 10.5 16 21.5 8 13 8 10.5 4 2.5 4 0 20-5 8-0.5 4 1.5 16 9.5 12 2 4 0 8-1.5 4-1.5 12-7 12-4 24-12.5 16-13.5 8-2.5 4-2.5 4-4 12-9.5 4-3.5 20-21.5 20-29 20-25 24-28.5 16-17 16-13 4-4 16-25 28-54.5 16-25.5 28-50.5 20-37.5"/><path d="M100 645.5l8 0 4-1 8-3 8-4.5 8-5.5 12-9 12-8.5 12-12 12-14.5 16-22.5 12-15.5 8-12 12-15 8-8.5 16-20 8-13 4-5 4-2.5 4 4 8 20 4-5.5 4-14 4-4.5 4-1 4-0.5 4 3 4-5 4-13 4-9.5 8-27 4-11.5 16-41.5 12-22 20-32 12-12.5 20-27.5 12-12.5 4 1 8 4 4 4.5 8 16.5 4 11 4 13 4 16 8-21 4 0 4 11 4 14 4-4.5 8-44.5 4-15 4-2.5 4 6.5 8 21.5 4 9.5 12-48.5 4-11 12-45 8-21.5 4-9 4-7.5 8-10 4-4 8-6 20-11.5 4-1 4 0 24 0.5 8 4.5 4 6.5 8 18.5 4 7 4 5.5 4 3.5 8 4.5 20 8.5 4 7 4 10 4 20 8 45.5 8 50 8 41 4 17.5 4 16.5 4 11 8 13 4 3 8-2 4-6 8-28.5 4-8.5 4-4 4 8.5 4 10 4 25.5 4 19 4 13 4 6.5 4-2 4-4 8-14.5 4 0.5 8 5.5 4-0.5 8-5 4-0.5 12 3.5 4-2.5 4-3.5 16-18.5 12-5 12-17 16-27 16-21 16-25 8-7.5 4 2 8 6 8 3.5 8 17.5 4 13 4 8 4 1 4-3 16-46 4-5 4 6 4 14.5 4 43 4 56 4-12.5 8-70.5 4-18.5 4 0.5 4 5.5 4 4 8 8 8 6.5 4-10.5 4-15.5 4-13 8-17.5 4-4.5 8-5 4-4 28-58.5 4-6.5 4-1.5 4-0.5 20 3.5 4 2.5 8 8 4 1 20-8.5 8 6 12 13.5 8 8 4 4 4 2.5 24 8.5 12 4 24 4 12 3 32 16 12 7 16 21.5 8 13 8 11.5 4 3 4 0 16-4 12-1 4 1 16 7.5 12 2 4 0.5 8-1 4-2 12-6.5 12-3 12-5.5 12-7 16-13.5 8-2.5 4-3 4-4 12-9.5 4-3.5 20-22.5 20-30.5 28-34 28-36 8-9 12-11.5 4-4.5 16-26.5 28-57 16-27 48-96"/><path d="M100 647l8-0.5 4-1 24-12 20-14 4-3 4-4 8-8 12-14 16-22.5 12-15 8-12 36-45 8-13 4-5 4-2.5 4 5 8 22.5 4-6.5 4-14.5 4-5 4-1 4 1 4 3 4-5.5 4-13 4-9.5 8-28.5 4-11.5 16-41 12-22.5 20-32.5 12-13 20-26.5 12-12.5 4 0.5 8 4 4 4 4 7.5 8 21 4 13.5 4 18 8-20.5 4 0 4 12 4 15 4-5.5 8-47 4-16 4-3 4 7.5 8 23.5 4 9.5 8-33.5 4-15.5 4-11.5 12-49 4-12 8-19.5 4-7 8-10 8-7.5 4-3 20-10 4-0.5 12 0.5 16 1 8 4 4 6.5 8 19 4 8 4 6 4 4 8 5 12 6 8 4.5 4 8 4 10.5 12 64.5 8 50 4 21.5 4 20.5 8 34 4 11.5 8 13.5 4 3 8-3 4-6.5 8-29.5 4-8.5 4-4.5 4 8.5 4 10.5 4 26 4 19.5 4 14 4 7 4-1.5 4-4 8-14.5 4 0.5 8 6.5 4-0.5 8-5 4-1 12 2.5 8-7 16-18.5 12-6 12-17.5 12-21 16-22 8-12 12-21 8-8 4 1.5 8 6.5 8 4 8 18.5 4 14 4 8.5 4 2 4-3.5 16-48.5 4-6 4 6.5 4 15.5 4 46 4 59 4-13 8-74 4-20 4 0.5 4 5.5 20 19.5 4-10 4-15.5 4-12.5 8-16 4-4 8-5 4-4 20-44.5 8-16 4-7 4-1.5 4 0 20 4 4 2.5 8 8 4 1 8-3 12-5.5 8 5 20 20 4 4 4 2.5 32 11.5 40 12 28 13 16 8.5 12 16 12 19 8 11 4 2.5 4 0.5 20-6 8-1.5 4 1.5 16 9.5 12 3 4 0.5 8-0.5 4-1.5 12-7 12-3.5 24-13 16-13.5 8-2.5 4-3 4-4 16-13 20-22 20-29.5 20-25.5 36-39 20-18.5 4-4.5 16-25.5 28-53 16-26 48-87"/><path d="M100 657l8 0 4-1 20-9.5 4-2.5 24-18.5 8-8 16-18 16-22 12-14 8-12.5 12-16 8-9.5 16-23 8-14.5 4-5.5 4-1.5 4 7.5 8 29 4-8.5 4-18.5 4-5.5 4-1 4 2.5 4 3 4-5 4-13 4-8 12-43.5 8-23 8-19.5 12-20.5 20-30.5 28-34.5 12-13 4-2.5 4-0.5 12 3.5 4 6 8 23.5 4 15.5 4 21 8-20.5 4 2 4 13 4 18 4-7 8-51 4-17.5 4-2.5 4 10.5 8 29 4 11 12-51.5 4-12 4-17.5 4-22.5 8-34 8-16 12-13.5 8-7 24-13 20-7 4-1 4 1.5 4 1 8 6 4 8 8 24 4 10 4 7 4 6 8 5 4 1.5 4 1 4 2 8 8 8 24.5 4 17 8 41 8 48 8 40 8 32 4 9.5 8 14 4 2.5 8-5 4-7.5 8-30 4-9 4-5.5 8 20 4 27 4 20.5 4 14.5 4 7.5 4-2 4-4.5 8-16 4 0.5 8 6.5 4 0 8-5 4-1 12 2 4-3.5 8-8 12-14 12-5.5 12-18 12-22 24-36.5 12-20.5 8-8.5 4 2.5 8 7.5 8 4.5 8 19.5 4 15 4 9 4 2 4-3 16-52 4-6.5 4 6 4 16 4 49 4 63.5 4-14 8-80.5 4-21 4 1 4 6 12 13.5 8 14 4-8.5 4-14 4-10 8-11.5 4-2 8-1.5 4-2 12-24 12-25.5 8-14 4-0.5 12 0.5 12 2 4 2.5 8 7 4 0.5 8-1 12-3.5 36 29 48 14 8 3 16 7.5 28 9 16 7 12 14.5 8 8.5 8 6.5 4 2 12 1 24 3.5 4 1 16 8 12 2 12 0 4-1 12-5 12-2 24-8 16-10.5 8-1 4-1.5 4-3 12-6 4-2.5 16-12.5 4-4 20-23.5 40-37 4-3 16-6 16-4.5 4-2 16-17 28-41 4-5 12-12.5 4-5 24-22.5 20-22.5"/><path d="M100 650.5l8 0 4-1 20-11 28-20 12-12 12-14 16-23 12-14.5 8-12 12-16 24-30 8-12.5 4-5 4-2.5 4 5.5 8 25 4-7.5 4-16.5 4-5 4-1 4 1 4 3 4-5 4-13 4-9 8-28.5 4-12.5 16-42.5 12-22 12-17.5 8-13 12-14 20-27 8-8.5 4-3.5 4 0.5 8 3.5 4 3 4 7 4 10 4 12 4 14.5 4 19 8-20 4 1 4 12.5 4 17 4-6 8-48 4-16.5 4-3 4 8.5 8 25 4 9.5 12-51 4-12 4-16 4-20 4-16 4-13 4-10 4-8.5 4-6.5 8-9 8-6.5 4-3 20-9.5 4-1 20-1.5 4 1 4 0 8 4 4 7 8 20 4 8.5 4 6.5 4 4.5 12 6.5 8 3 8 5 8 19.5 12 64 8 50 4 21.5 4 21 8 34.5 4 11.5 8 14.5 4 3 8-3 4-7 8-29.5 4-9 4-5.5 4 8.5 4 10.5 4 26.5 4 20.5 4 14.5 4 7 4-1.5 4-4.5 8-16 4 0.5 8 6.5 4-0.5 8-5 4-0.5 12 2 4-3 8-7.5 12-13.5 12-6.5 12-18.5 12-22 24-34 12-20.5 8-8 4 2 8 7.5 8 4.5 8 18.5 4 14 4 8 4 1.5 4-3.5 16-50.5 4-5.5 4 6.5 4 16 4 48 4 61 4-13.5 8-77 4-20.5 4 0.5 4 5.5 12 12 8 9 4-10.5 4-16 4-12.5 8-16 4-3.5 8-4 4-3 24-52.5 8-14.5 4-1 12 1.5 12 3 4 2 8 7 4 0 20-7.5 8 6 20 19 8 5.5 16 4.5 20 7.5 24 7 40 18.5 16 10 16 21.5 8 12.5 4 4.5 4 3.5 4 2 12 1.5 20-3 4 1 16 9 12 2.5 4 0 8-1 4-1.5 12-7 12-3.5 12-6 12-5 16-12 8-2.5 4-3 4-4.5 16-13.5 20-22 20-30 8-9 40-42 12-11.5 16-12.5 4-4 16-24 28-50.5 16-24 48-80.5"/><path d="M100 632.5l8 0 4-0.5 8-3.5 16-10 24-17 12-12 4-4.5 8-10 24-33 24-29 24-25.5 8-11 8-9.5 4-1 8 3 4-0.5 4-4.5 4-3 4 0 4-3.5 4 2 4-4.5 8-24 8-22 4-9 8-16 8-24.5 12-23.5 20-33 12-11 20-27.5 12-13.5 4 1 8 4.5 4 7 4 8.5 8 11 4 7.5 4 6 4-12.5 4-9 4-2.5 8 16.5 4 0.5 4-17.5 4-14 4-9.5 4-3.5 4-0.5 8 11.5 4 8.5 4-9 4-17.5 4-13 8-19.5 12-25 4-14 8-19.5 8-12 4-4 8-6.5 20-8.5 4-0.5 8 2 4 1.5 8 4.5 8-0.5 8 2 12 16 4 4 4 3 8 2.5 12 5.5 4 0.5 8-2 4 1.5 4 8.5 4 15 16 71 4 9.5 8 16 4 4.5 4 2 4 1 8 14.5 8 10 4-1 8-22 4-7 4 1 4 5.5 4 8.5 8 27.5 4 5.5 4 3 4 1 4-2 4-2.5 4 0 4 3 4 1.5 4 0 4-1 8-3.5 12 7.5 4 1.5 4 1 4-1 16-15.5 12 0.5 4-1 8-10 16-23 4-2 8-1.5 4-3.5 8-11.5 4-4 4 0 4 0.5 4-2 4 0 8 0 8-1 4 1.5 4 4.5 4 6 4 2.5 4-1 4-3 8-12 4-3 4-2 4 0.5 4 5 4 7 4 17.5 4 22.5 4-4.5 8-29 4-7.5 4 0.5 4 2 8 3.5 4 2.5 8-8.5 4-9 8-23 8-16.5 4-4.5 4-1.5 8-4.5 8-6.5 8-14.5 12-26.5 4-5 8-6 20 10.5 4 4 4 6.5 8 11 12-14.5 8-6.5 4 3 4 4 4 6.5 8 17 12 18.5 12 5.5 16 4.5 20-1.5 20 1.5 8-1 4 0 20 6.5 20 9.5 16 17.5 16 13 12 4.5 28 12 16 10 12 4.5 4 1 8 0.5 4-0.5 24-8 24-14 16-14 8-2.5 4-3 4-4 16-12.5 16-17 4-5 20-30 44-51.5 36-61 16-33.5 28-69.5 16-34.5 4-10 24-60.5 20-54"/><path d="M100 649.5l8-0.5 4-1 20-8.5 4-2 8-5.5 16-13 12-13.5 12-14.5 16-22.5 12-14 8-12 12-15 8-9 16-21 8-13 4-5 4-2 4 5.5 8 25 4-7.5 4-16.5 4-5 4-1.5 4 1.5 4 2.5 4-5 4-13 4-8.5 8-29 4-12.5 16-42.5 12-21.5 20-30.5 12-13.5 20-27 8-8.5 4-3 4 0.5 8 3.5 4 3.5 4 7 4 9.5 4 12 4 14 4 19 8-20.5 4 0.5 4 12.5 4 16 4-6 8-49 4-16.5 4-2.5 4 8 8 25.5 4 9.5 12-50 4-12 4-16 4-20 4-16 4-13 4-10 4-8.5 4-6.5 8-9.5 8-6.5 4-2.5 12-5.5 8-4 8-1.5 16-0.5 4 0.5 4-0.5 8 4 4 6.5 8 19.5 4 8.5 4 6 4 5 12 7 8 3 8 5.5 8 19.5 12 65 8 50 4 22 4 20.5 8 35 4 11 8 14.5 4 3.5 8-3.5 4-7 8-30 4-9 4-5 4 8.5 4 11 4 26.5 4 20 4 14 4 7 4-2 4-4 8-15.5 4 1 8 6.5 4-0.5 8-5 4-1 12 2 8-7.5 16-18 12-6 12-18 16-28 20-28.5 12-20.5 8-7.5 4 2 8 7.5 8 4.5 8 19 4 14 4 8.5 4 1.5 4-3.5 16-50.5 4-6 4 6.5 4 16 4 47 4 61 4-13 8-77 4-20.5 4 0 4 6 12 11.5 8 10 4-10 4-15.5 4-12 8-15.5 4-4 8-4 4-3.5 24-53.5 8-14.5 4-1 12 0.5 12 2.5 4 2.5 8 7.5 4 1 8-2 12-5 8 5 20 18 8 5.5 16 4.5 20 8.5 24 7.5 40 18.5 16 9 12 16 12 17.5 4 5 4 3.5 4 2 4 0.5 8 0.5 12-2.5 8-0.5 4 2 16 9.5 12 2.5 4 0 8-1.5 4-2 12-7.5 12-3.5 24-11 16-13.5 8-3 4-3 4-4.5 16-12 20-20.5 20-28.5 16-19 28-31 16-14.5 16-12.5 4-4 16-24 28-50 16-25 28-47.5 20-35"/><path d="M100 658.5l8 0 4-1 20-9 4-3 24-19 24-26.5 16-21.5 12-14 8-13 12-15.5 8-9.5 20-29 4-7 4-5 4-1 4 8 8 29 4-9 4-18.5 4-6 4-1 4 2 4 3 4-5 4-13.5 4-8 8-30 12-37 8-20 8-14.5 8-13 16-23 12-14.5 8-11.5 8-10 4-4.5 8-7.5 4-2.5 4 0.5 4 1.5 8 2 4 6.5 8 24.5 4 15.5 4 21.5 8-20.5 4 1.5 4 13 4 18 4-7 8-52 4-18 4-2.5 4 10 8 28 4 10.5 8-35.5 4-16 4-11.5 4-17 4-22 4-18.5 4-16 4-7.5 4-7 12-12.5 8-7 24-14 20-8.5 4-1 4 1.5 4 0.5 4 2.5 4 3 4 8 8 24 4 10 4 8 4 6 8 5 4 2 4 0.5 4 2.5 8 8.5 8 24 4 17.5 8 41 8 47.5 8 40.5 8 32 4 10.5 8 14.5 4 3 8-4 4-6.5 8-30 4-9.5 4-5.5 8 19.5 4 27 4 20 4 15 4 7.5 4-2 4-4 8-15.5 4 1 8 6.5 4 0 8-5.5 4-1 12 1 12-11 12-13.5 12-6 12-19 12-21.5 24-37.5 12-21 8-8 4 2.5 8 7.5 8 4.5 8 19.5 4 14.5 4 9 4 2.5 4-3 16-51 4-6.5 4 6.5 4 16.5 4 49 4 63.5 4-14 8-80 4-21 4 0.5 4 6 12 12 8 15.5 4-7.5 4-13.5 4-9.5 8-10 4-2 8-2 4-2.5 12-24.5 12-26.5 8-14.5 4-0.5 12 1.5 12 2.5 4 2 8 7.5 4 0.5 8-1 12-2.5 4 3 32 26.5 24 10 32 8 16 6 28 7 8 3.5 8 3.5 16 17 12 9 4 1 12 1 28 3.5 16 7 12 2 8 0.5 4 1 4 0 12-2.5 12-1.5 8-2.5 16-6 16-11 8-0.5 4-1.5 4-3 16-7.5 16-12 4-3.5 16-18.5 8-8 12-10 28-22 12-2.5 20-3.5 4-2 16-16.5 12-16 16-20 16-16.5 4-5 44-41"/><path d="M100 643.5l8 0.5 4-0.5 8-3.5 8-4.5 8-5 24-19.5 12-11 12-14 20-28.5 8-9.5 20-26 24-29 8-12.5 4-5 4-3 4 3.5 8 17.5 4-4.5 4-12 4-4.5 8-1 4 2 4-5 4-13 4-10 8-26 4-11 8-19 8-22.5 12-23 20-32 12-11.5 20-26 12-13 4 1 8 4 4 4.5 8 15 4 9.5 8 26 4-11.5 4-9.5 4-0.5 4 10.5 4 13 4-4 8-42.5 4-13.5 4-3 4 5.5 12 30 4-14 4-17.5 4-15 4-11 8-29.5 4-13 8-21.5 4-9 4-8 8-11 4-4 8-7 20-10 4-0.5 12 1.5 8 1.5 8 0 8 3 4 6 8 16.5 4 7 4 5 4 3.5 12 6 16 5.5 4 6 4 10.5 12 64.5 8 48.5 4 20 8 36 4 15.5 4 11 4 6 4 7.5 4 3.5 8-0.5 4-5.5 8-28.5 4-9 4-4 4 7.5 4 9.5 4 24 4 18 4 12.5 4 6 4-1 4-3.5 8-12.5 4 1 8 5.5 4-1 8-4.5 4-0.5 12 3.5 8-5.5 16-17 12-4 4-5 8-11.5 16-28 16-20.5 12-18.5 4-5.5 8-6 4 1.5 8 6.5 8 3.5 8 16.5 4 12 4 7 4 1 4-3.5 12-33.5 4-9.5 4-5 4 6 4 13.5 4 40.5 4 52 4-11.5 8-66.5 4-17.5 4 0.5 4 5 12 11 8 4 4-10.5 4-15.5 4-12.5 8-17.5 4-4.5 8-5.5 4-4 12-23.5 16-33.5 4-6.5 4-1.5 4-1 20 5.5 4 3 8 9 4 2 20-12 8 6 12 15 8 8.5 4 4 4 2.5 24 6.5 32 8 16 5 28 11.5 16 9.5 16 21.5 8 12 8 10.5 4 2.5 4 0 16-4 12-0.5 4 2 16 8.5 12 3 4 0.5 8 0 4-1.5 12-6 12-4 24-14 16-15 8-3 4-3 4-4.5 4-3.5 12-9 20-20.5 20-29.5 44-55 32-41.5 4-6 16-30 16-34.5 12-24.5 16-28.5 28-57.5 20-44"/><path d="M100 658l8-0.5 4-1 20-10 28-20.5 12-12 12-14.5 16-23 12-13.5 8-12 20-25 12-18 4-5 8-13.5 4-5.5 4-1 4 7.5 8 29.5 4-9 4-18.5 4-6 4-1 4 2 4 3 4-5 4-13 4-8.5 12-43.5 8-23.5 8-19.5 12-20.5 20-29 24-31.5 8-9 8-7.5 4-2.5 4 0 12 3 4 6 8 24.5 4 15.5 4 21.5 8-20.5 4 1.5 4 13 4 18 4-7 8-51.5 4-17.5 4-2.5 4 10 8 28.5 4 10 8-35 4-16 4-11.5 4-17 4-22.5 4-18 4-16 4-8 4-7.5 4-4.5 8-8.5 8-7 12-6 12-7.5 20-8.5 4-1 4 1 4 0.5 4 2 4 3.5 4 7.5 8 24 4 10.5 4 7.5 4 6.5 8 5.5 4 2 4 1 4 2 8 8 8 24 4 16.5 8 40.5 8 47.5 8 40.5 8 33 4 10 8 14.5 4 2.5 8-4 4-7 8-29.5 4-8.5 4-5.5 8 19.5 4 27 4 20 4 14.5 4 7 4-2 4-4 8-15.5 4 0.5 8 7 4-0.5 8-5 4-1 12 1 12-12 12-14 12-6.5 12-17.5 12-21 24-36.5 12-21.5 8-8 4 2 8 8 8 4 8 20 4 14.5 4 9 4 2 4-3.5 16-52.5 4-6.5 4 6.5 4 16.5 4 49 4 63.5 4-14 8-80.5 4-21.5 4 0.5 4 6 12 13 8 14.5 4-8 4-14 4-10 8-10.5 4-2 8-2 4-2 12-24 12-25.5 8-14.5 4-1 12 2 12 3 4 2.5 8 7 4 0 8-1 12-3 4 3 20 17 12 9 16 4 8 4 12 4 20 5.5 20 9 24 8 16 6.5 20 21.5 8 7 4 1.5 36 4 4 1 16 7 12 1.5 16 0.5 12-2.5 12-1 24-9.5 16-11.5 8-1 4-1.5 4-3 12-5.5 4-2.5 16-12.5 4-4 8-10.5 12-14 44-38.5 16-5 16-3.5 4-2.5 16-16.5 28-39.5 4-4.5 12-12.5 4-4.5 24-22 20-21.5"/><path d="M100 637l8 0 4-0.5 12-6 12-7 24-16.5 12-11 12-15 16-23.5 20-26.5 12-14.5 24-27 8-12 8-9 4 1 8 8 4-2 4-8 4-3.5 4-0.5 4-2 4 2.5 4-5 16-45.5 12-27.5 8-23 12-23.5 20-32.5 12-12 20-26.5 12-13.5 4 1 8 4 4 5.5 4 8.5 4 6 4 7.5 8 18.5 4-11.5 4-9 4-2 8 19.5 4-1 8-36 4-11.5 4-3.5 4 2 4 6.5 8 16.5 4-10.5 4-18 4-13 12-33.5 8-19 4-13 8-17.5 8-11.5 12-10.5 20-10 4-0.5 4 1 8 2 8 4 8-0.5 8 2 4 5 8 13.5 4 5.5 4 4.5 4 2.5 16 7 4 1 8 0 4 3 4 9 4 16.5 8 39 8 43 8 29.5 8 24 4 7.5 4 3 4 7.5 4 5 8 3.5 4-3.5 8-25.5 4-8.5 4-1.5 4 7 4 9 4 19 4 15.5 4 9 4 5 4-0.5 4-2.5 4-4.5 4-3 8 4.5 4 1.5 4-1 8-4 4 1 8 4 4 1.5 4-1 4-2 16-17 12-1.5 4-3 8-11 16-24.5 4-3.5 8-4.5 4-4 8-12 4-4.5 4-3 4-1.5 4-2.5 4 0 8 2.5 8 0.5 4 4.5 4 6.5 4 8.5 4 5 4-0.5 4-3.5 8-18 4-7 4-5.5 4-2 4 5.5 4 11 4 28.5 4 37 4-7.5 8-47 4-12.5 4 0 4 3.5 8 5 4 3.5 8-2 4-10 8-26 8-17.5 4-4.5 8-4 4-3.5 8-10.5 8-16 12-27 4-5.5 8-5 20 8.5 4 3.5 8 11 4 4 12-11 8-5.5 8 6.5 4 5.5 8 13.5 12 15.5 24 11 4 1.5 48 2.5 4 0.5 28 11 12 6.5 24 29 8 8 4 2.5 20 1.5 12 2 4 1.5 16 11 12 4.5 4 1 8-0.5 4-1.5 12-6.5 12-4.5 24-13 16-14 8-3 4-3 4-4.5 4-3.5 12-9.5 16-16 4-4.5 20-29.5 24-28.5 20-24.5 36-55 16-32.5 28-66 16-32.5 28-68.5 20-51"/><path d="M100 652l8 0.5 4-1 20-10 12-9 16-13.5 24-25.5 16-22 12-14.5 8-12.5 36-46.5 8-13 4-5 4-2 4 6.5 8 28.5 4-8 4-18.5 4-5 4-1.5 4 2 4 3.5 4-5 4-13 4-8.5 12-42.5 16-43.5 12-22 20-29.5 12-14 8-11 12-15 8-8 4-3.5 4 0.5 8 3 4 2.5 4 7 4 10 4 12.5 4 15.5 4 21 8-20.5 4 1.5 4 13 4 17.5 4-6.5 8-51 4-17 4-3 4 10 8 27.5 4 10 12-52 4-12 4-17 4-22 4-17 4-14 4-9.5 4-8 4-6 8-8.5 8-7 24-14.5 12-2.5 12-1.5 4 1 4 0.5 8 5 4 7 8 22 4 9 4 7 4 5.5 8 5.5 4 2 4 1 4 2.5 8 7 8 22 12 61.5 8 48 8 41.5 8 33.5 4 11 8 14.5 4 2.5 8-4 4-6.5 8-30.5 4-8.5 4-5.5 8 19.5 4 27 4 20 4 14.5 4 7 4-2 4-4 8-15.5 4 1 8 7 4-0.5 8-5.5 4-1 12 1.5 4-3 8-8.5 12-14 12-6.5 12-18 12-21 24-35.5 12-21 8-8 4 2 8 7.5 4 2 4 2.5 8 20 4 15 4 9 4 2 4-3 16-53 4-7 4 6 4 16 4 49 4 63 4-13.5 8-78.5 4-21 4 0.5 4 6 12 12.5 8 11 4-10 4-16 4-12 8-16 4-3.5 8-3.5 4-2.5 24-52 8-14.5 4-1 24 2.5 4 2 8 6 4 0 8-1.5 12-3.5 36 28 16 5.5 20 8.5 20 7 36 16 12 6.5 12 8.5 20 27 8 8.5 4 3 8 1.5 28 3 4 1.5 8 4.5 8 4 12 1.5 4 0 8-1 4-2 12-6.5 12-3 16-6.5 8-4 16-12.5 8-3 4-3 4-4.5 4-3 12-8.5 16-14 4-4.5 20-27 28-28 16-17 16-12.5 16-10 4-3.5 16-20 28-47 16-22.5 16-24.5 32-45.5"/><path d="M100 657.5l8 0 4-1 8-3 12-5.5 4-2.5 24-20 4-4 8-8.5 12-14 16-22 12-14 8-12 20-26 12-17 4-5 4-6 4-7.5 4-5 4-1.5 4 7.5 8 29 4-8.5 4-18.5 4-5.5 4-1 4 2 4 3.5 4-5 4-13.5 4-8.5 12-43.5 8-23.5 8-19.5 12-21 20-29.5 20-25.5 12-14.5 8-8.5 4-3 4 0 12 3 4 6 8 24.5 4 15.5 4 21.5 8-20 4 1.5 4 13.5 4 18 4-7 8-51.5 4-18 4-2.5 4 10 8 29 4 10.5 8-35 4-16 4-12 4-17.5 4-22.5 4-18.5 4-16 4-8.5 4-7 4-5 8-7.5 8-6.5 12-6 12-7 20-9 4-1 4 1.5 4 0 4 2.5 4 3.5 4 8 8 24 4 10 4 7.5 4 5.5 8 5.5 4 2 4 0.5 4 2.5 8 8.5 8 24 4 17 8 41 8 48 8 41 8 32.5 4 10 8 13.5 4 3 8-4.5 4-7 8-30.5 4-9 4-5.5 8 19.5 4 27 4 20.5 4 15 4 7.5 4-2 4-4.5 8-15.5 4 0 8 6.5 4-0.5 8-5 4-1 12 1.5 4-3 8-8 12-13.5 12-6 12-17.5 12-21 24-38 12-20.5 8-8.5 4 2.5 8 7.5 4 1.5 4 2.5 8 20 4 15 4 9 4 2 4-3 16-53 4-6.5 4 7 4 16 4 49.5 4 63.5 4-14.5 8-80.5 4-21 4 0.5 4 6 12 12.5 8 13.5 4-8 4-14 4-10 8-10.5 4-2 8-1.5 4-2.5 12-24 8-18 12-23 4-0.5 12 1 12 3.5 4 2.5 8 7.5 4 0.5 8-1 12-3 36 27.5 24 9 32 8 20 8.5 24 9 16 7.5 16 18 12 10 4 1.5 12 1 24 3 4 1.5 16 8 12 1.5 8-0.5 4 0.5 4-0.5 12-3 12-1 12-4 12-4.5 16-12.5 8-1 4-2 4-3 12-5.5 4-2.5 16-11.5 4-4 20-23 28-25.5 16-13.5 32-9.5 4-2.5 16-18 12-16.5 16-21 16-18 4-5.5 24-24 20-21"/><path d="M100 647l8 0 4-0.5 8-3 12-6.5 20-15.5 8-6 12-10.5 12-14 16-24.5 12-15 8-11.5 20-24 16-21.5 8-13 4-5 4-2.5 4 5 8 21.5 4-6 4-14.5 4-4.5 4-1 4 0.5 4 3 4-5 4-12.5 4-9.5 8-27.5 4-11.5 16-43.5 12-24 20-30 12-13 8-11.5 12-15 12-11.5 4 1 8 4 4 4 8 16 4 10.5 4 13 4 16 8-21 4 0 4 12 4 15 4-5 8-45 4-15 4-3 4 7 8 23 4 10 8-33 4-15 4-12 12-47.5 8-22.5 4-8.5 4-7.5 8-10.5 8-8 4-3 20-9.5 4-0.5 12 0 16 1.5 8 4 4 6.5 8 18.5 4 8 4 5.5 4 4 12 6.5 8 2.5 8 4.5 4 8 4 10.5 4 20.5 8 45 8 49.5 8 41.5 4 17.5 4 16.5 4 11 8 14 4 3.5 8-2.5 4-6 8-29.5 4-9 4-4.5 4 8 4 10.5 4 25.5 4 19.5 4 13.5 4 7 4-1.5 4-3.5 8-14 4 1 8 6 4-1 8-5.5 4-0.5 12 2 8-7 16-18.5 12-5.5 12-16.5 16-27.5 20-28.5 12-19 8-7 4 2 8 6 4 1.5 4 2 8 18.5 4 13.5 4 8.5 4 1.5 4-3.5 16-48.5 4-6 4 6.5 4 15 4 44.5 4 58 4-13 8-73 4-19.5 4 0.5 4 6 4 4 16 15.5 4-10 4-16 4-12.5 8-17.5 4-4.5 8-5 4-3.5 28-57 4-6.5 4-1.5 4-0.5 20 4 4 2 8 7 4 0.5 20-9 8 6.5 20 22 4 4 4 2.5 8 3 24 6 24 7 20 7 24 10 16 10 16 21.5 8 13 8 10.5 4 2.5 4 0 16-4.5 12-1 20 10 12 2 12 0 4-1.5 12-6.5 12-3.5 24-12 16-14 8-3.5 4-2.5 4-4.5 12-8.5 4-3.5 20-22.5 20-29 36-45 16-17.5 24-23 4-4.5 16-27 28-55.5 16-26 48-89.5"/><path d="M100 647.5l8 0 4-1 8-3.5 12-6.5 28-20.5 4-4 8-8 8-10 20-27.5 12-14.5 8-11.5 20-24 16-21 8-13 4-5 4-2 4 5 8 22.5 4-6.5 4-15 4-4.5 4-1 4 0.5 4 2.5 4-5 4-13 4-9.5 8-28.5 4-12 16-41 12-22 20-33 12-13.5 8-11 12-15.5 12-11 4 0.5 8 3.5 4 4 4 7 8 21 4 13.5 4 17 8-20.5 4 0 4 12 4 15.5 4-5 8-46.5 4-15.5 4-3 4 7.5 8 23 4 9.5 8-33.5 4-15.5 4-11.5 12-47.5 8-22.5 4-9 4-7 8-10.5 4-3.5 8-6 12-5 8-4 4-1 12-0.5 16 0 8 3.5 4 7 8 19 4 7.5 4 6 4 4 12 6 8 3 8 5 4 8.5 4 11 12 66 8 50 8 41.5 8 34 4 11.5 8 13.5 4 3 8-3.5 4-6 8-29.5 4-8.5 4-4.5 4 8.5 4 10.5 4 26 4 19.5 4 13.5 4 7 4-2 4-4 8-15 4 1 8 6.5 4 0 8-5 4-0.5 12 1 8-7 16-18 12-5 12-17 16-28 20-29 12-19.5 8-8 4 2 8 7 8 4 8 18 4 13.5 4 8 4 1.5 4-3 16-48.5 4-6 4 6.5 4 15.5 4 45.5 4 58.5 4-13 8-74.5 4-19.5 4 0 4 5.5 20 20 4-10 4-16 4-12.5 8-16.5 4-4 8-4.5 4-3.5 28-58.5 4-7 4-1.5 4-1 4 0.5 16 3.5 4 2.5 8 8 4 1 20-7 8 5.5 12 11.5 12 10 4 2.5 36 12.5 20 5.5 16 6 28 13 12 6 4 2.5 4 5 12 16.5 8 13.5 8 11 4 3 4 0 16-4 12-1.5 20 9 12 1.5 4 0 8-1 4-2 12-6.5 12-2.5 4-2 20-10.5 16-14 8-3 4-2.5 4-4.5 16-11 16-16 4-4.5 20-30.5 32-39.5 16-18 28-26 4-5 16-27 28-54.5 16-24.5 24-43 24-45"/><path d="M100 638l8 0 4-0.5 12-5 12-6.5 24-17.5 12-12 4-5 8-10 16-22.5 12-15.5 20-27 24-28 8-11.5 4-4.5 4-3 4 2 8 11 4-2.5 4-8.5 4-4 4-0.5 4-2 4 2 4-5 16-47.5 4-10.5 8-18 8-22.5 12-23.5 12-19 8-14 12-11.5 20-27 12-13 4 1 8 5 4 5.5 12 23.5 8 20.5 4-12 4-9.5 4-1.5 8 20 4-2 8-37.5 4-12 4-3.5 4 3 4 7 8 18 4-11.5 4-17.5 4-13.5 4-10.5 8-24.5 8-20.5 4-13 8-18 8-12 4-4 8-6.5 12-5 8-4 4-0.5 4 0.5 8 2 8 3 8-0.5 8 2.5 4 5.5 8 14 4 6 4 4.5 4 3 12 6 8 3 8 0.5 4 4 4 9 4 17.5 8 40.5 8 45 4 16 8 30 4 12.5 4 8.5 4 4 4 7.5 4 4.5 8 3 4-4 8-26 4-8 4-1.5 4 7 4 10 4 21 4 17 4 10 4 5.5 4-1 4-3 4-5.5 4-4 12 4 4-1 8-4.5 4 0.5 12 4.5 4-1.5 4-2.5 16-16 12-2.5 4-3.5 4-6 20-31.5 4-4 8-6.5 4-4.5 12-16.5 4-3.5 4-2 4-3 4 0.5 8 3 8 1 4 5.5 4 7 4 10 4 6 4 0.5 4-3 8-18.5 8-14.5 4-3 4 5.5 4 11.5 4 31.5 4 41 4-9 8-52.5 4-14 4 0.5 4 4 12 9.5 8-0.5 4-10 8-26.5 8-18 4-5.5 8-5.5 4-4 8-12.5 8-15.5 12-26 4-5.5 8-4 20 7.5 4 3.5 8 10 4 3.5 12-10 8-5 8 6.5 4 5.5 8 12 12 14.5 16 8 12 4.5 24 1 24 3 4 1 32 14.5 8 4 24 30 8 9 4 2.5 4 0.5 16-0.5 12 2 4 2 16 10.5 12 4 4 0.5 8-0.5 4-1.5 12-6 12-4.5 24-13.5 16-15 8-3 4-2.5 4-4 12-8.5 4-3.5 20-23.5 20-28.5 16-19 28-35.5 36-52 16-32 28-65.5 16-32 28-65 20-50"/><path d="M100 661l8 0 4-1 8-3 12-6 4-2.5 24-20.5 12-11.5 12-14 16-22.5 12-14.5 8-12 20-24.5 12-18.5 4-5 4-6.5 4-8 4-5.5 4-0.5 4 8 8 29 4-8.5 4-19 4-5.5 4-1 4 2 4 3.5 4-5.5 4-13 4-8 8-30.5 12-38 8-19 12-20.5 20-29.5 24-32 8-9 8-7.5 4-2 4 0 4 1.5 8 1.5 4 6 8 25.5 4 15.5 4 21.5 8-20.5 4 2 4 13 4 17.5 4-7 8-51.5 4-18 4-2.5 4 10 8 28.5 4 10.5 8-35.5 4-16 4-11.5 4-17 4-23 8-36 4-7.5 4-7.5 8-8 12-9.5 12-6 12-7 24-10 4 1.5 4 0.5 4 2.5 4 3 4 8 8 24 4 9.5 4 8 4 6.5 8 6 4 2 4 1.5 4 2 8 8.5 8 23.5 4 17 8 41.5 8 48 8 41 8 33 4 10.5 8 14.5 4 3.5 8-3.5 4-6.5 8-30 4-9 4-5.5 8 19 4 27 4 20 4 14.5 4 7 4-2 4-4.5 8-16 4 0.5 8 6.5 4-0.5 8-5 4-1 12 2 8-7 16-18 12-6 12-18 12-22 24-36 12-21.5 8-8.5 4 2 8 7.5 4 2 4 3 8 20.5 4 15 4 9.5 4 2 4-3 16-53 4-7 4 6.5 4 16.5 4 49 4 63.5 4-14 8-81 4-21 4 0.5 4 6 12 13 8 16.5 4-7.5 4-13 4-9 8-9.5 16-6 12-23 12-26.5 8-14.5 4-1 12 0.5 12 2 4 2.5 8 7 4 0.5 8-1 12-2 36 30.5 28 11 8 2.5 20 2.5 20 7.5 24 6.5 16 5.5 16 15 12 8 4 1.5 12 0.5 24 3.5 4 0.5 16 7 8 0.5 12-0.5 4 1 4 0 12-1.5 12-0.5 20-4.5 4-1.5 16-11 8-1 4-1.5 4-3 16-6 8-5.5 8-5.5 4-3.5 8-9.5 12-12 28-23 12-9.5 4-2.5 32-2.5 4-1.5 16-15 28-37 16-16 4-4.5 44-34"/><path d="M100 642.5l8-0.5 4-1 8-3.5 12-7 28-19.5 12-11.5 12-14.5 16-23 12-14 20-27 16-19.5 8-9 8-11.5 4-5 4-3 4 3 8 15 4-5 4-12 4-4.5 8-1.5 4 3 4-4.5 4-12 4-10 8-25 4-11 8-18.5 8-22 12-23 12-18.5 8-14 12-13 20-26.5 12-12.5 4 0.5 8 4.5 4 5 8 15 4 9 8 24.5 4-12 4-9.5 4-1 4 11 4 13 4-3.5 8-41 4-13 4-3 4 4.5 12 28 4-13.5 4-18 4-14.5 4-11.5 8-28.5 12-35 4-9.5 4-7.5 8-10.5 4-4 8-6 20-10.5 4-0.5 4 0.5 8 1.5 8 2.5 8 1 8 3 4 6 8 15.5 4 6 4 5 4 3 12 6.5 16 5.5 4 5.5 4 9.5 4 19.5 8 43.5 8 48 8 38 8 32 4 11 4 5.5 4 7.5 4 4 8 0.5 4-5.5 8-27.5 4-8.5 4-4 4 7.5 4 10 4 23 4 18 4 12 4 6 4-1.5 4-3.5 8-12 4 1.5 8 5 4-0.5 8-4.5 4-0.5 12 3 8-5.5 16-17 12-4.5 4-4.5 8-12 16-27.5 12-13 4-5 12-18.5 4-5.5 8-6.5 4 1 8 5.5 8 3 8 15.5 4 12 4 7 4 1 4-3 12-32.5 4-9 4-4.5 4 6.5 4 13.5 4 39 4 50 4-11 8-64.5 4-17.5 4 0.5 4 5 12 10.5 8 3.5 4-10.5 4-15 4-12.5 8-16.5 4-4 8-5 4-4.5 12-23.5 16-35 4-6 4-2 4-1 20 6 4 3 8 9.5 4 2 12-8.5 8-4.5 8 6 12 16 8 9 4 4.5 4 2 16 4 24 7.5 32 7 4 1 24 10 16 9.5 16 20.5 8 12 8 10.5 4 2.5 4 0.5 16-3 12-0.5 4 1.5 16 8 12 4 4 0.5 8-0.5 4-1.5 12-6.5 12-3.5 24-13.5 16-13.5 8-3 4-3 4-4 16-13 20-22 20-29.5 40-48 36-48 4-6 16-31 28-60.5 16-30.5 48-106"/><path d="M100 645l8-0.5 4-0.5 8-4 12-6.5 28-20 12-11 12-13.5 16-23 12-15.5 8-11.5 12-15.5 24-29 8-12 4-5 4-3 4 4 8 19 4-6 4-13.5 4-5 4-0.5 4 0 4 3 4-4.5 4-12.5 4-9 12-38.5 16-43 12-23.5 20-32 12-12 20-25.5 12-12.5 4 0.5 8 3.5 4 4.5 8 16 4 10 4 13 4 15 8-21 4 0 4 11 4 15 4-4.5 8-43.5 4-14.5 4-2.5 4 6 8 21.5 4 9 12-47.5 4-11.5 12-45 8-23 4-9.5 4-7.5 8-11 4-4 8-6.5 20-9.5 4 0 24 3 4 0 8 4 4 6.5 8 18 4 7.5 4 5.5 4 4 8 4.5 4 2 16 5.5 4 6.5 4 10 4 20 8 44.5 8 49 8 40.5 8 34 4 11.5 8 14 4 3.5 8-1.5 4-6 8-29 4-8.5 4-4 4 8 4 10.5 4 25 4 19 4 13.5 4 6.5 4-1.5 4-4 8-13.5 4 1 8 5.5 4-1 8-5.5 4-1 12 2 8-6 16-16 12-5 12-18 16-28 16-21.5 16-24.5 8-7 4 2 8 6.5 8 3.5 8 17.5 4 13 4 7.5 4 1.5 4-3.5 16-46.5 4-5.5 4 6 4 14.5 4 43.5 4 56 4-12 8-71 4-18.5 4 0.5 4 5 4 4 16 14 4-10 4-15.5 4-12.5 8-16.5 4-4.5 8-5 4-4.5 28-59 4-6.5 4-1.5 4-0.5 20 4.5 4 3 8 8 4 1.5 20-10 8 6 20 22 4 4 4 2.5 8 2.5 48 12.5 16 5.5 28 12 8 4 8 4.5 12 16 12 18.5 8 10.5 4 2.5 4 0 16-3.5 12-1 4 1.5 16 8.5 12 1.5 4 0 8-1.5 16-7 12-3 24-12.5 16-14 8-3 4-3 4-4 12-9.5 4-3.5 16-17 4-5 20-29.5 36-43 24-30.5 16-17.5 4-5.5 16-27 32-62 12-20.5 48-94.5"/><path d="M100 638l8 0.5 4-1 8-3.5 12-6.5 28-20 12-11.5 12-15 20-28.5 20-26 8-10 24-26.5 8-12 8-9 4 1 8 9 4-2.5 4-7.5 4-3.5 4-0.5 4-2 4 2.5 4-5 16-47.5 4-10 8-17.5 8-22.5 12-23.5 20-32 12-11 20-28 12-13.5 4 0.5 8 4 4 5.5 4 8 4 6 4 7.5 8 19 4-11.5 4-9 4-1.5 8 20.5 4-1.5 8-35.5 4-11.5 4-3 4 2 4 7 8 16.5 4-11 4-18 4-13.5 12-33 8-20 4-12.5 8-18.5 8-12 12-11.5 4-2 16-6.5 4 0 12 3 8 3 8-0.5 8 2.5 4 5.5 8 13.5 4 5 4 4 4 2 4 1 12 5.5 4 0.5 8 0 4 3.5 4 8.5 4 17.5 8 39.5 8 43.5 8 30 8 24.5 4 7.5 4 3.5 4 8 4 5 8 4.5 4-3 8-25.5 4-8 4-1.5 4 6.5 4 9.5 4 19 4 15.5 4 9 4 5 4-1 4-3 4-5 4-3.5 12 5.5 4-0.5 8-4 16 7 4-1 4-2 16-16 12-2 4-3 4-5.5 20-32 4-3.5 8-5.5 4-4.5 8-12 4-5 4-2.5 4-1 4-3 4 0.5 8 2.5 8 0.5 4 5 4 6 4 9.5 4 4.5 4 0 4-3.5 8-17.5 4-7 4-5.5 4-2 4 5.5 4 11 4 29 4 37.5 4-7.5 8-47.5 4-12.5 4 0.5 4 3.5 8 5 4 3 8-2.5 4-10 8-25.5 8-17.5 4-4.5 8-4.5 4-3 8-10.5 8-14.5 12-27.5 4-6 8-5.5 20 7 4 4 8 10.5 4 3.5 12-10.5 8-5.5 8 7 4 5.5 8 13 12 16 12 5.5 16 5 28 2.5 20 1 4 0.5 24 10 12 5.5 4 2 24 29.5 8 8.5 4 2.5 4 0.5 16 1 12 2 4 2 16 9.5 12 4 4 1 8 0 4-1.5 12-5.5 12-3.5 16-8 8-4.5 16-15 8-3.5 4-3 4-4 12-9 4-3.5 16-17 4-5 20-29 44-54 32-48.5 4-6 16-32 28-64 16-33.5 24-58.5 24-61"/><path d="M100 655.5l8 0 4-1 8-3 12-5.5 4-3 24-19.5 12-11.5 12-13 16-21.5 12-15 8-13 12-16 8-9.5 16-22.5 8-13.5 4-5 4-1.5 4 7.5 8 29.5 4-8.5 4-18.5 4-5.5 4-1 4 2 4 3.5 4-5.5 4-13 4-8.5 12-43.5 8-23 8-20.5 12-22 16-23.5 4-5.5 12-13.5 20-26.5 8-9.5 4-3 4 0 12 4.5 4 6.5 8 24 4 15.5 4 22 8-20 4 2 4 13 4 18.5 4-7 8-52 4-18 4-3 4 9.5 8 28 4 10.5 8-35 4-15.5 4-11.5 4-17 4-22.5 4-18 4-15 4-8.5 4-7.5 4-4.5 8-8.5 8-7.5 24-13 20-7.5 4-1 4 2 4 0.5 8 6 4 8 8 23.5 4 9.5 4 7.5 4 6 8 5.5 4 1.5 4 1 4 2.5 8 8 8 24.5 4 16.5 8 40 8 47 8 40.5 8 32.5 4 11 8 14.5 4 2.5 8-4.5 4-7.5 8-30.5 4-9 4-5.5 4 8.5 4 11 4 27 4 20.5 4 15 4 7.5 4-2 4-4.5 8-16 4 0.5 8 6.5 4-0.5 8-5.5 4-1 12 1.5 4-3.5 8-8 12-14 12-6.5 12-17.5 12-20 24-36.5 12-21.5 8-8 4 2 8 8 8 5 8 19.5 4 14.5 4 8.5 4 2 4-3.5 16-53.5 4-6.5 4 7 4 16.5 4 49.5 4 63.5 4-14 8-80 4-21.5 4 1 4 6 12 13 4 5 4 7 4-8.5 4-14 4-10 8-11 4-1.5 8-1.5 4-2.5 12-24 12-26.5 8-14.5 4-0.5 12 1 12 2 4 2.5 8 7 4 0 8-1 12-3 8 6 28 23 24 8.5 32 9 20 8.5 28 10 12 5.5 20 24.5 8 7.5 4 2 24 2 12 2 4 1 16 8.5 12 1.5 12 0 4-1 12-4.5 12-2.5 24-10.5 16-10.5 8-1 4-1.5 4-3.5 16-8.5 16-12.5 4-4 16-20 12-12.5 12-10.5 24-20.5 32-11.5 4-2.5 16-19.5 28-40.5 16-18 4-5.5 24-25.5 20-22.5"/><path d="M100 657.5l8 0.5 4-1 8-3.5 12-6.5 28-22 12-11.5 12-13.5 16-22.5 12-15 8-13 12-14.5 8-8.5 16-22.5 8-14 4-5.5 4-1 4 7 8 28.5 4-9 4-18.5 4-5.5 4-1 4 2.5 4 3.5 4-5 4-13 4-8 12-44 8-23.5 8-19.5 12-20.5 20-29.5 28-36 12-13 4-3 4-0.5 12 2.5 4 6 8 25 4 15.5 4 21.5 8-20 4 2 4 13 4 18 4-7.5 8-51 4-17.5 4-2.5 4 10.5 8 29 4 10.5 8-35.5 4-16 4-11.5 4-17 4-22.5 4-19 4-16 4-8 4-7.5 4-5 8-8 8-7 12-6.5 12-7.5 12-4.5 8-2.5 4-0.5 4 2 4 0.5 8 6 4 8 8 23.5 4 10 4 7 4 6 8 6 4 2 4 1.5 4 2.5 8 8 8 24 4 17 8 40 8 47 8 40 4 16.5 4 16 4 10 8 15 4 3 8-4 4-7 8-31 4-9.5 4-5.5 4 8.5 4 11 4 27 4 20 4 15 4 7.5 4-1.5 4-4.5 8-15.5 4 0.5 8 7 4-0.5 8-5.5 4-1 12 1.5 4-3 8-8 12-13.5 12-6.5 12-19 12-22 4-6 20-28 12-20.5 8-8.5 4 1.5 8 7.5 4 2 4 3 8 19.5 4 15 4 9 4 1.5 4-3.5 16-53 4-7 4 7 4 16 4 49.5 4 63.5 4-14 8-80 4-21 4 1 4 6 12 13 8 14 4-8 4-14 4-10 8-10.5 4-2 8-1.5 4-2 12-23.5 12-26 8-14.5 4-0.5 24 4 4 2 8 6.5 4 0.5 8-1 12-3 8 6 28 23 24 9 32 7 28 12 20 6.5 12 5.5 16 18 12 10 4 2 36 3 4 1 16 7 12 2 8 0 4 1 4-0.5 12-4 12-2 24-7.5 16-10 8-1 4-2.5 4-3.5 16-8.5 16-12 4-3.5 8-9.5 12-12 12-10.5 24-22.5 8-6 24-6.5 8-2.5 4-2.5 16-18 28-36.5 16-18.5 4-5 24-21.5 20-21"/><path d="M100 643l8 0.5 4-1 8-3.5 16-9 24-18 12-12.5 12-15 16-22.5 12-15 8-11.5 20-23 16-20.5 8-13 4-5 4-2.5 4 3 8 17 4-4.5 4-11.5 4-4.5 8-1 4 2.5 4-5 4-12.5 4-10 8-26 4-11 8-19 8-22 12-23 20-31.5 12-12.5 20-28 12-13 4 0.5 8 4.5 4 4.5 8 15.5 4 9.5 8 25.5 4-11 4-9 4-0.5 4 11 4 13 4-3.5 8-42 4-13.5 4-3 4 5 12 28 4-13.5 4-18 4-14.5 4-11 8-28.5 12-34.5 4-9.5 4-8 8-11 4-3.5 8-6.5 12-5.5 8-4 4-1 4 0.5 8 0.5 8 2 8 0 8 3 4 6 8 16.5 4 6.5 4 5 4 3.5 12 5.5 16 5 4 5.5 4 9.5 4 19.5 8 44.5 8 49 8 38.5 8 32.5 4 10.5 4 5 4 7.5 4 3.5 8-1 4-5.5 8-28 4-8.5 4-3.5 4 8 4 10.5 4 23.5 4 18.5 4 12.5 4 6.5 4-1 4-3.5 8-12.5 4 1 8 5.5 4-0.5 8-4.5 4 0 12 3 4-2.5 4-3 16-17.5 12-4.5 4-5 8-12 16-28 16-19 12-18 4-5 8-6.5 4 1 8 4.5 4 1 4 1.5 8 16 4 12.5 4 7 4 1.5 4-3 12-32.5 4-9.5 4-4.5 4 6.5 4 13.5 4 39.5 4 51.5 4-11.5 8-64.5 4-17.5 4 0.5 4 5 12 11 8 4 4-10 4-15 4-12.5 8-17.5 4-5 8-6 4-5 28-57.5 4-6 8-3 20 5.5 4 3 8 9.5 4 2.5 20-12 8 5.5 4 4.5 8 11 8 9 4 4.5 4 2.5 12 4 12 3 48 9.5 4 1 24 10.5 16 10 32 44 4 2.5 4 0 16-4 12 0.5 4 1.5 16 9 12 2.5 4 0 8-1 16-7.5 12-2.5 24-13 16-13.5 8-3.5 4-3 4-4.5 16-13.5 20-22 20-28.5 40-48.5 36-46.5 4-6 16-31 28-61 16-29.5 28-59 20-44.5"/><path d="M100 657.5l8 0 4-1 16-5.5 8-4 24-21 12-12.5 12-13 16-23 12-14.5 8-12 20-23 16-23.5 8-14.5 4-5 4-1 4 7.5 8 29 4-9 4-18.5 4-5.5 4-1.5 4 2.5 4 3.5 4-5 4-13 4-8 8-30.5 12-37 8-19.5 8-14.5 8-13 16-23.5 28-35.5 4-4.5 8-7.5 4-2.5 4 0.5 4 1 8 1.5 4 6 8 24.5 4 15 4 21.5 8-20.5 4 1.5 4 13 4 18 4-7 8-51.5 4-17.5 4-2 4 10.5 8 28.5 4 10.5 12-52.5 4-11.5 4-17 4-22 4-18 4-16 4-7.5 4-7 12-13 8-7 24-14.5 20-8.5 4-1 4 1.5 4 1 8 6 4 8 8 24 4 10 4 7.5 4 5.5 8 5.5 4 2 4 1 4 2 8 8 8 24 4 17 8 41.5 8 48 8 40.5 8 32.5 4 10 8 14 4 2.5 8-4 4-7 8-29.5 4-9 4-5 8 20 4 27 4 20.5 4 14.5 4 7 4-2 4-4 8-16 4 1 8 6.5 4 0 8-5.5 4-1 12 2 4-3 8-8.5 12-13.5 12-6.5 12-17.5 12-21.5 24-37.5 12-21 8-9 4 2.5 8 7.5 8 5 8 19.5 4 15 4 8.5 4 2 4-3 16-52.5 4-7 4 7 4 16.5 4 49 4 64 4-14 8-80 4-21 4 0.5 4 6 12 13 8 15 4-7.5 4-13 4-10 8-10 4-2 8-2.5 4-2.5 12-24 12-27 8-14.5 4-0.5 12 1 12 2.5 4 2.5 8 7 4 0.5 8-0.5 12-1.5 20 16 16 12 24 9 20 4.5 12 3.5 12 4.5 32 10.5 16 6 16 17 12 10 4 1.5 40 5.5 16 5.5 20 2.5 4 1 4-0.5 12-3.5 12-2 24-5 16-10.5 8-1 4-2 4-3.5 16-8.5 16-12.5 4-4 8-10 12-13 24-20 20-15.5 16-4.5 16-3.5 4-2 16-15 28-36.5 20-23 24-19.5 20-20"/><path d="M100 646.5l8 0.5 4-1 20-9.5 8-5.5 20-16.5 12-12 12-14 16-22 12-15 8-11.5 36-45 8-13 4-5 4-2.5 4 4.5 8 20 4-6 4-14 4-5 4-1 4 0.5 4 3 4-5 4-13 4-9 8-27.5 4-11.5 16-42.5 12-23 20-31 12-12.5 20-27 12-12.5 4 0.5 8 3.5 4 4.5 8 16 4 11 4 13.5 4 16 8-20 4 0 4 12 4 14.5 4-4.5 8-44 4-15 4-2.5 4 6.5 8 22 4 9 12-49.5 4-11.5 12-46.5 8-22.5 4-8.5 4-7.5 8-10 4-3.5 8-6 20-9.5 4-0.5 24 0.5 4-0.5 8 3 4 6 8 18 4 7.5 4 6 4 4 8 5.5 4 2 16 7 4 7 4 10 4 20 8 44.5 8 50 8 41.5 8 35 4 11.5 8 13.5 4 3 8-2.5 4-6 8-29 4-9 4-4.5 4 8 4 10.5 4 25 4 19 4 13.5 4 7 4-2 4-3.5 8-14 4 1 8 6 4-0.5 8-5 4-0.5 12 2 8-6.5 16-18 12-5.5 12-17 16-26.5 16-22.5 16-25 8-7.5 4 2 8 6 8 4 8 17.5 4 13.5 4 8 4 1 4-3 16-47.5 4-5.5 4 6.5 4 14.5 4 44 4 57 4-12.5 8-72 4-19.5 4 0.5 4 5 20 19.5 4-10 4-15 4-12 8-16.5 4-4.5 8-5.5 4-4 28-59.5 4-7 4-1 4-0.5 20 5 4 3 8 8 4 1 20-8.5 8 5.5 12 13 8 7 4 3.5 4 2.5 28 7.5 44 14 28 12 8 4 8 4.5 12 16 12 19.5 8 11.5 4 2.5 4 0 16-5 12-1 20 10 12 1.5 4 0.5 8-1 4-1.5 12-6 12-3.5 24-13 16-14 8-2.5 4-3 4-4 12-8.5 4-4 20-22.5 20-29 28-33.5 20-25.5 12-13.5 16-16 4-5 16-27.5 28-54.5 16-25.5 48-94"/><path d="M100 650.5l8 0 4-1 20-9.5 8-5.5 20-16.5 12-12.5 12-13.5 16-21 12-14.5 8-12 20-24.5 16-22.5 8-13 4-4.5 4-2.5 4 6.5 8 26.5 4-8 4-17.5 4-5 4-1.5 4 1.5 4 3 4-5 4-13 4-9 8-29 4-12.5 16-42 12-22 20-31.5 12-13.5 20-25.5 8-8.5 4-3.5 4 0.5 8 3.5 4 3 4 7 4 9.5 4 12.5 4 14.5 4 19.5 8-20.5 4 1 4 12.5 4 17 4-6 8-49 4-17 4-2.5 4 9 8 25.5 4 10 12-52 4-12 4-16.5 4-20 4-16.5 4-13 4-9.5 4-8.5 4-6.5 8-9.5 8-7 4-2.5 20-10.5 8-1.5 16-0.5 4 0.5 4 0 8 4 4 7 8 21 4 8.5 4 6.5 4 4.5 8 4.5 4 2 4 1 4 2.5 8 6.5 8 21 12 64 8 49 8 41.5 8 34.5 4 11 8 15 4 3 8-3.5 4-7 8-30.5 4-9 4-5.5 4 8.5 4 10.5 4 26.5 4 20 4 15 4 7 4-2 4-4 8-15 4 1 8 7.5 4-0.5 8-5.5 4-1 12 1.5 8-7.5 16-18.5 12-6.5 12-17.5 16-27.5 20-29 12-21 8-8.5 4 2.5 8 7.5 8 5 8 19.5 4 14.5 4 9 4 2 4-3.5 16-52 4-6.5 4 6 4 16 4 48 4 62 4-14 8-78 4-20.5 4 0.5 4 5.5 12 12.5 8 10 4-10 4-16 4-12 8-16 4-4 8-5 4-3 24-51 8-14.5 4-1 12 1 12 2 4 2.5 8 6.5 4 0.5 20-6 8 6 24 20.5 4 3 16 5 20 8 20 6.5 32 13.5 12 5.5 16 10.5 20 29 8 9.5 4 3 4 1.5 16 0 16-2 4 1.5 16 9 12 2.5 4 0.5 8-0.5 4-1.5 12-7 12-4 24-12 16-14 8-3 4-2.5 4-3.5 12-7 4-3 16-15.5 4-5 20-28 28-31.5 16-16.5 12-11 8-7 12-8.5 4-3.5 16-22.5 28-49.5 16-24 12-20 16-24.5 20-32"/><path d="M100 658.5l8 0 4-1 20-10 28-21 16-15 8-9 16-22.5 12-15 8-13 20-26 12-18 4-5.5 8-13.5 4-5.5 4-0.5 4 7.5 8 29.5 4-9 4-18.5 4-5.5 4-1.5 4 2 4 3.5 4-5 4-13 4-8.5 12-43.5 8-23.5 8-19.5 12-20.5 20-30 20-25.5 12-14 8-7.5 4-2.5 4-0.5 4 1.5 8 1.5 4 6 8 24.5 4 15.5 4 21.5 8-20.5 4 2 4 13 4 18 4-7 8-51 4-17.5 4-2.5 4 10.5 8 28 4 10.5 8-36 4-16 4-11.5 4-17 4-22.5 8-35 4-8 4-7.5 4-4.5 8-8 8-7 12-6.5 12-7.5 20-8 4-1 4 1.5 4 0.5 4 2.5 4 3.5 4 8 8 24 4 10 4 8 4 6 8 5 4 2 4 1 4 2 8 8.5 8 24 4 17 8 41 8 47.5 8 41 8 33 4 10 8 15 4 3.5 8-4 4-7 8-30 4-9 4-5.5 4 9 4 11 4 27 4 20.5 4 15 4 7.5 4-2.5 4-4.5 8-16.5 4 0.5 8 6.5 4-0.5 8-5.5 4-1 12 1.5 12-11 12-13 12-6 12-19 12-22 24-36.5 12-20.5 8-8.5 4 2.5 8 8 8 5 8 20 4 15 4 9 4 2.5 4-3.5 16-54 4-7 4 6 4 16.5 4 49 4 63.5 4-14 8-80 4-21.5 4 0.5 4 6 12 12.5 8 15.5 4-8 4-13 4-10 8-10.5 4-1.5 8-2.5 4-2 12-23.5 8-17.5 12-22 4-0.5 24 5 4 2 8 6.5 4 0 20-4.5 20 17 16 13 24 8.5 32 7.5 16 6.5 24 7 8 2.5 12 6 16 17 12 9 4 1.5 12 0.5 24 3.5 4 1 16 7 12 2 8 0 4 0.5 4 0 12-2.5 12-1.5 24-8.5 16-11 8-0.5 4-2 4-3 12-5.5 4-2 20-16 8-9.5 12-12.5 44-36 16-4.5 16-3 4-2 16-15 28-38 20-23 24-19 20-20"/><path d="M100 652.5l8 0.5 4-1 8-3.5 12-6 4-2.5 24-20 12-11.5 12-13 16-22.5 12-14.5 8-12.5 36-45.5 8-13.5 4-5.5 4-2 4 6 8 28.5 4-9 4-18.5 4-5.5 4-1 4 2 4 3 4-5 4-13.5 4-8 8-29.5 4-12.5 16-42 8-14.5 4-7 12-17.5 8-13 28-36 12-13 4-3 4 0 8 3 4 2.5 4 6.5 4 10 4 12.5 4 15 4 21.5 8-20.5 4 2 4 13 4 18.5 4-7 8-51 4-18 4-2.5 4 10 8 28.5 4 10.5 8-35.5 4-16.5 4-11.5 4-17 4-22.5 4-17.5 4-14 4-9 4-7.5 4-6 8-9.5 8-7.5 8-5 16-7 20-5.5 4-0.5 4 1 4 0.5 8 5 4 7.5 8 23 4 9.5 4 7 4 6 8 5 4 2 4 0.5 4 2.5 8 7 8 22.5 4 18 8 41.5 8 48 8 41 8 33 4 11 8 14.5 4 3 8-4 4-7 8-30 4-8.5 4-5.5 8 20.5 4 27 4 20 4 14.5 4 7 4-2 4-4.5 8-16 4 0.5 8 6.5 4-0.5 8-5.5 4-1 12 2 8-6.5 16-17 12-5 12-19 12-22.5 4-6.5 20-29.5 12-20.5 8-8.5 4 2 8 7.5 4 2 4 2.5 8 19.5 4 15 4 9 4 2 4-3 16-51 4-6.5 4 6.5 4 15.5 4 48.5 4 62.5 4-14.5 4-43.5 4-36.5 4-21 4 0.5 4 6.5 12 14 8 11 4-10.5 4-16 4-12.5 8-16.5 4-4 12-6 12-24.5 8-18.5 12-23 4-1 12 0 12 2 4 2 8 7 4 0 8-0.5 12-2.5 20 16.5 16 11.5 20 5 36 12 4 2 28 15 28 17 20 27.5 8 8.5 4 2.5 4 1 20 1 12 1 4 1.5 16 9 12 3 4 0.5 8-0.5 4-1.5 12-6.5 12-3.5 12-5 12-5.5 16-13.5 8-2.5 4-2.5 4-3.5 12-7.5 4-3 20-18.5 20-26 16-17.5 28-28.5 16-10.5 16-9 4-3.5 16-20.5 32-52 12-16 4-6 24-30.5 20-29"/><path d="M100 653l8 0.5 4-1 8-3.5 8-4.5 8-5.5 12-10.5 12-9 12-11 12-13 16-22 12-15 8-12.5 12-15 8-9 16-21.5 8-12.5 4-5.5 4-2 4 6 8 28 4-9 4-19 4-5.5 4-1 4 2.5 4 3.5 4-5 4-12.5 4-8.5 8-30 4-13 8-21.5 8-20.5 12-22 20-31 28-35 12-12.5 4-3.5 4 0 8 2 4 2 4 7 4 10 4 13.5 4 16 4 22 8-20 4 2 4 13 4 18 4-6.5 8-51.5 4-17.5 4-2.5 4 10 8 28 4 10 8-36.5 4-16 4-12 4-17.5 4-22.5 4-17.5 4-14.5 4-9 4-8 4-5.5 8-9 8-7 24-14 8-2 16-2 4 1.5 4 0 8 5 4 7.5 8 23 4 9.5 4 7 4 6 8 5.5 4 2 4 1.5 4 2.5 8 7.5 8 23 4 17.5 8 41 8 47.5 8 41 8 33 4 11 8 14.5 4 3 8-4 4-7 8-30.5 4-9 4-5.5 8 20 4 27 4 20.5 4 15 4 7 4-2 4-4 8-16 4 0 8 6.5 4 0 8-5.5 4-1 12 1.5 4-3.5 8-8 12-13.5 12-6 12-18.5 12-21.5 24-35.5 12-21 8-8 4 2.5 8 7.5 8 4.5 8 19.5 4 14.5 4 8.5 4 2 4-3 16-52 4-6.5 4 6.5 4 16.5 4 49 4 62.5 4-14 4-43.5 4-36.5 4-21 4 1 4 6 12 13 8 11 4-10.5 4-16 4-12.5 8-16 4-4 4-1.5 4-0.5 4-2 12-24 12-27 8-15.5 4-1 12 1.5 12 2.5 4 2 8 7 4 0 8-1.5 12-3.5 20 15.5 16 11 16 5 20 8.5 20 7 24 12 36 19.5 20 26 8 8.5 4 2 4 0.5 8 0.5 12 1 12 2.5 4 2 16 10 12 2.5 12-1.5 4-1.5 12-6 12-3 24-10.5 16-12.5 8-2 4-2 4-4 12-7.5 4-3 20-19.5 20-26 20-21 20-19.5 4-3.5 12-8 20-10 4-3.5 16-21 28-44.5 16-19.5 4-6 20-25.5 24-35"/><path d="M100 649.5l8 0 4-1 20-11 28-21 12-11.5 12-14 16-22.5 12-14.5 8-12 20-25 16-21.5 8-13 4-4.5 4-2 4 5 8 23.5 4-7.5 4-15.5 4-5.5 4-1 4 1 4 3 4-5 4-13 4-9 8-28.5 4-12 16-41 12-22.5 20-31 12-13.5 20-25.5 12-12.5 4 0.5 8 3.5 4 3.5 4 7 4 9.5 4 12 4 14 4 18 8-21 4 0.5 4 12 4 16 4-5.5 8-47 4-15.5 4-3 4 8 8 23.5 4 9.5 8-34.5 4-16 4-11.5 12-49.5 4-12 8-18.5 4-7 8-10 4-3.5 8-5.5 12-5 8-4 16-3 8-0.5 8 0.5 8 3.5 4 7 8 19.5 4 8.5 4 6 4 5 12 6 8 3 8 4.5 4 8.5 4 11 12 66 8 50.5 4 21.5 4 21 8 34 4 11 8 13.5 4 3.5 8-3 4-6.5 8-29.5 4-9 4-5 4 8.5 4 10.5 4 26 4 19 4 14 4 7 4-2 4-4 8-15 4 1 8 6 4 0 8-5 4-0.5 12 2 8-7 16-18 12-5.5 12-18 16-27.5 20-28.5 12-20.5 8-8.5 4 2 8 7 8 4 8 18.5 4 14 4 8.5 4 2 4-3 16-50 4-6 4 6.5 4 15.5 4 46.5 4 60 4-13.5 8-75.5 4-20 4 1 4 5.5 4 4.5 16 16 4-10.5 4-16 4-12.5 8-16 4-4 8-4.5 4-3.5 28-58.5 4-7 4-1.5 4-0.5 8 1 12 1.5 4 2.5 8 8 4 1 8-2.5 12-4 8 6 12 12.5 8 7 4 3.5 4 2.5 36 12 24 5.5 16 5.5 8 4 16 8.5 16 10 16 21.5 8 12.5 4 5 4 5 4 2 4 0 4-0.5 16-4.5 8-1 4 1.5 16 9 12 3 4 0.5 8-0.5 4-1 12-7 12-4 24-12.5 16-14 8-2.5 4-3 4-3.5 12-8.5 4-3 20-21.5 20-30 40-47.5 16-15.5 20-17 4-4.5 16-24 28-53 16-25 48-84.5"/><path d="M100 649.5l8 0 4-1 8-3.5 12-6.5 28-21 12-11.5 12-14 16-23 12-15 8-11.5 20-24.5 16-21 8-13.5 4-5.5 4-2 4 5.5 8 24 4-7 4-15.5 4-5 4-0.5 4 1 4 3 4-5 4-13 4-9 8-29 4-12.5 16-42 12-22.5 20-29.5 12-13 20-27 8-8.5 4-3 4 0.5 8 3.5 4 3.5 4 6.5 4 9.5 4 11 4 14 4 18 8-20.5 4 0.5 4 12.5 4 16 4-6 8-48.5 4-16.5 4-2.5 4 8 8 25 4 10 12-49 4-12 4-16 4-19 4-16 4-12.5 4-10 4-8.5 4-6.5 8-10 4-4 8-6.5 20-11 8-1 8 0 8 0.5 4 1 4 0.5 8 4.5 4 7 8 19.5 4 8.5 4 6 4 4.5 12 6.5 8 3 8 5 4 9 4 10.5 12 65 8 49.5 4 21.5 4 20 8 34 4 11 8 14.5 4 3 8-3 4-6.5 8-30 4-9 4-5 4 8.5 4 11 4 26.5 4 20 4 14.5 4 7 4-1.5 4-4 8-15.5 4 0.5 8 6 4-0.5 8-5 4-0.5 12 2.5 8-7 16-18.5 12-5.5 12-18 16-27.5 20-29 12-20.5 8-8.5 4 1.5 8 7 4 2 4 2.5 8 19 4 14.5 4 9 4 2 4-3 16-49.5 4-6.5 4 6.5 4 15.5 4 47 4 60 4-13 8-76.5 4-20.5 4 0.5 4 5.5 12 12 8 9.5 4-10 4-16 4-12.5 8-16.5 4-4 8-5 4-3.5 24-52 8-14.5 4-1 4 0 8 1 12 2.5 4 2 8 7.5 4 0.5 20-5.5 8 6 24 20.5 4 2.5 16 4.5 20 7.5 20 6 44 20 16 9 12 16.5 12 19 4 5 4 4 4 2 8 0.5 16-2.5 8-0.5 4 1.5 16 9 12 2 4 0 8-1.5 4-1.5 12-7.5 12-3.5 24-12 16-12.5 8-3 4-3 4-4 16-14 20-21.5 20-28.5 28-32.5 20-21 16-15 12-9.5 4-4.5 16-24 28-51.5 16-24 24-40.5 24-43"/><path d="M100 651l8 0 4-1 8-3 12-6.5 4-2.5 24-18.5 12-12.5 12-14 16-22 12-14 8-12.5 32-42.5 4-4.5 8-12.5 4-5 4-2 4 6 8 27 4-8 4-17 4-5.5 4-1 4 1.5 4 3 4-5 4-13 4-9 8-30 4-12.5 8-21.5 8-20.5 12-22.5 20-32.5 12-13 20-25 8-8.5 4-3 4 0.5 8 3.5 4 3 4 6.5 4 10 4 12.5 4 15 4 20.5 8-20.5 4 1.5 4 12.5 4 16.5 4-6.5 8-49.5 4-17 4-3 4 9 8 26.5 4 9.5 12-51.5 4-12 4-16.5 4-20.5 4-16.5 4-13 4-10 4-8 4-6.5 8-9.5 8-6.5 4-2.5 12-6 8-4.5 16-3.5 8-1 4 1 4 0 8 5 4 7 8 21.5 4 9 4 7 4 5 8 5 12 5.5 8 6 8 21 12 62.5 8 49 8 41.5 8 34.5 4 11 8 14.5 4 3 8-3.5 4-6.5 8-30 4-9 4-5 4 9 4 11 4 26.5 4 20.5 4 15 4 7.5 4-2 4-4 8-16 4 0 8 6 4-0.5 8-5.5 4-0.5 12 1.5 8-7.5 16-18.5 12-6.5 12-18 12-21 24-34.5 12-21.5 8-8.5 4 2 8 7.5 8 4.5 8 19 4 14.5 4 9 4 2 4-3 16-51.5 4-6.5 4 6.5 4 16 4 48.5 4 62.5 4-13.5 8-78 4-21 4 0.5 4 5.5 12 11 8 10 4-9.5 4-15.5 4-12 8-15.5 4-3.5 8-4 4-3 20-43.5 8-16 4-7.5 4-1 12 0.5 12 2.5 4 2 8 7.5 4 0.5 8-2 12-3.5 8 6 20 17.5 8 5.5 16 4.5 40 13 32 15.5 12 6 16 9.5 24 32.5 4 4.5 4 3.5 4 1.5 20 2 12-1 4 1 16 7 16 2.5 8-0.5 4-1.5 12-6.5 12-3 24-12 16-12.5 8-2.5 4-3 4-4 16-12 20-21 16-23 8-10 36-38.5 4-4 12-9.5 20-14.5 4-4 16-21.5 28-48.5 16-23 12-20 36-57.5"/><path d="M100 644.5l8-0.5 4-0.5 20-10.5 28-20 4-3.5 8-8.5 12-14.5 16-23.5 20-26.5 12-14 8-9 16-19.5 8-13 4-5 4-3 4 3 8 18 4-5 4-12.5 4-4.5 8-0.5 4 2.5 4-5 4-12.5 4-10 8-26.5 4-11.5 8-19.5 8-21.5 12-22.5 12-18 8-13.5 12-13 20-27.5 12-13 4 1 8 4 4 4.5 8 16 4 10 8 27 8-20.5 4-0.5 4 11 4 13.5 4-3.5 8-42.5 4-14 4-3 4 5.5 12 29 4-14 4-18 4-15 4-11.5 12-43.5 8-22.5 4-9.5 4-7.5 8-11 4-4 8-6.5 20-9 4-0.5 20 2 8 0 8 3.5 4 6.5 8 18 4 7.5 4 5.5 4 4 12 6.5 16 4.5 4 6 4 9.5 4 19.5 8 44 8 50 8 40 8 33.5 4 11 4 6 4 7 4 3.5 8-1 4-5.5 8-29 4-9 4-4 4 8 4 10 4 24.5 4 18.5 4 13 4 7 4-1.5 4-3.5 8-13.5 4 1 8 5 4-0.5 8-5 4 0 12 2.5 8-6 16-18 12-4 4-4.5 8-12 16-27 16-20 16-25 8-7 4 1.5 8 5.5 8 3 8 16.5 4 12.5 4 7.5 4 1 4-3 12-34.5 4-9.5 4-5 4 6.5 4 14 4 41.5 4 54 4-11.5 8-67.5 4-18 4 0.5 4 5 12 10.5 8 4.5 4-10 4-16 4-12 8-17.5 4-4.5 8-5.5 4-4 12-23.5 16-34 4-7 4-2 4-1.5 8 1.5 12 3.5 4 3 8 10 4 2 4-1.5 16-9 8 6 12 15 8 9 4 4 4 2 24 7 20 4.5 20 5.5 12 2.5 16 5.5 12 5.5 12 7 16 22.5 8 13 8 10.5 4 2.5 4-0.5 8-3 8-1.5 12 0 20 10.5 12 3 4 0.5 8-0.5 4-1.5 12-6.5 12-4 24-11.5 16-14 8-3 4-2.5 4-4.5 16-13.5 20-22 20-29.5 40-50 24-32 16-20 16-27.5 28-58.5 16-29 48-99"/><path d="M100 631.5l12-0.5 8-2.5 12-7.5 28-19.5 12-12 24-33 36-45 12-13.5 12-12.5 8-10.5 8-9 4-1 4 1.5 8 0 4-4 4-3.5 4-0.5 4-3.5 4 2 4-5 8-23.5 8-21 12-25 8-25 12-23 12-18.5 8-13 12-11.5 20-28 12-13.5 4 1 8 4.5 4 6.5 4 9.5 8 10.5 4 7.5 4 5.5 4-12.5 4-8.5 4-3 8 16 4 0.5 4-17 4-13.5 4-9 4-3.5 4-0.5 8 10.5 4 8 4-8.5 4-18 4-12.5 8-20 12-24.5 4-14 8-19.5 8-11.5 4-4 8-6 20-8.5 4 0 8 2.5 4 1 8 5 8-1.5 8 1.5 12 16 4 4 4 3 8 2 12 4.5 4 0.5 8-2 4 1.5 4 8.5 4 14.5 16 69.5 4 8.5 8 13 4 3 4 0.5 4-0.5 8 15 8 10.5 4-0.5 8-21 4-6.5 4 2 4 5.5 4 8.5 8 25.5 4 4.5 4 3 4 0.5 4-1.5 4-2.5 4 0.5 4 3.5 4 1 4 0 4-1 8-2.5 8 5.5 4 3 4 1.5 4 1 4-1 16-15.5 12 0 4-0.5 24-33.5 4-1.5 8 0.5 4-3 8-10.5 4-3 8 1.5 4-2.5 12-3.5 8-3 4 1 4 4 4 5.5 4 3 4-1 4-2 8-10.5 4-2 4-0.5 4 1 4 4.5 4 6.5 4 14.5 4 19 4-4 8-25 4-7 4 0 12 4.5 4 3 8-9 4-8.5 8-21.5 8-16.5 4-4 12-5.5 4-2 4-3 8-14 12-26.5 4-4.5 8-6.5 20 9 4 4.5 12 19 12-13.5 8-6.5 8 7 4 6.5 8 16 12 19 16 7.5 12 3.5 24-2.5 24-1.5 4 0.5 24 10 16 8 16 17.5 12 9 4 2.5 12 4 16 7 12 6 16 12 12 4 4 0.5 8 0 28-8.5 16-8.5 8-4.5 16-15.5 8-2.5 4-2.5 4-4 12-8 4-3 16-17 4-5 20-30 44-53.5 24-41.5 12-20 16-33.5 28-68 16-36 28-72.5 20-54"/><path d="M100 641.5l8 0.5 4-0.5 8-3.5 16-10 24-18.5 12-12 12-14.5 16-22.5 12-14.5 16-21 12-13.5 16-19.5 8-13 4-5.5 4-3.5 4 2.5 8 14 4-3.5 4-10.5 4-4 8-1 4 2.5 4-4.5 4-12.5 4-10 8-25 4-10.5 8-18.5 8-22.5 12-23.5 20-32.5 12-12 20-28 12-13.5 4 1 8 5 4 5.5 8 16 4 9.5 8 24 4-12 4-9.5 4-1.5 4 10 4 12 4-3 8-40 4-13 4-2.5 4 4 12 26.5 4-13.5 4-18 4-15 4-11 8-26.5 12-33 8-17.5 8-11.5 4-4.5 8-6.5 20-9.5 4-0.5 12 2 8 2 8 0.5 8 3 4 6 8 15.5 4 6.5 4 4.5 4 3 12 5.5 16 4 4 5.5 4 9.5 4 19 8 43.5 8 47.5 4 18.5 8 34 4 15 4 10 4 5 4 7.5 4 4.5 8 0.5 4-5 8-27 4-8.5 4-3 4 7.5 4 10 4 22.5 4 17.5 4 11 4 6 4-1.5 4-3.5 8-11.5 4 1 8 4.5 4-0.5 8-4.5 4 0.5 12 4.5 4-2 4-3 16-18.5 12-4.5 4-4 8-11 16-26 12-13 4-5 12-18 4-4.5 8-5.5 4 1 8 5 8 2.5 8 14.5 4 11.5 4 6.5 4 1 4-3 12-31.5 4-8.5 4-4.5 4 6 4 12.5 4 37 4 48 4-10.5 8-61 4-16.5 4 0.5 4 4.5 12 10 8 3 4-10 4-15 4-12 8-17.5 4-5 8-5.5 4-4.5 12-21.5 16-33.5 4-6.5 8-3.5 20 5.5 4 3 8 9.5 4 2.5 12-8 8-4.5 8 6.5 12 16 8 9.5 4 4.5 4 2.5 8 3 16 5 40 7.5 12 2 20 7 8 3.5 12 6.5 16 20.5 8 11.5 8 10.5 4 2.5 4 0.5 16-3.5 12 0.5 4 1.5 16 9.5 12 3.5 4 0.5 8 0 4-1.5 12-5.5 12-4.5 24-12.5 16-13.5 8-3 4-2.5 4-4 16-13 20-22.5 20-29.5 20-23.5 20-25.5 20-28 20-26 16-31 28-64 16-29.5 4-8.5 44-104.5"/><path d="M100 659.5l8 0 4-1 20-8.5 4-2 24-18.5 8-8 16-19 16-23 12-14 8-12 20-25 16-23.5 4-6.5 4-8 4-5 4-1 4 8 8 29.5 4-9 4-18.5 4-5 4-1 4 2.5 4 3 4-5 4-13 4-8.5 12-44.5 8-24.5 8-19.5 12-20.5 20-28.5 20-26.5 12-14.5 8-7.5 4-2.5 4-0.5 4 1.5 8 1.5 4 6 8 25 4 15 4 21.5 8-20.5 4 1 4 13 4 17.5 4-7 8-51.5 4-17.5 4-2 4 10.5 8 29 4 10.5 8-36 4-16 4-12 4-17 4-22.5 8-35 4-7.5 4-7 8-8 12-10.5 12-6 12-7.5 20-9.5 4-1.5 4 2 4 0.5 8 6.5 4 8.5 8 24 4 9.5 4 7.5 4 6 8 5 4 2 4 0.5 4 2.5 8 8.5 8 24.5 4 17.5 8 41.5 8 49 8 41 8 33 4 10 8 14 4 2.5 8-5 4-7 8-30 4-9 4-5 8 19.5 4 27.5 4 20.5 4 15 4 7.5 4-2 4-4 8-16 4 0.5 8 6.5 4-0.5 8-6 4-1.5 12 1.5 12-11 12-12.5 12-6 12-18.5 12-22 24-36 12-21 8-9 4 2.5 8 7.5 4 2 4 3 8 20.5 4 14.5 4 9 4 1.5 4-3.5 16-53.5 4-6.5 4 6.5 4 16.5 4 49.5 4 63.5 4-14 8-80 4-21 4 0.5 4 6 12 12 8 15.5 4-7 4-13 4-9.5 8-9.5 12-4.5 4-2 12-24 8-18.5 8-15.5 4-7.5 4-0.5 12 2.5 12 3.5 4 2.5 8 7 4 0 20-5 4 3 16 15 16 13.5 24 8 32 6.5 4 1.5 24 8.5 16 5.5 16 6.5 16 16.5 12 8.5 4 1 12 0.5 28 4.5 16 7 12 1 8 0 4 0.5 4 0 12-2.5 12-0.5 12-3 12-4.5 16-11 8 0 4-1.5 4-3 12-5.5 4-2 16-12 4-3.5 8-9.5 12-12.5 16-13 24-21.5 4-3 32-3.5 4-2 16-15.5 28-36.5 20-21 20-16 24-21.5"/><path d="M100 637l12 0 8-2.5 4-2.5 8-5 16-12 12-8.5 8-7.5 4-4 12-14.5 12-17.5 8-11 28-35 24-27 8-12 8-8.5 4 1 8 10 4-3 4-8 4-4 4 0 4-2 4 2.5 4-4.5 16-47.5 4-10.5 8-17.5 8-23 12-23.5 12-18.5 8-13.5 12-12 20-27 12-12.5 4 0.5 8 4.5 4 5.5 12 22.5 8 20 4-11.5 4-9 4-1.5 8 21 4-1.5 8-36.5 4-12 4-3 4 2 4 7 8 17 4-11.5 4-18 4-14 12-35 8-20.5 4-12.5 8-18 8-12 4-4 8-7 4-2 16-6 4 0 12 2 8 2 8-1 8 3 4 5.5 8 14.5 4 5.5 4 4 4 3 16 7.5 4 1 8 0.5 4 3.5 4 9.5 4 17.5 8 40.5 8 44.5 12 45.5 4 12 4 8.5 4 3.5 4 7 4 5 8 2.5 4-4 8-26 4-8 4-1.5 4 7.5 4 10 4 20.5 4 16.5 4 9.5 4 5 4-1 4-3 4-5.5 4-4 12 5.5 4-1 8-4.5 4 1 12 5 4-1 4-2.5 16-17 12-2.5 4-3.5 8-11.5 16-25.5 4-4 8-6 4-4.5 12-17.5 4-3.5 4-1.5 4-3 4 1 8 3.5 8 1.5 4 5.5 4 6.5 4 10 4 5.5 4 0.5 4-3 8-18 4-8 4-6 4-2.5 4 5.5 4 11 4 31.5 4 39.5 4-8.5 8-51.5 4-14 4 0 4 3 8 5.5 4 3.5 8-0.5 4-9.5 8-25.5 8-17.5 4-4.5 8-5.5 4-4 8-11.5 4-7.5 8-16 8-18.5 4-6.5 8-5.5 8 2 12 4.5 4 4 8 11 4 3.5 12-10 8-5 8 7 12 18.5 12 15 16 7 12 4.5 24 1.5 28 3.5 12 5.5 28 13.5 24 29.5 8 8.5 4 2 4 0.5 16 0 12 1 4 2 16 10.5 12 4.5 4 0.5 8-0.5 4-1.5 12-6 12-4.5 24-14 16-13 8-2 4-3 4-4 16-13.5 16-17 4-5 20-30 44-52 36-54 16-31.5 28-66 16-33 28-66 20-50"/><path d="M100 660l8 0 4-1 20-10.5 28-21 12-11.5 12-13 16-22 12-14.5 8-12.5 20-25.5 12-18 4-5 4-6 4-7.5 4-5.5 4-1 4 8 8 28.5 4-9 4-19 4-6 4-1.5 4 2 4 3.5 4-5 4-13.5 4-8 12-43.5 8-24 8-19 12-20.5 20-29 20-26 12-14 8-8 4-2.5 4 0 4 1 8 1 4 6 8 26 4 15.5 4 21.5 8-20.5 4 1.5 4 13.5 4 17.5 4-7 8-51 4-17.5 4-2.5 4 10 8 29 4 10 8-36 4-16 4-12 4-17 4-22.5 8-35.5 4-7.5 4-7.5 12-12 8-7 12-5 12-7 20-10 4-1.5 4 2 4 0.5 4 2.5 4 3.5 4 8.5 8 23.5 4 10 4 7 4 6 8 6 4 2 4 1 4 2.5 8 8 8 24.5 4 17.5 8 42 8 49 8 41 8 33 4 10.5 8 14.5 4 3 8-4 4-7 8-31 4-9.5 4-5.5 4 9 4 10.5 4 27.5 4 20.5 4 15.5 4 7.5 4-2 4-4 8-16.5 4 0.5 8 6 4-0.5 8-5 4-1 12 1.5 4-3 8-8.5 12-14 12-6.5 12-18 12-21.5 24-36.5 12-21 8-8.5 4 2.5 8 7.5 4 1.5 4 3 8 20 4 15.5 4 9.5 4 2.5 4-3 16-52.5 4-7 4 6.5 4 16 4 48.5 4 63.5 4-14.5 4-43.5 4-36.5 4-21.5 4 1 4 6 12 13 8 16 4-7 4-13 4-9 8-10 16-7 12-24 12-26 8-14.5 4-0.5 12 1.5 12 2.5 4 2.5 8 7 4 0.5 8 0 12-2 12 9.5 24 20.5 24 10 12 2.5 20 3 44 13 16 6.5 16 16 12 7.5 4 1 12 0.5 28 4.5 16 6.5 12 2 8 0 4 1.5 4 0 24-4 24-8.5 16-11 8 0 4-1 4-2.5 12-4 4-2 16-10.5 4-4 8-9.5 12-13 40-32 4-2.5 32-4.5 4-2 16-14.5 28-36 20-20 24-16.5 20-17"/><path d="M100 654.5l8 0 4-1 20-9 4-2.5 24-18.5 12-12 12-14 16-21.5 12-14 8-12.5 20-26 16-24 8-13.5 4-5.5 4-1.5 4 7 8 29.5 4-8.5 4-18 4-5 4-1 4 2.5 4 3.5 4-5 4-13.5 4-8.5 8-31 4-13 8-23 8-19.5 12-21 20-30 12-14 20-26 8-8.5 4-3 4 0 8 2 4 2 4 6.5 4 10.5 4 13.5 4 15.5 4 21.5 8-20 4 2 4 13 4 18 4-7 8-51.5 4-18 4-2.5 4 10 8 28 4 10 8-36 4-16.5 4-12 4-17 4-22.5 4-18 4-14.5 8-16 4-5.5 8-8 8-6.5 24-12 20-7.5 4-1 4 1 4 0 4 2 4 3 4 8 8 23.5 4 10 4 8 4 6 8 5.5 4 2 4 1 4 2.5 8 8.5 8 24.5 4 16.5 8 39 8 46 8 40.5 8 33.5 4 11 8 14.5 4 3 8-4 4-6.5 8-30 4-9 4-5 8 20.5 4 27 4 20.5 4 15 4 7 4-2 4-4 8-16.5 4 0 8 6 4-0.5 8-5.5 4-1 12 1.5 4-3.5 8-8 12-13.5 12-6 12-17.5 12-21.5 24-36.5 12-21.5 8-8.5 4 2 8 7.5 8 5 8 20 4 15 4 9 4 2 4-3.5 16-51.5 4-6.5 4 6.5 4 16.5 4 49 4 63.5 4-14.5 8-80 4-21.5 4 0.5 4 5.5 12 13 8 10.5 4-10 4-15.5 4-12 8-12 4-2 8-1 4-2.5 24-50.5 8-14 4-1 12 1.5 12 2 4 2 8 6.5 4 0.5 8-1 12-2.5 20 15.5 16 10.5 16 5 8 4 12 4.5 20 6 28 13.5 16 6.5 16 8.5 20 24 8 7.5 4 2.5 4 1 32 4 4 1.5 16 8.5 12 3 4 0 8 0 4-1.5 12-6 12-3 24-10 16-12 8-2 4-2.5 4-3.5 16-9 16-13 4-4.5 20-25 16-16 28-25.5 16-8.5 16-7 4-3 16-20 12-19 16-23.5 16-19.5 8-10.5 20-22.5 20-24.5"/><path d="M100 633l8-0.5 4-0.5 8-3.5 16-10 24-16.5 4-4 8-7.5 4-5 8-10 12-17.5 12-16.5 36-41.5 12-13.5 8-11.5 8-9 4-1 4 1.5 8 0 4-4.5 4-3.5 4 0 4-3.5 4 2 4-4.5 8-23 8-20.5 12-25 8-26 12-24.5 20-33 12-11.5 20-26.5 12-13 4 1 8 4.5 4 7 4 9 8 10.5 4 7.5 4 5 4-12.5 4-9 4-2.5 8 16.5 4 0.5 4-16.5 4-13.5 4-9.5 4-3 4-1 8 10.5 4 8 4-8 4-18 4-12.5 8-19.5 12-24 4-14 8-19.5 8-12 12-11 20-9 4 0 8 2.5 4 1.5 8 4 8-1.5 8 1.5 12 16 4 4 4 3 8 2.5 12 5.5 4 0.5 8-1.5 4 1 4 8 4 14 16 68 4 8.5 8 13 4 3 8-1 8 14.5 8 10.5 4-0.5 8-20.5 4-6.5 4 2 4 5.5 4 8.5 8 25.5 4 4.5 4 2.5 4 1 4-1.5 4-2.5 4 0.5 4 3 4 1 4-0.5 12-3.5 12 9 4 2 4 1 4-1 16-15 12 1.5 4-0.5 24-33 4-1.5 8 0.5 4-3 8-11 4-3 8 2.5 4-2 12-2.5 8-2.5 4 0.5 4 4 4 4.5 4 2 4-1.5 4-2.5 8-11 4-1.5 4-0.5 4 1 4 4.5 4 6 4 14 4 17.5 4-3.5 8-24 4-6 4 0 12 4.5 4 3 8-9 4-8.5 8-21 8-16 4-4.5 16-6 4-3 8-13.5 4-8 8-19 4-5 8-7 20 9.5 4 4.5 12 19 12-14.5 8-7.5 4 3 4 4 4 7 8 17.5 12 20.5 12 5.5 4 1 12 2 4-0.5 24-0.5 12-0.5 8-1 4 0.5 24 8 16 7.5 16 17.5 12 9.5 4 2.5 12 4 4 2 24 13 16 10.5 16 7 8 1.5 4-1 24-9.5 24-14 16-15.5 8-3 4-2.5 4-4 16-12.5 20-21 20-29 16-20 28-34 36-61.5 16-35 28-68.5 16-35.5 28-71.5 20-54.5"/><path d="M100 655.5l8 0.5 4-1 20-9 4-2.5 24-19 24-26 16-22 12-15.5 8-12.5 12-15.5 8-9 16-22 8-14 4-6 4-1.5 4 7 8 29.5 4-8.5 4-18.5 4-5.5 4-1 4 2.5 4 3 4-5 4-13 4-8 8-30 4-12.5 8-23 8-20 12-21.5 20-31 20-26 12-13.5 8-7.5 4-2.5 4 0.5 12 4 4 6 4 10.5 4 13 4 15 4 21.5 8-21 4 1 4 13 4 18 4-6.5 8-51 4-17.5 4-2.5 4 10 8 28.5 4 10.5 8-35.5 4-16 4-12 4-17 4-23 4-18 4-15.5 4-8 4-7.5 4-5 8-8 8-7 12-6.5 12-7.5 16-6 8-2 4 1.5 4 0.5 8 5.5 4 7.5 8 23.5 4 10 4 7.5 4 6.5 8 6 4 2 4 1 4 2.5 8 8.5 8 24.5 4 17 8 39.5 8 46.5 8 39.5 4 16.5 4 16 4 10.5 8 15 4 3.5 8-4 4-7 8-31 4-9.5 4-6 4 8.5 4 10.5 4 27 4 20 4 15 4 7.5 4-2 4-4 8-15 4 0.5 8 7.5 4-0.5 8-5 4-1.5 12 1.5 12-11.5 12-13 12-6 12-18.5 12-22.5 24-35.5 12-21 8-8.5 4 2 8 8 8 4.5 8 19.5 4 14.5 4 9 4 2 4-3.5 16-52.5 4-6.5 4 6.5 4 16 4 49 4 63.5 4-14 8-80 4-21.5 4 1 4 6 12 14 8 12 4-8.5 4-14 4-10 8-11.5 4-2.5 8-1.5 4-2.5 24-51.5 8-14 4-1 12 0.5 12 2 4 2.5 8 7.5 4 0.5 8-1 12-2 20 16.5 16 11.5 16 5 20 8 24 5 24 11.5 16 6 16 9 16 19 12 11.5 4 1.5 8 1.5 28 2.5 4 1 16 8 12 3 12 0 4-1 12-5.5 12-2.5 24-8.5 16-11.5 8-2 4-2 4-3 12-5.5 4-2.5 16-13.5 4-3.5 20-24.5 28-27 16-13.5 32-12.5 4-3 16-19 20-29.5 12-16.5 12-13.5 4-5.5 24-24 20-24"/><path d="M100 644.5l8-0.5 4-1 20-9.5 4-2.5 24-18.5 12-12 12-14 28-37 8-11.5 12-15 8-8.5 16-20.5 8-13.5 4-5 4-3 4 4 8 19 4-5 4-13 4-4 8-0.5 4 2.5 4-5 4-12.5 4-10 8-27 4-11.5 8-19.5 8-22 12-23 20-33.5 12-12.5 20-26.5 12-12 4 1 8 4 4 4.5 8 16 4 10 4 12.5 4 15 4-11.5 4-9.5 4 0 4 11.5 4 14 4-4 8-43 4-14.5 4-3 4 6 12 30 12-47 4-11 12-44 8-22.5 4-9.5 4-8 8-11 4-3.5 8-6.5 20-8.5 4-0.5 24 1.5 4 0 8 3 4 6.5 8 17 4 7 4 5.5 4 3.5 8 4.5 20 7.5 4 6.5 4 10 4 20 8 45.5 8 49.5 12 58.5 4 16 4 11 8 13.5 4 3.5 8-2 4-6 8-29.5 4-9 4-4 4 8 4 10.5 4 25 4 19 4 13 4 6.5 4-1.5 4-4 8-14 4 0.5 8 6 4-0.5 8-5 4 0 12 2.5 8-7 16-17 12-4 4-4.5 8-12 16-28 16-21.5 12-19 4-5.5 8-6.5 4 1.5 8 6.5 8 3.5 8 17 4 13 4 7.5 4 1.5 4-3 16-45.5 4-5.5 4 6 4 14.5 4 42 4 54.5 4-12.5 8-69 4-18.5 4 0 4 5 4 4 8 7.5 8 6 4-10 4-15.5 4-12 8-17.5 4-4.5 8-5.5 4-4.5 12-24 12-25.5 8-14.5 4-1.5 4-1 8 1 12 3 4 3 8 8.5 4 2 20-10.5 8 6 20 22.5 4 4.5 4 2.5 24 8.5 12 3 24 4.5 12 3.5 32 15 12 6.5 16 22.5 8 12.5 8 10.5 4 2.5 4 0 16-6 4-0.5 8 0 20 10.5 12 2 12 0.5 4-1 12-6 12-3.5 24-13.5 16-14.5 8-3 4-2.5 4-4 12-8 8-8 16-19 20-30.5 40-48.5 24-31.5 16-18.5 16-28 16-34 12-23.5 16-26 28-55.5 20-42"/><path d="M100 655.5l8 0 4-1.5 20-9.5 4-2.5 24-19 12-12 12-13.5 16-22.5 12-14.5 8-12.5 12-15 8-9.5 16-21.5 8-13.5 4-5 4-1.5 4 7.5 8 29 4-9 4-18.5 4-5.5 4-1.5 4 2 4 3 4-5 4-13 4-8 12-44 8-23.5 8-20 12-20.5 20-29 12-15 16-21.5 4-5 8-8.5 4-2.5 4 0 12 4.5 4 6.5 4 11 4 13 4 15.5 4 21.5 8-20.5 4 2 4 13 4 18 4-7 8-51 4-17.5 4-2.5 4 10 8 29 4 10 12-52 4-12 4-17.5 4-22.5 4-18.5 4-15.5 8-16 12-13.5 8-7 4-2 20-10 4-1.5 16-5 4-1 4 1.5 4 0.5 8 5.5 4 8 8 23 4 10 4 7 4 6 8 5.5 4 2 4 1 4 2.5 8 9 8 24 4 16.5 8 39.5 8 46.5 8 40.5 8 33.5 4 10.5 8 14 4 3 8-4.5 4-7 8-30 4-9.5 4-5.5 8 19.5 4 27 4 20.5 4 15 4 7.5 4-2 4-4 8-15 4 0.5 8 7 4-1 8-5.5 4-1.5 12 0.5 12-11.5 12-13.5 12-6 12-17.5 16-28.5 20-29.5 12-21 8-8.5 4 2 8 7.5 4 2 4 3 8 20 4 15 4 9.5 4 2 4-3.5 16-53.5 4-7 4 6 4 16 4 49.5 4 63.5 4-14 8-80 4-21 4 0.5 4 6 12 13 8 11 4-9.5 4-14 4-10.5 8-11.5 4-1.5 8-1 4-2.5 12-24.5 12-26.5 8-14.5 4-1 12 1.5 12 2.5 4 2.5 8 7 4 0.5 8-1 12-2.5 36 27.5 16 5.5 20 7.5 20 4.5 12 4 12 4.5 20 9 16 9 12 15 8 9 8 7 4 2 16 1.5 20 3.5 4 1.5 16 7.5 12 2 12 0.5 4-0.5 12-5 12-3 12-5 12-4.5 16-10 8-1.5 4-2.5 4-3.5 12-7.5 4-2.5 16-14 4-4 8-10.5 12-14 24-23.5 16-13.5 4-3 20-8.5 12-4 4-2.5 16-18.5 16-24 16-22 12-14 4-5.5 20-22.5 24-29.5"/><path d="M100 639.5l8-0.5 4-1 8-4 16-10 24-16 12-12 4-5 8-10 16-22 32-41 24-26 8-12 4-5 4-3.5 4 1.5 8 11 4-3 4-9.5 4-4 4-1 4-1.5 4 2 4-4.5 16-47.5 12-29 8-23 12-23.5 20-31.5 4-3 8-8 20-27.5 12-13 4 1 8 4.5 4 5.5 12 22 8 21 4-12 4-9 4-1.5 8 22 4-1.5 8-38 4-12 4-3 4 2.5 4 7.5 8 17.5 4-11.5 4-18 4-14 4-10.5 8-25.5 8-21.5 4-12.5 8-18 8-11 4-4 8-5.5 12-5 8-4 4-0.5 12 1.5 8 2 8 0 8 3 4 5.5 8 14.5 4 5.5 4 4.5 4 3 16 7.5 12 2 4 4 4 9.5 4 18 8 41.5 8 45.5 4 17 8 30.5 4 13 4 9 4 4 4 8 4 4.5 8 2.5 4-4 8-26.5 4-8 4-2 4 7 4 10 4 21 4 17 4 10.5 4 5 4-0.5 4-3.5 4-5.5 4-4.5 12 5 4-0.5 8-5 4 0.5 12 4 4-1.5 4-2.5 16-16 12-2 4-3.5 8-11.5 16-26.5 4-4 8-7.5 4-4.5 12-17.5 4-3.5 4-1.5 4-3 4 1 8 3.5 8 0.5 4 5.5 4 7 4 10 4 6 4 0.5 4-3 12-27 4-7.5 4-3 4 5.5 4 12 4 33 4 43 4-9.5 8-55 4-14.5 4 0.5 4 4 12 9.5 8 0 4-10 4-14.5 4-12 8-17.5 4-5 8-5 4-3.5 8-12.5 4-8 16-34.5 4-6.5 8-4 8 2.5 12 5 4 4 8 10.5 4 3.5 12-10 8-6 4 2.5 4 3 4 5.5 8 12.5 12 16 4 2.5 8 3 16 5 28 3 20 2 4 0.5 40 17.5 12 14.5 20 26.5 4 2.5 4 1 16-0.5 12 1.5 4 1.5 16 10 12 3.5 4 0.5 8-0.5 4-1 12-6 12-4 24-14 16-15 8-3 4-3 4-4.5 16-12.5 16-17 4-4.5 20-30 28-33 16-19.5 36-52 16-31 28-64.5 16-31 24-57.5 24-59.5"/><path d="M100 654.5l8 0 4-1 20-9.5 4-2.5 24-18 12-12 12-13.5 16-22.5 12-16 8-13 12-15 8-9 16-21.5 8-13.5 4-5 4-1.5 4 6.5 8 29.5 4-9 4-18 4-5.5 4-0.5 4 2 4 3.5 4-5 4-13 4-8.5 8-30.5 4-13.5 8-22.5 8-20.5 12-21.5 20-31 28-34.5 12-13 4-3 4 0 12 4.5 4 6.5 4 10.5 4 13 4 15.5 4 21.5 8-20.5 4 1.5 4 13 4 18 4-7 8-51.5 4-18 4-2.5 4 10 8 28.5 4 11 8-35.5 4-15.5 4-11.5 4-17 4-22.5 4-18 4-15 8-17 4-5.5 8-9 8-7 24-11.5 16-5.5 8-2 4 1.5 4 0.5 8 6 4 7.5 8 22.5 4 9.5 4 7 4 5.5 8 5.5 4 2 4 1 4 2.5 8 8.5 8 24.5 4 16.5 8 40.5 8 47.5 8 41 8 33 4 10 8 14.5 4 2.5 8-3.5 4-7 8-30 4-9.5 4-5.5 4 9 4 10.5 4 27 4 20 4 15 4 7.5 4-2 4-4 8-16 4 0.5 8 6.5 4-0.5 8-6 4-1 12 2 4-3 8-7.5 12-13.5 12-6.5 12-18 12-21.5 24-37 12-20.5 8-8.5 4 2 8 7 4 2 4 2.5 8 20 4 15 4 9 4 2 4-3 16-53 4-6.5 4 6.5 4 16.5 4 49 4 64 4-14 8-80 4-21.5 4 0.5 4 6 12 11.5 8 10.5 4-10 4-16 4-10.5 8-11.5 4-1.5 8-1 4-2 24-51 8-14 4-1 24 2 4 2 8 7 4 0 8-1 12-3 4 3 20 18 12 8 16 4 20 8.5 24 7.5 40 18 16 8 20 24.5 8 8 4 2.5 8 1.5 28 2.5 4 1.5 16 9 12 3 4 0 8-0.5 4-1.5 12-7.5 12-3 24-8 16-12 8-2 4-2.5 4-3.5 16-9 16-13 4-4 20-25 16-16 24-22.5 4-3 4-2 28-11 4-2.5 16-20 32-47.5 12-14.5 4-6 20-22.5 24-30.5"/><path d="M100 660.5l8 0.5 4-1 8-3.5 12-7 4-2.5 24-21 20-20.5 4-4 16-21.5 12-14.5 8-12.5 20-25.5 12-18 4-5.5 4-6 4-8 4-5 4-1 4 8.5 8 29.5 4-8.5 4-18.5 4-6 4-1.5 4 2 4 3.5 4-5.5 4-13 4-8 12-43 8-23.5 8-19 12-21 20-31 20-26 12-13.5 8-8 4-3 4 0 4 1 8 1.5 4 6.5 8 25.5 4 15.5 4 21.5 8-20.5 4 1.5 4 12.5 4 17.5 4-7 8-52 4-18 4-3 4 10.5 8 29 4 10.5 8-35 4-16 4-11.5 4-17 4-22 8-35 8-14.5 12-13 8-6.5 12-6 12-7 20-9.5 4-1 4 1.5 4 0 4 2.5 4 3.5 4 8 8 23.5 4 10 4 7.5 4 6.5 8 6 4 2 4 1 4 3 8 9 8 24.5 4 17.5 8 40.5 8 48 8 40.5 8 33 4 10.5 8 14.5 4 3 8-4 4-7 8-30 4-9 4-5.5 8 20 4 27 4 20.5 4 14.5 4 7 4-2 4-4.5 8-16.5 4 0.5 8 6.5 4-0.5 8-5 4-1 12 2 4-3.5 8-8 12-14 12-6.5 12-17.5 12-21 24-36 12-22 8-8.5 4 2 8 7.5 8 4.5 8 20 4 14.5 4 9.5 4 2 4-3 16-52.5 4-6.5 4 6.5 4 16 4 49.5 4 63.5 4-14 8-80.5 4-21.5 4 0.5 4 6 12 13 8 16.5 4-7.5 4-13 4-9.5 8-10 16-7.5 12-24 8-18 12-22 4-1 12 1.5 12 3.5 4 2.5 8 7 4 0.5 8-0.5 12-2.5 20 17 16 12.5 24 10.5 36 7.5 40 12 16 6 16 16 12 8.5 4 1.5 20 2 20 0.5 4 1.5 12 5.5 12 2 8 0 4 1 4 0 12-1.5 12-0.5 16-4 8-3 16-10.5 8-0.5 4-1.5 4-3 16-6 8-5.5 8-6 4-3.5 8-10 12-13.5 40-32.5 4-2.5 32-4.5 4-2 16-15.5 28-36.5 4-4 12-11 4-4.5 24-18 20-18"/><path d="M100 655l8 0 4-1 8-3 12-6.5 4-2.5 24-18.5 8-8.5 16-18 16-22.5 12-14.5 8-12 12-15.5 8-9 16-22 8-13.5 4-5.5 4-2 4 7 8 28.5 4-8.5 4-19 4-5 4-1 4 2 4 3.5 4-5 4-13 4-8.5 8-30 4-13 8-22 8-20 12-21 20-30.5 28-35 12-12.5 4-2.5 4 0 12 4 4 6.5 4 10 4 13 4 15 4 21.5 8-20 4 1.5 4 13.5 4 18 4-7 8-51.5 4-17.5 4-2.5 4 10 8 28 4 10 8-36 4-16 4-11.5 4-17 4-22.5 4-18 4-15 4-8.5 4-7.5 4-5 8-8.5 8-7 16-7.5 8-5.5 16-6 8-2 4 1.5 4 1 8 5.5 4 8 8 24 4 9.5 4 7.5 4 5.5 8 5.5 4 2 4 1 4 2 8 8 8 24 4 16.5 8 39.5 12 67.5 8 37 4 16 4 10.5 8 15 4 3 8-3.5 4-7 8-30.5 4-9 4-6 4 9 4 10.5 4 27 4 20.5 4 15 4 7.5 4-2 4-4 8-15.5 4 0.5 8 6.5 4-1 8-5.5 4-1 12 1 8-7.5 16-18.5 12-5 12-17 12-22 24-37 12-20.5 8-8 4 2 8 8 8 4.5 8 20 4 14.5 4 9 4 2 4-3.5 16-53.5 4-6.5 4 6.5 4 16 4 49 4 63.5 4-14 4-43.5 4-36 4-21 4 0.5 4 6 12 12.5 8 11 4-10 4-16 4-10.5 8-12 4-2 8-1.5 4-2 24-50 8-14 4-0.5 12 1 12 2.5 4 2 8 7 4 0 8-1.5 12-3.5 8 5.5 28 22.5 36 13 24 6.5 32 13 8 4.5 16 10 12 15.5 8 9.5 8 7.5 4 2 4 0.5 20 0.5 12 1.5 4 1.5 16 9 12 3 12-0.5 4-1 12-5.5 12-2.5 24-10.5 16-10.5 8-1.5 4-2 4-3 12-7 4-2.5 20-19 20-25.5 24-24.5 16-14 4-3 32-13.5 4-3 16-19 28-41.5 4-5.5 12-13.5 4-5.5 20-22 24-30.5"/><path d="M100 646.5l8 0 4-0.5 8-3.5 12-7 28-21.5 12-12 12-14 16-22 12-14 8-11.5 36-45.5 8-13 4-5 4-3 4 4 8 20 4-6 4-13.5 4-4.5 4-1 4 0.5 4 3 4-5 4-12.5 4-9.5 8-27.5 4-11.5 16-42 12-22.5 20-31 12-13.5 20-27 12-12.5 4 0.5 8 4.5 4 4.5 8 17 4 11 4 13 4 15.5 8-21.5 4-0.5 4 11 4 14.5 4-5 8-44.5 4-15 4-2.5 4 6.5 8 22 4 9.5 12-48 4-11.5 12-46 8-22.5 4-8.5 4-7.5 8-10 4-3.5 8-6 20-10 8-0.5 12 0.5 8 1 4 0 8 4 4 6.5 8 18.5 4 7.5 4 5.5 4 4 8 4 12 4 8 3.5 4 7 4 10 4 20 8 44.5 8 50.5 8 42 8 34 4 11.5 8 13.5 4 3.5 8-2 4-6 8-29.5 4-9 4-4.5 4 8 4 10 4 25 4 19 4 13.5 4 6.5 4-1.5 4-4 8-14 4 0.5 8 5.5 4-0.5 8-5.5 4 0 12 3.5 8-5.5 16-17.5 12-6 12-18 16-28 16-21 16-24.5 8-7.5 4 2 8 6.5 8 3.5 8 17 4 13.5 4 7.5 4 1.5 4-3 16-46.5 4-5.5 4 6 4 15 4 44 4 56.5 4-13 8-72 4-19 4 0 4 5.5 4 4 16 14.5 4-10 4-15.5 4-12.5 8-16.5 4-4 8-4.5 4-4 28-59.5 4-7 4-1.5 4-0.5 20 3.5 4 2.5 8 8 4 1.5 20-8.5 8 6.5 12 14 8 8 4 3.5 4 2.5 44 13.5 28 6.5 4 1.5 28 13.5 12 7 16 22 8 13 8 11 4 2.5 4 0 16-4.5 12-1.5 4 2 16 8.5 12 2 4 0 8-1 4-1.5 12-6 12-3.5 12-5 12-6.5 16-15.5 8-3 4-2.5 4-4 12-8.5 4-3.5 16-16.5 4-5 20-29.5 28-35.5 24-29 24-25 4-4.5 16-27 28-56 16-26.5 4-7.5 20-38 24-49"/><path d="M100 653l8 0 4-1 20-8 4-2.5 24-19.5 12-13 12-14.5 16-22 12-14 8-11.5 20-24 16-22.5 8-14 4-5.5 4-1.5 4 6.5 8 29.5 4-8.5 4-18.5 4-5 4-1.5 4 2 4 3 4-5 4-13.5 4-8.5 8-30.5 4-13 8-22 8-20 12-21 20-31 12-14 20-25.5 8-8.5 4-3.5 4 0 8 2 4 2 4 6.5 4 10 4 13 4 15.5 4 22 8-20 4 2 4 13 4 18 4-7 8-51 4-17.5 4-2.5 4 10.5 8 28.5 4 10.5 8-36 4-16 4-11.5 4-17 4-22 4-18 4-14.5 4-9 4-8 4-5.5 8-9.5 4-4 4-3.5 4-2.5 20-10 24-5.5 4 1 4 0 8 5 4 7.5 8 23.5 4 10 4 7.5 4 6 8 5 4 2 4 0.5 4 2 8 7.5 8 23.5 4 17 8 41 8 48 8 41 8 33.5 4 10.5 8 14.5 4 2.5 8-3.5 4-7 8-30 4-9 4-5.5 4 9 4 11 4 27 4 20.5 4 15 4 7 4-2 4-4.5 8-16.5 4 0 8 6.5 4-0.5 8-5 4-1 12 2 8-7.5 16-18 12-6 12-18.5 12-21 24-36 12-21.5 8-8.5 4 2 8 8 4 2.5 4 3 8 20 4 15 4 9 4 2.5 4-3.5 16-52.5 4-6.5 4 6.5 4 16.5 4 49 4 63.5 4-14 8-80 4-21.5 4 0.5 4 6.5 12 13 8 10.5 4-10 4-16.5 4-12.5 8-16.5 4-3.5 8-1 4-2.5 24-50 8-14.5 4-1 12 1 12 1.5 4 2 8 7 4 0 8-1 12-3.5 8 6 16 13.5 12 9 16 4.5 20 7.5 20 6 4 1.5 40 21.5 16 9.5 20 24.5 8 8 4 2.5 8 1.5 28 3.5 4 1 16 9 12 3.5 4 0.5 8-0.5 4-1.5 12-6 12-3.5 12-6 12-5.5 16-12 8-1.5 24-16 20-19.5 20-24.5 40-39.5 4-3.5 32-18 4-3 16-20 28-46.5 4-6 16-20.5 20-23.5 24-33"/><path d="M100 661.5l8 0 4-1 20-9.5 8-5.5 20-17.5 24-26 16-21.5 12-13.5 8-12.5 20-25 20-30.5 4-7.5 4-5.5 4-0.5 4 8 8 29.5 4-8.5 4-19 4-5.5 4-1 4 2 4 3 4-5 4-13.5 4-8.5 12-44 8-24.5 8-19.5 12-20.5 20-29 20-25 12-13.5 8-8 4-2.5 4-1 4 1 8 0 4 6 4 12 8 29.5 4 22 8-20 4 1.5 4 13 4 18 4-7 8-51 4-18 4-2.5 4 10.5 8 28.5 4 10.5 8-35.5 4-16.5 4-11.5 4-17.5 4-22.5 8-36 4-8 4-7 4-4.5 8-7 8-6 12-5.5 12-8 20-10.5 4-1.5 4 2 4 0.5 4 2.5 4 3.5 4 8.5 8 24 4 10 4 8 4 6 8 6 4 2 4 1 4 2.5 8 8 8 24.5 4 17.5 8 42 8 49 8 40.5 8 33 4 10 8 14.5 4 3 8-4 4-7 8-31 4-9 4-6 4 8.5 4 11 4 27 4 20.5 4 15 4 8 4-2 4-4 8-16 4 0.5 8 7 4-0.5 8-5.5 4-1.5 12 2 12-11 12-13 12-6.5 12-19.5 12-22.5 24-35.5 12-21 8-8.5 4 2.5 8 8 8 5.5 8 20 4 14.5 4 9 4 1.5 4-3.5 16-53.5 4-7 4 7 4 16.5 4 49.5 4 63.5 4-13.5 8-80 4-21.5 4 0.5 4 6 12 13 8 17 4-7 4-13 4-9.5 8-9.5 16-7 12-24 12-26.5 8-14.5 4-0.5 12 2 12 2.5 4 2.5 8 7 4 0.5 8-1 12-2.5 4 2.5 20 17.5 12 9.5 16 4.5 8 4 12 3.5 24 5 16 5.5 28 8 12 4.5 16 17 12 8.5 4 1 12 0 28 2.5 16 7 12 1.5 8-0.5 4 1 4 0 12-1.5 12-0.5 16-4.5 8-3 16-11 8 0.5 4-1 4-2.5 12-3.5 4-2 16-12 4-3.5 16-19 8-7.5 12-9.5 28-20.5 32-4.5 4-2 16-15 20-26.5 12-14 12-10.5 4-4.5 24-17 20-17.5"/><path d="M100 648.5l8-0.5 4-1 20-9.5 12-8 16-12.5 12-12 12-13.5 28-36 12-17.5 8-10.5 8-9 16-21.5 8-13.5 4-5 4-2 4 5 8 24 4-7 4-16 4-5 4-1 4 1 4 3 4-5 4-13 4-9 8-28.5 4-12.5 16-41.5 12-21.5 12-18 8-13 12-14 8-11 12-15 12-11.5 4 0.5 8 3 4 3 4 7 4 9 4 11.5 4 14 4 18.5 8-20.5 4 0.5 4 12.5 4 16.5 4-5.5 8-47.5 4-16 4-2.5 4 8.5 8 24.5 4 9.5 12-51 4-11.5 4-16 4-19.5 4-15.5 4-12.5 4-10 4-8.5 4-6.5 8-9.5 8-7 4-2.5 20-10 4-1 16-1.5 12 0.5 8 4 4 6.5 8 20 4 8 4 6.5 4 4.5 12 6.5 8 3 8 5 4 8.5 4 11 12 65.5 8 50.5 4 21.5 4 20.5 8 35 4 11 8 13.5 4 3 8-3.5 4-7 8-30 4-8.5 4-5 4 9 4 10.5 4 26.5 4 20 4 14.5 4 7 4-2 4-4 8-15 4 0.5 8 6.5 4-0.5 8-5 4-1 12 1.5 8-7.5 16-18 12-6.5 12-18 12-20.5 24-34 12-21 8-8.5 4 2 8 7 8 4 8 19 4 14 4 8.5 4 2 4-3 16-49.5 4-6 4 6 4 15.5 4 47 4 60.5 4-13.5 8-75.5 4-20 4 0.5 4 6 12 11.5 8 9 4-10.5 4-15.5 4-12.5 8-16 4-3.5 8-4 4-4 20-44.5 8-16.5 4-7 4-1.5 4-0.5 8 0.5 12 2.5 4 2.5 8 7.5 4 0.5 20-6.5 8 6.5 16 16.5 8 7 4 2.5 20 5 40 13 16 7 36 17.5 4 2.5 4 5 12 16.5 8 12.5 4 5.5 4 4 4 1.5 8 1 16-2.5 8 0 20 10 12 2 4 0 8-1.5 4-1.5 12-7 12-3 24-11 16-13 8-3 4-3 4-4.5 16-12 20-22 20-29 40-46 16-15.5 20-17 4-4 16-25 28-52 16-24.5 12-20.5 16-26 20-35"/><path d="M100 647.5l8 0.5 4-1 8-3.5 12-7 16-13.5 12-9 12-11 12-13.5 16-23.5 12-15 8-12 36-43.5 8-13 4-5.5 4-2.5 4 4 8 20.5 4-6 4-14 4-5 4-0.5 4 0 4 3 4-5 4-12.5 4-9 12-39 16-43.5 12-22.5 20-30.5 12-12.5 20-26 12-12 4 0.5 8 3.5 4 3.5 8 15.5 4 10 4 13 4 16.5 8-20.5 4 0.5 4 11.5 4 15 4-4 8-45 4-14.5 4-3 4 6.5 8 22 4 9 12-49 4-11.5 12-46 8-22.5 4-9.5 4-7.5 8-10 4-4 8-5 12-5 8-4 4-1 16 0 8 1 4 0 8 4 4 6.5 8 18 4 7 4 5.5 4 4 12 6.5 8 3.5 8 5 4 7.5 4 10 12 64.5 8 48.5 8 40.5 8 34.5 4 11.5 8 14 4 3.5 8-2 4-6.5 8-28.5 4-9 4-4.5 4 9 4 10.5 4 25 4 19.5 4 13 4 6.5 4-2 4-4 8-14.5 4 1 8 6 4 0 8-4.5 4-0.5 12 2.5 8-6.5 16-18.5 12-5 12-17 16-27.5 16-21.5 16-25.5 8-7.5 4 1.5 8 6.5 8 3.5 8 17.5 4 13.5 4 8 4 1.5 4-3.5 16-47 4-5.5 4 6.5 4 14.5 4 44.5 4 56.5 4-12.5 8-72.5 4-19 4 0.5 4 5.5 4 4 16 14.5 4-10.5 4-15.5 4-12 8-16 4-4 8-5 4-4 20-43.5 8-16 4-6.5 4-1.5 4-0.5 20 4.5 4 3 8 7.5 4 1.5 20-8.5 8 6.5 12 12 8 7 4 3.5 4 2.5 32 10 24 6 20 6.5 24 10 16 10 16 22.5 8 13 8 11 4 3 4 0 16-4.5 12-1.5 4 1.5 16 8 12 2 12 0 4-1.5 12-6.5 12-3.5 24-12.5 16-14 8-3 4-3 4-4.5 16-12.5 20-22.5 20-28 16-19 28-35.5 16-19 20-20 16-26.5 28-55.5 16-26 24-44.5 24-48.5"/><path d="M100 635.5l8 0 4-0.5 8-3.5 16-10 24-18 12-12 4-5 8-10.5 8-11.5 12-16.5 28-34 24-26 8-11 8-9 4 0 8 6 4-1 4-6.5 4-3.5 4 0 4-2.5 4 2.5 4-4.5 16-46 12-27.5 8-24.5 12-23.5 20-32 4-3.5 8-8 20-28.5 12-13.5 4 1 8 5 4 6.5 4 9 8 13 8 16.5 4-12 4-9.5 4-2.5 8 18.5 4-1 8-34 4-10.5 4-3 4 0.5 4 6 8 15.5 4-9.5 4-18 4-13 12-30.5 8-18 4-13 8-19 8-11.5 12-11 20-10.5 4 0 8 2 4 1.5 8 4 8-1 8 1.5 4 5 8 12.5 4 5 4 3.5 20 10 4 1 8-0.5 4 2.5 4 8.5 4 15.5 8 37 8 40 8 24.5 4 11 4 8.5 4 5 4 2 4 8 4 5.5 8 6.5 4-2 8-23.5 4-7.5 4 0 4 6.5 4 9 4 17.5 4 14.5 4 7.5 4 4.5 4 0 4-2.5 4-4 4-1.5 4 2.5 4 1.5 4 1 4-1 8-3.5 12 6 4 1 4-0.5 4-2 16-16.5 12-0.5 4-2 8-10.5 16-24.5 4-3 8-3.5 4-4 8-12 4-4.5 4-1.5 4-0.5 4-2 4-0.5 8 1.5 8 0 4 3.5 4 5.5 4 7.5 4 4 4-0.5 4-3 8-15 4-5 4-4 4-0.5 4 5.5 4 9 4 24.5 4 30.5 4-6.5 8-40 4-10.5 4 0 4 3 8 4.5 4 3 8-4.5 4-9.5 8-24.5 8-17.5 4-5 8-5 4-3 8-9 8-14.5 12-25.5 4-5 8-5.5 20 7 4 4 8 12 4 4.5 12-12 8-6.5 8 6.5 4 6 8 15 12 17.5 12 6.5 16 5 24 0 24 1 4 0.5 28 11.5 12 6 24 27 8 7.5 4 2 20 4 12 3 8 4 12 8 12 4.5 4 1 8 0.5 4-1.5 12-5.5 12-4 24-13 16-14.5 8-3.5 4-3 4-4.5 16-12 16-17.5 4-5 8-12.5 12-16.5 44-53.5 16-24.5 20-32 16-33 28-66.5 16-33.5 28-69.5 20-52.5"/><path d="M100 657.5l8 0 4-1 8-4 12-6.5 28-22.5 12-12 12-13.5 16-21.5 12-14 8-12.5 12-15.5 8-9 16-22.5 8-13.5 4-5.5 4-1.5 4 7.5 8 29 4-9 4-18.5 4-5.5 4-1 4 2.5 4 3.5 4-5 4-13 4-8.5 12-44.5 8-23.5 8-19.5 12-21 20-30.5 28-35 12-13 4-2.5 4 0 12 4 4 6 8 24.5 4 15.5 4 21.5 8-20 4 1.5 4 13.5 4 18 4-7 8-51.5 4-17.5 4-2.5 4 10 8 28.5 4 10.5 8-35.5 4-16.5 4-12 4-17 4-22.5 4-18.5 4-15.5 4-8.5 4-7 4-5 8-8.5 8-6.5 12-6 12-6.5 20-8.5 4-1.5 4 1.5 4 0.5 4 2.5 4 3.5 4 8 8 23.5 4 10 4 7.5 4 6 8 6 4 2 4 1 4 2.5 8 8.5 8 24.5 4 17 8 40.5 8 46.5 8 40 8 31.5 4 10 8 14.5 4 3 8-3.5 4-7 8-30 4-9 4-5.5 8 19.5 4 27 4 20.5 4 14.5 4 7.5 4-2 4-4.5 8-15.5 4 0.5 8 6.5 4-0.5 8-5 4-1 12 1.5 8-7 16-18 12-5.5 12-18.5 12-22.5 24-37.5 12-21.5 8-8 4 2.5 8 8 8 5 8 20 4 15 4 9 4 2 4-3 16-53 4-6.5 4 6.5 4 16 4 49.5 4 63.5 4-14 8-80.5 4-21 4 0.5 4 6 12 13 8 14 4-8.5 4-13.5 4-10.5 8-11 4-2 8-2 4-2 12-23 8-18 12-22 4-0.5 12 1 12 3 4 2.5 8 7 4 0 8-0.5 12-2.5 36 26.5 16 6 8 3.5 12 4.5 24 6 40 16 16 7.5 16 18.5 12 10 4 1.5 16 1 20 2.5 4 1.5 16 7 12 1.5 8 0 4 0.5 4-0.5 12-4 12-2 24-8.5 16-11 8-1 4-2 4-3 12-5.5 4-2.5 20-17 20-23.5 12-12 32-27.5 16-5.5 16-4 4-2.5 16-17 28-39 4-5 12-12.5 4-5 24-23 20-22"/><path d="M100 647l8 0 4-1 8-3.5 12-6 28-21 12-11.5 12-14 16-23 12-15 8-12 20-24 16-21 8-12.5 4-5 4-2 4 5 8 22 4-6.5 4-15 4-5 4-0.5 4 0.5 4 3.5 4-5 4-13 4-9 12-40.5 16-43 12-21.5 12-18 8-13 12-13.5 20-27 12-12.5 4 0.5 8 3.5 4 3.5 4 7.5 8 20.5 4 13.5 4 17 8-20.5 4 0.5 4 12 4 16 4-5 8-46 4-15.5 4-2.5 4 7.5 8 24 4 9.5 8-34.5 4-15.5 4-12 12-48.5 4-12 8-19 4-7.5 8-10 4-4 8-6 20-11.5 4-1 4 0 12 0.5 8 1 4 0 8 3.5 4 7 8 19 4 8 4 6.5 4 4.5 8 5 12 5 8 4.5 4 8 4 10.5 12 65.5 8 49.5 8 41 8 34 4 11 8 14 4 3.5 8-2.5 4-6 8-29.5 4-8.5 4-5 4 9 4 10.5 4 26.5 4 19.5 4 14 4 7 4-2 4-4.5 8-15 4 0.5 8 6 4-1 8-5.5 4-1 12 2.5 8-6.5 16-17.5 12-5 12-18 16-27.5 20-28.5 12-19.5 8-7 4 2 8 7 8 3.5 8 18 4 13.5 4 8.5 4 1.5 4-3 16-49 4-6 4 6.5 4 15.5 4 45.5 4 59 4-13 8-74.5 4-19.5 4 0.5 4 5.5 20 19.5 4-10.5 4-15.5 4-12.5 8-16 4-4 8-4.5 4-4 28-60.5 4-7 4-1.5 4-0.5 4 1 16 5.5 4 3 8 7.5 4 0.5 20-8.5 8 5.5 12 11.5 12 10.5 4 3 24 9.5 12 3 20 4 12 3.5 8 3.5 12 7 16 8 12 7 16 23.5 8 12.5 8 10 4 2 4 0 20-5 8-0.5 4 1.5 16 10 12 2 4 0.5 8-1.5 4-2 12-7.5 12-4 24-10.5 16-14 8-3 4-3 4-4 16-13 20-22 20-28.5 20-24.5 24-27 32-31.5 4-5 16-27 16-30.5 12-21.5 16-25 16-30 32-57.5"/><path d="M100 641.5l8 0 4-1 8-3.5 12-6 28-20.5 4-3.5 8-8.5 12-15 12-16.5 16-20 20-27 16-20 8-9.5 8-11.5 4-4.5 4-3.5 4 2.5 8 14.5 4-4 4-10.5 4-4 8-1 4 2.5 4-5 4-12.5 4-10.5 8-25 12-30 8-22.5 12-23.5 20-31.5 12-12 20-28.5 12-14 4 0.5 8 4.5 4 6 8 16.5 4 9.5 8 24 4-11.5 4-9.5 4-1 4 10 4 12 4-3 8-40 4-13 4-2.5 4 4 12 27 4-13 4-17.5 4-14.5 4-10.5 8-27 12-34.5 8-17.5 8-11.5 4-4.5 8-6.5 20-9.5 4 0 4 0.5 16 3 8 0 8 3 4 6 8 15 4 6.5 4 4.5 4 2.5 12 6 16 5.5 4 5.5 4 9.5 4 19 8 42.5 8 47.5 8 36.5 8 31.5 4 11 4 5 4 7.5 4 4 8 0 4-5 8-28 4-8.5 4-3 4 7.5 4 10.5 4 22.5 4 18 4 11.5 4 6 4-1 4-4 8-12 4 1 8 5 4-0.5 8-4.5 4 0.5 12 3.5 4-2 4-3 16-17 12-4.5 4-4.5 8-11.5 16-26 12-12 4-5.5 12-18 4-5 8-6 4 1 8 4.5 8 2 8 14.5 4 11.5 4 6.5 4 0.5 4-3 12-30.5 4-8.5 4-4 4 5.5 4 13 4 37.5 4 48 4-10.5 8-60.5 4-16 4 0.5 4 4.5 12 9.5 8 2.5 4-10.5 4-15 4-12.5 8-17.5 4-4.5 8-4.5 4-4 12-22 16-35 4-6 8-3.5 20 6 4 3.5 8 9.5 4 2.5 12-8.5 8-5 8 6 4 4.5 8 11.5 8 10 4 4.5 4 2.5 8 3 16 4.5 20 3.5 20 5 12 2.5 20 7.5 8 3.5 12 7 24 31 8 10 4 2.5 4 0 16-2 12 1 4 1.5 16 9.5 12 3 4 0 8-0.5 16-7 12-3 24-13 16-14.5 8-3 4-3 4-4 12-9.5 4-4 16-17 4-4.5 20-30 40-50.5 16-23 24-32 16-30.5 28-61.5 16-30 24-54.5 24-58.5"/><path d="M100 633l8 0 4-0.5 8-3 16-9.5 24-17 4-3.5 8-8 4-5 8-10.5 12-17.5 12-16 24-28.5 24-26 8-12 8-9.5 4-0.5 8 3.5 4-0.5 4-5 4-3.5 4 0 4-3 4 2 4-5 16-45 12-25.5 8-24.5 12-24 12-18.5 8-13.5 12-12 20-27 12-13 4 1 8 5 4 6.5 4 9.5 8 11 4 8 4 6 4-12.5 4-9 4-3 8 17.5 4 0 4-17.5 4-15 4-10 4-3 4-0.5 8 12 4 8 4-9 4-18 4-13 8-20 12-26 4-14 8-18.5 8-11.5 12-10 20-9.5 4 0 8 2.5 4 1.5 8 4.5 8-1.5 8 2 4 4.5 8 12 4 4.5 4 3.5 8 3 12 6 4 0.5 8-1 4 1.5 4 8.5 4 15 16 72 4 10.5 8 18 4 6 4 3 4 1 4 8 4 7 8 8.5 4-1.5 8-22.5 4-7.5 4 0.5 4 5.5 4 8 8 28 4 6 4 3.5 4 0 4-1.5 4-3.5 4-0.5 4 2.5 4 1.5 4 0.5 4-1 8-3 12 8.5 4 1.5 4 0 4-1 16-16.5 12 0.5 4-1.5 8-10.5 16-22.5 4-2.5 8-1.5 4-3.5 8-12 4-4 4-0.5 4 0.5 4-2 4-0.5 8 0.5 8-1 4 2 4 5 4 6.5 4 3 4-1 4-3 8-13 4-4 4-2 4 0 4 4.5 4 7.5 4 19.5 4 24.5 4-5.5 8-32 4-8.5 4 0 12 5.5 4 3 8-6.5 4-9 8-23 8-17 4-4.5 12-6 8-6.5 8-13.5 12-26.5 4-5.5 8-6.5 20 9 4 5 4 6.5 8 11.5 12-13.5 8-6 8 7 4 6 8 15.5 12 17.5 12 5.5 16 4.5 4-0.5 32 1.5 12-0.5 4 0 24 9 16 8 16 18 16 13.5 4 1.5 16 5 16 6.5 4 1.5 16 10.5 12 4 4 1 8-0.5 16-5.5 12-3 4-2 20-10.5 16-16 8-3.5 4-3 4-4 16-11.5 16-16 4-5 20-29.5 44-53.5 20-31.5 16-26.5 16-34 28-68 16-35 24-61.5 24-63.5"/><path d="M100 645l8 0.5 4-0.5 8-3.5 4-2.5 8-5 16-13 12-9 12-11.5 12-13.5 16-21.5 12-15 8-11.5 12-15.5 24-30 8-12.5 4-5 4-2.5 4 4 8 19.5 4-5 4-13 4-4 4-1 4 0.5 4 2.5 4-5 4-12.5 4-9.5 8-27 4-11.5 8-20.5 8-22 12-23.5 20-32.5 12-12 20-26 12-12 4 1 8 4 4 4.5 8 15.5 4 9.5 4 12.5 4 15 8-21 4 0 4 11.5 4 14.5 4-4 8-44 4-14.5 4-3 4 6 8 21 4 9 12-48 4-11.5 12-44.5 8-22.5 4-9 4-7.5 8-10.5 4-4 8-6.5 20-9.5 8 0 20 2 4 0 8 3.5 4 6 8 17.5 4 7 4 5 4 4 8 4.5 20 8 4 7 4 10 4 19.5 8 45 8 50 8 41 8 34 4 11.5 8 13.5 4 3.5 8-2 4-6.5 8-29.5 4-9 4-4 4 8 4 10.5 4 25.5 4 19.5 4 13.5 4 7 4-1.5 4-4 8-14.5 4 0.5 8 5 4-0.5 8-5 4-0.5 12 3 8-6.5 16-17.5 12-5 12-17 16-27 16-20 16-25 8-7 4 1.5 8 6.5 8 3.5 8 17.5 4 13 4 7.5 4 1.5 4-3 16-45.5 4-5.5 4 6 4 14.5 4 42.5 4 55 4-12.5 8-70.5 4-18.5 4 0.5 4 5 4 4.5 8 8 8 7 4-10 4-16 4-12.5 8-17.5 4-4.5 8-5.5 4-4.5 28-59 4-7 4-1.5 4-1 8 1.5 12 3 4 2.5 8 9 4 2 20-9.5 8 6 20 21.5 4 4 4 2.5 44 13.5 28 7.5 28 11.5 16 9.5 16 22 8 12.5 8 11 4 3 4 0 16-5 4-0.5 8-0.5 4 1.5 16 9 12 2.5 4 0 8-1 4-1 12-6.5 12-4.5 24-13 16-14 8-3 4-2.5 4-4.5 12-9 4-3.5 16-17 4-4.5 20-29.5 64-79.5 12-13 4-5 16-27 28-56.5 16-28 24-47.5 24-49"/><path d="M100 653l8 0 4-1 20-8.5 8-6 20-16.5 12-12.5 12-14 16-21.5 12-14 8-12.5 12-15.5 8-9 16-21 8-13.5 4-5.5 4-2 4 6.5 8 29 4-9 4-18.5 4-5.5 4-1.5 4 2 4 3 4-5 4-13 4-8.5 8-30 4-13 8-22 8-20.5 12-22 20-30.5 12-13 20-26 8-8.5 4-3 4 0 8 3 4 2 4 6.5 4 10 4 12.5 4 15.5 4 21.5 8-20 4 2 4 13 4 18.5 4-7 8-51.5 4-18 4-2.5 4 10 8 28.5 4 10.5 8-35.5 4-16 4-12 4-17 4-22.5 4-18 4-14.5 4-9 4-8 4-6 8-9 4-3.5 4-3.5 4-2 12-4.5 8-4 24-6.5 4 1 4 0 8 4.5 4 7.5 8 22.5 4 10 4 7 4 6 8 6 4 2.5 4 1 4 2.5 8 7 8 22 4 17 8 40.5 8 47.5 8 42 8 34 4 11 8 15 4 3 8-4 4-7 8-30 4-9 4-5 8 19.5 4 26.5 4 20 4 14.5 4 7 4-2.5 4-4 8-15 4 1 8 7.5 4 0 8-5 4-1.5 12 1 12-12.5 12-14 12-6 12-18 12-21.5 24-36.5 12-21 8-8 4 2 8 8 8 4.5 8 20 4 14.5 4 9 4 2 4-3 16-52.5 4-6.5 4 6.5 4 16 4 49 4 63.5 4-14 8-80 4-21 4 0.5 4 6.5 12 12.5 8 10 4-10.5 4-16 4-12 8-16 4-3.5 4-2 4-1 4-2 12-24.5 12-26.5 8-15.5 4-1 12 1 12 3 4 2.5 8 7 4 0.5 8-1 12-3.5 36 27.5 16 5 20 8 20 5.5 44 20.5 16 11 20 27 8 8.5 4 2.5 4 1 20 1 12 1.5 4 1.5 16 9.5 12 2.5 4 0.5 8-0.5 4-1.5 12-6.5 12-3 16-7.5 8-4.5 16-14 8-2 4-2 4-3 12-7 4-2.5 16-15 4-4.5 20-26 40-41.5 4-3.5 4-2 28-14.5 4-3 16-21.5 16-27 12-18.5 40-52.5 24-34"/><path d="M100 651l8 0 4-1 8-3.5 12-6 28-20.5 12-11.5 12-14.5 16-23.5 12-14.5 8-11.5 20-24 16-22.5 8-13 4-5 4-2.5 4 6.5 8 27 4-8 4-17.5 4-5 4-1 4 1.5 4 3.5 4-5 4-13 4-9 8-29.5 4-13 16-42 12-22.5 20-31.5 12-13.5 20-24.5 12-12 4 0 8 3 4 2 4 6.5 4 9 4 12.5 4 14.5 4 20 8-20 4 2 4 12.5 4 17.5 4-6.5 8-50 4-17 4-3 4 9.5 8 27 4 10 12-50.5 4-11.5 4-16.5 4-20.5 4-17 4-13.5 4-10 4-8 4-6.5 8-9.5 8-7 4-2.5 12-6 8-5 4-1 12-2.5 8-0.5 4 1 4 0 4 2 4 3.5 4 7.5 8 21.5 4 9 4 6.5 4 5 8 5 12 4.5 8 6 8 20.5 12 63 8 49.5 8 42.5 8 34 4 11 8 15 4 3 8-4 4-7 8-30.5 4-9 4-5 4 8.5 4 11 4 26.5 4 20 4 14.5 4 7 4-1.5 4-4.5 8-15 4 0.5 8 7 4 0 8-5 4-1 12 1.5 8-7.5 16-18.5 12-6 12-16.5 16-28.5 20-31 12-19.5 8-7.5 4 2 8 8 8 4.5 8 19.5 4 14 4 8.5 4 2 4-3.5 16-52.5 4-6.5 4 7 4 16 4 48 4 62 4-13.5 8-78.5 4-21 4 0.5 4 6 12 13 8 10 4-10 4-15.5 4-12.5 8-16 4-3.5 8-3.5 4-3 12-24.5 8-18.5 8-16 4-7.5 4-1 12 0.5 12 2 4 2 8 7 4 0.5 8-1.5 12-4 8 5.5 28 21 24 10.5 32 10 32 15 12 6.5 16 10.5 20 27.5 8 9 4 3 4 1 20 1.5 12 0 4 1.5 16 8 12 1.5 12-1 4-1.5 12-6.5 12-3.5 24-11 16-13 8-2.5 4-2.5 4-3.5 12-8.5 4-3.5 20-21.5 20-28.5 44-47 12-10 20-13.5 4-4 16-22.5 28-47.5 16-23.5 12-19 36-55.5"/><path d="M100 633.5l12 0 12-5 12-6.5 24-17 12-13 4-5 32-44.5 24-28.5 24-26 8-12 8-9 4 0 8 5.5 4-1 4-5.5 4-3 4-0.5 4-2.5 4 1.5 4-5 16-47 4-10 8-17 8-24 12-23 20-32.5 12-10.5 20-27.5 12-13 4 0.5 8 4.5 4 6.5 4 8.5 8 12 4 8.5 4 7 4-12.5 4-9 4-2.5 8 18 4-0.5 4-17.5 4-15 4-10 4-3 4 0.5 8 12 4 8 4-9.5 4-18 4-13 12-29.5 8-17 4-13.5 8-19 8-12 4-4.5 8-7 20-8.5 4 0 12 3.5 8 4 8-0.5 8 2 4 4.5 8 12 4 5 4 3.5 20 9 4 0.5 8-0.5 4 1.5 4 8.5 4 15.5 8 35.5 8 39.5 8 22 4 9.5 4 7.5 4 3.5 4 1.5 4 7.5 4 6 8 7.5 4-2 8-23 4-7.5 4 0.5 4 6.5 4 9 4 16.5 4 14 4 6.5 4 3.5 4 0 4-2 4-3.5 4-1.5 4 3 4 1.5 4 1 4-1 8-3.5 12 6 4 1.5 4 0.5 4-1.5 16-16 12-1 4-2 24-34 4-2.5 8-2 4-4 8-11.5 4-4 4-1 4 0 4-2.5 4 0 8 1 8-0.5 4 2.5 4 5 4 7 4 3.5 4-1.5 4-3 8-14.5 4-4.5 4-2.5 4-0.5 4 5.5 4 8.5 4 21 4 27.5 4-6 8-35.5 4-9 4 0.5 4 2.5 8 4 4 3 8-6 4-9.5 8-23 8-16.5 4-4.5 8-4 4-2.5 8-7.5 8-14 12-27 4-5.5 8-6 20 7 4 4.5 8 11.5 4 5 12-13 8-6 8 6.5 4 6 8 15.5 8 12.5 4 5.5 4 2.5 12 5 12 3.5 4-0.5 24 2 12 0 8-1 4 0.5 28 10 12 5 16 18.5 16 16 4 2 4 1 20 4.5 8 2.5 4 2 4 2.5 12 9 12 5 4 1 8 0.5 4-1 24-10 24-13.5 16-14.5 8-2.5 4-3 4-4 16-11 16-17 4-5 20-29.5 16-20.5 28-33 36-57.5 16-34.5 28-68 16-34.5 48-122"/><path d="M100 641l8 0.5 4-0.5 8-3 12-6.5 28-21 12-11 12-15 16-23 20-27 36-43 8-13 4-5 4-3.5 4 2 8 13.5 4-4 4-10.5 4-3.5 8-1 4 3 4-4.5 8-22 8-25.5 4-11 8-18.5 8-22.5 12-22.5 12-19 8-14.5 12-12.5 20-26 12-13 4 1 8 4.5 4 5 8 15 4 9 8 22.5 4-11.5 4-9.5 4-1 4 10 4 12.5 4-2.5 8-39 4-13 4-3.5 4 4 12 26 4-12.5 4-18 4-14 4-11 8-26 12-33 8-18 8-11.5 12-10.5 20-10.5 4 0 4 0.5 8 1.5 8 2.5 8 0.5 8 3 4 6 8 15 4 6.5 4 4.5 4 3 12 5.5 8 2.5 8 1 4 5 4 9.5 4 19 8 43 8 47.5 4 18.5 8 33.5 4 14.5 4 10.5 4 4.5 4 7.5 4 4 8 0.5 4-5 8-27 4-8.5 4-3 4 8 4 10 4 22.5 4 17.5 4 11 4 6 4-1 4-3 8-11 4 1.5 8 4.5 4-1 8-4.5 4 0.5 12 3 4-2 4-3 16-18 12-3 4-4 8-11 16-27 16-18 12-17.5 4-4.5 4-2 4-3.5 4 1 8 4 8 1.5 8 14 4 11 4 7 4 0.5 4-2.5 12-30.5 4-8 4-4 4 6 4 13 4 37 4 47.5 4-10.5 8-60 4-16.5 4 0.5 4 4 12 9.5 8 2 4-10 4-15 4-12.5 8-17.5 4-5 8-5.5 4-4 12-21.5 16-33.5 4-6 8-3 20 5.5 4 3 8 9.5 4 3 12-8.5 8-4.5 8 6 16 21 8 9 4 2 12 4.5 12 3.5 20 3.5 28 6.5 12 5 16 5 16 7.5 16 20 8 11.5 8 10.5 4 2.5 4 0.5 16-2 12 0.5 4 2 16 10 12 3 4 0.5 8 0 4-1.5 12-6 12-4.5 24-13.5 16-15 8-3 4-3 4-4 16-12 20-22 20-30.5 20-24.5 24-28.5 32-44 4-6 16-31 28-61.5 16-32 28-63.5 20-48.5"/><path d="M100 632l12-1.5 8-3 12-6.5 28-20 8-7.5 8-9 28-38.5 16-20.5 12-14 24-25 8-12 8-9 4-0.5 8 2.5 4 0 4-4.5 4-3 4 0 4-3 4 2 4-4.5 8-24 8-21.5 12-25 8-25 12-24.5 20-33 12-11.5 20-28 12-13 4 1 8 5 4 7 4 9.5 8 10.5 4 8 4 5 4-12.5 4-9.5 4-3 8 16.5 4 0.5 4-17 4-14 4-9 4-3 4-0.5 8 11.5 4 8 4-8.5 4-18.5 4-12.5 8-20 12-24 4-14 8-19.5 8-11.5 12-11 20-9 4 0 8 2 4 1.5 8 5 8-1 8 1.5 12 15.5 4 4 4 3 8 2.5 12 7 4 0.5 8-1.5 4 1.5 4 7.5 4 14 16 68.5 4 9 8 14.5 4 3.5 4 1.5 4 0 8 15 8 10.5 4-0.5 8-21.5 4-7 4 2 4 5 4 8.5 8 26.5 4 5 4 2.5 4 0.5 4-1.5 4-3 4 0 4 3.5 4 1 4 0 4-1 8-3 8 5.5 8 4.5 4 0.5 4-0.5 16-14.5 12 1.5 4-0.5 8-11 16-23 4-2 8-0.5 4-3 8-11 4-3.5 4 0.5 4 1 4-2 12-1.5 8-2.5 4 1 4 4 4 5.5 4 2.5 4-1.5 4-2.5 8-11.5 4-2.5 4-1 4 0.5 4 5 4 6.5 4 15.5 4 20.5 4-4 8-26 4-7.5 4 0.5 12 5 4 3 8-8 4-8.5 8-22 8-16.5 4-4.5 12-5.5 4-2.5 4-3.5 8-14 12-26.5 4-4.5 8-6 20 9 4 4.5 12 17.5 8-9.5 4-4 8-6 8 7.5 4 7 8 16 12 18.5 12 5.5 16 5 4-0.5 32-0.5 12-1 4 0 24 8.5 16 7.5 16 17.5 16 12 12 4.5 28 12.5 16 12 12 5 4 1 8 0.5 4-1.5 12-4.5 12-3.5 12-6 12-7.5 16-15.5 8-3 4-2.5 4-4 16-12.5 16-16 4-4.5 20-30 44-55.5 36-59 16-33.5 28-68.5 16-35 4-10 20-51 24-65.5"/><path d="M100 644.5l8 0.5 4-0.5 12-5 12-7.5 24-18.5 16-18 8-10 16-22 12-13.5 8-11 20-24 16-21.5 8-13 4-5 4-3 4 4 8 18 4-5 4-12.5 4-4 8-1 4 3 4-5 4-13 4-9.5 8-27 4-11.5 8-20 8-22 4-7.5 8-14.5 12-17.5 8-13 12-13 20-28 12-13 4 0.5 8 4 4 4.5 8 15.5 4 10 4 12 4 15 4-11.5 4-9.5 4 0 4 11.5 4 14 4-4 8-42.5 4-14.5 4-3 4 5.5 12 29 12-47 4-11 8-29.5 4-13 8-21.5 4-9 4-7.5 8-11.5 4-4 8-7 20-10.5 4-1 4 0.5 8 0.5 12 2 4 0 8 4 4 6.5 8 17.5 4 7 4 5.5 4 4 12 6.5 16 6 4 6.5 4 9.5 4 20 8 44 8 49 12 57 4 16 4 11 4 5.5 4 7.5 4 3.5 8-1.5 4-5.5 8-28.5 4-8.5 4-4.5 4 8 4 10.5 4 24 4 18.5 4 13 4 6 4-1.5 4-3.5 8-13.5 4 1 8 5.5 4-0.5 8-5 4 0 12 2.5 8-5.5 16-17 12-4.5 4-5 8-12.5 16-28 16-20.5 16-23 8-7 4 1.5 8 5.5 8 3 8 16.5 4 13 4 7.5 4 1 4-3 12-34.5 4-10 4-5 4 6.5 4 14 4 41.5 4 53.5 4-12 8-68 4-18 4 0.5 4 5 12 11 8 5.5 4-10 4-15.5 4-12.5 8-17 4-5 8-5.5 4-4 12-24 16-33.5 4-6.5 4-1.5 4-0.5 20 4.5 4 2.5 8 8.5 4 2 20-10.5 8 6 16 18.5 8 8.5 4 2 24 7 20 3.5 12 3 48 20 12 6.5 16 21.5 8 13 8 11 4 2.5 4 0 16-5 4-0.5 8 0 4 2 16 9 12 2 4 0 8-1 4-1.5 12-6 12-3 24-13 16-14.5 8-3 4-3 4-4 12-8.5 4-3.5 16-17 4-5 20-28.5 16-19.5 40-53 24-29 16-28 28-58.5 16-28.5 28-55.5 20-42.5"/><path d="M100 652l8 0.5 4-0.5 8-3 12-6.5 28-22 12-11.5 12-13.5 16-22 12-14.5 8-12.5 12-15.5 8-9 16-22 8-13.5 4-5.5 4-2 4 6 8 29 4-9 4-18.5 4-5.5 4-1 4 2.5 4 3 4-5 4-13 4-8 8-30 4-12.5 16-42.5 12-22 20-31 12-14 20-24.5 8-8.5 4-3.5 4 0 8 2.5 4 2.5 4 6.5 4 10.5 4 13 4 15.5 4 21.5 8-20 4 2 4 13 4 18 4-7 8-52 4-18 4-2.5 4 10 8 28.5 4 10.5 12-51 4-12 4-17 4-22.5 4-18 4-14.5 4-9 4-8 4-5.5 8-9 4-4 4-3.5 4-2.5 20-10 24-5.5 4 1 4 0 4 2 4 3 4 7.5 8 23.5 4 10 4 7 4 5.5 8 5 4 1.5 4 0.5 4 2.5 8 7.5 8 24 4 17.5 8 41.5 8 48 8 41.5 8 33.5 4 11 8 14.5 4 3 8-4.5 4-7 8-30.5 4-9 4-5.5 8 19 4 26.5 4 20 4 14.5 4 7.5 4-2.5 4-4 8-15.5 4 1 8 7.5 4 0 8-5 4-1 12 1 8-7.5 16-17 12-6.5 12-19 12-22 24-36 12-20.5 8-8.5 4 2 8 7.5 4 1.5 4 2.5 8 19.5 4 14.5 4 9.5 4 2.5 4-3 16-52 4-6.5 4 7 4 16 4 49.5 4 63.5 4-13.5 8-79.5 4-21.5 4 0.5 4 5.5 12 12.5 8 10 4-10 4-16 4-12.5 8-16 4-3.5 4-1.5 4 0.5 4-2 8-15.5 12-27 12-24 4-1 12 0.5 12 2 4 2 8 6.5 4 0 8-1.5 12-3 4 3 16 14.5 16 12 16 5 20 8 24 7.5 40 20.5 16 10 20 25.5 8 8 4 3 4 1 12 1.5 20 1 4 1.5 16 9 12 2.5 4 0.5 8-0.5 4-1.5 12-6 12-2.5 8-3.5 16-9 16-13 8-2 4-2.5 4-3.5 4-3 12-8 20-17 20-26 24-25.5 16-15.5 4-3.5 16-9 16-8.5 4-3.5 16-20.5 28-46 4-5.5 12-14 24-31 24-33"/><path d="M100 638l12-0.5 8-3 8-3.5 8-4.5 24-18 12-12 12-14 16-22 24-32 8-10 24-28.5 8-12 4-5 4-4 4 1.5 8 11 4-3 4-9 4-3.5 4-0.5 4-1 4 2.5 4-4.5 16-46 12-28.5 8-23 12-24.5 20-32 12-11 20-27.5 12-13.5 4 1 8 5 4 5.5 12 22.5 8 20.5 4-12 4-9 4-1.5 8 21 4-2 8-38.5 4-12 4-3.5 4 3 4 7 8 17.5 4-11.5 4-18 4-13.5 12-35 8-20.5 4-12.5 8-17.5 8-11.5 12-10.5 20-10 4-0.5 4 0.5 8 1.5 8 2.5 8 0 8 3 4 6 8 14 4 5.5 4 4 4 3 16 7 4 1 8 0.5 4 4 4 9 4 18.5 8 41.5 8 45.5 4 17 8 30.5 4 13 4 9 4 3.5 4 7.5 4 5 8 2 4-4 8-26.5 4-8 4-2.5 4 7.5 4 9.5 4 20.5 4 16.5 4 10 4 5 4-1 4-3 4-5.5 4-4 12 6 4-1 8-4 4 1 8 3.5 4 1 4-1.5 4-3 16-17 12-2.5 4-3.5 4-6 20-31.5 12-10.5 4-5 12-17 4-3.5 4-1.5 4-3 4 0.5 8 3.5 8 1.5 4 6 4 7 4 10.5 4 5.5 4 0.5 4-3 8-19 8-15.5 4-2.5 4 5.5 4 11.5 4 32 4 42 4-9.5 8-53.5 4-14.5 4 0.5 4 3.5 8 6 4 3.5 8 0 4-9.5 8-26.5 8-17.5 4-5 8-6 4-4 8-12 4-7 16-33.5 4-6 8-4.5 20 5 4 3.5 8 10.5 4 3.5 12-9.5 8-5.5 8 7 4 5.5 8 13 12 16 8 4 8 3 12 3 28 3 20 1 4 1 24 11 16 9 24 29.5 8 8.5 4 2.5 4 0.5 8-0.5 8 0.5 12 2 4 2 16 9.5 12 3 4 0.5 8-0.5 16-6.5 12-3.5 24-15 16-14.5 8-3 4-3 4-4.5 16-13 16-16.5 4-4.5 20-29 24-28.5 20-25.5 16-24 20-28 16-31.5 28-64 16-31.5 48-117.5"/><path d="M100 651l8-0.5 4-1 8-3 12-5.5 4-2.5 24-20 12-12 12-12.5 28-37 8-13 4-5.5 8-10 8-9 16-21 8-13.5 4-5.5 4-2 4 6.5 8 28 4-8.5 4-18 4-5.5 4-1 4 2 4 3.5 4-5 4-13 4-8.5 8-29.5 4-12.5 16-40.5 12-22.5 20-32.5 12-14.5 16-21 12-13 4-3 4 0.5 8 3 4 2.5 4 6.5 4 9.5 4 12.5 4 15 4 21 8-20.5 4 2 4 13 4 18 4-6.5 8-50.5 4-17.5 4-2.5 4 9.5 8 27.5 4 10.5 8-35 4-16 4-11.5 4-16.5 4-21.5 4-17.5 4-14 4-9.5 4-8 4-6.5 8-9.5 4-4 8-5.5 12-6 8-5 4-1.5 12-3 8-1.5 4 1 4 0.5 8 5 4 7.5 8 22.5 4 9.5 4 7 4 5.5 8 5 4 2 4 0.5 4 2 8 6.5 8 22 12 62 8 48 8 41.5 8 34 4 11 8 15 4 3.5 8-3.5 4-7 8-30 4-9.5 4-5.5 4 9 4 10.5 4 26.5 4 20.5 4 15 4 7 4-1.5 4-4 8-15 4 0.5 8 6 4-0.5 8-6 4-1 12 2 4-3 8-8 12-13.5 12-6.5 12-18.5 12-22 24-35.5 12-20.5 8-8 4 2.5 8 7.5 8 4.5 8 19.5 4 14 4 9 4 1.5 4-3 16-52.5 4-6.5 4 6.5 4 16.5 4 48.5 4 63 4-13.5 8-79 4-21 4 0.5 4 5.5 12 12 8 10.5 4-10 4-16 4-12 8-15.5 4-4 8-3.5 4-2.5 12-24.5 12-26.5 8-14.5 4-0.5 24 2 4 2 8 7 4 0 8-1 12-3 20 15 16 10 16 5 20 10 24 7 40 19 16 10.5 24 32 4 4.5 4 3 4 1.5 16 2.5 16 0 4 1.5 16 8 12 3 4 0.5 8-1 4-1.5 12-7 12-3 24-11 16-13 8-3 4-3 4-4 16-10.5 16-15 4-4.5 20-27.5 20-21.5 20-20 4-4 12-9 20-12.5 4-3.5 16-22.5 28-46 16-22.5 12-19 16-22 20-30"/><path d="M100 644.5l8 0 4-1 8-3 12-6 8-6 20-16.5 12-12 12-14 20-27.5 8-9.5 8-11 20-22.5 16-21 8-13 4-5 4-3 4 3.5 8 18 4-5 4-12.5 4-4.5 8-0.5 4 2.5 4-5 4-12.5 4-9.5 8-26.5 20-53 12-24 20-32 12-12.5 20-27.5 12-12 4 0.5 8 4 4 4.5 8 16 4 10 8 27 8-20.5 4-0.5 4 10.5 4 14 4-4 8-43 4-14 4-2.5 4 5.5 12 30 12-47.5 4-11.5 8-30.5 4-13.5 8-22.5 8-17 8-11 8-7 4-3 4-1.5 16-7 4-0.5 24 2.5 4 0 4 1 4 2 4 6.5 8 17.5 4 7 4 5.5 4 3.5 12 7 16 5.5 4 6.5 4 10 12 63.5 8 49.5 4 20 8 37.5 4 16 4 11 4 5.5 4 7.5 4 3.5 8-1.5 4-5.5 8-28.5 4-8.5 4-4 4 8.5 4 10.5 4 24.5 4 18.5 4 13 4 6.5 4-1.5 4-3.5 8-13 4 1 8 5 4-0.5 8-5.5 4-0.5 12 2.5 4-2.5 4-3.5 16-18 12-5 4-5 8-12 16-27 16-19.5 16-24.5 8-7.5 4 1.5 8 6 8 3.5 8 17 4 13 4 8 4 1.5 4-3 16-44.5 4-5.5 4 6.5 4 14 4 41.5 4 54 4-12 8-69 4-18 4 0 4 5 12 11.5 8 5.5 4-10.5 4-15.5 4-12.5 8-17 4-4.5 8-5 4-4.5 12-24 16-34.5 4-6.5 4-2 4-0.5 8 1.5 12 4 4 3 8 9 4 1.5 20-11.5 8 6 16 19 8 8 4 2.5 24 8.5 12 3 20 3.5 20 5 24 10.5 16 9.5 16 21.5 8 13 8 11.5 4 3 4-0.5 16-5 12-2 4 1.5 16 9 12 3.5 4 0.5 8 0 4-1 12-6.5 12-4 16-8 8-4.5 16-15 8-3.5 4-3 4-4.5 16-12 20-20.5 20-30 24-29 28-36.5 28-34.5 16-28 28-57.5 16-27 24-49 24-51"/><path d="M100 635.5l8 0.5 4-0.5 8-3.5 12-7.5 16-11.5 12-8 8-7.5 4-4 12-15.5 8-11.5 12-16.5 28-35 24-27 8-12 8-9 4 0 8 6.5 4-1.5 4-6.5 4-3.5 4-0.5 4-2 4 2 4-5 16-45.5 12-27 8-23.5 12-23 20-32 12-11 20-28 12-13.5 4 0.5 8 4.5 4 6 4 8.5 8 12.5 8 17 4-12 4-9.5 4-2 8 19.5 4-0.5 8-34 4-10.5 4-3 4 1 4 6 8 16 4-10.5 4-18 4-13.5 12-31.5 8-18.5 4-13 8-18.5 8-12 4-4 8-7 20-9.5 4 0 8 2 4 1 8 4 8-0.5 8 2 4 5.5 8 12 4 5 4 3.5 20 9.5 4 1 8 0.5 4 2.5 4 9 4 16.5 8 37.5 8 41.5 8 25.5 4 11.5 4 8.5 4 5.5 4 2 4 7.5 4 5.5 8 5.5 4-2.5 8-24.5 4-7.5 4-0.5 4 6 4 9 4 18 4 14.5 4 8 4 4 4 0 4-2.5 4-4 4-2 8 4 4 1 4-1 8-3.5 4 2 8 5 4 1.5 4 0 4-2 16-16.5 12-2 4-2.5 24-37 4-3 8-3.5 4-4 8-11.5 4-4 4-1.5 4-0.5 4-2.5 4 0 8 1.5 8-0.5 4 3.5 4 6 4 8 4 4.5 4 0 4-3 8-15 4-5.5 4-4 4-1 4 5 4 9 4 24.5 4 31.5 4-7 8-42 4-11.5 4 0.5 12 8.5 4 4 8-4 4-9.5 8-24.5 8-17.5 4-5 8-4.5 4-3 8-9 8-14 12-27 4-6 8-6 8 3 12 5 4 4 8 12 4 4.5 12-11 8-6 8 7 4 6 8 14.5 12 17 12 5 16 5.5 24 0 24 0.5 4 1 24 9.5 16 9 12 14 12 12.5 8 7.5 4 2 20 3.5 12 3 4 1.5 16 11 12 4.5 4 1 8 0.5 4-1.5 12-5.5 12-4.5 24-13.5 16-14 8-2.5 4-3 4-4 16-12.5 16-17.5 4-5 20-29.5 44-53.5 36-57 16-33 28-65.5 16-33 48-123"/><path d="M100 646l8 0 4-1 8-3.5 12-6.5 28-20 12-12 12-14.5 16-22.5 12-15.5 8-11.5 8-11 28-34 8-12.5 4-5.5 4-2.5 4 4 8 20 4-5.5 4-13.5 4-4.5 4-0.5 4 0 4 3 4-5.5 4-13 4-9.5 8-28 4-11.5 16-42 12-21.5 20-31 12-12.5 20-26.5 12-12.5 4 0.5 8 3.5 4 4.5 8 16 4 11 4 13 4 16 8-20.5 4 0 4 11.5 4 14 4-4.5 8-45 4-15.5 4-2.5 4 6 8 22 4 9.5 12-47.5 4-11.5 12-45.5 8-22.5 4-9 4-7.5 8-10.5 4-4 8-6.5 20-10.5 4-0.5 4 0.5 12 2 8 1.5 4 0.5 8 3 4 6 8 17.5 4 7 4 5 4 4.5 8 4.5 20 9.5 4 7 4 10 4 20 8 44.5 8 50 8 41 8 35 4 11.5 8 14 4 3 8-2.5 4-6.5 8-30 4-9 4-4.5 4 8.5 4 10.5 4 25.5 4 19 4 14 4 6.5 4-1.5 4-4 8-13.5 4 1 8 5.5 4-0.5 8-6 4-0.5 12 2 8-6 16-17 12-5.5 12-17 16-28 16-22.5 16-25 8-7 4 1.5 8 6.5 8 3.5 8 17.5 4 13.5 4 8 4 1 4-3 12-36 4-10.5 4-5 4 6.5 4 14.5 4 44 4 56.5 4-13 8-71.5 4-19 4 0.5 4 5.5 4 4 16 14.5 4-10.5 4-15.5 4-12.5 8-16.5 4-4.5 8-4.5 4-4 28-60 4-6.5 4-1.5 4-0.5 20 3.5 4 2.5 8 8.5 4 1.5 20-8.5 8 5.5 20 21.5 4 4 4 2.5 12 4.5 12 4 20 3 16 4 12 5 16 8.5 24 11.5 4 2 4 5 12 16.5 8 13.5 8 11 4 2.5 4 0 16-5 12-1 20 10 12 2 8-0.5 4-0.5 4-1.5 12-7 12-3 16-7 8-4.5 16-14 8-3 4-3 4-4 12-9 4-3 16-16.5 4-5 20-30.5 20-26.5 32-39 24-24.5 4-5 16-26.5 28-56 16-26.5 28-53.5 20-40.5"/><path d="M100 650l8-0.5 4-1.5 24-12 24-16.5 12-11.5 12-14 16-23.5 12-14.5 8-12 20-24.5 16-21.5 8-13 4-5.5 4-2.5 4 6 8 26.5 4-8 4-17 4-5 4-0.5 4 2 4 3.5 4-5 4-13 4-8.5 8-29.5 4-12.5 16-42 12-23 20-31.5 12-13 20-26.5 8-8.5 4-3.5 4 0.5 8 3.5 4 3 4 6.5 4 9.5 4 12.5 4 14.5 4 20 8-20.5 4 1.5 4 12.5 4 17 4-6 8-49 4-16.5 4-2 4 9.5 8 26.5 4 10 12-52 4-12.5 4-17 4-21 4-16.5 4-13.5 4-9.5 4-8 4-6 8-9.5 4-4 8-6 20-9.5 24-3 4 0.5 4-0.5 8 3.5 4 6.5 8 21 4 8.5 4 7 4 5 12 8 4 1.5 4 2.5 8 6.5 8 21 12 62.5 8 48.5 8 41.5 8 34.5 4 11 8 15 4 3 8-3.5 4-7 8-29.5 4-9 4-5 8 19.5 4 27 4 19.5 4 14.5 4 7 4-2 4-4.5 8-16 4 1 8 6.5 4 0 8-5.5 4-1.5 12 1.5 12-10.5 12-13.5 12-6 12-18 16-27.5 20-29.5 12-19.5 8-8 4 2.5 8 7 8 4 8 18.5 4 14.5 4 8.5 4 1.5 4-3 16-51.5 4-6.5 4 6 4 16 4 48 4 62 4-13.5 4-42 4-35.5 4-20.5 4 0.5 4 6 12 12 8 9.5 4-10 4-16 4-12 8-16.5 4-4 8-4 4-2.5 24-51 8-14.5 4-0.5 12 0.5 12 1.5 4 2.5 8 7 4 0.5 8-1.5 12-4 8 6 16 14 12 8.5 16 4.5 20 8 20 6 28 14 16 7.5 16 8.5 24 33 4 4.5 4 3 4 1.5 20 2 12-1 4 2 16 8.5 12 2 4 0 8-1.5 16-8 12-3 24-11.5 16-13.5 8-3 4-2.5 4-4 16-11.5 16-15.5 4-5 20-28 20-23 16-17 8-8 16-12 16-11 4-3.5 16-23 28-50.5 4-6.5 12-16.5 24-36 24-38.5"/><path d="M100 650.5l8 0 4-1 8-4 12-7.5 28-21.5 12-12 12-14 16-22 12-14 8-11.5 20-25 8-11 8-10 8-12.5 4-4.5 4-2.5 4 6 8 25 4-7.5 4-17 4-5 4-1 4 1 4 3 4-5 4-13 4-8.5 8-29 4-12 16-42.5 8-15.5 4-7 20-31.5 12-13.5 20-27 8-8.5 4-3.5 4 0.5 8 3 4 3.5 4 7 4 9.5 4 12 4 15 4 19 8-20 4 1 4 12.5 4 16 4-5.5 8-48.5 4-16.5 4-2.5 4 8 8 25 4 10 12-50 4-11.5 4-16 4-20 4-16 4-13 4-10.5 4-8.5 4-6.5 8-9.5 8-7 4-2.5 20-10.5 4-1 12-1.5 8 0 4 1 4 0 8 4.5 4 7 8 20.5 4 8.5 4 6.5 4 5 12 7 4 1 4 1.5 8 5.5 8 20 12 64 8 49.5 4 21.5 4 20.5 8 34 4 11 8 14 4 2.5 8-3 4-7 8-29 4-9 4-5 8 19 4 26.5 4 20 4 14 4 7.5 4-2 4-4 8-15.5 4 1 8 6 4-0.5 8-5.5 4-0.5 12 2 8-7 16-18 12-5 12-18 12-21.5 24-36.5 12-20 8-7.5 4 2 8 7 8 3.5 8 18.5 4 14.5 4 9 4 2 4-3 16-49.5 4-6.5 4 6.5 4 15.5 4 47 4 61 4-13 8-77 4-20.5 4 0.5 4 6 12 11.5 8 9.5 4-10.5 4-15.5 4-12.5 8-15.5 4-4 8-4 4-3.5 24-52 8-14.5 4-1 12 1 12 2.5 4 2.5 8 7 4 0.5 8-2.5 12-4 8 5.5 24 20 4 3 16 5.5 20 8.5 24 7 12 4.5 32 15.5 12 7 24 34 4 5 4 3 4 1.5 12 2 20-4 4 1.5 16 9 12 2 4 0 8-1 4-1.5 12-6 12-3.5 24-11 16-13 8-3 4-3 4-4 16-12 20-21.5 12-17.5 8-11 36-41.5 8-8.5 24-21 8-7.5 4-4.5 16-24 28-49.5 16-24 24-39 24-41.5"/><path d="M100 639l8 0 4-1 8-3 12-6 28-20 12-11.5 12-14 16-22.5 20-26.5 36-44 8-12.5 4-5 4-3 4 2 8 13.5 4-3.5 4-10 4-4 8-1.5 4 2.5 4-5 16-47.5 4-10.5 8-18 8-23 12-23.5 20-32 12-11.5 20-28 12-13 4 1 8 4 4 5.5 8 15.5 4 9 8 23 4-11.5 4-9 4-1 8 22 4-2.5 8-39 4-12.5 4-3 4 3.5 12 26 4-12.5 4-18.5 4-14.5 4-11 8-26.5 12-32.5 8-17.5 8-11.5 4-4 8-7 20-10 4-0.5 4 0 12 2 4 1 8-0.5 8 2.5 4 6 8 15.5 4 6 4 5 4 3 12 6.5 8 3 8 2 4 4.5 4 9.5 4 18.5 8 42 8 47 4 18.5 8 33 4 14 4 10 4 4.5 4 7.5 4 4.5 8 1 4-5 8-27.5 4-8.5 4-3 4 7.5 4 9.5 4 22 4 17 4 11.5 4 5.5 4-0.5 4-3.5 8-10.5 4 1.5 8 4.5 4-0.5 8-4 4 0.5 12 3 4-2 4-3 16-17 12-4 4-4 8-11 16-26.5 4-4 8-7.5 4-4.5 12-17 4-4 4-2 4-3.5 4 0.5 8 3.5 8 1 8 14 4 11.5 4 6.5 4 1 4-3 12-30.5 4-8 4-4 4 5.5 4 12.5 4 35.5 4 46 4-10.5 8-58.5 4-15 4 0.5 4 4.5 12 11 8 2 4-10 4-15 4-12.5 8-18 4-5 8-6 4-4 12-21.5 16-34 4-6 8-3.5 20 6 4 3.5 8 9.5 4 2.5 12-8.5 8-4.5 8 6 4 5 8 11.5 8 10 4 4 4 2.5 24 7.5 28 5.5 20 2 4 1.5 28 12 12 7 24 32 8 9.5 4 3 4 0 16-2 12 0.5 4 2 16 9.5 12 3 4 0.5 8-1 4-1 12-6 12-3.5 24-12.5 16-15 8-3 4-2.5 4-4 12-8.5 4-4 20-23 20-28.5 44-54.5 36-51.5 16-30 28-62 16-31.5 24-56 24-59.5"/><path d="M100 650.5l8 0 4-1 20-8.5 4-2.5 24-20 12-11.5 12-13 16-22 12-15 8-12.5 12-15.5 8-9 16-21 8-13 4-5 4-2 4 6 8 26.5 4-8 4-17.5 4-5.5 4-1.5 4 1.5 4 3 4-5.5 4-13 4-8.5 12-42.5 16-43 4-7.5 8-14 20-28.5 12-13 20-27.5 8-8.5 4-3.5 4 0.5 8 3 4 3 4 7 4 9.5 4 12.5 4 15 4 20.5 8-20.5 4 1 4 12.5 4 17.5 4-7 8-50 4-17 4-2.5 4 9.5 8 27 4 10 12-52 4-12 4-17 4-21 4-17 4-13.5 4-10 4-8.5 4-6 8-9.5 8-6.5 4-2 12-5 8-4 16-4 8-1.5 4 1 4 0 4 2 4 3 4 7 8 22 4 9 4 6.5 4 5 8 5 12 5.5 8 6.5 8 21 12 64 8 49 8 42 8 33 4 10.5 8 14 4 3 8-4 4-6.5 8-29.5 4-9 4-5 8 20 4 27 4 20 4 14.5 4 7 4-2 4-4 8-15.5 4 0.5 8 6 4-0.5 8-5.5 4-1.5 12 1.5 4-3.5 8-8 12-13 12-5.5 12-18 12-22 24-36 12-20 8-7.5 4 2.5 8 7.5 8 4.5 8 19.5 4 14 4 8.5 4 2 4-3.5 16-52.5 4-6 4 6.5 4 15.5 4 48.5 4 61.5 4-13.5 8-79 4-20.5 4 0.5 4 6.5 12 13 8 10.5 4-10 4-16 4-12 8-16 4-4 8-4 4-3 24-52 8-14 4-1 24 3.5 4 2 8 6.5 4 0.5 8-1 12-4 8 5.5 28 21 36 12.5 20 6.5 20 8.5 40 23.5 24 32 4 4 4 3 4 1 20 2 12 0 20 10 12 2.5 4 0.5 8-1.5 4-1.5 12-7.5 12-3.5 24-9.5 16-13 8-3.5 4-3 4-4 16-11 16-15.5 4-4.5 20-28.5 20-22.5 20-21.5 4-4 8-6.5 12-8.5 12-8 4-3.5 16-22.5 28-49 16-22.5 8-12.5 20-29.5 20-32.5"/><path d="M100 644.5l8 0 4-0.5 8-3 12-6 8-5 20-15.5 12-12 12-14 16-22.5 12-15 8-11 36-46 8-12.5 4-5 4-2.5 4 4 8 20 4-6 4-13.5 4-4.5 4-1 4 0.5 4 3 4-5 4-12.5 4-9.5 8-27 4-11.5 16-42 12-23 20-31 12-13 20-27 12-12.5 4 0 8 4 4 4.5 8 16 4 10.5 4 12.5 4 16 8-21 4 0 4 11.5 4 14.5 4-4 8-44 4-14.5 4-3 4 6.5 8 21 4 9 12-49 4-11.5 12-45 8-22 4-9 4-7.5 8-10 4-4 8-6 20-9.5 4-0.5 12-0.5 16 0 8 3.5 4 6.5 8 18.5 4 7.5 4 5.5 4 3.5 8 4.5 12 4 8 4 4 7.5 4 10 4 20.5 8 45 8 50 8 41 4 18 4 16.5 4 11 8 13.5 4 3.5 8-2.5 4-6 8-29.5 4-9 4-4.5 4 8.5 4 10.5 4 25.5 4 19.5 4 13.5 4 6.5 4-1 4-4 8-13.5 4 1 8 5 4-0.5 8-5.5 4-0.5 12 2 8-7 16-17 12-5 12-17 16-27.5 16-20.5 16-24 8-7 4 1.5 8 6 8 3 8 17.5 4 13 4 8.5 4 1.5 4-2.5 16-46.5 4-6 4 6.5 4 14 4 43.5 4 56 4-12.5 8-72 4-19 4 0.5 4 5 4 4 16 15 4-10.5 4-15.5 4-12.5 8-17.5 4-4.5 8-5 4-4 28-58.5 4-6.5 4-1.5 4-0.5 8 1.5 12 3 4 3 8 8.5 4 1.5 20-10.5 8 5.5 16 17 8 7.5 4 2 16 6 8 3.5 8 2.5 24 6 16 5 28 12 16 9.5 16 21.5 8 13 8 11 4 2.5 4 0 16-4 12-1 4 1.5 16 8.5 12 2.5 4 0 8-1.5 4-1.5 12-6.5 12-4 24-12.5 16-13.5 8-2.5 4-3 4-4 12-9 4-4 20-22.5 20-28 8-9.5 24-31.5 16-20 8-9.5 20-21.5 4-5.5 16-27.5 28-55 16-27 48-94.5"/><path d="M100 642.5l8 0 4-0.5 8-3.5 12-6 28-19.5 12-11.5 12-15 16-24 20-25.5 20-24 16-20.5 8-12.5 4-5 4-3 4 3.5 8 16.5 4-4.5 4-11.5 4-4 8-1 4 2.5 4-5 4-12.5 4-10 8-26.5 4-11 8-19.5 8-22.5 12-24 20-31 12-12 20-26.5 12-13.5 4 0 8 3.5 4 4.5 8 16 4 9.5 8 26.5 4-11 4-9 4-0.5 4 11 4 13.5 4-3.5 8-41.5 4-14 4-3 4 5 12 28 4-14 4-18 4-14.5 4-11 12-41.5 8-22 8-17.5 8-11 8-8 4-3.5 4-2 16-6.5 4-0.5 12 1.5 8 1.5 8 0.5 4 1.5 4 2 4 6 8 17 4 6.5 4 5 4 3.5 8 4 4 1.5 16 5 4 6 4 10 12 63 8 48.5 4 19.5 8 35.5 4 15.5 4 11 4 5.5 4 7.5 4 3.5 8-1 4-5.5 8-28 4-8.5 4-3.5 4 8.5 4 10 4 23.5 4 18 4 12.5 4 6 4-1.5 4-3.5 8-13 4 1.5 8 5 4 0 8-5 4 0 12 2.5 8-5 16-17 12-4.5 4-5 8-12 16-27 16-18.5 16-23.5 8-6.5 4 1.5 8 5.5 8 2.5 8 16 4 12 4 7 4 0.5 4-3 12-33 4-9.5 4-4.5 4 6.5 4 14 4 39.5 4 51.5 4-11.5 8-65.5 4-17.5 4 0.5 4 4.5 12 11.5 8 5 4-10 4-15 4-12 8-17.5 4-5 8-5.5 4-4.5 12-24 16-35 4-6.5 4-2 4-1 20 6 4 3 8 9 4 2.5 12-8.5 8-4.5 8 6 12 16 8 9.5 4 4.5 4 2 12 4 20 3 28 8.5 16 3.5 24 11 16 9 16 20.5 8 12 8 10.5 4 2.5 4-0.5 8-2.5 8-1.5 12 0 4 2 16 9.5 12 3 4 0.5 8-1 4-1.5 12-6 12-4 24-13.5 16-14.5 8-3.5 4-3 4-4 12-8.5 4-3.5 20-22.5 20-29 28-33.5 48-63.5 4-5.5 16-28.5 28-61 4-8 12-21 4-8.5 44-97"/><path d="M100 649.5l8 0 4-1 8-3.5 12-6.5 28-21.5 8-8 16-18.5 16-22 12-14.5 8-11.5 20-24.5 16-22 8-14 4-5 4-2 4 5 8 24.5 4-7.5 4-16 4-5 4-0.5 4 1 4 3 4-5 4-13 4-9 8-28.5 4-12 16-41.5 12-21.5 20-31 12-13 20-26 12-12.5 4 0.5 8 3 4 3 4 7 4 9.5 4 12 4 14 4 19 8-20 4 1 4 12 4 16.5 4-6 8-48 4-16 4-3 4 8 8 24 4 9.5 8-35 4-16 4-12 12-49.5 4-12 4-10 4-8 4-6.5 8-10.5 4-4 8-6.5 20-10.5 8-1 16 0 4 1 4 0 8 4 4 6.5 8 19.5 4 8 4 6 4 4.5 12 7 8 3 8 5.5 4 9 4 11 12 65.5 8 49.5 4 21.5 4 20.5 8 34 4 11.5 8 14.5 4 3 8-3.5 4-7 8-30 4-9 4-5 4 8.5 4 10.5 4 26 4 20 4 14 4 7 4-1.5 4-4 8-15 4 0.5 8 6.5 4-0.5 8-5 4-1 12 2.5 8-7 16-18 12-6.5 12-18 16-27 20-29.5 12-20 8-8 4 2 8 7 4 1.5 4 3 8 19.5 4 14 4 9 4 2 4-3.5 16-51 4-6 4 6 4 15.5 4 47 4 60.5 4-13 8-76 4-20 4 0.5 4 6 20 21 4-10.5 4-16 4-12.5 8-16.5 4-4 8-4.5 4-3.5 12-25.5 8-18.5 8-16 4-7 4-1.5 4 0 8 1 12 3 4 2 8 7.5 4 1 20-6 8 6.5 12 11 12 10 4 2 32 11.5 24 7 48 20 12 7 12 16.5 12 19.5 4 5.5 4 4 4 1.5 4 0.5 4 0 16-4 8-0.5 4 2 16 9 12 2 4 0 8-1 4-1.5 12-6.5 12-3 24-12 16-13 8-2.5 4-3 4-4 16-13 20-21.5 20-29.5 36-41.5 8-8.5 8-7.5 24-20.5 4-4 16-24 28-52.5 16-25 48-84.5"/><path d="M100 638.5l8 0.5 4-0.5 8-3.5 16-9.5 24-17 12-12 12-14.5 20-28 28-36.5 24-26 8-11 8-8.5 4 1.5 8 11 4-3 4-9.5 4-4 4-0.5 4-1 4 2.5 4-5 16-46.5 12-28.5 8-23.5 12-24.5 20-31 12-11.5 20-27.5 12-13 4 0.5 8 4 4 5 12 22 8 21 4-11.5 4-9 4-1.5 8 22 4-2 8-37 4-12 4-3.5 4 3 4 7 8 17 4-12 4-18 4-14 4-10.5 8-24.5 8-21 4-12 8-18 8-11 12-10 20-10 4 0 20 5 8-1 8 2 4 5.5 8 14 4 5.5 4 4.5 4 2.5 16 8.5 4 1 8 1.5 4 4 4 9 4 18 8 41 8 46 4 17 8 31.5 4 13.5 4 9 4 4 4 7 4 4.5 8 1.5 4-4 8-26.5 4-7.5 4-2 4 7.5 4 9.5 4 21.5 4 16.5 4 10.5 4 5 4-1 4-3.5 4-6 4-4.5 4 1.5 8 4.5 4 0 8-4.5 4 0.5 12 3.5 4-1.5 4-2.5 16-16.5 12-3.5 4-3.5 8-10.5 16-26 4-4.5 8-7.5 16-22.5 4-3.5 4-2 4-2.5 4 0.5 8 4 8 1.5 8 13 4 10 4 5.5 4 0.5 4-3.5 8-19.5 8-15 4-3 4 6 4 11.5 4 33 4 43 4-9.5 8-54.5 4-14.5 4 0.5 4 4 12 9.5 8 0 4-10 4-14.5 4-12.5 8-18 4-5 8-5 4-4 8-12.5 4-7.5 16-34 4-6 8-4.5 8 2 12 4.5 4 4 8 10.5 4 3 12-9 8-5 8 6.5 4 5.5 8 12.5 8 11 4 4.5 4 2.5 8 3 16 4.5 32 3 16 2.5 4 1 28 11.5 12 6.5 24 31 8 9 4 2.5 4 0.5 16-1 12 1.5 4 1.5 16 10.5 12 3 4 0.5 8 0 4-1 12-5.5 12-3.5 24-14.5 16-15 8-3 4-2.5 4-4 12-8.5 4-3.5 20-22.5 20-28 44-56 36-51.5 16-31.5 28-65 16-31.5 4-9 44-105.5"/><path d="M100 648.5l8 0 4-1 8-3.5 16-9.5 24-18 12-12.5 12-14 16-22 12-14.5 8-11.5 36-45.5 8-13 4-5.5 4-2 4 5 8 22.5 4-7 4-15.5 4-5 4-1 4 1 4 3 4-5 4-13 4-9 8-28 4-12.5 16-41.5 12-22 20-31 12-13 20-26 12-12 4 0.5 8 3 4 3.5 4 6.5 4 9 4 11 4 13.5 4 18 8-20.5 4 1 4 12 4 16 4-5 8-46.5 4-16 4-2.5 4 7.5 8 23.5 4 9.5 12-49 4-11.5 4-15.5 4-19 4-15.5 4-12.5 8-19 4-7 8-10.5 4-3.5 8-6.5 20-10 8-1 8 0 8 0.5 4 0.5 4 0.5 8 4 4 6.5 8 19 4 8 4 5.5 4 4.5 12 6.5 8 3.5 8 5 4 8.5 4 10.5 12 65 8 50 4 21.5 4 20.5 8 34.5 4 11.5 8 14.5 4 3 8-3 4-6.5 8-29.5 4-9 4-5 4 9 4 10.5 4 25.5 4 19.5 4 14 4 6.5 4-2 4-4.5 8-15.5 4 1 8 6 4-1 8-5 4-1 12 3 8-6.5 16-16.5 12-5.5 12-18 16-28 20-28.5 12-20 8-7.5 4 2 8 7 8 4 8 18 4 14 4 8 4 2 4-3.5 16-49.5 4-6 4 6.5 4 15 4 46.5 4 59.5 4-13 8-75 4-19.5 4 0 4 5.5 20 19.5 4-10 4-16 4-12 8-16.5 4-4 8-4 4-3.5 20-43 8-15.5 4-7 4-1.5 4-0.5 8 1 12 3 4 2.5 8 8 4 0.5 20-9 8 5.5 20 19 4 3.5 4 2.5 16 5.5 20 8 24 7 16 6.5 36 17.5 4 2 4 5 12 17 8 14 4 5.5 4 5 4 2.5 4 0 16-5 4-1 8-0.5 20 9.5 12 1.5 12-1 4-1 12-6.5 12-3 24-12 16-14 8-3 4-2.5 4-4 12-8.5 4-3 16-16.5 4-5 20-29.5 24-30 20-23 16-16 16-14.5 4-4.5 16-25 28-50 16-25 48-88"/><path d="M100 648.5l8 0 4-1 8-3.5 12-6 28-21.5 12-12 12-13.5 16-22 12-15 8-12 36-45.5 8-13 4-5 4-2.5 4 5 8 23 4-7 4-15.5 4-4.5 4-0.5 4 1 4 3.5 4-4.5 4-13 4-9 8-28.5 4-12.5 16-42.5 8-15 4-7 20-31 12-13 20-27 12-12.5 4 0.5 8 3.5 4 3.5 4 7 4 9.5 4 11.5 4 14 4 18 8-21 4 0.5 4 12 4 15.5 4-5.5 8-47.5 4-16 4-3 4 8 8 24.5 4 10 12-49 4-11.5 4-15.5 4-19 4-15.5 4-12.5 8-19 4-6.5 8-10 8-7 4-2.5 20-10 4-1 12 0 16 0.5 8 4 4 6.5 8 20 4 8 4 6 4 5 8 4.5 12 4.5 8 4.5 4 8.5 4 10.5 12 64.5 8 50 4 21.5 4 21 8 34.5 4 11.5 8 14 4 3 8-3 4-6.5 8-29.5 4-9 4-5 4 8.5 4 10.5 4 26.5 4 20 4 14.5 4 7 4-1.5 4-4 8-15 4 1 8 6 4-0.5 8-6 4-1.5 12 1.5 8-7 16-18 12-5.5 12-17.5 16-27.5 20-28.5 12-20 8-7.5 4 2 8 7 8 3.5 8 18 4 14 4 8.5 4 1.5 4-3 16-49.5 4-6 4 6 4 15.5 4 46.5 4 60 4-13.5 8-75.5 4-20 4 1 4 5.5 20 22 4-10 4-15.5 4-12.5 8-16.5 4-4 8-4.5 4-4 24-53 8-14.5 4-1 8 0.5 16 3.5 4 2 8 7.5 4 0.5 20-7 8 7 12 12 12 10 4 2.5 36 11 20 5 20 7.5 24 13 16 10 16 21.5 8 12 8 9.5 4 2 4 0.5 4-0.5 16-3.5 8-1 4 1.5 16 9 12 2 4-0.5 8-1 4-2 12-6.5 12-3 24-11.5 16-13 8-3 4-2.5 4-4.5 16-12.5 20-21.5 20-28.5 40-47 16-16 20-17 4-4 16-24 28-52.5 16-26 12-22 16-26.5 20-35"/><path d="M100 655.5l8 0.5 4-1 8-3 12-6.5 4-2.5 24-20 24-26 16-21 12-14 8-12 20-25 16-22.5 8-14 4-5 4-1.5 4 7.5 8 29 4-9 4-18.5 4-5.5 4-1.5 4 2 4 3.5 4-5.5 4-13 4-8 8-29.5 12-35.5 8-20.5 12-22.5 20-30.5 12-14 16-20 12-13 4-2.5 4 0 12 4.5 4 6 4 11 4 13 4 15.5 4 21.5 8-20.5 4 1.5 4 13 4 18 4-7 8-51.5 4-17.5 4-3 4 10 8 28.5 4 10.5 8-35 4-16 4-11.5 4-17 4-22.5 4-18 4-15.5 4-8.5 4-7.5 4-4.5 8-8.5 8-7 12-7 12-8 16-6 8-2 4 1.5 4 0.5 8 5.5 4 7.5 8 24 4 10 4 7.5 4 6 8 5.5 4 2.5 4 1 4 2 8 8 8 23.5 4 16.5 8 39.5 12 67.5 4 19.5 8 33.5 4 11 8 15 4 3 8-4 4-6.5 8-30 4-8.5 4-5.5 8 19.5 4 27 4 20 4 14.5 4 7 4-2.5 4-4 8-16.5 4 0.5 8 6.5 4-0.5 8-5 4-1 12 1.5 8-7.5 16-17.5 12-5 12-18 16-29 20-30 12-20 8-8.5 4 2 8 7.5 4 1.5 4 2.5 8 19.5 4 14.5 4 9 4 2 4-3.5 16-51.5 4-6 4 6.5 4 16.5 4 49.5 4 63.5 4-14.5 8-80 4-21.5 4 0.5 4 5.5 12 12 8 10.5 4-8.5 4-14 4-10 8-11.5 4-1.5 8-1 4-2 8-16 12-27.5 8-16 4-7.5 4-0.5 12 2 12 3 4 2.5 8 7 4 0.5 8-1 12-3 20 16.5 16 11 12 4 12 5.5 12 4 20 5.5 4 1.5 16 7.5 24 10 16 7.5 20 23 8 7 4 2 20 1.5 16 2.5 4 1.5 16 8 12 2 12 0.5 4-1 12-5 12-2.5 24-11 16-10.5 8-1 4-2 4-3 16-8.5 16-13 4-4 20-24.5 44-41 16-7 16-5.5 4-2.5 16-18 16-24 16-21.5 12-14 4-5.5 24-25.5 20-23.5"/><path d="M100 638.5l8 0 4-0.5 8-3.5 16-9.5 24-17 4-4 8-8 12-14.5 44-59.5 28-31 8-12.5 8-8.5 4 1 8 10.5 4-3 4-8.5 4-4 4-0.5 4-1.5 4 2.5 4-4.5 16-47 12-28 8-23.5 12-23.5 20-32 4-3.5 8-8 20-28.5 12-13.5 4 0.5 8 5.5 4 6 4 8.5 8 14.5 8 19.5 4-12 4-9.5 4-1.5 8 21 4-2 8-36.5 4-12 4-3 4 2.5 4 7 8 17 4-11 4-18 4-14 12-34.5 8-20.5 4-12 8-17.5 8-11.5 12-11 20-10.5 4-0.5 4 1 8 1.5 8 3 8 0 8 3 4 5.5 8 14 4 5.5 4 4.5 4 2.5 16 7.5 4 1 8 1 4 3.5 4 9.5 4 17.5 8 40.5 8 45 8 31.5 8 26.5 4 8 4 3.5 4 7.5 4 5 8 3.5 4-3.5 8-25.5 4-8 4-2 4 7 4 9 4 20.5 4 16 4 9.5 4 5 4-1 4-3 4-5.5 4-4 12 5 4-0.5 8-4 4 1.5 8 3.5 4 1.5 4-1 4-2.5 16-16 12-2 4-3.5 8-11.5 16-27.5 4-4 8-6 4-4.5 12-16.5 4-3.5 4-1.5 4-3.5 4 0.5 8 2.5 8 0.5 4 5.5 4 7 4 10.5 4 6.5 4 0.5 4-2 12-26 4-6.5 4-3 4 5.5 4 10.5 4 31.5 4 40 4-9 8-52.5 4-14 4 0.5 4 4 12 9 8-0.5 4-10 4-14.5 4-11.5 8-17 4-5 8-5.5 4-4 8-12.5 4-8 16-34 4-6 8-4.5 20 7 4 4 8 11 4 3.5 12-10.5 8-5.5 8 6.5 4 5.5 8 13 8 10.5 4 5 4 2 8 3 16 5.5 12 1.5 20 1 16 2 4 1 40 18.5 12 14 20 25 4 2.5 4 0.5 16-0.5 12 1.5 4 1.5 16 10.5 12 3.5 4 0.5 8-0.5 4-1 12-5 12-3.5 24-13.5 16-15 8-3.5 4-3 4-4 16-12.5 16-17 4-5 20-29 44-55 16-24.5 20-28.5 16-32 28-64 16-31.5 48-116.5"/><path d="M100 649.5l8 0 4-1 20-9.5 12-8.5 16-13 24-26.5 16-22 12-14.5 8-12 12-15.5 8-9.5 16-21 8-12.5 4-5 4-2 4 5.5 8 24 4-7.5 4-16.5 4-5 4-1 4 1 4 3 4-4.5 4-13 4-9 12-41 16-43 12-22 20-30.5 12-14 20-27 12-12 4 0 8 4 4 3.5 4 7 4 10 4 12 4 14 4 19 8-20.5 4 1 4 12.5 4 16 4-5.5 8-48 4-16 4-3 4 8.5 8 24.5 4 9.5 8-35 4-16 4-12 12-51 4-12.5 4-10 4-8.5 4-7 8-9.5 8-7 4-2.5 12-5.5 8-4 8-1.5 16 0 4 0.5 4 0.5 8 4.5 4 7 8 20 4 8 4 6.5 4 4.5 12 7 8 2.5 8 5.5 4 8.5 4 11 12 65 8 49.5 4 21.5 4 21 8 34 4 11 8 14 4 3 8-3.5 4-7 8-29.5 4-9 4-5 8 19.5 4 26 4 20 4 14 4 7.5 4-2 4-4 8-14.5 4 1 8 6 4-0.5 8-5.5 4-1 12 1 8-7 16-16.5 12-6 12-18 16-27.5 20-30 12-20.5 8-8 4 2 8 7 4 2 4 2.5 8 19 4 14 4 8.5 4 2 4-3.5 16-50 4-6 4 6.5 4 16 4 47 4 60.5 4-13.5 4-41.5 4-35 4-20 4 1 4 6 12 12 8 9 4-10 4-15.5 4-12.5 8-16 4-4 8-4.5 4-3.5 20-43.5 8-16 4-7 4-1.5 4 0 8 1 12 3 4 2.5 8 7 4 1 8-3.5 12-5.5 8 6 16 16 8 7 4 2.5 36 11 20 5 20 8 24 13.5 16 10 16 21.5 8 12 4 5 4 3.5 4 1.5 8 0.5 16-3 8-0.5 4 1.5 16 8.5 12 3 4 0.5 8-0.5 4-1.5 12-7 12-3.5 24-12 16-13.5 8-2.5 4-3 4-4 16-12.5 20-20.5 20-28.5 32-38.5 16-17 12-11 16-13.5 4-4 16-24.5 28-51.5 16-24 48-82"/><path d="M100 658.5l8 0 4-1 20-8.5 4-2 16-12.5 8-6.5 4-4 20-22 16-22.5 12-15.5 8-13 12-16 8-9.5 12-17.5 4-5 4-6 4-7.5 4-5 4-0.5 4 8 8 29.5 4-9 4-18.5 4-5.5 4-1 4 2 4 3 4-5 4-13.5 4-8.5 12-44.5 8-24 8-19.5 12-20.5 20-29 20-26 12-14 8-8 4-2.5 4 0 4 1.5 8 1 4 6 8 25 4 15.5 4 21.5 8-20.5 4 2 4 13 4 18 4-7.5 8-51 4-18 4-2 4 10 8 29 4 10 8-35.5 4-16 4-12 4-17 4-22 4-18.5 4-16.5 4-7.5 4-7.5 4-4.5 8-8.5 8-7 12-6 12-7.5 20-8.5 4-1 4 1.5 4 0.5 4 2.5 4 3.5 4 8.5 8 24.5 4 10 4 8 4 6 8 5.5 4 2 4 0.5 4 2.5 8 8 8 23.5 4 17 8 40.5 8 47.5 8 41 4 17.5 4 16 4 10.5 4 7.5 4 7.5 4 3 8-4.5 4-7.5 8-30.5 4-8.5 4-5.5 8 20 4 27.5 4 20 4 14.5 4 7 4-2 4-4.5 8-16 4 0.5 8 6.5 4-0.5 8-5 4-1 12 1.5 8-7.5 16-18.5 12-5.5 12-18 12-22 4-6.5 20-29 12-21 8-8.5 4 2 8 8 4 2 4 3 8 21 4 15 4 9 4 1.5 4-3.5 16-53.5 4-6.5 4 7 4 16 4 49.5 4 63 4-14 8-81 4-21.5 4 0.5 4 6 12 13 8 15 4-7.5 4-13.5 4-9.5 8-9.5 12-4 4-2 12-24.5 8-18 12-22 4-0.5 24 4 4 2 8 6.5 4 0.5 8-1 12-3 4 2.5 20 17.5 12 9.5 16 5.5 8 3.5 32 8 20 8.5 24 7 16 6.5 16 18.5 12 9.5 4 1.5 12 0 16 1.5 12 2.5 16 6.5 12 0.5 8 0 4 1 4 0 12-3.5 12-2 24-6 16-10.5 8-0.5 4-2 4-2.5 12-5.5 4-2.5 16-12 4-3.5 8-10 12-13 40-34 4-3 32-7.5 4-2 16-16.5 20-27.5 12-15 12-11 4-4.5 24-20 20-19.5"/><path d="M100 653.5l8 0.5 4-1 8-3 12-5.5 4-2.5 24-20 12-12.5 12-14.5 16-22 12-14.5 8-13 12-15 8-9.5 16-21 8-13 4-5 4-2 4 6.5 8 28.5 4-8.5 4-18.5 4-5.5 4-0.5 4 2 4 3.5 4-5 4-13 4-8.5 8-31 4-13 8-22.5 8-20 12-20.5 20-29 12-14.5 16-22 12-13 4-3.5 4 0 8 3 4 2 4 6.5 4 10 4 13 4 15.5 4 21 8-20.5 4 1.5 4 13 4 18 4-7 8-51.5 4-17.5 4-3 4 10 8 28.5 4 10 8-35.5 4-16 4-12 4-17 4-22 4-18 4-14.5 4-9 4-8 4-5.5 8-9 4-3.5 4-3 4-2.5 12-5 8-4 20-5.5 4-0.5 4 1 4 0.5 8 5 4 7.5 8 23.5 4 10 4 7.5 4 6 8 6 4 2 4 1 4 2 8 7 8 23.5 4 16.5 8 40.5 8 47.5 8 41.5 8 33.5 4 10.5 8 14.5 4 2.5 8-4 4-7 8-30 4-9 4-5.5 8 19.5 4 27 4 20 4 15 4 7 4-2 4-4.5 8-16 4 0 8 6.5 4 0 8-5.5 4-0.5 12 2 4-3 8-8 12-14 12-6 12-18 12-22 24-36.5 12-21 8-8.5 4 2 8 8 8 4.5 8 19.5 4 15 4 9 4 2 4-3 16-53 4-6.5 4 6.5 4 16.5 4 49.5 4 63 4-13.5 8-80 4-21 4 1 4 6 12 12.5 8 10.5 4-10.5 4-16.5 4-12.5 8-15.5 4-2 8 0 4-2 12-24 12-26.5 8-15.5 4-1 12 1.5 12 3 4 2.5 8 6.5 4 0 20-6 4 2.5 20 18 12 9 20 5.5 36 11.5 44 21 16 9.5 20 26 8 8.5 4 2.5 8 1.5 28 3 4 1 16 8.5 12 3 4 0.5 8 0 4-1.5 12-5.5 12-3.5 24-11.5 16-12 8-2 4-2.5 4-3.5 16-10 16-13.5 4-4 20-26.5 16-16.5 24-23 4-3.5 32-16.5 4-3.5 16-21 28-43.5 4-5.5 40-50 20-27"/><path d="M100 647.5l8 0.5 4-1 8-3 12-7 28-21.5 12-12 12-14 16-22.5 12-15 8-11.5 20-24.5 16-21.5 8-13 4-5 4-2.5 4 5 8 21.5 4-6.5 4-14 4-4.5 4-1 4 0.5 4 2.5 4-5 4-13 4-10 8-27.5 4-12 16-41 12-22 20-31 12-12 20-27 12-13 4 0 8 3.5 4 4 4 7 4 9 4 11 4 13 4 16.5 8-20.5 4 0.5 4 11.5 4 15.5 4-4.5 8-45.5 4-15 4-3 4 6.5 8 22.5 4 9.5 12-49 4-11.5 12-47.5 8-22 4-8.5 4-7 8-9.5 4-4 8-6 20-10 8-0.5 12 0 8 1 4 0 8 3.5 4 6.5 8 18 4 7.5 4 5.5 4 4 12 7 8 3 8 4.5 4 7.5 4 10.5 4 20 8 45 8 50 8 41 4 18 4 16.5 4 11 8 13.5 4 3.5 8-3 4-6.5 8-29 4-9 4-4.5 4 8.5 4 11 4 25.5 4 19.5 4 14 4 7 4-2 4-4 8-14.5 4 0.5 8 6.5 4-0.5 8-4.5 4-0.5 12 2 8-7 16-18.5 12-5 12-16.5 16-27.5 16-23.5 16-25 8-7 4 2 8 6.5 8 4 8 17.5 4 13.5 4 8 4 1.5 4-3 16-48.5 4-6 4 6 4 15 4 45 4 58 4-12.5 8-72 4-19.5 4 1 4 5.5 4 4.5 16 14.5 4-10 4-16 4-12.5 8-17 4-4 8-5 4-4 20-44.5 8-16.5 4-6.5 4-1 4-0.5 20 4 4 2.5 8 7.5 4 1.5 20-9 8 6 20 20.5 4 3.5 4 2.5 16 5 8 3.5 12 4 20 4.5 16 4.5 28 12.5 16 10 16 22.5 8 13 8 11 4 3 4 0 16-4.5 12-2 4 1.5 16 9 12 2 4 0 8-1 16-8 12-3 16-8 8-4.5 16-14.5 8-2.5 4-3 4-3.5 12-8.5 4-3.5 20-23 20-29.5 36-44.5 16-17.5 24-24 4-5 16-27.5 16-31.5 12-22 16-24.5 48-92.5"/><path d="M100 658.5l8 0 4-1 20-8.5 4-2.5 24-19.5 12-12 12-13.5 16-22 12-14 8-12.5 20-24.5 16-23.5 4-7 4-8 4-5.5 4-1 4 8 8 29.5 4-9 4-18.5 4-5.5 4-1.5 4 2.5 4 3 4-5 4-13 4-8.5 12-44 8-23.5 8-19 12-20.5 20-30 20-26.5 12-13.5 8-8 4-2.5 4 0 4 1.5 8 1.5 4 6 8 25.5 4 15 4 21.5 8-20.5 4 2 4 13 4 17.5 4-7 8-51.5 4-17.5 4-3 4 10.5 8 28.5 4 10.5 8-35.5 4-16 4-11.5 4-17.5 4-22.5 8-34.5 4-7.5 4-7 8-8.5 12-10 12-6.5 12-8 20-9 4-1.5 4 1.5 4 0.5 4 2.5 4 3.5 4 8 8 23.5 4 10 4 7.5 4 6 8 6 4 2 4 1 4 2.5 8 8 8 24 4 17 8 40.5 8 48 8 41 8 33.5 4 10.5 8 14.5 4 3 8-4 4-7 8-30.5 4-9 4-5.5 8 20 4 27 4 20.5 4 15 4 7 4-1.5 4-4.5 8-15.5 4 1 8 7 4 0 8-5.5 4-1.5 12 1 12-12 12-14 12-5.5 12-17.5 12-21.5 24-37.5 12-20.5 8-8.5 4 2.5 8 8 8 4.5 8 20 4 15 4 9 4 2 4-3 16-53 4-6.5 4 6 4 16.5 4 49 4 63 4-14 8-80 4-21.5 4 1 4 6 12 12.5 8 15.5 4-7.5 4-13.5 4-10 8-10 4-2.5 8-3 4-2 12-24 8-18 12-21.5 4 0 12 2 12 3 4 2 8 7.5 4 0.5 8-0.5 12-3 4 2.5 16 13.5 16 12 16 5 8 3.5 32 9.5 20 6.5 24 7 16 5.5 16 17.5 12 9.5 4 1 12 0.5 24 4 4 1 16 6.5 12 0.5 8 0 4 1 4 0 12-3.5 12-1.5 20-5.5 4-1.5 16-10.5 8 0 4-1.5 4-3 12-5.5 4-2.5 16-12 4-4 8-10 12-13 40-31.5 4-3 32-6.5 4-2 16-15 16-20.5 16-22 16-18 24-17.5 20-18"/><path d="M100 632.5l8-0.5 4-0.5 8-3.5 16-9.5 24-17 12-12 4-4.5 32-42.5 24-29.5 24-26 8-11.5 8-9.5 4-0.5 8 3.5 4 0 4-5 4-3 4-0.5 4-3 4 2 4-5 8-23.5 8-21.5 12-25.5 8-25 12-24.5 20-33 12-10.5 20-26.5 12-14 4 1 8 4.5 4 7 4 9 8 11 4 8 4 6 4-12.5 4-8.5 4-3 8 17 4 0 4-17.5 4-14.5 4-10 4-3.5 4-0.5 8 11 4 8.5 4-9 4-18 4-12.5 8-19.5 12-24.5 4-13.5 8-18.5 8-11.5 12-10.5 20-10.5 4-0.5 8 2.5 4 1 8 4.5 8-1.5 8 1.5 12 17 4 4.5 4 3 8 3.5 12 6 4 0.5 8-1.5 4 1 4 8 4 14.5 16 70 4 10 8 16.5 4 5 4 2.5 4 0.5 8 14.5 8 9 4-1 8-22.5 4-7.5 4 1.5 4 5 4 8.5 8 28 4 5.5 4 3.5 4 0.5 4-2 4-3 4-0.5 4 3 4 1 4 0 12-3.5 8 6 4 2.5 4 2 4 0.5 4-1 16-14.5 12 0.5 4-1 8-11 16-24 4-2 8-1 4-3 8-10.5 4-3 4 0 4 0.5 4-2.5 4-1 8-1 8-2 4 1.5 4 4.5 4 6.5 4 3 4-1 4-2.5 8-11.5 4-3 4-1.5 4 0 4 5 4 6.5 4 17 4 21.5 4-5 8-29 4-8 4 0 12 6 4 3 8-7.5 4-9 8-22.5 8-16 4-4.5 4-1 8-4 4-2.5 4-3.5 8-14 12-27.5 4-5 8-6 20 8.5 4 4 4 6.5 8 10.5 12-13.5 8-6.5 8 7.5 4 6.5 8 16 12 19 12 6 16 4.5 4-1 20-0.5 16 0.5 8-0.5 4 0.5 24 10 16 7 16 17.5 16 13 36 13.5 4 2 4 3 12 9.5 12 5 4 1 8 0 4-1 12-5.5 12-3.5 24-13.5 16-14.5 8-3 4-3 8-8 12-10 16-16.5 4-4.5 20-28.5 28-35.5 16-18.5 4-6 32-54 16-33 28-69 16-35.5 16-39.5 12-30.5 20-54.5"/><path d="M100 633.5l8 0 4-1 8-3 12-7 24-15.5 4-2.5 4-4 8-8 4-5 32-44 24-29 24-28.5 8-11.5 8-8 4 0.5 8 6 4-1 4-6 4-3.5 4-0.5 4-2.5 4 2 4-4.5 16-45 12-26.5 8-24 12-24 20-33 12-10.5 20-27.5 12-14 4 0.5 8 4.5 4 6 4 9 8 11.5 4 8.5 4 7 4-12 4-9 4-2 8 18 4 0 8-34 4-10.5 4-3.5 4 0 4 6 4 6.5 4 8.5 4-9.5 4-17.5 4-13 12-30 8-17.5 4-13 8-18.5 8-11.5 12-11 20-10 4 0 4 1 8 3 8 4.5 8-0.5 8 1.5 4 5 8 12 4 5 4 3.5 20 10.5 4 1 8-1.5 4 2 4 8 4 15.5 8 35.5 8 39.5 8 22.5 4 9.5 4 7.5 4 4 4 1.5 4 7.5 4 6 8 8 4-2 8-22.5 4-7 4 0 4 6 4 8.5 4 16.5 4 14 4 6.5 4 4 4-0.5 4-2 4-4 4-1 4 2.5 4 2 4 1 4-1 8-3.5 12 7 4 1.5 4-0.5 4-1 16-16 12-0.5 4-2 8-11 16-23.5 4-2.5 8-3 4-4 8-11.5 4-4.5 4-1.5 4 0 4-2.5 4-0.5 8 1 8-0.5 4 3 4 5.5 4 7.5 4 3.5 4-0.5 4-3 8-14.5 4-4.5 4-3.5 4-0.5 4 5.5 4 8.5 4 22 4 28.5 4-6 8-37 4-10 4 0 12 6.5 4 3.5 8-5 4-9 8-23.5 8-17.5 4-4.5 8-4 4-3 8-8 8-14.5 12-27.5 4-5.5 8-5.5 20 9 4 4.5 8 11.5 4 5 12-12.5 8-6 8 7 4 6 8 14.5 12 17 12 5.5 16 5 4-0.5 44 1.5 4 1 12 5.5 16 5.5 12 5.5 16 18.5 8 8 8 7.5 4 1.5 20 4 12 4 4 1.5 16 11.5 12 4 4 1 8 0 4-1 12-5 12-4.5 24-13 16-14 8-2.5 4-2.5 4-4 16-12 16-16.5 4-5 20-29.5 44-54.5 36-58 16-33 28-68 16-34 4-9.5 20-49.5 24-64.5"/><path d="M100 650.5l8 0 4-0.5 20-8 8-6 20-16.5 12-12.5 12-13.5 16-22 12-14.5 8-12 36-47 8-13 4-5 4-2 4 6.5 8 28 4-8 4-17.5 4-5 4-1 4 2 4 3.5 4-5 4-13 4-8.5 12-44 16-43 12-22 20-31 12-13.5 20-26 8-8 4-3 4 0.5 8 3 4 3 4 7 4 9.5 4 12.5 4 15.5 4 20.5 8-20.5 4 1.5 4 12.5 4 17.5 4-7 8-51 4-17.5 4-2.5 4 9.5 8 28 4 10.5 12-51 4-12 4-16.5 4-21.5 4-17 4-13.5 4-9.5 4-8 4-6 8-9.5 4-4 8-6 12-6.5 8-4.5 16-4 8-1 4 1 4 0 4 2 4 3 4 7.5 8 22 4 9.5 4 7.5 4 5.5 8 5.5 4 2 4 0.5 4 2 8 6 8 21.5 12 62 8 48 8 41.5 8 34 4 11 8 14.5 4 3 8-4 4-6.5 8-29.5 4-9 4-5 8 20.5 4 27 4 20 4 14.5 4 7.5 4-2 4-4.5 8-16 4 0.5 8 5.5 4-1 8-5.5 4-1 12 1.5 8-6.5 16-16 12-5 12-18.5 16-29.5 20-30 12-20.5 8-8 4 2 8 7.5 8 5 8 20 4 14.5 4 9 4 1.5 4-3.5 16-52.5 4-6.5 4 6.5 4 16 4 48.5 4 62.5 4-13.5 8-79 4-21 4 0.5 4 6 12 12.5 8 10 4-10 4-16 4-12.5 8-16 4-3.5 8-3.5 4-2.5 12-24 12-26.5 8-15.5 4-1 12 0.5 12 3 4 2.5 8 7 4 0 20-6 36 29 28 10 28 7.5 8 3.5 36 19 16 9.5 24 32 4 4.5 4 3 4 1 32 3 4 1.5 16 8 12 2 4 0.5 8-1 4-2 12-7 12-3.5 24-11 16-13.5 8-3 4-2.5 4-4 16-10.5 16-15.5 4-4.5 20-27 40-43 4-3.5 4-3 28-18 4-3.5 16-22 28-48.5 44-63 20-30.5"/><path d="M100 643.5l8-0.5 4-1 20-8.5 8-5.5 20-16 12-12.5 12-13.5 16-21 12-14.5 8-11.5 12-15.5 8-9 16-20.5 8-13 4-5 4-3 4 4 8 18.5 4-5 4-12.5 4-4.5 8-0.5 4 3 4-5 4-12.5 4-10 8-27 4-11.5 8-20.5 8-22.5 12-23.5 20-31.5 12-12.5 8-10.5 12-15 12-11.5 4 0.5 8 4 4 4 8 15.5 4 10 4 12 4 15 4-11.5 4-9.5 4 0 4 11 4 14 4-4 8-43 4-14.5 4-3.5 4 5.5 12 30 12-46 4-11 12-43.5 8-23 4-9.5 4-8 8-11 4-3.5 8-6.5 20-10 4-0.5 4 0 8 0.5 12 2 4 0 8 3.5 4 6.5 8 17 4 7 4 5.5 4 4 12 6.5 16 6 4 6.5 4 9.5 4 20 8 44 8 49.5 12 57.5 4 16 4 11 4 6 4 7.5 4 3.5 8-1.5 4-5.5 8-29 4-9 4-4.5 4 8 4 10 4 25 4 19 4 13.5 4 6.5 4-1 4-3.5 8-13.5 4 1 8 5.5 4-0.5 8-5.5 4-0.5 12 2.5 8-6 16-17.5 12-4.5 4-5 8-12 16-27.5 16-19.5 16-25.5 8-7 4 1.5 8 6 8 3 8 16.5 4 13 4 8 4 1.5 4-3 16-44.5 4-5 4 6 4 14 4 42 4 54 4-12 8-69 4-18 4 0.5 4 5.5 4 3.5 8 7 8 5.5 4-10.5 4-15 4-12.5 8-17 4-4 8-5 4-4.5 12-24.5 16-34.5 4-6.5 4-1.5 4-0.5 12 4 8 1.5 4 2.5 8 8 4 1.5 20-10 8 6 20 22 4 4 4 2.5 8 3 16 5 20 5 32 9 24 11 16 9 16 20 16 23.5 4 3.5 4 0 16-3 12-1 4 1 16 8.5 12 3 4 0.5 4-0.5 4-0.5 4-2 12-7.5 12-4 24-11 16-13.5 8-3 4-3 4-4 16-13 16-17.5 4-5 20-29 40-50 20-26.5 20-24 16-27.5 28-57 16-29 28-56 20-41.5"/><path d="M100 633.5l8 0 4-0.5 8-3.5 40-27.5 8-8 4-4 12-15 8-12 12-16.5 28-33.5 24-27 8-12 8-9 4-0.5 8 4 4 0 4-4.5 4-3 4 0 4-3 4 2.5 4-5 16-45.5 12-26 8-25 12-23.5 20-32 12-10.5 20-27 12-13.5 4 0.5 8 4 4 7 4 8.5 8 10.5 4 8 4 5.5 4-12.5 4-9 4-2.5 8 17 4 0.5 4-17 4-14 4-9.5 4-3.5 4-0.5 8 10.5 4 8 4-8.5 4-18 4-12.5 8-19 12-25 4-14 8-19.5 8-12.5 12-11 4-2.5 16-6.5 4 0.5 12 4 8 4.5 8-1 8 2 12 16 4 4 4 2.5 8 2.5 12 6 4 1 8-1.5 4 1.5 4 8 4 14.5 16 71 4 9.5 8 16.5 4 4.5 4 2 4 0 8 14.5 8 9.5 4-1 8-21.5 4-6.5 4 1 4 6 4 8.5 8 28 4 5.5 4 3.5 4 0.5 4-2 4-3 4-0.5 4 2.5 4 1.5 4 0 12-4 12 8.5 4 1.5 4 0.5 4-1 16-16 12 0.5 4-1.5 24-34 4-2 8-0.5 4-3.5 8-11 4-3 4 0 4 0.5 4-2 12-1 8-2.5 4 1.5 4 4 4 6 4 3 4-1 4-2.5 8-11.5 4-3 4-1.5 4 0.5 4 5 4 7 4 17 4 22 4-4.5 8-29.5 4-8 4 0.5 12 5 4 3 8-7 4-8.5 8-21.5 8-16 4-4 4-1.5 8-4 8-7 8-14.5 12-27.5 4-5.5 8-6.5 20 9 4 4.5 4 7 8 11.5 12-13.5 8-7 4 2.5 4 4 4 6 8 16 12 19 16 8 12 4 20-1.5 20 0 8-1 4 0.5 24 9 16 7.5 16 17 12 9.5 4 3 16 5 16 7 8 4 16 12 12 5.5 4 1 8 0.5 4-0.5 12-5 12-4.5 24-14.5 16-14.5 8-2.5 4-2.5 4-4 12-8.5 4-3.5 20-22 20-30 44-53.5 36-60 16-33 28-67.5 16-35 24-60.5 24-65.5"/><path d="M100 634.5l8 0 4-0.5 8-3.5 16-9 24-17.5 12-12.5 12-15.5 20-28.5 52-60.5 8-12 8-9 4 0 8 5 4-0.5 4-5 4-3 4 0 4-2 4 2 4-4.5 16-46 12-27 8-25 12-24.5 20-32 4-3 8-8 20-28 12-13.5 4 1 8 5 4 7 4 9 8 12 4 8.5 4 7 4-12.5 4-9 4-2.5 8 18 4 0 8-32.5 4-10 4-3 4 0.5 8 11.5 4 8 4-9.5 4-18.5 4-13 12-30 8-17.5 4-13.5 8-18.5 8-12 12-11.5 8-4 12-5 4 0.5 4 1.5 8 3 8 4 8-1.5 8 1.5 4 4.5 8 12.5 4 5 4 3.5 20 8.5 4 0.5 8-1.5 4 2 4 8.5 4 16 16 76 4 11.5 8 19 4 6.5 4 3.5 4 1 4 7 4 6 8 7.5 4-2 8-22 4-7 4 1.5 4 6 4 9.5 4 16.5 4 13.5 4 6.5 4 3.5 4 0 4-2 4-4 4-1.5 4 3 4 1 4 0.5 4-0.5 8-4 12 7 4 1.5 4 0 4-1 16-16 12 0 4-1.5 8-11.5 16-25 4-2.5 8-2 4-3.5 8-11 4-4 4-1 4 0.5 4-2.5 4-1 8 0.5 8-0.5 4 3 4 5.5 4 7.5 4 3.5 4-1 4-3 8-14 4-4 4-3 4 0 4 5 4 8.5 4 21 4 27 4-5.5 8-35.5 4-9.5 4 0.5 4 2.5 8 3.5 4 3 8-6 4-9 8-23.5 8-17 4-4.5 8-3.5 4-2.5 8-8 8-14.5 12-26.5 4-5 8-5.5 20 7.5 4 4 8 11.5 4 5 12-13 8-6 8 7 4 6.5 8 15.5 12 17.5 12 5 16 4.5 4 0 8 1 16 0.5 12 0 8-1 4 0 20 7.5 8 3.5 12 6.5 16 19 8 7.5 8 7 4 1.5 16 3.5 16 6 4 2 16 11 12 3.5 4 1 8 0 4-1 24-9 24-12.5 16-14.5 8-2.5 4-2.5 4-4.5 16-12.5 16-17 4-5 20-30.5 44-52 36-59 16-33 28-68 16-34 4-9.5 24-61 20-52.5"/><path d="M100 632l8 0 4-1 8-3.5 16-9 24-16.5 16-17 56-72.5 12-14 12-12.5 8-11 8-9 4-0.5 8 3.5 4 0 4-4.5 4-3.5 4 0 4-3.5 4 2 4-5 8-23.5 8-21.5 12-25 8-25 12-23.5 12-19 8-13.5 12-12 20-28 12-13 4 1 8 5.5 4 7 4 9.5 8 11 4 8 4 5.5 4-12.5 4-9.5 4-2.5 8 16.5 4 0 4-17.5 4-14 4-10 4-3 4 0 8 11.5 4 8.5 4-8.5 4-18 4-12.5 8-20 12-26.5 4-14 8-19.5 8-11.5 4-4 8-6 12-4.5 8-4.5 4 0 8 1.5 4 1 8 4.5 8-0.5 8 2 12 16 4 4.5 4 3.5 20 8.5 4 0.5 8-2 4 1.5 4 8 4 14.5 16 70 4 10 8 16.5 4 5.5 4 2.5 4 0.5 8 15.5 8 9.5 4-1 8-22.5 4-7 4 1 4 5.5 4 8.5 8 27 4 5.5 4 3 4 0 4-2 4-3 4-0.5 4 3 4 1.5 4 0 12-3.5 12 9.5 4 2 4 1 4-1 16-16.5 12 0.5 4-1 8-11 16-24.5 4-2 8-1 4-3 8-11 4-3.5 4 0 4 0.5 4-2 12-1 8-2 4 1.5 4 4.5 4 6 4 3 4-1 4-2.5 8-11.5 4-3 4-1.5 4 1 4 4.5 4 7 4 17.5 4 22.5 4-4.5 8-29.5 4-8 4 0 12 5 4 2.5 8-7.5 4-9 8-22 8-16.5 4-4.5 4-1 8-4.5 8-6.5 8-14.5 12-26.5 4-5 8-5.5 20 8.5 4 4 4 6.5 8 10.5 12-14 8-7 4 3.5 4 4 4 7 8 17 12 19 12 5 16 4 4 0 28 1 8 0 8-1.5 4 0.5 12 4.5 12 4.5 16 7.5 16 17.5 12 10.5 4 3 4 1.5 12 2.5 12 4 12 6 16 12 12 4.5 4 1 8 0 4-0.5 12-5.5 12-4 24-11.5 16-14.5 8-3.5 4-2.5 4-4.5 12-8.5 4-3.5 16-17 4-5 20-29.5 44-53 36-60.5 16-34 28-68 16-34.5 24-61 24-64.5"/><path d="M100 657l8 0 4-1 20-9 4-2.5 24-20 12-11.5 12-13.5 16-23 12-15 8-12.5 12-15 8-9.5 16-22 8-14 4-5.5 4-1 4 7 8 29 4-8.5 4-18.5 4-5.5 4-1.5 4 2 4 3 4-5 4-13.5 4-8.5 8-30 4-13.5 8-22.5 8-19 12-21 20-30 12-14.5 20-26 8-8.5 4-2.5 4 0 12 4 4 6.5 8 24.5 4 15.5 4 21.5 8-20.5 4 2 4 13 4 18 4-7 8-51.5 4-18 4-2.5 4 10 8 29 4 10.5 12-52 4-12 4-17.5 4-22.5 8-34 8-16 12-13 8-7 24-13 4-1 20-5 4 1.5 4 0 8 5 4 7.5 8 23.5 4 10 4 7.5 4 6 8 5.5 4 2 4 1 4 2.5 8 8.5 8 23.5 4 16.5 8 39.5 8 46 8 40 8 32.5 4 11 8 15.5 4 3.5 8-4 4-7 8-30.5 4-9 4-6 8 19.5 4 27 4 20 4 15 4 7 4-2 4-4.5 8-16 4 0.5 8 6 4-0.5 8-5 4-1 12 2.5 8-7.5 16-18 12-6 12-18.5 12-22 24-34.5 12-21.5 8-9 4 2 8 7.5 4 2 4 3 8 20.5 4 15 4 9.5 4 2 4-3 16-53 4-6.5 4 6.5 4 16.5 4 49 4 63 4-14 8-80.5 4-21.5 4 0.5 4 5.5 12 12.5 4 5.5 4 7 4-8 4-13.5 4-10 8-11 4-1.5 8-2 4-2.5 24-50.5 8-14 4-0.5 12 1.5 12 2.5 4 2 8 7 4 0.5 8-1 12-2.5 36 28.5 24 8.5 32 8.5 16 6.5 28 10 16 8.5 16 20 12 11 4 2 4 1 20 0.5 12 1 4 1 16 8 12 2.5 12 0 4-0.5 12-5 12-2.5 24-9 16-11.5 8-1.5 4-2 4-3 16-9 16-12.5 4-3.5 20-24.5 12-11 32-27 20-8.5 12-4 4-2 16-18 16-24 16-22.5 12-13.5 4-5.5 24-23.5 20-22"/><path d="M100 654.5l8 0.5 4-1 8-3.5 12-7 16-13 12-9.5 12-11.5 12-14 16-22 12-14 8-12 20-25.5 12-17 4-4.5 8-13 4-5.5 4-1.5 4 6.5 8 29 4-9 4-19 4-5.5 4-1.5 4 1.5 4 3.5 4-5.5 4-13 4-8 8-29.5 4-13 8-22 8-20 12-21 20-30.5 12-14.5 20-25 8-8.5 4-3 4 0 12 5 4 6.5 4 10 4 13 4 15 4 21.5 8-20 4 2 4 13 4 18 4-7 8-52 4-18 4-3 4 10.5 8 29.5 4 11 12-51 4-11.5 4-17.5 4-22.5 4-18.5 4-15 4-9 4-8 4-5.5 8-8.5 8-6.5 12-6.5 12-7.5 4-1.5 12-3.5 8-2 4 1.5 4 0.5 8 5 4 8 8 23.5 4 10 4 7 4 6 8 5.5 4 2 4 1 4 2 8 8 8 24 4 16.5 8 41 8 48 8 41.5 8 33 4 10 8 14 4 3 8-4 4-6.5 8-30 4-8.5 4-5 8 19.5 4 27 4 20.5 4 14.5 4 7 4-2.5 4-4.5 8-16.5 4 0.5 8 6.5 4 0 8-5.5 4-1 12 1.5 4-3 8-7.5 12-13.5 12-6.5 12-19.5 12-22 24-35 12-21 8-8 4 2.5 8 8 8 4.5 8 19.5 4 14.5 4 9 4 1.5 4-3 16-53.5 4-7 4 6.5 4 16.5 4 49.5 4 64 4-13.5 8-80 4-21 4 0 4 6 12 12 8 10.5 4-10 4-15.5 4-12.5 4-7.5 4-6 4-2 8-0.5 4-2.5 12-24 8-18 12-23 4-1 12 1 12 3 4 2.5 8 6.5 4 0.5 8-1 12-3.5 8 5.5 28 22 16 4.5 20 7.5 20 5 8 4 20 10.5 20 8.5 12 7 20 25.5 8 8 4 2.5 4 1 20 1.5 12 1.5 4 1.5 16 9 12 2.5 4 0.5 8-0.5 4-1 12-6 12-3 24-10 16-11.5 8-1.5 4-2 4-3.5 12-8 20-18 4-4.5 20-25 20-20.5 20-18.5 4-3.5 32-15 4-3.5 16-20.5 28-42.5 16-19.5 4-5.5 24-27.5 20-26.5"/><path d="M100 649.5l8-0.5 4-1 20-8 4-2.5 24-18.5 12-11.5 12-14 16-21.5 12-14 8-12.5 12-16 8-10 8-11.5 8-10 8-12.5 4-5 4-2 4 6 8 27 4-8 4-17.5 4-5.5 4-1 4 1.5 4 3 4-5 4-13.5 4-8.5 8-29.5 4-13 16-42.5 12-22 20-30.5 12-14 20-26.5 8-8.5 4-3 4 0 8 3.5 4 3 4 6.5 4 10 4 12.5 4 15 4 20.5 8-21 4 1 4 12.5 4 17 4-6 8-49.5 4-17 4-2 4 9.5 8 27 4 10 12-51.5 4-12 4-16.5 4-21.5 4-17 4-13.5 4-10 4-8 4-6.5 8-9.5 8-6 4-2.5 12-5 8-4.5 16-4 8-1 4 1 4 0 8 4.5 4 7.5 8 21.5 4 9 4 7 4 5.5 8 5 4 1.5 4 1 4 2 8 6 8 21.5 12 63.5 8 48.5 8 42 8 34 4 11.5 8 14.5 4 3.5 8-3.5 4-6.5 8-30 4-9.5 4-5.5 4 8.5 4 10 4 26.5 4 20 4 14.5 4 7.5 4-1.5 4-4 8-15 4 1 8 6.5 4-0.5 8-6 4-1 12 1 8-7.5 16-17.5 12-5.5 12-17 12-21.5 24-37 12-21 8-8 4 2.5 8 7.5 8 4.5 8 19.5 4 14 4 9 4 1.5 4-3 16-51 4-6.5 4 6.5 4 16 4 48 4 62 4-14 8-79 4-20.5 4 0.5 4 6 12 13 8 10.5 4-10.5 4-16 4-12.5 8-16.5 4-3.5 8-3.5 4-2.5 12-25.5 12-27 8-14.5 4-1 12 1 12 2.5 4 2 8 7.5 4 0 4-0.5 16-4.5 36 28.5 56 18.5 44 20.5 16 10.5 24 33.5 4 4 4 3 4 1 8 0.5 12 1.5 12 0 4 1 16 8 12 2.5 4 0.5 8-0.5 4-1.5 12-7 12-3.5 24-11.5 16-13 8-3 4-3 4-4 4-3.5 12-8.5 20-20 20-27.5 24-27.5 16-16.5 4-4 12-9.5 20-13 4-3.5 16-23.5 28-47.5 16-22.5 12-18.5 16-23.5 20-31.5"/><path d="M100 658l8 0.5 4-1.5 8-3.5 12-6.5 4-2.5 24-20.5 12-11.5 12-13 16-22 12-15 8-12.5 12-14.5 8-8.5 16-22 4-6.5 4-8 4-5.5 4-2 4 7.5 8 28.5 4-9 4-18.5 4-5 4-1 4 2.5 4 3.5 4-5 4-13 4-8.5 12-45 8-23.5 8-19.5 12-20.5 20-29 24-32 8-9 8-7.5 4-2 4 0.5 4 1.5 8 2 4 6.5 8 24 4 15 4 21.5 8-21 4 1 4 13 4 18 4-7.5 8-51 4-17.5 4-2.5 4 10 8 29 4 10.5 12-51 4-12 4-17 4-22.5 8-35 8-15.5 8-9 4-4 8-6.5 12-5.5 12-8 20-8.5 4-0.5 4 1.5 4 0.5 8 5.5 4 8 8 24 4 10 4 8 4 6.5 8 6.5 4 2 4 1 4 2.5 8 8 8 23.5 4 17 8 40.5 8 47 8 40 8 32.5 4 10 8 14.5 4 3 8-4 4-7 8-30.5 4-9.5 4-5.5 4 9 4 10.5 4 27 4 20.5 4 15 4 7.5 4-1.5 4-4 8-15.5 4 0.5 8 7 4-0.5 8-5.5 4-1.5 12 0.5 12-11.5 12-12.5 12-6 12-18.5 12-22 24-37.5 12-20.5 8-8.5 4 2.5 8 8 8 5 8 20 4 14.5 4 9 4 2 4-3.5 16-53 4-6.5 4 6.5 4 16.5 4 49 4 63.5 4-14 8-80.5 4-21 4 0.5 4 6 12 13.5 8 15 4-8 4-13.5 4-10 8-11 4-2.5 8-2.5 4-2.5 12-24 12-25.5 8-14.5 4-1 12 1.5 12 2 4 2.5 8 7 4 0.5 8-0.5 12-3 8 6 28 23 24 10.5 12 3.5 20 4 20 8 24 8.5 16 6.5 16 17.5 12 9 4 1.5 12 1 24 5.5 4 1 16 7 12 0.5 8-0.5 4 0.5 4-0.5 12-3 12-1 24-8.5 16-10.5 8-1.5 4-2 4-3 16-8.5 16-11.5 4-4 20-23.5 40-36 4-2.5 32-10 4-2.5 16-16.5 32-42.5 12-13 4-5 24-21.5 20-22"/><path d="M100 643l8 0 4-1 8-3 12-7 28-22 12-12 12-13.5 36-48 20-23 16-19.5 8-13 4-5 4-3 4 3 8 16 4-4 4-11.5 4-4 8-1 4 2.5 4-5 4-12.5 4-10.5 8-26 4-11 8-19.5 8-22.5 12-23.5 20-31.5 12-12.5 20-27.5 12-12.5 4 0.5 8 4.5 4 5 8 15.5 4 9.5 8 25 4-11.5 4-9 4-1 4 11 4 13 4-3 8-41.5 4-13.5 4-3 4 4.5 12 28.5 4-13.5 4-18 4-14.5 4-11 8-28.5 12-34 4-9.5 4-8 8-11.5 12-11.5 8-4 12-5 4-0.5 20 3 8-0.5 8 3.5 4 5.5 8 16 4 6.5 4 5 4 3 12 6 16 6 4 6 4 10 12 63.5 8 49 4 19 8 35.5 4 15 4 11 4 5 4 7.5 4 4 8-0.5 4-5.5 8-28 4-8.5 4-4 4 8 4 9.5 4 23.5 4 17.5 4 12 4 6 4-1.5 4-3.5 8-12 4 1.5 8 5.5 4 0 8-4.5 4 0 12 3 4-2 4-3.5 16-17 12-4 4-5 8-12 16-27.5 12-14 16-23.5 4-4.5 8-6 4 1 8 5.5 4 1 4 1.5 8 16.5 4 12.5 4 7.5 4 1 4-3.5 12-33.5 4-9.5 4-4.5 4 6 4 13 4 39.5 4 51 4-11 8-65 4-17.5 4 0 4 4.5 12 10.5 8 4.5 4-10.5 4-15 4-12 8-17.5 4-4.5 8-5.5 4-4 12-22.5 16-34 4-6.5 8-4 8 1.5 12 3.5 4 3.5 8 9 4 2.5 12-7.5 8-4 8 6 12 15.5 8 9 4 4 4 2.5 24 8 20 4.5 20 5.5 12 2 12 4 12 5 16 8.5 16 20.5 16 23.5 4 3 4 0 16-3 12-0.5 4 1.5 16 9 12 2.5 4 0.5 8-1 4-1 12-6 12-4.5 24-12 16-14.5 8-3 4-3 4-4.5 16-12 20-22.5 20-29 36-44 24-32.5 16-20.5 4-5.5 16-30.5 28-60 16-29.5 48-106.5"/><path d="M100 654.5l8 0.5 4-0.5 8-3.5 12-6.5 4-2.5 24-19.5 12-12.5 12-13 28-35.5 8-13 8-11.5 12-16 12-17 4-5 8-12.5 4-5 4-1 4 7 8 29 4-9 4-18.5 4-5.5 4-1.5 4 2 4 3.5 4-5 4-13 4-8 8-30 4-13 8-22 8-20.5 12-22 20-30.5 12-13.5 20-26 8-8.5 4-2.5 4 0 12 4.5 4 6 4 10.5 4 13 4 15.5 4 21.5 8-20 4 2 4 13.5 4 18 4-7 8-51 4-17.5 4-2.5 4 10 8 28.5 4 10.5 8-36 4-16 4-12 4-17.5 4-22.5 4-18 4-15 4-9 4-7.5 4-5 8-8.5 4-3.5 8-5.5 20-11.5 4-1.5 16-4 4-1 4 1.5 4 0 8 5 4 7.5 8 23.5 4 9.5 4 7.5 4 6 8 5.5 4 1.5 4 1 4 3 8 8.5 8 25 4 16.5 8 39.5 8 46.5 8 41 8 33.5 4 10.5 8 14.5 4 3 8-4.5 4-7.5 8-30.5 4-9 4-5.5 8 19.5 4 27 4 20.5 4 14.5 4 7.5 4-2 4-4.5 8-16 4 0.5 8 7 4-0.5 8-5 4-1 12 2 8-7.5 16-18 12-5.5 12-18.5 12-22 24-36 12-20.5 8-8.5 4 2 8 8 8 5 8 19.5 4 15 4 9 4 2 4-3 16-53 4-6.5 4 6.5 4 16 4 49.5 4 63.5 4-13.5 8-80 4-21.5 4 0.5 4 6 12 12 8 10.5 4-10 4-16 4-12 8-12 4-1.5 8-1 4-2 12-24 8-18.5 12-23 4-1 12 0 12 2.5 4 2 8 7 4 0.5 8-1 12-3 36 29 16 5 20 7 20 5.5 44 20 16 9 20 24 8 8 4 2 4 0.5 20 1.5 12 2.5 4 1.5 16 8.5 12 2.5 12-1 4-1.5 12-6 12-2 16-5.5 8-3 16-11.5 8-2.5 4-2.5 4-4 16-9.5 16-12.5 4-3.5 20-25 44-43 12-6 20-9 4-3 16-18.5 32-47.5 12-15 4-6 20-23 24-30.5"/><path d="M100 653l8 0 4-1 20-10.5 28-20.5 12-12 12-14.5 16-23.5 12-14 8-11.5 20-24 16-22.5 8-13.5 4-5 4-2 4 6.5 8 29 4-8.5 4-18.5 4-5.5 4-1 4 2 4 3 4-4.5 4-13 4-8 8-29.5 4-13 16-42.5 12-22 20-30.5 12-13.5 20-26.5 8-8.5 4-3.5 4 0 8 2.5 4 2 4 6.5 4 10 4 13 4 15.5 4 22 8-20 4 2 4 13 4 18 4-7 8-51 4-18 4-2.5 4 10.5 8 28.5 4 10 8-35.5 4-16.5 4-11.5 4-17.5 4-22.5 4-18 4-14 4-9 4-8 4-6 8-9 4-3.5 4-3.5 4-2.5 12-5.5 8-4.5 4-1.5 16-5 4-0.5 4 1 4 0.5 8 5.5 4 7.5 8 23.5 4 10 4 7.5 4 6 8 6 4 2 4 1 4 2.5 8 7 8 23 4 17.5 8 41 8 48 8 41.5 8 33.5 4 10.5 8 14 4 3 8-4.5 4-7.5 8-30.5 4-9 4-5 8 19.5 4 27 4 20.5 4 15 4 7.5 4-2 4-4 8-15.5 4 0.5 8 6 4-0.5 8-5.5 4-1 12 2.5 4-3 8-8 12-14 12-6 12-18 12-22 24-36.5 12-21 8-8.5 4 2 8 7.5 4 2 4 2.5 8 19.5 4 15 4 9 4 2 4-3.5 16-51.5 4-6.5 4 7 4 16 4 49 4 63.5 4-14 8-80 4-21 4 0.5 4 6 12 12.5 8 10.5 4-10 4-15.5 4-12 8-15.5 4-4 8-3 4-2.5 12-25.5 12-27 8-15 4-1 12 1 12 2.5 4 2.5 8 6.5 4 0.5 8-1.5 12-3 4 2.5 20 16.5 12 9 16 4.5 36 13 8 3.5 16 9.5 24 10.5 16 9 24 32 4 4 4 3 4 1.5 4 0.5 28 2.5 4 1.5 16 9 12 2.5 4 0 8-1.5 16-8.5 12-3 24-10.5 16-12.5 8-3 4-3 4-4 16-10.5 20-18 20-25 44-44.5 16-10 16-9 4-3.5 16-21 28-45 16-20.5 4-6 20-26 24-34.5"/><path d="M100 653l8 0 4-1 8-3 12-6 4-3 24-19 12-12 12-13.5 16-23 12-13.5 8-12 20-25.5 8-11.5 8-10 8-13 4-5 4-2 4 6.5 8 28 4-9 4-18.5 4-5.5 4-1 4 2.5 4 3.5 4-5 4-13 4-8.5 8-30.5 4-13 8-22.5 8-20 12-21 20-29.5 12-14 8-11.5 12-15 8-8.5 4-3.5 4 0.5 8 2.5 4 2.5 4 7 4 10.5 4 13 4 15.5 4 22 8-20.5 4 1.5 4 13 4 18 4-7 8-51.5 4-17.5 4-3 4 10 8 28.5 4 10 8-35.5 4-16.5 4-11.5 4-17 4-22.5 4-18 4-14.5 4-8.5 4-8 4-5.5 8-9.5 8-7 24-15 4-1 12-3 8-0.5 4 1 4 1 8 5.5 4 8 8 24 4 10 4 7 4 6 8 5 4 2 4 0.5 4 2 8 8 8 24 4 17 8 40 8 47 8 40.5 8 33 4 10.5 8 15 4 3 8-3.5 4-7 8-30 4-9 4-5.5 8 20 4 27 4 20.5 4 14.5 4 7.5 4-2 4-4.5 8-16 4 1 8 6.5 4 0 8-5.5 4-1.5 12 1.5 8-7.5 16-18.5 12-5 12-18 12-21.5 24-36 12-20.5 8-7.5 4 2 8 8 8 4.5 8 19.5 4 14.5 4 9 4 2 4-3.5 16-53 4-7 4 6.5 4 15.5 4 49 4 63 4-13.5 4-43.5 4-36 4-21 4 1 4 6 12 13.5 8 10.5 4-10 4-16 4-12 8-16 4-3 8-0.5 4-2.5 12-25 12-26.5 8-15 4-1 12 1.5 12 2.5 4 2.5 8 6.5 4 0 8-1 12-3.5 36 27.5 36 12.5 20 6 4 1.5 24 13.5 16 7.5 16 9 20 25 8 7.5 4 2.5 36 5 4 1.5 16 9.5 12 3 4 0.5 8-0.5 4-1.5 12-6 12-3.5 24-13 16-11.5 8-1.5 4-2.5 4-3.5 12-7.5 4-3 16-14.5 4-4.5 20-25 40-39.5 4-3.5 4-2.5 28-13 4-3.5 16-21 32-50.5 40-51 20-26.5"/><path d="M100 638l8 0 4-0.5 8-3.5 12-7 28-20 12-11.5 12-14.5 20-29 16-21 12-14.5 24-27 8-12.5 8-8.5 4 1.5 8 9.5 4-2 4-8 4-3.5 4-1 4-2 4 2 4-5 16-46.5 4-10 8-17.5 8-22.5 12-23.5 20-33 4-3 8-8.5 20-28 12-12.5 4 1 8 5 4 5.5 4 8 4 6 4 7.5 8 19.5 4-11.5 4-9 4-1.5 8 20 4-1.5 8-36 4-11.5 4-3 4 2 4 7 8 16.5 4-11 4-18 4-14 12-34 8-20 4-12.5 8-18.5 8-11.5 12-10.5 20-10 4-0.5 8 1.5 4 1 8 3.5 8 0 8 3 4 5.5 8 13.5 4 5.5 4 3.5 4 2.5 16 7 4 0.5 8 0.5 4 3.5 4 9 4 17.5 8 40 8 44 8 30.5 8 25 4 8 4 3.5 4 7.5 4 5 8 4 4-3.5 8-25.5 4-8 4-1.5 4 7 4 9.5 4 20 4 15.5 4 9 4 5 4-1 4-3 4-5 4-3.5 12 5 4-0.5 8-4 4 1 8 4 4 1 4-1 4-2.5 16-16.5 12-2 4-3 8-11.5 16-25 4-4 8-5 4-4.5 12-16.5 4-3 4-1.5 4-3 4 0 8 2.5 8 0 4 5 4 6.5 4 9.5 4 5 4 0 4-3 8-18 4-7 4-6 4-2 4 6 4 10.5 4 30 4 38.5 4-8.5 8-49.5 4-13 4 0 4 3.5 8 5 4 3.5 8-1.5 4-10 8-25.5 8-17 4-5 8-4.5 4-4 8-11.5 4-7.5 16-34 4-6 8-4.5 20 7 4 4 8 10 4 4 12-11 8-5 8 6.5 4 5.5 8 13.5 12 15.5 4 2 24 8.5 12 2 16 1.5 20 1 4 0.5 28 12 12 6 24 29 8 9 4 2 4 0.5 16 0 12 2.5 4 2 16 11 12 4 4 1 8 0 4-1.5 12-5.5 12-4 24-13 16-15.5 8-3 4-3 4-4 16-11.5 16-17 4-4.5 20-30 12-15 24-28 8-10.5 36-53.5 16-32 28-67 16-34 28-66.5 20-49.5"/><path d="M100 649l8 0 4-0.5 8-3 12-5.5 4-2.5 24-19 12-11 12-13.5 16-22.5 12-15.5 8-12.5 12-16 8-9.5 12-16.5 4-4.5 8-13 4-5 4-2 4 6 8 26.5 4-7.5 4-17.5 4-5 4-1 4 1.5 4 3.5 4-5 4-13 4-9 8-29.5 4-13 16-41.5 12-21.5 20-31.5 12-13.5 20-26 12-12.5 4 0 8 3 4 3 4 7.5 4 9.5 4 13 4 14.5 4 20 8-20.5 4 1 4 12.5 4 17 4-6.5 8-49.5 4-16.5 4-2.5 4 9 8 26 4 10 12-51.5 4-12 4-16.5 4-20 4-16.5 4-13 4-9.5 4-8 4-6 8-9.5 8-7 4-2.5 12-6.5 8-5 4-1.5 8-1.5 12-1.5 4 1 4 0 8 5 4 7 8 22 4 9 4 6.5 4 5.5 8 5 12 4.5 8 6 8 20.5 12 64 8 49 8 42.5 8 34.5 4 11 8 14.5 4 3 8-4 4-6.5 8-30 4-9 4-5.5 8 19 4 26.5 4 20 4 14 4 7 4-1.5 4-4.5 8-15 4 0.5 8 7 4-0.5 8-5.5 4-1 12 1.5 4-3 8-8 12-13 12-6 12-18 16-29.5 20-30 12-19 8-7.5 4 2 8 7.5 8 4.5 8 19 4 14.5 4 8.5 4 2 4-3 16-52 4-6.5 4 6.5 4 16 4 48 4 62 4-13 8-78 4-20.5 4 0 4 6 12 12 8 10 4-10 4-16 4-12 8-16 4-4 8-3.5 4-3 12-25.5 8-18.5 8-16 4-7.5 4-1 12 1 12 2.5 4 2.5 8 7 4 0.5 8-2 12-5 8 6 12 10.5 12 10 4 2.5 16 5.5 20 8 20 6 44 20.5 16 10 24 32 4 4.5 4 3 4 1.5 16 2 16-0.5 20 10 12 2 4 0.5 8-1 4-1.5 12-6.5 12-4 24-13.5 16-14 8-3 4-2.5 4-4 16-10.5 16-14.5 4-4.5 20-28 20-22.5 20-21 16-14.5 20-14.5 4-4 16-23.5 28-51.5 16-22.5 24-37 24-40"/><path d="M100 633l8-0.5 4-1 12-6 36-23 12-11.5 12-15 12-18 12-16 24-29 24-26 8-12 8-9 4-0.5 8 3.5 4 0 4-5 4-3 4-0.5 4-3 4 1.5 4-5 8-23.5 8-21 12-25 8-25 12-25 20-32.5 12-10.5 20-26.5 12-13.5 4 1 8 4.5 4 7 4 9 8 10.5 4 8 4 5.5 4-12 4-9.5 4-2.5 8 17 4 0.5 4-17.5 4-14 4-9.5 4-3 4 0 8 11.5 4 8 4-8.5 4-18 4-12.5 8-20 12-27 4-14 8-20 8-12 4-4 8-6.5 20-9.5 4 0 8 2 4 2 8 4.5 8-0.5 8 2 12 16 4 4.5 4 3.5 8 3 12 6 4 0.5 8-1.5 4 1.5 4 8.5 4 14.5 16 71 4 10 8 16.5 4 5 4 2 4 0.5 8 14.5 8 9 4-1 8-22 4-7 4 1.5 4 5.5 4 9 8 28.5 4 5.5 4 3 4 0.5 4-2.5 4-3.5 4-0.5 4 3 4 1.5 4 0.5 4-0.5 8-3 8 5.5 4 2.5 4 1.5 4 0.5 4-1 16-16 12 0.5 4-1 8-10.5 16-24 4-2 8-1 4-3.5 8-11 4-3 4 0 4 1 4-2 12-1 8-3 4 1.5 4 4.5 4 6 4 3 4-1 4-2 8-11.5 4-3 4-1.5 4 0.5 4 5 4 7 4 17.5 4 22.5 4-5 8-30.5 4-8 4 0 12 5.5 4 3 8-7.5 4-9 8-22.5 8-17 4-4.5 12-5 8-6 8-14 12-26.5 4-5 8-7 12 4.5 8 3.5 4 4.5 4 7 8 11.5 12-13 8-7 4 3 4 4 4 6.5 8 16.5 12 17.5 12 4.5 16 5 16 0.5 32-0.5 4 0.5 12 5.5 28 10 16 17.5 12 11.5 4 3 4 1.5 16 5 20 8 16 10.5 12 5 4 1.5 8 0.5 4-1 12-4.5 12-4 24-13 16-15 8-2.5 4-2.5 4-4 16-13 16-16.5 4-5 20-28.5 20-23 24-31 24-41.5 12-19.5 16-32 28-69 16-35 28-70 20-53.5"/><path d="M100 659l8 0 4-0.5 20-8 8-5.5 20-17 24-26.5 16-21.5 12-15 8-13 12-15.5 8-9.5 16-22.5 4-6 4-8 4-5 4-1.5 4 8 8 29 4-9 4-18.5 4-5.5 4-1 4 2 4 3.5 4-5 4-13 4-8 8-30.5 12-37.5 8-19.5 12-20.5 20-31 20-24.5 20-21.5 4-2.5 4-0.5 4 1 8 1 4 6 8 25.5 4 15.5 4 21.5 8-21 4 2 4 13 4 18 4-7 8-51.5 4-17.5 4-3 4 10.5 8 28.5 4 10.5 8-35 4-16 4-12 4-17 4-22.5 8-35.5 4-7.5 4-7 8-8.5 12-11 24-13.5 20-9.5 4-1 4 2 4 0.5 8 7 4 8 8 24 4 10 4 8 4 6 8 6 4 2 4 1 4 2.5 8 8 8 23.5 4 16.5 8 41 8 48 8 41 8 33 4 10 8 14.5 4 3 8-4 4-6.5 8-30 4-9 4-5 8 19 4 26.5 4 20 4 15 4 7 4-1.5 4-4.5 8-15 4 0.5 8 7 4-0.5 8-5.5 4-1.5 12 1 12-11.5 12-13 12-5 12-18 12-22.5 24-36.5 12-21 8-8.5 4 2.5 8 7.5 4 2 4 2.5 8 20 4 15 4 9 4 2 4-3.5 16-53 4-7 4 6.5 4 16 4 49.5 4 63.5 4-14 4-43.5 4-36 4-21 4 1 4 6 12 14 8 16 4-7.5 4-14 4-10 8-11 4-2.5 12-4.5 12-23 12-26 8-14.5 4-0.5 12 1 12 2.5 4 2 8 8 4 0.5 8-0.5 12-3 36 29.5 24 8 32 8 20 7.5 24 5 12 4.5 4 2 16 16.5 12 9 4 1 12 1.5 28 4.5 16 6 12 1 8 0 4 1 4 0 12-2.5 12-0.5 24-6 16-11 8-1 4-2 4-3 12-5.5 20-14 4-3 20-22 40-33 4-2.5 32-5.5 4-2 16-15.5 28-36.5 16-16.5 4-5 24-19.5 20-18"/><path d="M100 632.5l8 0 4-0.5 8-4 12-8 16-12 12-8 12-10.5 12-14.5 24-33 24-30 24-27 8-11.5 8-9 4-0.5 4 1.5 8 1.5 4-4 4-3 4 0 4-3.5 4 2 4-5 8-23.5 8-21 12-25 8-25.5 12-25 20-32 12-10.5 20-27.5 12-14 4 0.5 8 4.5 4 7 4 9 8 11 4 8 4 5.5 4-12 4-9 4-3 8 16.5 4 0.5 4-17 4-14 4-9 4-3.5 4-0.5 8 11 4 8.5 4-8.5 4-17.5 4-13 8-19.5 12-25.5 4-14 8-19 8-11.5 12-10 20-9.5 4 0 8 2 4 1.5 8 4.5 8-1 8 2 12 15.5 4 4 4 3 8 2 12 5.5 4 0.5 8-2 4 1.5 4 8 4 14.5 16 68.5 4 8.5 8 14 4 3.5 4 1 4 0 8 15 8 10 4-0.5 8-22 4-7 4 2 4 5 4 8.5 8 26.5 4 4.5 4 3 4 1 4-1.5 4-2.5 4 0.5 4 3 4 1.5 4 0 4-1 8-3 12 9 4 2 4 1 4-1 16-16 12 0.5 4-0.5 8-10.5 16-22.5 4-2 8 0 4-3 8-11 4-3 4 0 4 1.5 4-2 12-2 8-2 4 1 4 4 4 5.5 4 2.5 4-1.5 4-2.5 8-11 4-2.5 4-0.5 4 1 4 4.5 4 6 4 15 4 19 4-3.5 8-25 4-7 4 0.5 12 4.5 4 3 8-9 4-8.5 8-21.5 8-16.5 4-4.5 12-6 8-5.5 8-13 4-8 8-17.5 4-5 8-6.5 20 8 4 4 12 18.5 12-14 8-6.5 8 6.5 4 6.5 8 16.5 12 19 12 5.5 16 5 4-0.5 32 2 12-1 4 0 24 7.5 16 7 16 17.5 12 9.5 4 2.5 16 6.5 24 11.5 16 11.5 4 1.5 8 2.5 4 1 8-0.5 4-1.5 12-5 12-3.5 16-7.5 8-4.5 16-14.5 8-2.5 4-3 4-4 12-9 4-3.5 20-22.5 20-29 40-47 4-5 8-13 28-48 16-34.5 28-69 16-35.5 4-10 20-51.5 24-65"/><path d="M100 642l8-0.5 4-1 20-9.5 12-7.5 16-11.5 12-12.5 12-15 16-22.5 12-15 8-11.5 12-14.5 8-8.5 16-20 8-13 4-5 4-3 4 2.5 8 15.5 4-4.5 4-11 4-4 8-0.5 4 3 4-4.5 4-12.5 4-10 8-26 12-31 8-23 12-22.5 12-18.5 8-14 12-13 20-24.5 12-12 4 0.5 8 3.5 4 5 8 15 4 9.5 8 24.5 4-11.5 4-9 4-0.5 4 10.5 4 12.5 4-3 8-41 4-13.5 4-2.5 4 4.5 12 28.5 4-14 4-18 4-15 4-11.5 8-28.5 12-34.5 4-9 4-8 8-11.5 4-4 8-6.5 20-9.5 4-0.5 4 0 8 1 8 1.5 8 0.5 8 3 4 6 8 16.5 4 6.5 4 5 4 3.5 12 6.5 16 5.5 4 5.5 4 9.5 4 19.5 8 43 8 48 8 37.5 8 32.5 4 11 4 5.5 4 7.5 4 4 8 0 4-5 8-28 4-8.5 4-4 4 8 4 9.5 4 23 4 17.5 4 12 4 6 4-1.5 4-3.5 8-11.5 4 1.5 8 5.5 4-0.5 8-5 4 0 12 2.5 4-2 4-3.5 16-18.5 12-5 4-5 24-36.5 12-12.5 16-23.5 4-5 8-6 4 1 8 5 8 2.5 8 15.5 4 12 4 7 4 0.5 4-3 12-32.5 4-9 4-4.5 4 6 4 13 4 39 4 50.5 4-11 8-64 4-17 4 0.5 4 4.5 12 10.5 8 4 4-10 4-15 4-12.5 8-17.5 4-4.5 8-5.5 4-4.5 12-22.5 16-34.5 4-6.5 8-3.5 8 2 12 3.5 4 3.5 8 10 4 2.5 20-13 8 6 4 5 8 11 8 9.5 4 4.5 4 2 8 2.5 68 16 24 10.5 12 6 4 2 16 21 8 12 8 11 4 3 4 0 16-3 12-0.5 4 1.5 16 9 12 3 4 0.5 8-1 4-1 12-6.5 12-3.5 16-8 8-5 16-14.5 8-3 4-3 4-4 12-8.5 4-4 20-22 20-29 24-31 24-28 32-44 16-30.5 28-61 16-31 12-27.5 16-33.5 20-44.5"/><path d="M100 661l8 0 4-1.5 20-9 4-2.5 24-18.5 12-12 12-14 16-23 12-14.5 8-13 12-15.5 8-9 12-17 4-5 4-6 4-8 4-5 4-1 4 8 8 28.5 4-9 4-19 4-5.5 4-1 4 2.5 4 3 4-5 4-12.5 4-8.5 8-30 12-38 8-19 12-20.5 20-30 20-26.5 12-14.5 8-8.5 4-2.5 4-0.5 4 1.5 8 1.5 4 6 8 26 4 15.5 4 21.5 8-20 4 2 4 13 4 18 4-6.5 8-51.5 4-18 4-3 4 9.5 8 28 4 10 8-36 4-16 4-11.5 4-17 4-22 8-35 8-13.5 12-11.5 8-7 12-5.5 12-7.5 8-4.5 12-6 4-1 4 1.5 4 0.5 8 6 4 8 8 23.5 4 10 4 8 4 6 8 6 4 2 4 1 4 2.5 8 8.5 8 24 4 17.5 8 41 8 48.5 8 41 8 33.5 4 10.5 8 15 4 3 8-4 4-7.5 8-30.5 4-9 4-5.5 4 9 4 11 4 27.5 4 20.5 4 15.5 4 7.5 4-1.5 4-4.5 8-16 4 0.5 8 6.5 4-0.5 8-6 4-1 12 1 12-11.5 12-13 12-5.5 12-18 16-28.5 20-29.5 12-21 8-9 4 2.5 8 7.5 8 4.5 8 19.5 4 15 4 9 4 2 4-3 16-52 4-6.5 4 6.5 4 16 4 49 4 63.5 4-14 8-80 4-21.5 4 1 4 5.5 12 12.5 8 16 4-7 4-13 4-9 8-9 16-7 12-23.5 8-18 12-21.5 4-0.5 24 4.5 4 2.5 8 6.5 4 0.5 8-1 12-2.5 20 17 16 12.5 16 6 8 4 12 2.5 20 2.5 16 5.5 20 5.5 12 4 12 4.5 16 16 12 7.5 4 1 12 0.5 28 4 16 6.5 12 0.5 8 0 4 1 4 0.5 24-2.5 24-6 16-10 8 0 4-1 4-3 16-6.5 16-12 4-3.5 8-10 12-13 20-16.5 20-14.5 4-2 32-3 4-1.5 16-14.5 20-25.5 12-13.5 12-10.5 4-4.5 20-12.5 24-20"/><path d="M100 632.5l12-0.5 12-5 12-7 24-17.5 12-13 4-5 28-38 20-25 8-10 24-25 8-11 8-9.5 4-0.5 8 2.5 4-0.5 4-4 4-3 4 0 4-3 4 2 4-4.5 16-45 12-26 8-25.5 12-23.5 12-18 8-13.5 12-12 20-28 12-13 4 0.5 8 5 4 7.5 4 9 8 11 4 7.5 4 5 4-12.5 4-9 4-3 8 16.5 4 0.5 4-17 4-14 4-9.5 4-3 4-0.5 8 11 4 8.5 4-9 4-18 4-12.5 8-19.5 12-25 4-14 8-19.5 8-12 12-11.5 4-2.5 16-5.5 4 0 12 4.5 8 4.5 8-1.5 8 1.5 12 15.5 4 4 4 3 8 3 12 6.5 4 0.5 8-1.5 4 1.5 4 8.5 4 14.5 16 69 4 9 8 14.5 4 4 4 1.5 4 0 8 15 8 10 4-1 8-22 4-7 4 1.5 4 5.5 4 8.5 8 27.5 4 5 4 3 4 0.5 4-2 4-3 4 0 4 3 4 1 4-0.5 12-4 12 9 4 2 4 0.5 4-0.5 16-16 12 0.5 4-1 24-33 4-1.5 8-0.5 4-3 8-11 4-3 4 0 4 1.5 4-2 12-2 8-3.5 4 1 4 3.5 4 5.5 4 2.5 4-1 4-2.5 8-11 4-2 4-0.5 4 1 4 5 4 6.5 4 16.5 4 20 4-4 8-27.5 4-8 4 0 12 4.5 4 2.5 8-8 4-8.5 8-21.5 8-16 4-4 4-1.5 8-3.5 4-2 4-3.5 8-14 12-26.5 4-5.5 8-6 20 9.5 4 4.5 12 18.5 12-13.5 8-7 8 6.5 4 6 8 16.5 12 19 12 6 16 5 32-1 8-0.5 8-1 4 0 4 1.5 20 8.5 16 7.5 16 17 12 9 4 2.5 12 4 12 5 16 8 16 11 12 4.5 4 1 8 0.5 4-1 12-5 12-3.5 24-13 16-15.5 8-2.5 4-3 4-3.5 12-7.5 4-3.5 16-17.5 16-24.5 8-11 28-33 16-20.5 36-59.5 16-34 28-67.5 16-35.5 24-60.5 24-66.5"/><path d="M100 650.5l8 0 4-1 20-8.5 4-2.5 24-19 12-11 12-14 16-22 12-14.5 8-12.5 12-16 8-9 16-22.5 8-13 4-5 4-2 4 6.5 8 28 4-8 4-17.5 4-5 4-1 4 2 4 3 4-5.5 4-13 4-9 8-31 4-13 16-42 12-21.5 20-30.5 12-13.5 20-26.5 8-9 4-3.5 4 0 8 3 4 3 4 7 4 9.5 4 13.5 4 15.5 4 20.5 8-20 4 1.5 4 12.5 4 17.5 4-7 8-50 4-17.5 4-2.5 4 10 8 27.5 4 10 12-52.5 4-12 4-17 4-21.5 4-17 4-13.5 4-9.5 4-8.5 4-6 8-8.5 8-6.5 12-6 12-7.5 4-1.5 12-3 8-0.5 4 1 4 0.5 8 4.5 4 7.5 8 22.5 4 9 4 7 4 5.5 8 5 4 2 4 0.5 4 2 8 6.5 8 22 12 62.5 8 49 8 42 8 34 4 11 8 14.5 4 3 8-3.5 4-7 8-30.5 4-9 4-5.5 4 8.5 4 11 4 26.5 4 20 4 15 4 7 4-2 4-4 8-16 4 0.5 8 6 4-0.5 8-5.5 4-1 12 1.5 4-3 8-7.5 12-13.5 12-6.5 12-18 12-21 24-36.5 12-21 8-8.5 4 2.5 8 7.5 8 5 8 20 4 14.5 4 9 4 1.5 4-3 16-52.5 4-6.5 4 6.5 4 16 4 48.5 4 62.5 4-14 8-78.5 4-21 4 0.5 4 6 12 12 8 10 4-9.5 4-15.5 4-12 8-14.5 4-3.5 8-3.5 4-3 12-25.5 12-27.5 8-15 4-1 12 0.5 12 2.5 4 2.5 8 7 4 0.5 8-2 12-3.5 8 5.5 16 13 12 9 16 5.5 20 8.5 24 7.5 20 9.5 36 18.5 24 31.5 4 4.5 4 3 4 1.5 24 4 8 0.5 20 9.5 12 1 12-0.5 4-1 12-6 12-3.5 24-11.5 16-13.5 8-2.5 4-2.5 4-4.5 16-11 20-19 20-27.5 20-23 20-20.5 4-3.5 8-6.5 24-16 4-3.5 16-22 28-47.5 16-21.5 28-41.5 20-32"/><path d="M100 635.5l8 0 4-0.5 8-3 16-9.5 24-18.5 12-13 4-5 20-28 8-10 12-14 20-24.5 20-22.5 8-11.5 8-9 4 0.5 8 6 4-1 4-6 4-3 4-0.5 4-2.5 4 2 4-5 16-46.5 4-9 8-16.5 8-24 12-24 20-33 12-11.5 20-28 12-13 4 1 8 4.5 4 6.5 4 9 8 12 4 8.5 4 7 4-12.5 4-9 4-3 8 18 4-0.5 8-33.5 4-10 4-3 4 1.5 8 13.5 4 9 4-9 4-17.5 4-13 12-31 8-18 4-13.5 8-19.5 8-11.5 12-11 20-9 4 0 12 3 8 4 8-1 8 2 4 5 8 12 4 5 4 4 20 8.5 4 0.5 8-0.5 4 2 4 8.5 4 16 8 36.5 8 40 8 23.5 4 10.5 4 8 4 5 4 1.5 4 8 4 6 8 6.5 4-2 8-24 4-7.5 4 0 4 6 4 9 4 17 4 14.5 4 7 4 4 4 0.5 4-2 4-4 4-1.5 4 2.5 4 2 4 0.5 4-1 8-3.5 12 6.5 4 1 4-0.5 4-1.5 16-15.5 12-1 4-2 24-35 4-2.5 8-3 4-3.5 8-11.5 4-4.5 4-1.5 4 0 4-3 4 0 8 0.5 8-1 4 3 4 5.5 4 7.5 4 4 4-0.5 4-2.5 8-15 4-4.5 4-3.5 4-0.5 4 5 4 9 4 22.5 4 29 4-6 8-38.5 4-10 4 0 12 7.5 4 3.5 8-5 4-9.5 8-24 8-17.5 4-5 8-4.5 4-3.5 8-8.5 8-14 12-26 4-5 8-5 20 8 4 4 8 11.5 4 4.5 12-12 8-6 8 7 4 6 8 15.5 12 17 12 5.5 16 5 28 1.5 12 0 8-0.5 4 0.5 20 7 8 3.5 12 7 16 18 16 14.5 4 2 12 3 20 6.5 4 1.5 16 10.5 12 3.5 4 0.5 8-0.5 16-5.5 12-2.5 24-13.5 16-15 8-3.5 4-2.5 4-4.5 16-12 20-21.5 20-29.5 20-25.5 24-29 36-57.5 16-33 28-67 16-33 4-9.5 20-50.5 24-63"/><path d="M100 660l8 0 4-1 20-8.5 4-2.5 24-20.5 12-12 12-14 16-22.5 12-14 8-12 20-25 12-18 4-5 4-6 4-8 4-5.5 4-0.5 4 8 8 29 4-8.5 4-19 4-5 4-1 4 2 4 3.5 4-5 4-13.5 4-8 12-44 8-24 8-19 12-20.5 20-29.5 28-36.5 12-13 4-2.5 4 0 4 1 8 1.5 4 6.5 8 26.5 4 16 4 21.5 8-21 4 1 4 13 4 17 4-7.5 8-51.5 4-17.5 4-2 4 10.5 8 29 4 10.5 12-51.5 4-12 4-17 4-22.5 8-35.5 4-7 4-7.5 12-12.5 8-7 12-6.5 12-7 20-10.5 4-1.5 4 1.5 4 0.5 4 3 4 4 4 9 8 24.5 4 10.5 4 8 4 6 8 6.5 4 2 4 1 4 2.5 8 8 8 23.5 4 17.5 8 41.5 8 48.5 8 40.5 8 32.5 4 10.5 8 14 4 3 8-4 4-6.5 8-30 4-9 4-5 8 19.5 4 26.5 4 20.5 4 14.5 4 7.5 4-2 4-4.5 8-15.5 4 0.5 8 7 4-0.5 8-5.5 4-1 12 2.5 4-3 8-8 12-14.5 12-7.5 12-18 12-21 24-36.5 12-21 8-8.5 4 2.5 8 8 8 5 8 20 4 15 4 8.5 4 2 4-3 16-53 4-6.5 4 6.5 4 16.5 4 49 4 63.5 4-14 8-80 4-21 4 0.5 4 6 12 13 8 17.5 4-7 4-13 4-9.5 8-10.5 16-8 12-24 8-18 12-22 4-0.5 8 1.5 16 3.5 4 2.5 8 7 4 0 8-1 12-3 36 30 24 10 32 6.5 20 7.5 40 12.5 16 15.5 12 8 4 1 12-0.5 28 5 16 6 20 0.5 4 1 4 0.5 24-1.5 24-6.5 16-10.5 8-0.5 4-1.5 4-3 12-4.5 4-2 16-11.5 4-3.5 8-9 12-12 40-32.5 4-2.5 32-3 4-1.5 16-16 28-34.5 20-19.5 24-16.5 20-17.5"/><path d="M100 632l8 0 4-0.5 8-3.5 16-9 24-16 12-12 4-5 8-11 20-29.5 8-10 20-24 24-25.5 8-11.5 8-9 4-0.5 4 1.5 8 1 8-7 4 0 4-3.5 4 1.5 4-4.5 8-24 8-21.5 12-25 8-25.5 12-24 20-32 4-3.5 8-8.5 20-27 12-12.5 4 1 8 4.5 4 7 4 9 8 10 4 7.5 4 4.5 4-12.5 4-8.5 4-3 8 16.5 4 1 4-17 4-13.5 4-9 4-3.5 4-1.5 4 4.5 4 5.5 4 7.5 4-8 4-18 4-12 8-18.5 12-23.5 4-14 8-19.5 8-12 4-4 8-6.5 20-9.5 4 0 8 2.5 4 1.5 8 4.5 8-2 8 1.5 12 15.5 4 4.5 4 3 8 3 12 6.5 4 1 8-2 4 0.5 4 8 4 13.5 16 66 4 8 8 13 4 2.5 8-0.5 8 15.5 8 11 4-0.5 8-21 4-7 4 2 4 5.5 4 8.5 8 25.5 4 4.5 4 2.5 4 1 4-1.5 4-2.5 4 0.5 4 3 4 0.5 4-0.5 12-4 12 10 4 2 4 1 4 0 16-15 12 1.5 4-0.5 8-11 16-23.5 4-2 8 0 4-2.5 8-10.5 4-3 8 2 8-3 8-2 8-2.5 4 1 4 4 4 5.5 4 2 4-1 4-2.5 8-10 4-1.5 4 0 4 1 4 4.5 4 6 4 13.5 4 17.5 4-4 8-24 4-6.5 4 0 12 4.5 4 3 8-9.5 4-8.5 8-21.5 8-16 4-4 4-1.5 12-5 4-2.5 8-13.5 12-26.5 4-4.5 8-6.5 20 9 4 4.5 12 19 12-14.5 8-7 4 2.5 4 4 4 6.5 8 16.5 12 20 16 8 12 3 4-1 12-1 20 0 12-1.5 4 0 24 8.5 16 8 16 17 16 12.5 40 17.5 16 12 12 5 4 1 8 0.5 4-1 12-5 12-3.5 12-6.5 12-7 16-15 8-3 4-3 4-4 16-12.5 16-16.5 4-4.5 20-29.5 44-52.5 36-63 16-33 28-68.5 16-35.5 24-62.5 24-65.5"/><path d="M100 650.5l8 0 4-0.5 8-3.5 12-6.5 28-22 12-11.5 12-13.5 16-22.5 12-15 8-12 12-15.5 8-9.5 16-22 8-13 4-5.5 4-2 4 6.5 8 27.5 4-8 4-17 4-5 4-1 4 1.5 4 3 4-5.5 4-13 4-9 12-43 16-43 12-22 20-30.5 12-12.5 20-25.5 8-8.5 4-3 4 0.5 8 3 4 3 4 7 4 9.5 4 12 4 15 4 19.5 8-20 4 1 4 12.5 4 17 4-6.5 8-49.5 4-17 4-2.5 4 9 8 26.5 4 10 12-50.5 4-11.5 4-16.5 4-20.5 4-16.5 4-13.5 4-9.5 4-8.5 4-7 8-9.5 4-4 8-6 20-9 4-1 20-2.5 4 0.5 4 0 4 1.5 4 2.5 4 7.5 8 21 4 8.5 4 6.5 4 5 8 5 4 2 4 1.5 4 2.5 8 6.5 8 21.5 12 63 8 49 8 42 8 34.5 4 11 8 14 4 3 8-3.5 4-7 8-30 4-9.5 4-5.5 4 9 4 10.5 4 26.5 4 20.5 4 14.5 4 7 4-2 4-4 8-16.5 4 0.5 8 6.5 4-0.5 8-5 4-0.5 12 1.5 4-3 8-8 12-13.5 12-6.5 12-18 12-21.5 24-34 12-20.5 8-9 4 2 8 7 4 1.5 4 2.5 8 19 4 14.5 4 9 4 2 4-3 16-51.5 4-6.5 4 6 4 16 4 47.5 4 62 4-13.5 4-42.5 4-35.5 4-20 4 1 4 6.5 4 4.5 8 7.5 8 9.5 4-10.5 4-16 4-12.5 8-15.5 4-3.5 8-3.5 4-3 12-25 8-18 8-15.5 4-7.5 4-1 12 0.5 12 2.5 4 2 8 7 4 0.5 20-5 20 15.5 16 11 16 5.5 20 8 24 6.5 12 5.5 28 15 16 9.5 24 33 4 4.5 4 3 4 1.5 16 1 16-0.5 4 1.5 16 8 12 1.5 12-1 4-1 12-5.5 12-2 12-6 12-6.5 16-14.5 8-3 4-2.5 4-4 12-8.5 4-3.5 20-21 20-27 32-35 12-12 32-24.5 4-4 16-23.5 28-49.5 16-23 48-76.5"/><path d="M100 649l8 0 4-0.5 8-3.5 12-6 4-3 24-19 12-11.5 12-14 16-22.5 12-16 8-12.5 12-15 8-9 16-20 8-13 4-5 4-2 4 5 8 23 4-7 4-15.5 4-5.5 4-1 4 1 4 3 4-5 4-13 4-8.5 8-28 4-12.5 16-42.5 12-21.5 20-31 12-13.5 20-26.5 12-12.5 4 0.5 8 3.5 4 3.5 4 7.5 4 9.5 4 11.5 4 14 4 18 8-21 4 0.5 4 12 4 15.5 4-5 8-47 4-15.5 4-3 4 8 8 23.5 4 9.5 8-34.5 4-15.5 4-11.5 12-49 4-12 8-19 4-6.5 8-10.5 4-3.5 8-6.5 20-11 4-0.5 12 0 12 1.5 4 0 8 4 4 6.5 8 18.5 4 8 4 5.5 4 4.5 12 6.5 8 3 8 5.5 4 9 4 11 12 65.5 8 49.5 8 42 8 34.5 4 11.5 8 14.5 4 3.5 8-3 4-7 8-30.5 4-9 4-5 4 9 4 11 4 26.5 4 20 4 14.5 4 7.5 4-2 4-4 8-15.5 4 0.5 8 5.5 4-1 8-6 4-1.5 12 1.5 8-6.5 16-17 12-5.5 12-18.5 12-22 4-6 20-27 12-20 8-7.5 4 2 8 7 8 4.5 8 19 4 13.5 4 8 4 1.5 4-3.5 16-50.5 4-6 4 6.5 4 15 4 46.5 4 60 4-13 8-75.5 4-20 4 1 4 5.5 20 21 4-10.5 4-16 4-12.5 8-17 4-4.5 8-4 4-3.5 12-25 8-18 8-15.5 4-7 4-1 8 0 16 3 4 2.5 8 7 4 1 20-6 8 6 12 11 12 10 4 2.5 24 8.5 24 6 12 3.5 12 5 28 14.5 16 9.5 16 21.5 8 12.5 8 10 4 2 4 0.5 4-0.5 16-3 8-0.5 4 1.5 16 8 12 2 4 0 8-1 16-8.5 12-3 24-12.5 16-12.5 8-3 4-3 4-4 16-13.5 20-21 16-24 8-10.5 40-44.5 32-30.5 4-4.5 16-26 28-52.5 16-24 20-34.5 28-52"/><path d="M100 645.5l8 0 4-0.5 8-3.5 12-7 28-21.5 12-12.5 12-13.5 28-36 8-12 8-10.5 28-35 8-13 4-5 4-2.5 4 4 8 19.5 4-6 4-13.5 4-4.5 4-1 4 0 4 3 4-4.5 4-12.5 4-9 8-26.5 4-11.5 8-20 8-22.5 12-23 20-32 12-12.5 20-25.5 12-12 4 0.5 8 3.5 4 4.5 8 15.5 4 10 4 13 4 15.5 8-20.5 4 0 4 11.5 4 14.5 4-4 8-44 4-14.5 4-3 4 6.5 8 21 4 9 12-48.5 4-11.5 12-45 8-22.5 4-9 4-7.5 8-10.5 4-4 8-6.5 20-9 4-0.5 16 1 8 1 4 0 8 3.5 4 6.5 8 17.5 4 7.5 4 5.5 4 4 8 4 20 8.5 4 7 4 10 4 20 8 45 8 49.5 8 41 4 17.5 4 16 4 11.5 8 13.5 4 3.5 8-2.5 4-6 8-29 4-8.5 4-4.5 4 8 4 10.5 4 25 4 18.5 4 13.5 4 6.5 4-2 4-4 8-14 4 1 8 5.5 4-0.5 8-4.5 4-0.5 12 3.5 8-6 16-17 12-5.5 12-18 12-22 4-6 16-20.5 16-24.5 8-7.5 4 1.5 8 6 8 3 8 17.5 4 13 4 8 4 1.5 4-3 16-46.5 4-5.5 4 6.5 4 14.5 4 43 4 56 4-12 8-70.5 4-19 4 0.5 4 5.5 4 4 16 14 4-10 4-15.5 4-12.5 8-17 4-4.5 8-5 4-4 12-25 16-34.5 4-7 4-1.5 4-0.5 20 3.5 4 2.5 8 8.5 4 2 20-8.5 8 6.5 12 14.5 8 8 4 4 4 2.5 24 7.5 12 3 20 3.5 16 5 32 14 12 6.5 16 22 8 13.5 8 11 4 3 4 0 16-4.5 12-1 4 1.5 16 8.5 12 1.5 4 0 8-0.5 4-1.5 12-6 12-3.5 24-12.5 16-14 8-3.5 4-3 4-4.5 16-13 16-16.5 4-4.5 20-29 16-20.5 44-53 16-18 4-5.5 16-28 28-55 16-27 24-47 24-49.5"/><path d="M100 649l8 0 4-1 20-9.5 28-20.5 12-12 12-14 16-22 12-14.5 8-12 20-25 16-22 8-13 4-5 4-2.5 4 6 8 24.5 4-7.5 4-16 4-5.5 4-1 4 1.5 4 3 4-5 4-13 4-8.5 12-41.5 16-42.5 12-22.5 20-30.5 12-12.5 20-25.5 12-12 4 0.5 8 2.5 4 3 4 7 4 9 4 12 4 14.5 4 19 8-20.5 4 1 4 12.5 4 16.5 4-5.5 8-48 4-16.5 4-3 4 8.5 8 25 4 9.5 8-35 4-16 4-12 12-51 4-12.5 4-9.5 4-8.5 4-6.5 8-10.5 4-4 8-6.5 12-6 8-4.5 8-1.5 16-1.5 4 0.5 4 0 8 4.5 4 6.5 8 20.5 4 8.5 4 6.5 4 5.5 8 5.5 4 2.5 8 3.5 8 5 4 9 4 10.5 12 64.5 8 49.5 4 21 4 20.5 8 34.5 4 11.5 8 14.5 4 3 8-4 4-6.5 8-30 4-9 4-5 4 8.5 4 10.5 4 26.5 4 20 4 14.5 4 7 4-2 4-4 8-15.5 4 1 8 7 4-0.5 8-5 4-1 12 1.5 8-7.5 16-17.5 12-6 12-17.5 16-27 20-29 12-20.5 8-8 4 2 8 7 8 3.5 8 18.5 4 14 4 8.5 4 1.5 4-3 16-50.5 4-6.5 4 6.5 4 15.5 4 47 4 61 4-13 8-76.5 4-20.5 4 1 4 5.5 12 12.5 8 9.5 4-10.5 4-15.5 4-12.5 8-15.5 4-4 8-4.5 4-3.5 20-43.5 8-15.5 4-7.5 4-1 8 1 16 3 4 2.5 8 6.5 4 0.5 20-6.5 8 6 16 14 8 6.5 4 2.5 16 5 20 8 20 6 44 21 16 9.5 12 15.5 12 17.5 4 5 4 3.5 4 2 4 0.5 8 0 12-2.5 8-0.5 4 1.5 16 9 12 2.5 4 0 8-1.5 4-1.5 12-7 12-3 24-12 16-12.5 8-3 4-2.5 4-4.5 16-12 20-21 20-29.5 36-41.5 8-8 20-17 12-9 4-4 16-24 28-52.5 16-24.5 48-80.5"/><path d="M100 660l8 0 4-1.5 20-10 4-2.5 24-19 12-11.5 12-13.5 16-22 12-13 8-12 20-27 12-19 8-11.5 4-7.5 4-5.5 4-0.5 4 8 8 29 4-8.5 4-19 4-5.5 4-1.5 4 2 4 3 4-5 4-13 4-8.5 12-43.5 8-24 8-19.5 12-20.5 20-29 20-26 12-14 8-8 4-2.5 4-0.5 4 1.5 8 1 4 6 8 25 4 15.5 4 21.5 8-20.5 4 2 4 13.5 4 18 4-7 8-51.5 4-18 4-3 4 10 8 28.5 4 10.5 12-51.5 4-11.5 4-17.5 4-22.5 4-19 4-16.5 4-7.5 4-7 8-8 12-11 24-12.5 20-8 4-1 4 1.5 4 0.5 8 6 4 8 8 23.5 4 10 4 7.5 4 6 8 6 4 2 4 0.5 4 2.5 8 8 8 24 4 17 8 41.5 8 48 8 41.5 8 33 4 10.5 8 15 4 3 8-4 4-7 8-30 4-9.5 4-5.5 4 8.5 4 10.5 4 27 4 20.5 4 15 4 7.5 4-2 4-4.5 8-15.5 4 0.5 8 6.5 4-0.5 8-6 4-1 12 2 12-11 12-12.5 12-6.5 12-19 12-22 24-36.5 12-20.5 8-8 4 2 8 8 8 4.5 8 20 4 14.5 4 9 4 2 4-3 16-53 4-7 4 6.5 4 16 4 49 4 63.5 4-14 8-80.5 4-21 4 0.5 4 6 12 13.5 8 16 4-7.5 4-13 4-9.5 8-10.5 4-2.5 12-4.5 12-23.5 12-26 8-14.5 4-1 12 1.5 12 2.5 4 2.5 8 6.5 4 0.5 8-1 12-2.5 4 3.5 16 15 16 12.5 28 10 8 2.5 20 3 4 1 20 8.5 24 7 12 4.5 16 16.5 12 8.5 4 1 12 1 28 4.5 16 7 12 1.5 8-0.5 4 0.5 4 0 12-3 12-1.5 24-6.5 16-10.5 8-0.5 4-2 4-3 16-6.5 16-11.5 4-3.5 20-21.5 40-33.5 4-3 24-5.5 8-1.5 4-1.5 16-14.5 28-37 16-16 4-4.5 24-17.5 20-17.5"/><path d="M100 645.5l8 0 4-1 8-3.5 12-7 28-21 12-11 12-14.5 16-23 12-15 8-11.5 12-14.5 8-9 16-20.5 8-13 4-5 4-2.5 4 3.5 8 18.5 4-5.5 4-13 4-4.5 8-0.5 4 3 4-5 4-12.5 4-10 8-27 4-11 8-20 8-21.5 12-23.5 20-31 12-11.5 20-28.5 12-13 4 1 8 4.5 4 4.5 8 16 4 10 4 12 4 15 8-22 4-0.5 4 11 4 14.5 4-4 8-42.5 4-14 4-2.5 4 6 12 30.5 12-47 4-11.5 12-44 8-23 4-9.5 4-7.5 8-11 4-3.5 8-6.5 20-9.5 8-0.5 20 2 4 0 8 3 4 6 8 17.5 4 7 4 5.5 4 4 8 4.5 20 7 4 7 4 10 12 64.5 8 49.5 8 40.5 8 34 4 11.5 8 13.5 4 3.5 8-2 4-6 8-29.5 4-8.5 4-4.5 4 8 4 10 4 25 4 18.5 4 13.5 4 6.5 4-1.5 4-3.5 8-13 4 1 8 6 4-0.5 8-4.5 4-0.5 12 3.5 4-3 4-3.5 16-18.5 12-5 4-5 8-12 16-28 16-20 16-24 8-7 4 1.5 8 6 8 3 8 17 4 13 4 7.5 4 1.5 4-3 16-44.5 4-5.5 4 6.5 4 14.5 4 42.5 4 54.5 4-12 8-70 4-18.5 4 0 4 5 12 11.5 8 6 4-10.5 4-15.5 4-12.5 8-17.5 4-5 8-5.5 4-4 24-48.5 8-14.5 8-2.5 8 1 12 3 4 3 8 8.5 4 2 20-10 8 5.5 20 22 4 4 4 2.5 24 9 32 6.5 20 5 24 10.5 16 9.5 32 44 4 2.5 4 0 16-4.5 12-0.5 4 2 16 8.5 12 3 4 0.5 8-0.5 4-1.5 12-6 12-3.5 24-12.5 16-14.5 8-2.5 4-3 4-4 12-9 4-4 20-23 20-29 56-70 24-29 16-27 28-57 16-28.5 12-24.5 16-31 20-41.5"/><path d="M100 655.5l8 0 4-1 8-3.5 12-6 28-21.5 12-12 12-13.5 16-21 12-14 8-13 20-25.5 16-23 8-14 4-5 4-1.5 4 7 8 29 4-9 4-18.5 4-6 4-1 4 2.5 4 3 4-5 4-13 4-8.5 8-30 4-13 8-22.5 8-19 12-21 20-30.5 12-14.5 8-11 8-10 12-12.5 4-3 4 0.5 12 4 4 6.5 4 11 4 13 4 15.5 4 21.5 8-20.5 4 1.5 4 13 4 18 4-7 8-51.5 4-18 4-2.5 4 10 8 28 4 10.5 8-35.5 4-16 4-11.5 4-17 4-22.5 4-18 4-15.5 4-9 4-7.5 4-5.5 8-8.5 8-7 24-12.5 4-1 20-6 4 1 4 0 4 2.5 4 3 4 7.5 8 24 4 10.5 4 7.5 4 6 8 6 4 2 4 1 4 2.5 8 8.5 8 24 4 16.5 8 39 8 45.5 8 39.5 8 33.5 4 11 8 14.5 4 3 8-3.5 4-7 8-30 4-9 4-5 8 19.5 4 27 4 20.5 4 15 4 7 4-2 4-4 8-16 4 0 8 6.5 4-0.5 8-5 4-1 12 2 4-3 8-8.5 12-14 12-6.5 12-18 12-21.5 24-37.5 12-21 8-8 4 2.5 8 8 8 4.5 8 20 4 15 4 9 4 2 4-3 16-53.5 4-6.5 4 6.5 4 16 4 49 4 63.5 4-14.5 8-80 4-21 4 0.5 4 6 12 13 8 10.5 4-9 4-14.5 4-10.5 8-11.5 4-2 8-1 4-2 12-24 12-25.5 8-14 4-0.5 12 0.5 12 2.5 4 2 8 7 4 0.5 8-1.5 12-4 8 6 28 22.5 16 5 20 7.5 20 7 20 9.5 24 8.5 16 8 12 14.5 8 9 8 7 4 2 36 4.5 4 1.5 16 8 12 2.5 4 0.5 8-0.5 4-1 12-6 12-2 24-7.5 16-11.5 8-1 4-2 4-3.5 12-6.5 4-3 20-19 8-11 12-13.5 24-23 16-13.5 4-3 32-13.5 4-2.5 16-17.5 32-47 12-14 4-5.5 20-20.5 24-28.5"/><path d="M100 633l8 0 4-1 8-4 16-9.5 24-15.5 12-12.5 4-5 8-11 12-17.5 12-16 16-19 32-35.5 8-12 8-9 4-0.5 8 3 4 0 4-5 4-3 4-0.5 4-3 4 2 4-4.5 8-23 8-21 12-25 8-25 12-24.5 20-33 12-10 20-28 12-14 4 0.5 8 5 4 7 4 9 8 11 4 8 4 5.5 4-12 4-9 4-3 8 17.5 4 0 4-17 4-14 4-9.5 4-3.5 4 0 8 11.5 4 8.5 4-8.5 4-18 4-13 8-20 12-26 4-14 8-19 8-11.5 12-10.5 20-10.5 4 0 8 2.5 4 1.5 8 4.5 8-0.5 8 2.5 12 16 4 4 4 3 8 2.5 12 6.5 4 1 8-1 4 1.5 4 8 4 14.5 16 70.5 4 9.5 8 16.5 4 4.5 4 2 4 0 8 14 8 9.5 4-1 8-21.5 4-7 4 1.5 4 6 4 8.5 8 28 4 5 4 3.5 4 0 4-1.5 4-3.5 4 0 4 3 4 1 4 0.5 4-1 8-4 12 8 4 1.5 4 0.5 4-1 16-15 12 1.5 4-1 8-11 16-23.5 4-2.5 8-1.5 4-3.5 8-11 4-3.5 4 0 4 1 4-2 12-1.5 8-2 4 1.5 4 4.5 4 6.5 4 3 4-1 4-3 8-11.5 4-3 4-2 4 0.5 4 5 4 7 4 17.5 4 22.5 4-5 8-29.5 4-8 4 0.5 12 5.5 4 3 8-8 4-9 8-22.5 8-17 4-4 12-5.5 8-6 8-13.5 12-26.5 4-5 8-6 20 8.5 4 4 12 17.5 12-13.5 8-7.5 4 3 4 3.5 4 6.5 8 16.5 12 19 12 6 16 5 28 0.5 12-0.5 8-1.5 4 0.5 24 9 16 7.5 16 17 16 13 36 15 4 2 16 11.5 12 4.5 4 1 8 0 4-1 24-9 24-14 16-14 8-2.5 4-3 4-4 16-12 16-17 4-5 20-29.5 24-28 20-25.5 36-58.5 16-33 28-69 16-34.5 48-127.5"/><path d="M100 648l8 0 4-1.5 24-12 24-18 12-12 12-14 16-23 12-15 8-12 12-15 8-9 16-21 8-12.5 4-4.5 4-2 4 5.5 8 23 4-6.5 4-16 4-5 4-1 4 0.5 4 3 4-5 4-13 4-9 8-28 4-12 16-42 12-23 20-32 12-12 20-25.5 12-12 4 0 8 3 4 3.5 4 6.5 4 9 4 11 4 13.5 4 17.5 8-20.5 4 0.5 4 12 4 16 4-5.5 8-46.5 4-15.5 4-2.5 4 8 8 24.5 4 9.5 8-34.5 4-16 4-11.5 12-49.5 4-12 8-18.5 4-7 8-10.5 8-7 4-2.5 12-5 8-4 4-1 12-1.5 8 0 8 1 8 4 4 7 8 19.5 4 8 4 6 4 4.5 8 4.5 4 2 8 2.5 8 4.5 4 8 4 10.5 12 65.5 8 50 4 21 4 20.5 8 34.5 4 11 8 14 4 3 8-2.5 4-6.5 8-29 4-9 4-5 4 9 4 10.5 4 25.5 4 20 4 14 4 6.5 4-2 4-4 8-15 4 0.5 8 6 4-0.5 8-5.5 4-0.5 12 2.5 8-6.5 16-17 12-5.5 12-17.5 12-21.5 24-35.5 12-20 8-7.5 4 2 8 7 8 3.5 8 18 4 13.5 4 8.5 4 1.5 4-3 16-48.5 4-6 4 6.5 4 15.5 4 46 4 59.5 4-13.5 8-75 4-20 4 0.5 4 6 4 4.5 16 16 4-10 4-16 4-12.5 8-16.5 4-4 8-4.5 4-3.5 28-59.5 4-7.5 4-1 4-0.5 4 0.5 16 3 4 2.5 8 7 4 1 20-8 8 7 16 16.5 8 7 4 3 56 17 44 17.5 16 10 16 23 8 13.5 8 10.5 4 2 4 0 16-4 12-1.5 4 1.5 16 8 12 1.5 4-0.5 8-1.5 16-8 12-2 12-5.5 12-7 16-13.5 8-3 4-3 4-4.5 16-13.5 16-16 4-4 20-28.5 28-33.5 20-22.5 12-11.5 16-14.5 4-4.5 16-25.5 28-51.5 16-25 28-49 20-37"/><path d="M100 648l8 0 4-1 8-3 12-5.5 4-2.5 24-19 12-11.5 12-13 16-22.5 12-15 8-12 36-46.5 8-13 4-5 4-2 4 6 8 24.5 4-7 4-15.5 4-5 4-1 4 1 4 3 4-5.5 4-13 4-9.5 8-29 4-12.5 16-42.5 12-22 20-30.5 12-13 20-27.5 8-8.5 4-3.5 4 0.5 8 3.5 4 3.5 4 6.5 4 9 4 11.5 4 14 4 18.5 8-20.5 4 1 4 12.5 4 16.5 4-5.5 8-48 4-16 4-2.5 4 8.5 8 25.5 4 10 12-50 4-12 4-16 4-19.5 4-16 4-13 4-10 4-8.5 4-6.5 8-10 8-7 4-2.5 20-10.5 8-1 16-0.5 4 0.5 4 0.5 8 4 4 7 8 20 4 8.5 4 6 4 4.5 8 4.5 12 4.5 8 5.5 4 9 4 11 12 65.5 8 49.5 4 21.5 4 20.5 8 34.5 4 11.5 8 14.5 4 3 8-3.5 4-7 8-30.5 4-9.5 4-5 4 8.5 4 11 4 26 4 20 4 14 4 7.5 4-2 4-4 8-15 4 0.5 8 6.5 4-0.5 8-5 4-1 12 1.5 4-3 8-7.5 12-13.5 12-6 12-18 12-21.5 24-35 12-20.5 8-7.5 4 2 8 7 8 3.5 8 18.5 4 14 4 8.5 4 2 4-3 16-50 4-6.5 4 6.5 4 15.5 4 47 4 60.5 4-13 4-41.5 4-34.5 4-20 4 0.5 4 6 12 12 8 9 4-10.5 4-15.5 4-12.5 8-16 4-4 8-4 4-3.5 20-44 8-16 4-7 4-1 4 0 8 1.5 12 2 4 2.5 8 7 4 0.5 20-7.5 8 6 12 12.5 8 7 4 3 4 2.5 16 4 16 5.5 24 7 20 7.5 12 6 12 6 16 10.5 16 22.5 8 12 4 4.5 4 4 4 1.5 8 1 24-2 20 9.5 12 2 4-0.5 8-1.5 16-9 12-2.5 24-11 16-14 8-3.5 4-3.5 4-4 16-12.5 16-15.5 4-4.5 20-28.5 8-9 36-40 16-16 16-14.5 4-4 16-23.5 28-50 16-25 12-21 16-26 20-34.5"/><path d="M100 657l8-0.5 4-1 20-8.5 4-2.5 24-20.5 12-12.5 12-13 16-21.5 12-14.5 8-12 12-16 8-9 16-22 4-6 4-7.5 4-5.5 4-1 4 7.5 8 28.5 4-8.5 4-19 4-5.5 4-1 4 2.5 4 3 4-5 4-13 4-8.5 12-43.5 8-23.5 8-19 12-21 20-30.5 28-35.5 12-13.5 4-2.5 4-0.5 12 4 4 6.5 8 25 4 15.5 4 21.5 8-20.5 4 1.5 4 13 4 18 4-7 8-51 4-17.5 4-2 4 10.5 8 28.5 4 10 8-35.5 4-16.5 4-11.5 4-17 4-22.5 8-34.5 8-16 12-13.5 8-7 12-6 12-7 20-7.5 4-1 4 1.5 4 0.5 8 6.5 4 8 8 24 4 10 4 8 4 5.5 8 5.5 4 2 4 0.5 4 2 8 8 8 24.5 4 17 8 41.5 8 47.5 8 40.5 8 32 4 9.5 8 14.5 4 3 8-3.5 4-6.5 8-30 4-9 4-5.5 8 19.5 4 27 4 20 4 15 4 7.5 4-2 4-4.5 8-16.5 4 0.5 8 6.5 4 0 8-5 4-1 12 1 12-11.5 12-13.5 12-6 12-18.5 16-28 20-30.5 12-21 8-8.5 4 2 8 8 8 5 8 20.5 4 14.5 4 9 4 2 4-3.5 16-53 4-6.5 4 6.5 4 16.5 4 49 4 63.5 4-14 8-80 4-21.5 4 0.5 4 6 12 12.5 8 14.5 4-8 4-13.5 4-9.5 8-10.5 4-1.5 8-2 4-2 12-24 12-26 8-14.5 4-1 12 1 12 3 4 2.5 8 7 4 0.5 8-1.5 12-3 4 3 16 14 16 12 16 5 8 4 8 3 28 6.5 16 6.5 24 7.5 16 6.5 16 18 12 10 4 1.5 12 1 28 5 16 6.5 12 2 8 0.5 4 0.5 4 0 12-3 12-1 8-2.5 16-6.5 16-12 8-0.5 4-1.5 4-3 12-6 4-2 16-12.5 4-4 8-9.5 12-13.5 24-22 16-13.5 4-2.5 16-4 16-3.5 4-2 16-17 28-38 4-5 12-12.5 4-5 20-19 24-25"/><path d="M100 657l8 0 4-1 8-3.5 12-6 4-2.5 24-19.5 12-12 12-13 16-22.5 12-15.5 8-12.5 12-15 8-9 16-21 4-6.5 4-7.5 4-5.5 4-1.5 4 7.5 8 29.5 4-9 4-18.5 4-5.5 4-1.5 4 2 4 3 4-5.5 4-13.5 4-8.5 12-44.5 8-23 8-19.5 12-20 20-30 28-36.5 4-4.5 8-8 4-2.5 4 0 12 4.5 4 6 8 24.5 4 15.5 4 21.5 8-20.5 4 1.5 4 13 4 18 4-7.5 8-51.5 4-17.5 4-2.5 4 10.5 8 29 4 10.5 12-51.5 4-12 4-17.5 4-23 8-34 8-15.5 12-12 8-6.5 24-14 4-1.5 20-6 4 1.5 4 0.5 8 5 4 8 8 23.5 4 9.5 4 8 4 6 8 5.5 4 2 4 1 4 2 8 7.5 8 24 4 17 8 40.5 8 47.5 8 40.5 8 32.5 4 9.5 8 14.5 4 3 8-4.5 4-7 8-31 4-9 4-5.5 4 9 4 11 4 27.5 4 20.5 4 15.5 4 8 4-1.5 4-4 8-16.5 4 0.5 8 6 4-1 8-5.5 4-1 12 1 4-3.5 20-21.5 12-5 12-18 12-22 24-37 12-21 8-8 4 2.5 8 8 8 5.5 8 20 4 15 4 8.5 4 2 4-4 16-53 4-7 4 6.5 4 16.5 4 49 4 63.5 4-14 8-80 4-21 4 0.5 4 6.5 12 12.5 8 13.5 4-8 4-14 4-10 8-11 4-1.5 8-2 4-2 12-24.5 8-19 12-22.5 4 0 24 5 4 2 8 6 4 0 8-1 12-2 20 16.5 16 11 16 5 24 10 16 4.5 20 8 24 8 16 7.5 16 18.5 12 10.5 4 1.5 36 4 4 1 16 7.5 12 2 12 0.5 4-1 12-3.5 12-1 4-1.5 20-7.5 16-11 8-1.5 4-2 4-3.5 12-6.5 4-2.5 20-18 8-10 12-13 24-19.5 20-17.5 12-4.5 20-6 4-2.5 16-17.5 32-44.5 12-13 4-5.5 20-19 24-26.5"/><path d="M100 645.5l8 0 4-0.5 8-3.5 16-9 24-18 12-12.5 4-5 24-32 12-14 8-11 20-24.5 16-21 8-13 4-4.5 4-2.5 4 4 8 19.5 4-5.5 4-13.5 4-5 4-1 4 0 4 2.5 4-5.5 4-12.5 4-10 8-26.5 4-11.5 8-19.5 8-22 12-23 20-31 12-12 20-26.5 12-12.5 4 0.5 8 3.5 4 4.5 8 15.5 4 10.5 4 12.5 4 16 8-21 4 0 4 11.5 4 14.5 4-4 8-44 4-14.5 4-3 4 5.5 8 21 4 9 12-48 4-11 12-45 8-22 4-9 4-7.5 8-10.5 4-4 8-6 20-10 8-0.5 20 1.5 4 0 8 3.5 4 6.5 8 18 4 7.5 4 5.5 4 4 8 4.5 20 8 4 6.5 4 10 4 20 8 44.5 8 50 8 41 8 34.5 4 11 8 13.5 4 3.5 8-2 4-6 8-29.5 4-9 4-4.5 4 8.5 4 10 4 25 4 19 4 13.5 4 6.5 4-1.5 4-4 8-14 4 1 8 6 4 0 8-5 4-0.5 12 2.5 8-6.5 16-17.5 12-4.5 4-5 8-12 16-28 16-20.5 16-24 8-7 4 2 8 6 8 3.5 8 16.5 4 13 4 7.5 4 1.5 4-3.5 16-46.5 4-6 4 6 4 14 4 43 4 55.5 4-12.5 8-70 4-18 4 0.5 4 5.5 4 4 8 7.5 8 6.5 4-10.5 4-15.5 4-12.5 8-17 4-4.5 8-5 4-4.5 28-59 4-7 4-1.5 4-0.5 8 2 12 4 4 3 8 8.5 4 1.5 20-11 8 5.5 20 22.5 4 4.5 4 2.5 24 8 36 8 12 3 28 12.5 16 9.5 16 22 8 13.5 8 11.5 4 3 4 0 16-5.5 12-1.5 4 1.5 16 8 12 2.5 4 0.5 8-1 4-1 12-6 12-4 24-14 16-14.5 8-3 4-3 4-4 12-8.5 4-3.5 16-16 4-4.5 20-30.5 40-50.5 20-23.5 16-16 4-5 16-28.5 28-55.5 16-27.5 28-55 20-41"/><path d="M100 649l8 0 4-1 12-4.5 12-6 24-18.5 12-12 12-14 16-22.5 12-15 8-12 12-14.5 8-8.5 16-22.5 8-13 4-5.5 4-2 4 6 8 26.5 4-7.5 4-17.5 4-5 4-1 4 1.5 4 3 4-5 4-13.5 4-8.5 8-29 8-23.5 12-31.5 8-15 8-13.5 16-24 12-13 20-26.5 8-8.5 4-3.5 4 0.5 8 3.5 4 3.5 4 6.5 4 9.5 4 12.5 4 14.5 4 19.5 8-21 4 1 4 13 4 17 4-6 8-49 4-17 4-2.5 4 9 8 26 4 9.5 12-52 4-12 4-16 4-21 4-16 4-13.5 4-9.5 4-8 4-6.5 8-9 8-7 4-2 12-6 8-5 4-1 8-2 12-1 4 1 4 0 8 4 4 7 8 21 4 9 4 7 4 5.5 8 6 4 2 8 3 8 5.5 8 20.5 12 63 8 49.5 8 41.5 8 34.5 4 11 8 15 4 3 8-3.5 4-6.5 8-30 4-9 4-5.5 4 9 4 10.5 4 26.5 4 20.5 4 14.5 4 7.5 4-1.5 4-4 8-15.5 4 0.5 8 6 4-1 8-5.5 4-1 12 2 8-7.5 16-18.5 12-6 12-17 12-21 24-36.5 12-21.5 8-8.5 4 2.5 8 7 4 2 4 2.5 8 19.5 4 15 4 8.5 4 2 4-3 16-51.5 4-6.5 4 6.5 4 16 4 48 4 62 4-13.5 8-79 4-20.5 4 0.5 4 5.5 12 13 8 10 4-10 4-16 4-12 8-15.5 4-4 8-3.5 4-3 24-53 8-14.5 4-1 12 1.5 12 2.5 4 2 8 7.5 4 0 4-0.5 16-5.5 8 5.5 24 20.5 4 3 20 6 36 12 20 8.5 40 23 24 31.5 4 4.5 4 3.5 4 1.5 16 1 16-1 4 1.5 16 9 12 2 4 0.5 8-1 4-1 12-7 12-4 24-11.5 16-12.5 8-2.5 4-3 4-4 16-12.5 20-21 12-16.5 8-10 16-16.5 28-31.5 16-13 16-12 4-3.5 16-24 28-49.5 4-6 12-16 24-35.5 24-39"/><path d="M100 635.5l8 0.5 4-0.5 8-3.5 16-9 24-17 12-12 4-4.5 8-10 12-17 32-42 28-31.5 8-12 8-8 4 0.5 8 8 4-1.5 4-7 4-3.5 4-0.5 4-2 4 2 4-5 16-47.5 4-10 8-17 8-24 12-24 20-32.5 12-11 20-27 12-13 4 1 8 5 4 6 4 8.5 8 13 8 17.5 4-12 4-9.5 4-2 8 19 4-1.5 8-35 4-11 4-3 4 1.5 4 6.5 8 16.5 4-10.5 4-18 4-13.5 12-33 8-18.5 4-13 8-18.5 8-12 4-4 8-7 20-9 4 0 4 1.5 8 2.5 8 4 8-0.5 8 2.5 4 5 8 12 4 5 4 3.5 20 11 4 1 8-0.5 4 2.5 4 8.5 4 16.5 8 38.5 8 42 8 26.5 4 12 4 10 4 6.5 4 2.5 4 8 4 6 8 5.5 4-3 8-24 4-7.5 4-0.5 4 6.5 4 9.5 4 18.5 4 15 4 8 4 4.5 4-0.5 4-2.5 4-4.5 4-3 8 4 4 1 4-1 8-4 4 1 8 4.5 4 1 4-0.5 4-2 16-16.5 12-2 4-2.5 8-11.5 16-24.5 4-3 8-4 4-4 8-12 4-5 4-2.5 4-1 4-2.5 4 0 8 2 8 0 4 4.5 4 6 4 8.5 4 5 4-0.5 4-3 8-16.5 4-6 4-5 4-1.5 4 5.5 4 10 4 27 4 34.5 4-7.5 8-44.5 4-12 4 0 4 3 8 4.5 4 3 8-3 4-9.5 8-25 8-16.5 4-4.5 8-3.5 4-3 8-10 8-15 12-27.5 4-5.5 8-5.5 8 3 12 5 4 4 8 12 4 5 12-11.5 8-6.5 4 2.5 4 3.5 4 5.5 8 14 12 17 12 5.5 16 4.5 4 0 24 2 12 0.5 8 0 4 0.5 24 10 16 8 24 27.5 8 8.5 4 2.5 4 0.5 16 2 12 2.5 4 1.5 16 10 12 4 4 1 8 0 4-1 12-6 12-4 24-12.5 16-14.5 8-3 4-2.5 4-4 12-9 4-3.5 20-22.5 20-29 20-24.5 20-25.5 28-42 12-18.5 16-32 28-66 16-33 28-69 20-52"/><path d="M100 643l8 1 4 0 8-3 12-8 12-10.5 16-11.5 4-4 8-8.5 12-14.5 16-22 12-14.5 8-11 20-23.5 16-21 8-13 4-5 4-3 4 3.5 8 17 4-4 4-11 4-4 8-1.5 4 2.5 4-5 4-13 4-10.5 8-26.5 4-11 8-19.5 8-22.5 12-23 20-32 12-12 20-26.5 12-12.5 4 0.5 8 3.5 4 5 8 15.5 4 9.5 8 26 4-11 4-9.5 4-0.5 4 10.5 4 13 4-3.5 8-42 4-13.5 4-3 4 5 12 29 4-13 4-18 4-15 4-11.5 8-29 4-13 8-22.5 8-17 8-10.5 4-4 8-6 4-2 16-7 4-0.5 12 0.5 12 1.5 4 0 4 1.5 4 2 4 6 8 16.5 4 7 4 5 4 3.5 12 6 16 4.5 4 5.5 4 9.5 4 19.5 8 44 8 49 8 38.5 8 32 4 10.5 4 5 4 7.5 4 4 8 0 4-5.5 8-28 4-9 4-3.5 4 8 4 10 4 24 4 18 4 12.5 4 6 4-1 4-3.5 8-12.5 4 1 8 5 4-0.5 8-5 4 0 12 3 4-2.5 4-3.5 16-18 12-4 4-4.5 8-11.5 16-27 12-13.5 4-5 12-18.5 4-5.5 8-6 4 1.5 8 5 8 2 8 15 4 12.5 4 7 4 1 4-3 12-33 4-9 4-4.5 4 6.5 4 13.5 4 39.5 4 51 4-11 8-65 4-17 4 0 4 4.5 12 10.5 8 4 4-10 4-15.5 4-12 8-17 4-4.5 8-5.5 4-4 12-24 16-34 4-6.5 4-1.5 4-1 20 6 4 3 8 9 4 2.5 12-8 8-4 8 6.5 12 15.5 8 8.5 4 3.5 4 2 24 8 12 2.5 24 4 12 3 32 15.5 12 6 16 20.5 8 11.5 8 9.5 4 2.5 4 0 8-1.5 8-1 12 0.5 4 1.5 16 9 12 2.5 12 0.5 4-1 12-6 12-4 24-12 16-14.5 8-3 4-3.5 4-4 16-13.5 20-21.5 20-30 76-95.5 4-5.5 16-30.5 28-61 16-30 48-105"/><path d="M100 635l8 0 4-0.5 8-3.5 16-9.5 24-16 12-12.5 4-5 8-10.5 20-28 28-35 24-27.5 8-11.5 8-9 4 0.5 8 7.5 4-1.5 4-6.5 4-3.5 4 0 4-2.5 4 2.5 4-5 16-45.5 12-26.5 8-23.5 12-24 20-33.5 12-11.5 20-27 12-13.5 4 1 8 5 4 6 4 8.5 8 12 8 17 4-12.5 4-9 4-2 8 19.5 4-0.5 8-34.5 4-10.5 4-3 4 1 4 6.5 8 16.5 4-10 4-18 4-13 12-32 8-19 4-13 8-19 8-12 4-4 8-7 20-8.5 4 0 4 1 8 2.5 8 3.5 8-1 8 2 4 5 8 12.5 4 5 4 3.5 20 9.5 4 0.5 8-0.5 4 2.5 4 9 4 16.5 8 38 8 42 8 26 4 11.5 4 9 4 6 4 2 4 8 4 5.5 8 5 4-2.5 8-25 4-7.5 4-1 4 6.5 4 9.5 4 18 4 15 4 8.5 4 4.5 4 0 4-2.5 4-4.5 4-2 8 4 4 0.5 4-1 8-4 4 1.5 8 4.5 4 1.5 4-0.5 4-1.5 16-16 12-1.5 4-2.5 8-11 16-24 4-3 8-4.5 4-4.5 8-12 4-4.5 4-2 4-0.5 4-3 4 0.5 8 1.5 8 0 4 3.5 4 6 4 8 4 4.5 4 0 4-3 8-15 4-6 4-4 4-1.5 4 5.5 4 9 4 25 4 32 4-7 8-42 4-11.5 4 0.5 4 3 8 4.5 4 3.5 8-3.5 4-9 8-24.5 8-17 4-4.5 8-5 4-3.5 8-9.5 8-15 12-26 4-5.5 8-5.5 20 7.5 4 4 8 11 4 4.5 12-12 8-5.5 8 6.5 4 5.5 8 14.5 12 16.5 16 7 12 3.5 4-0.5 16 0.5 20 2 8 0 4 1 24 10.5 16 8 16 17.5 16 15.5 4 2 20 4 12 4 4 2 16 11 12 4.5 4 0.5 8 0 4-1 12-5 12-4 24-13.5 16-15 8-3.5 12-10.5 12-8.5 12-12 8-8.5 20-30.5 32-37.5 12-15.5 36-59 16-32 28-66 16-33 4-9.5 24-58.5 20-52"/></g></g><g id="patch_3"><path d="M110.4 675L110.4 12.9" style="fill: none; stroke: #000000; stroke-width: 1.8; stroke-linejoin: miter; stroke-linecap: square"/></g><g id="patch_4"><path d="M1809 675L1809 12.9" style="fill: none; stroke: #000000; stroke-width: 1.8; stroke-linejoin: miter; stroke-linecap: square"/></g><g id="patch_5"><path d="M110.4 675L1809 675" style="fill: none; stroke: #000000; stroke-width: 1.8; stroke-linejoin: miter; stroke-linecap: square"/></g><g id="patch_6"><path d="M110.4 12.9L1809 12.9" style="fill: none; stroke: #000000; stroke-width: 1.8; stroke-linejoin: miter; stroke-linecap: square"/></g><g id="line2d_29"><defs><path id="m46e932eac1" d="M-8.5 8.5L8.5 8.5L8.5 -8.5L-8.5 -8.5z" style="stroke: #000000; stroke-width: 2.2; stroke-linejoin: miter"/></defs><g clip-path="url(#p7e7c0ee483)"><use href="#m46e932eac1" x="374.9" y="272.6" style="fill: #000080; stroke: #000000; stroke-width: 2.2; stroke-linejoin: miter"/><use href="#m46e932eac1" x="406.1" y="284" style="fill: #000080; stroke: #000000; stroke-width: 2.2; stroke-linejoin: miter"/><use href="#m46e932eac1" x="486.5" y="252.6" style="fill: #000080; stroke: #000000; stroke-width: 2.2; stroke-linejoin: miter"/><use href="#m46e932eac1" x="574.9" y="104.6" style="fill: #000080; stroke: #000000; stroke-width: 2.2; stroke-linejoin: miter"/><use href="#m46e932eac1" x="633.6" y="99.8" style="fill: #000080; stroke: #000000; stroke-width: 2.2; stroke-linejoin: miter"/><use href="#m46e932eac1" x="1220.5" y="268.5" style="fill: #000080; stroke: #000000; stroke-width: 2.2; stroke-linejoin: miter"/><use href="#m46e932eac1" x="1231.5" y="292.6" style="fill: #000080; stroke: #000000; stroke-width: 2.2; stroke-linejoin: miter"/><use href="#m46e932eac1" x="1328.8" y="386.5" style="fill: #000080; stroke: #000000; stroke-width: 2.2; stroke-linejoin: miter"/><use href="#m46e932eac1" x="1622.9" y="283" style="fill: #000080; stroke: #000000; stroke-width: 2.2; stroke-linejoin: miter"/><use href="#m46e932eac1" x="1608.6" y="321.2" style="fill: #000080; stroke: #000000; stroke-width: 2.2; stroke-linejoin: miter"/></g></g><g id="line2d_30"><defs><path id="m8407c78103" d="M0 6.5 C 1.7 6.5 3.4 5.8 4.6 4.6 C 5.8 3.4 6.5 1.7 6.5 0 C 6.5 -1.7 5.8 -3.4 4.6 -4.6 C 3.4 -5.8 1.7 -6.5 0 -6.5 C -1.7 -6.5 -3.4 -5.8 -4.6 -4.6 C -5.8 -3.4 -6.5 -1.7 -6.5 0 C -6.5 1.7 -5.8 3.4 -4.6 4.6 C -3.4 5.8 -1.7 6.5 0 6.5z" style="stroke: #333333; stroke-opacity: 0.66; stroke-width: 2.2"/></defs><g clip-path="url(#p7e7c0ee483)"><use href="#m8407c78103" x="132.4" y="673.6" style="fill: #1f8fff; fill-opacity: 0.55; stroke: #333333; stroke-opacity: 0.66; stroke-width: 2.2"/><use href="#m8407c78103" x="138.2" y="582.5" style="fill: #1f8fff; fill-opacity: 0.55; stroke: #333333; stroke-opacity: 0.66; stroke-width: 2.2"/><use href="#m8407c78103" x="144" y="581.1" style="fill: #1f8fff; fill-opacity: 0.55; stroke: #333333; stroke-opacity: 0.66; stroke-width: 2.2"/><use href="#m8407c78103" x="149.8" y="545.4" style="fill: #1f8fff; fill-opacity: 0.55; stroke: #333333; stroke-opacity: 0.66; stroke-width: 2.2"/><use href="#m8407c78103" x="156.1" y="563.7" style="fill: #1f8fff; fill-opacity: 0.55; stroke: #333333; stroke-opacity: 0.66; stroke-width: 2.2"/><use href="#m8407c78103" x="161.9" y="602.8" style="fill: #1f8fff; fill-opacity: 0.55; stroke: #333333; stroke-opacity: 0.66; stroke-width: 2.2"/><use href="#m8407c78103" x="168.8" y="594.6" style="fill: #1f8fff; fill-opacity: 0.55; stroke: #333333; stroke-opacity: 0.66; stroke-width: 2.2"/><use href="#m8407c78103" x="175.3" y="572.1" style="fill: #1f8fff; fill-opacity: 0.55; stroke: #333333; stroke-opacity: 0.66; stroke-width: 2.2"/><use href="#m8407c78103" x="181.8" y="558.7" style="fill: #1f8fff; fill-opacity: 0.55; stroke: #333333; stroke-opacity: 0.66; stroke-width: 2.2"/><use href="#m8407c78103" x="188.7" y="578.6" style="fill: #1f8fff; fill-opacity: 0.55; stroke: #333333; stroke-opacity: 0.66; stroke-width: 2.2"/><use href="#m8407c78103" x="195.4" y="584.6" style="fill: #1f8fff; fill-opacity: 0.55; stroke: #333333; stroke-opacity: 0.66; stroke-width: 2.2"/><use href="#m8407c78103" x="202" y="550.9" style="fill: #1f8fff; fill-opacity: 0.55; stroke: #333333; stroke-opacity: 0.66; stroke-width: 2.2"/><use href="#m8407c78103" x="210.3" y="547.1" style="fill: #1f8fff; fill-opacity: 0.55; stroke: #333333; stroke-opacity: 0.66; stroke-width: 2.2"/><use href="#m8407c78103" x="217.4" y="579.6" style="fill: #1f8fff; fill-opacity: 0.55; stroke: #333333; stroke-opacity: 0.66; stroke-width: 2.2"/><use href="#m8407c78103" x="224.9" y="605.7" style="fill: #1f8fff; fill-opacity: 0.55; stroke: #333333; stroke-opacity: 0.66; stroke-width: 2.2"/><use href="#m8407c78103" x="232.3" y="480.8" style="fill: #1f8fff; fill-opacity: 0.55; stroke: #333333; stroke-opacity: 0.66; stroke-width: 2.2"/><use href="#m8407c78103" x="240.1" y="495.7" style="fill: #1f8fff; fill-opacity: 0.55; stroke: #333333; stroke-opacity: 0.66; stroke-width: 2.2"/><use href="#m8407c78103" x="247.2" y="551.6" style="fill: #1f8fff; fill-opacity: 0.55; stroke: #333333; stroke-opacity: 0.66; stroke-width: 2.2"/><use href="#m8407c78103" x="254.7" y="486.6" style="fill: #1f8fff; fill-opacity: 0.55; stroke: #333333; stroke-opacity: 0.66; stroke-width: 2.2"/><use href="#m8407c78103" x="262.2" y="439.6" style="fill: #1f8fff; fill-opacity: 0.55; stroke: #333333; stroke-opacity: 0.66; stroke-width: 2.2"/><use href="#m8407c78103" x="270" y="452.1" style="fill: #1f8fff; fill-opacity: 0.55; stroke: #333333; stroke-opacity: 0.66; stroke-width: 2.2"/><use href="#m8407c78103" x="277.4" y="459" style="fill: #1f8fff; fill-opacity: 0.55; stroke: #333333; stroke-opacity: 0.66; stroke-width: 2.2"/><use href="#m8407c78103" x="284.9" y="483" style="fill: #1f8fff; fill-opacity: 0.55; stroke: #333333; stroke-opacity: 0.66; stroke-width: 2.2"/><use href="#m8407c78103" x="292.8" y="672.8" style="fill: #1f8fff; fill-opacity: 0.55; stroke: #333333; stroke-opacity: 0.66; stroke-width: 2.2"/><use href="#m8407c78103" x="300.3" y="595.7" style="fill: #1f8fff; fill-opacity: 0.55; stroke: #333333; stroke-opacity: 0.66; stroke-width: 2.2"/><use href="#m8407c78103" x="307.2" y="530.2" style="fill: #1f8fff; fill-opacity: 0.55; stroke: #333333; stroke-opacity: 0.66; stroke-width: 2.2"/><use href="#m8407c78103" x="314.7" y="502.3" style="fill: #1f8fff; fill-opacity: 0.55; stroke: #333333; stroke-opacity: 0.66; stroke-width: 2.2"/><use href="#m8407c78103" x="322.2" y="480.3" style="fill: #1f8fff; fill-opacity: 0.55; stroke: #333333; stroke-opacity: 0.66; stroke-width: 2.2"/><use href="#m8407c78103" x="329.6" y="470.3" style="fill: #1f8fff; fill-opacity: 0.55; stroke: #333333; stroke-opacity: 0.66; stroke-width: 2.2"/><use href="#m8407c78103" x="336.1" y="384.9" style="fill: #1f8fff; fill-opacity: 0.55; stroke: #333333; stroke-opacity: 0.66; stroke-width: 2.2"/><use href="#m8407c78103" x="343.4" y="387.6" style="fill: #1f8fff; fill-opacity: 0.55; stroke: #333333; stroke-opacity: 0.66; stroke-width: 2.2"/><use href="#m8407c78103" x="350.7" y="374.5" style="fill: #1f8fff; fill-opacity: 0.55; stroke: #333333; stroke-opacity: 0.66; stroke-width: 2.2"/><use href="#m8407c78103" x="357" y="357.1" style="fill: #1f8fff; fill-opacity: 0.55; stroke: #333333; stroke-opacity: 0.66; stroke-width: 2.2"/><use href="#m8407c78103" x="362.9" y="329.6" style="fill: #1f8fff; fill-opacity: 0.55; stroke: #333333; stroke-opacity: 0.66; stroke-width: 2.2"/><use href="#m8407c78103" x="369.6" y="332.5" style="fill: #1f8fff; fill-opacity: 0.55; stroke: #333333; stroke-opacity: 0.66; stroke-width: 2.2"/><use href="#m8407c78103" x="376.5" y="269.5" style="fill: #1f8fff; fill-opacity: 0.55; stroke: #333333; stroke-opacity: 0.66; stroke-width: 2.2"/><use href="#m8407c78103" x="382.9" y="289.9" style="fill: #1f8fff; fill-opacity: 0.55; stroke: #333333; stroke-opacity: 0.66; stroke-width: 2.2"/><use href="#m8407c78103" x="388.9" y="275.8" style="fill: #1f8fff; fill-opacity: 0.55; stroke: #333333; stroke-opacity: 0.66; stroke-width: 2.2"/><use href="#m8407c78103" x="394.4" y="236.1" style="fill: #1f8fff; fill-opacity: 0.55; stroke: #333333; stroke-opacity: 0.66; stroke-width: 2.2"/><use href="#m8407c78103" x="528.1" y="276" style="fill: #1f8fff; fill-opacity: 0.55; stroke: #333333; stroke-opacity: 0.66; stroke-width: 2.2"/><use href="#m8407c78103" x="538.8" y="72.1" style="fill: #1f8fff; fill-opacity: 0.55; stroke: #333333; stroke-opacity: 0.66; stroke-width: 2.2"/><use href="#m8407c78103" x="548.7" y="124.2" style="fill: #1f8fff; fill-opacity: 0.55; stroke: #333333; stroke-opacity: 0.66; stroke-width: 2.2"/><use href="#m8407c78103" x="559.1" y="141.9" style="fill: #1f8fff; fill-opacity: 0.55; stroke: #333333; stroke-opacity: 0.66; stroke-width: 2.2"/><use href="#m8407c78103" x="568.7" y="118.6" style="fill: #1f8fff; fill-opacity: 0.55; stroke: #333333; stroke-opacity: 0.66; stroke-width: 2.2"/><use href="#m8407c78103" x="578.6" y="76.5" style="fill: #1f8fff; fill-opacity: 0.55; stroke: #333333; stroke-opacity: 0.66; stroke-width: 2.2"/><use href="#m8407c78103" x="589.7" y="77.6" style="fill: #1f8fff; fill-opacity: 0.55; stroke: #333333; stroke-opacity: 0.66; stroke-width: 2.2"/><use href="#m8407c78103" x="599.7" y="82.1" style="fill: #1f8fff; fill-opacity: 0.55; stroke: #333333; stroke-opacity: 0.66; stroke-width: 2.2"/><use href="#m8407c78103" x="609.7" y="107.1" style="fill: #1f8fff; fill-opacity: 0.55; stroke: #333333; stroke-opacity: 0.66; stroke-width: 2.2"/><use href="#m8407c78103" x="619.6" y="133.7" style="fill: #1f8fff; fill-opacity: 0.55; stroke: #333333; stroke-opacity: 0.66; stroke-width: 2.2"/><use href="#m8407c78103" x="630.3" y="116" style="fill: #1f8fff; fill-opacity: 0.55; stroke: #333333; stroke-opacity: 0.66; stroke-width: 2.2"/><use href="#m8407c78103" x="640" y="129" style="fill: #1f8fff; fill-opacity: 0.55; stroke: #333333; stroke-opacity: 0.66; stroke-width: 2.2"/><use href="#m8407c78103" x="650.6" y="172.6" style="fill: #1f8fff; fill-opacity: 0.55; stroke: #333333; stroke-opacity: 0.66; stroke-width: 2.2"/><use href="#m8407c78103" x="660.6" y="120.4" style="fill: #1f8fff; fill-opacity: 0.55; stroke: #333333; stroke-opacity: 0.66; stroke-width: 2.2"/><use href="#m8407c78103" x="671" y="196.5" style="fill: #1f8fff; fill-opacity: 0.55; stroke: #333333; stroke-opacity: 0.66; stroke-width: 2.2"/><use href="#m8407c78103" x="681.5" y="210.3" style="fill: #1f8fff; fill-opacity: 0.55; stroke: #333333; stroke-opacity: 0.66; stroke-width: 2.2"/><use href="#m8407c78103" x="691.4" y="218" style="fill: #1f8fff; fill-opacity: 0.55; stroke: #333333; stroke-opacity: 0.66; stroke-width: 2.2"/><use href="#m8407c78103" x="701.4" y="242.7" style="fill: #1f8fff; fill-opacity: 0.55; stroke: #333333; stroke-opacity: 0.66; stroke-width: 2.2"/><use href="#m8407c78103" x="711.6" y="196.1" style="fill: #1f8fff; fill-opacity: 0.55; stroke: #333333; stroke-opacity: 0.66; stroke-width: 2.2"/></g></g><g id="line2d_31"><defs><path id="mca017dc914" d="M0 -16L-3.6 -4.9L-15.2 -4.9L-5.8 1.9L-9.4 12.9L-0 6.1L9.4 12.9L5.8 1.9L15.2 -4.9L3.6 -4.9z" style="stroke: #000000; stroke-width: 2.4; stroke-linejoin: bevel"/></defs><g clip-path="url(#p7e7c0ee483)"><use href="#mca017dc914" x="1622.9" y="226.1" style="fill: #ff4500; stroke: #000000; stroke-width: 2.4; stroke-linejoin: bevel"/></g></g><g id="legend_1"><g id="line2d_32"><path d="M518.3 572.9L550.2 572.9L582.1 572.9" style="fill: none; stroke: #808000; stroke-opacity: 0.8; stroke-width: 6.4; stroke-linecap: square"/></g><g id="text_19"><g transform="translate(607.65 584.09)"><text xml:space="preserve"><tspan x="0" y="-0.69" style="font-size: 31.9px; font-family: 'DejaVu Serif', 'Liberation Serif', serif">T</tspan><tspan x="21.57 35.29 43.15" y="4.56" style="font-size: 22.33px; font-family: 'DejaVu Sans', 'Liberation Sans', sans-serif">eff</tspan><tspan x="51.88 78.59 98.87 119.15 139.43 159.71 169.84 193.65 203.78 213.92 224.11 243.3 263.7" y="-0.69" style="font-size: 31.9px; font-family: 'DejaVu Serif', 'Liberation Serif', serif">=1320 K, log </tspan><tspan x="273.84" y="-0.69" style="font-style: oblique; font-size: 31.9px; font-family: 'DejaVu Sans', 'Liberation Sans', sans-serif">g</tspan><tspan x="294.07 320.78 341.06 351.19 371.47 381.6 391.73 424.37 435.11 462.91 489.62 509.9 520.03 540.31 550.44 560.57 584.57 611.28 631.56 641.69 661.97 672.1" y="-0.69" style="font-size: 31.9px; font-family: 'DejaVu Serif', 'Liberation Serif', serif">=3.0, M/H=0.0, R=2.3 R</tspan><tspan x="696.41" y="4.56" style="font-size: 22.33px; font-family: 'DejaVu Sans', 'Liberation Sans', sans-serif">J</tspan></text></g></g><g id="line2d_33"><path d="M518.3 625.2L550.2 625.2L582.1 625.2" style="fill: none; stroke-dasharray: 23.68,10.24; stroke-dashoffset: 0; stroke: #ff4500; stroke-opacity: 0.8; stroke-width: 6.4"/></g><g id="text_20"><g transform="translate(607.65 636.40)"><text xml:space="preserve"><tspan x="0" y="-0.69" style="font-size: 31.9px; font-family: 'DejaVu Serif', 'Liberation Serif', serif">T</tspan><tspan x="21.57 35.29 43.15" y="4.56" style="font-size: 22.33px; font-family: 'DejaVu Sans', 'Liberation Sans', sans-serif">eff</tspan><tspan x="51.88 78.59 98.87 118.65 138.93 159.21 169.34 193.15 203.28 213.42 223.61 242.8 263.2" y="-0.69" style="font-size: 31.9px; font-family: 'DejaVu Serif', 'Liberation Serif', serif">=1385 K, log </tspan><tspan x="273.34" y="-0.69" style="font-style: oblique; font-size: 31.9px; font-family: 'DejaVu Sans', 'Liberation Sans', sans-serif">g</tspan><tspan x="293.57 320.28 340.56 350.69 370.97 381.1 391.23 423.87 434.61 462.41 489.12 509.4 519.53 539.81 549.94 560.07 584.07 610.78 631.06 640.07 660.35 670.48" y="-0.69" style="font-size: 31.9px; font-family: 'DejaVu Serif', 'Liberation Serif', serif">=5.5, M/H=0.0, R=1.8 R</tspan><tspan x="694.78" y="4.56" style="font-size: 22.33px; font-family: 'DejaVu Sans', 'Liberation Sans', sans-serif">J</tspan><tspan x="702.24 712.37 722.5" y="-0.69" style="font-size: 31.9px; font-family: 'DejaVu Serif', 'Liberation Serif', serif">, T</tspan><tspan x="744.07 758.23 764.43 776.06" y="4.56" style="font-size: 22.33px; font-family: 'DejaVu Sans', 'Liberation Sans', sans-serif">disk</tspan><tspan x="789.85 816.56 836.84 857.12 877.4 887.53 911.35 921.48 931.61" y="-0.69" style="font-size: 31.9px; font-family: 'DejaVu Serif', 'Liberation Serif', serif">=195 K, R</tspan><tspan x="955.92 970.08 976.28 987.9" y="4.56" style="font-size: 22.33px; font-family: 'DejaVu Sans', 'Liberation Sans', sans-serif">disk</tspan><tspan x="1001.7 1011.83 1038.54 1048.67 1068.95 1089.23 1109.51 1129.79 1139.92" y="-0.69" style="font-size: 31.9px; font-family: 'DejaVu Serif', 'Liberation Serif', serif"> = 1912 R</tspan><tspan x="1164.23" y="4.56" style="font-size: 22.33px; font-family: 'DejaVu Sans', 'Liberation Sans', sans-serif">J</tspan></text></g></g></g></g></g><defs><clipPath id="p7e7c0ee483"><rect x="110.4" y="12.9" width="1698.6" height="662.1"/></clipPath></defs></svg>

</body></html>
